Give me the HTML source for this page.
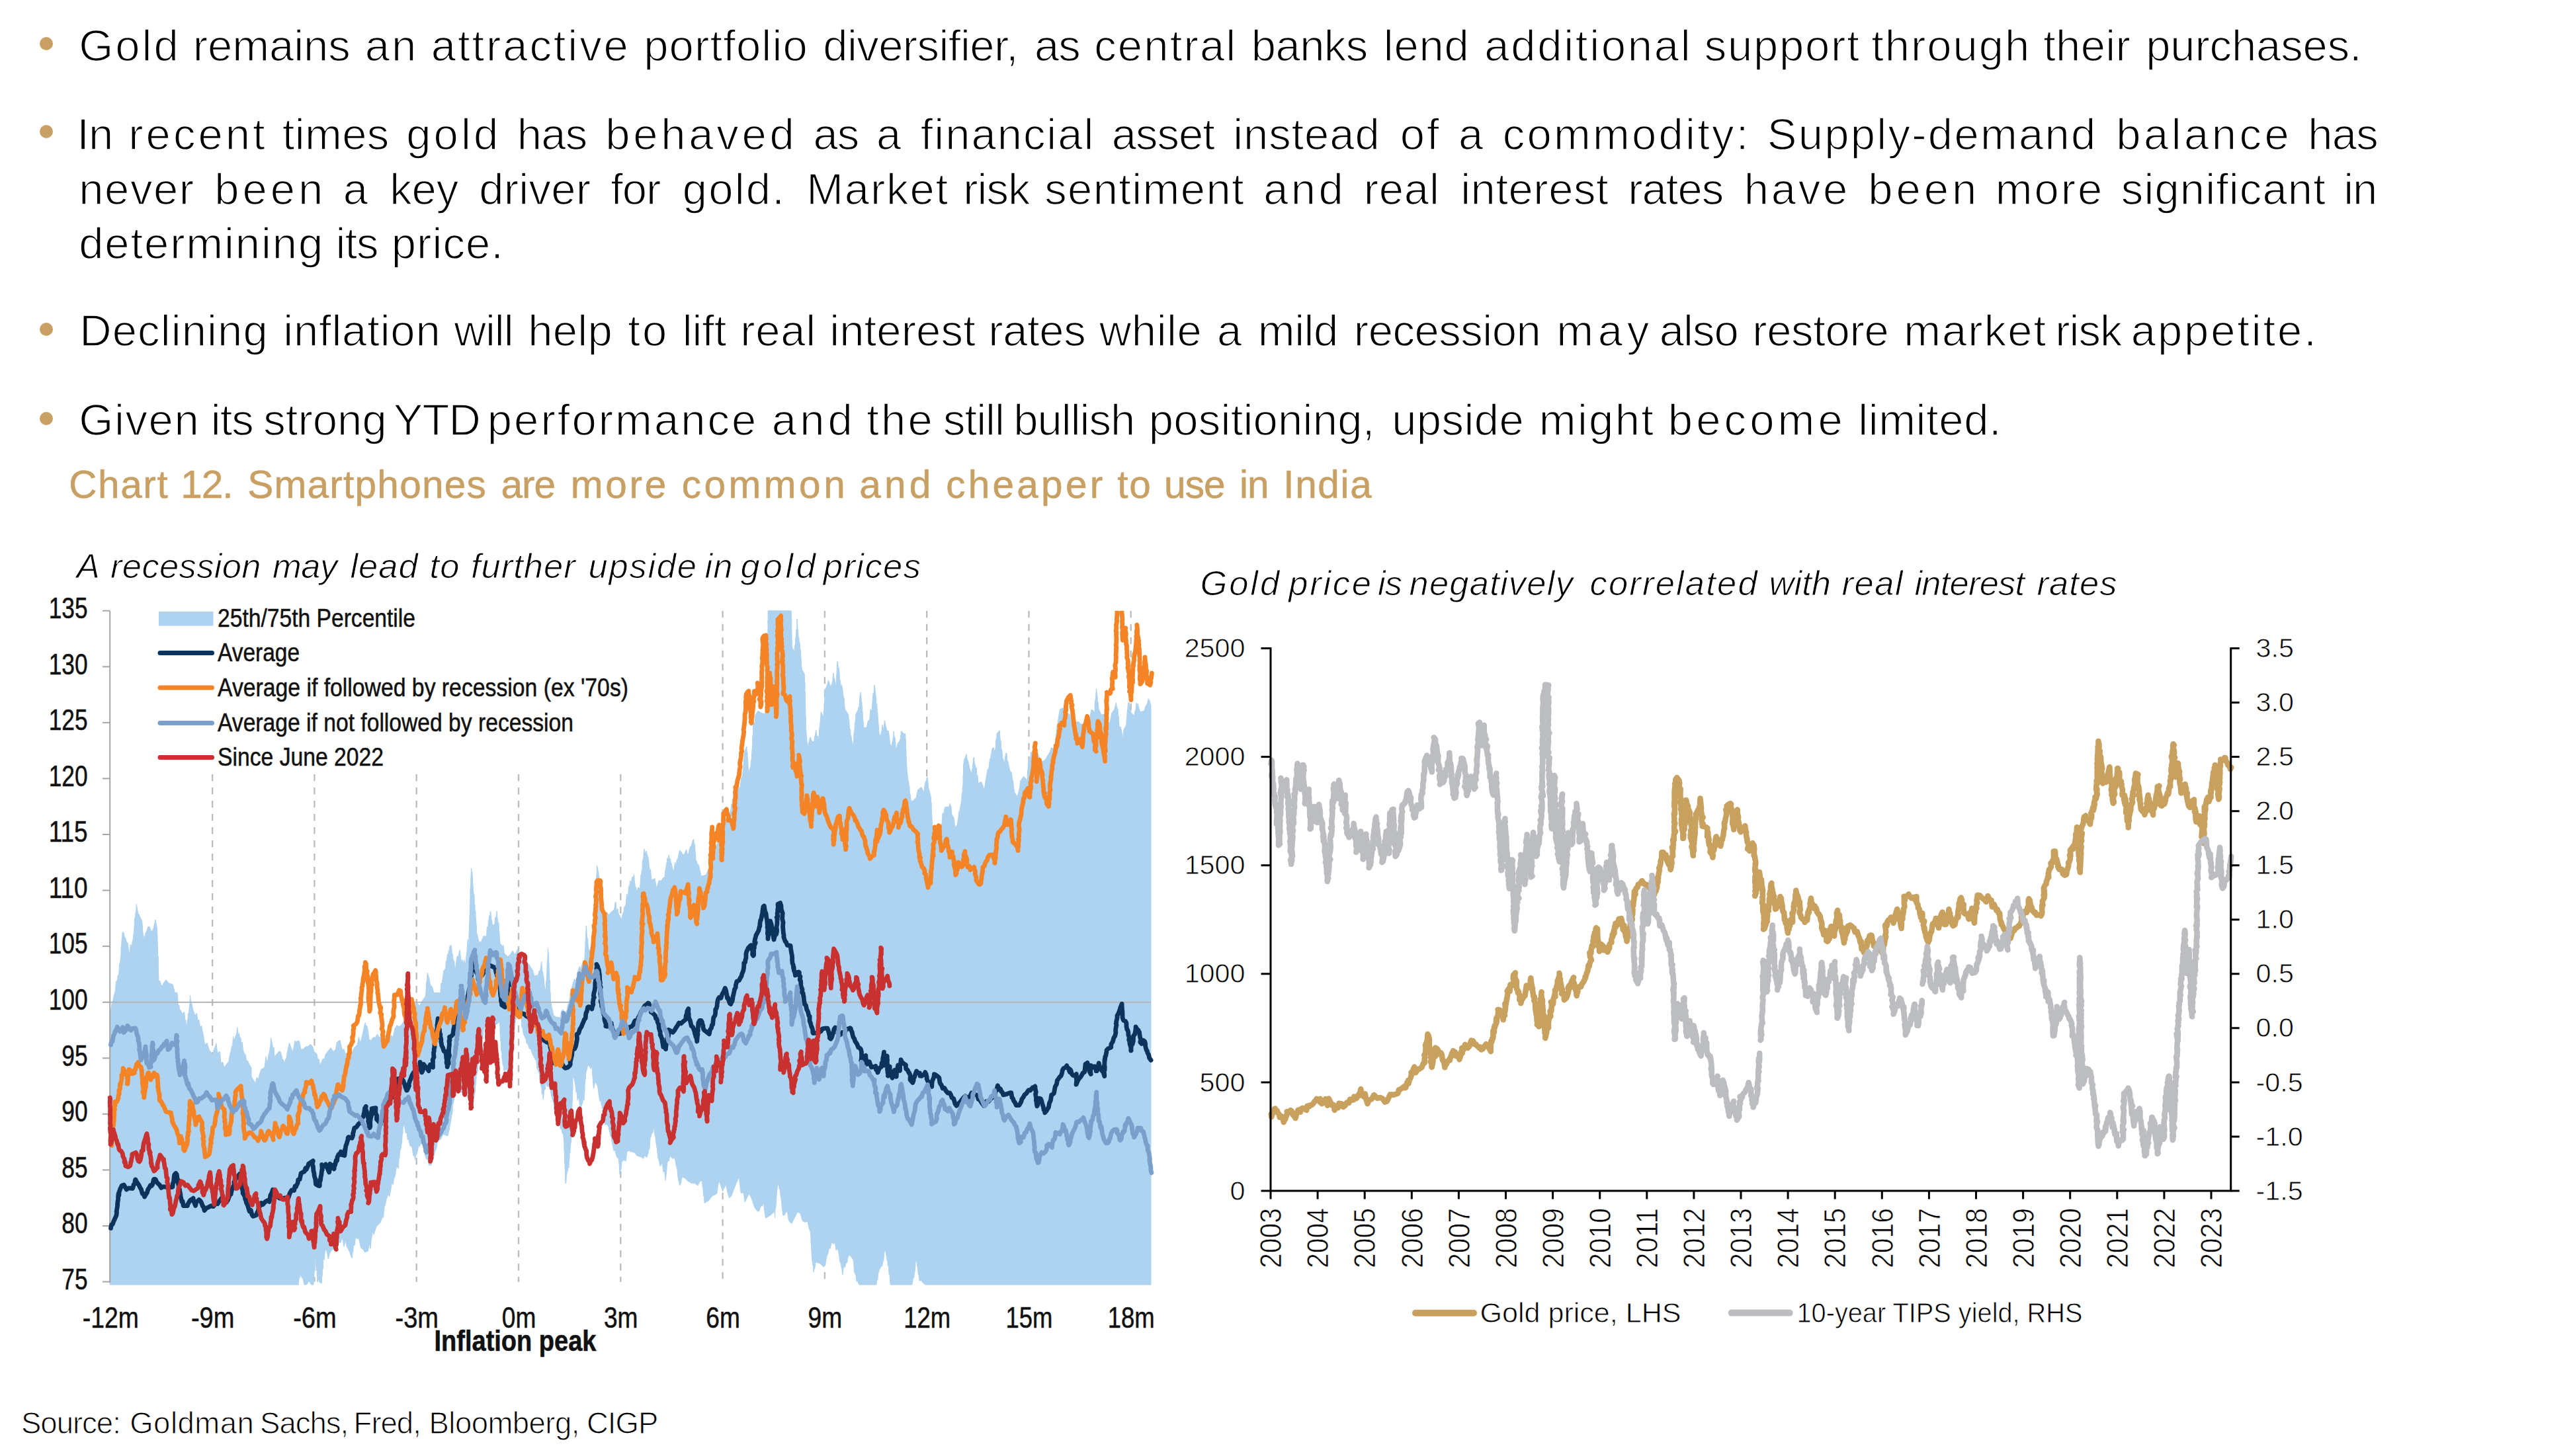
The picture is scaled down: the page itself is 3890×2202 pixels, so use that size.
<!DOCTYPE html>
<html><head><meta charset="utf-8"><title>Gold</title>
<style>
html,body{margin:0;padding:0;background:#fff;}
body{width:3890px;height:2202px;position:relative;overflow:hidden;font-family:"Liberation Sans",sans-serif;color:#000;}
.ln{position:absolute;white-space:nowrap;line-height:1;margin:0;padding:0;}
.L{position:absolute;left:0;width:3890px;height:1em;margin:0;padding:0;line-height:1;white-space:nowrap;}
.w{position:absolute;top:0;white-space:nowrap;line-height:1;}
.bul{position:absolute;width:20px;height:20px;border-radius:50%;background:#C9A063;}
svg{position:absolute;left:0;top:0;}
svg text{font-family:"Liberation Sans",sans-serif;}
</style></head><body>

<p class="L" style="top:34.5px;font-size:67px;color:#000;-webkit-text-stroke:1.5px #fff;"><span class="w" style="left:119.2px;letter-spacing:3.00px">Gold</span> <span class="w" style="left:291.8px;letter-spacing:-0.05px">remains</span> <span class="w" style="left:551.8px;letter-spacing:3.00px">an</span> <span class="w" style="left:651.8px;letter-spacing:2.91px">attractive</span> <span class="w" style="left:973.2px;letter-spacing:1.14px">portfolio</span> <span class="w" style="left:1244.2px;letter-spacing:-0.56px">diversifier,</span> <span class="w" style="left:1563.9px;letter-spacing:-1.00px">as</span> <span class="w" style="left:1654.2px;letter-spacing:2.15px">central</span> <span class="w" style="left:1891.8px;letter-spacing:-0.58px">banks</span> <span class="w" style="left:2091.8px;letter-spacing:0.77px">lend</span> <span class="w" style="left:2244.2px;letter-spacing:2.74px">additional</span> <span class="w" style="left:2576.8px;letter-spacing:1.75px">support</span> <span class="w" style="left:2829.2px;letter-spacing:1.96px">through</span> <span class="w" style="left:3089.2px;letter-spacing:0.30px">their</span> <span class="w" style="left:3244.2px;letter-spacing:-0.14px">purchases.</span></p>
<p class="L" style="top:169.3px;font-size:67px;color:#000;-webkit-text-stroke:1.5px #fff;"><span class="w" style="left:116.3px;letter-spacing:-1.00px">In</span> <span class="w" style="left:194.2px;letter-spacing:4.06px">recent</span> <span class="w" style="left:426.8px;letter-spacing:0.36px">times</span> <span class="w" style="left:614.2px;letter-spacing:4.10px">gold</span> <span class="w" style="left:781.8px;letter-spacing:-0.75px">has</span> <span class="w" style="left:915.2px;letter-spacing:4.74px">behaved</span> <span class="w" style="left:1229.4px;letter-spacing:-1.00px">as</span> <span class="w" style="left:1325.1px;letter-spacing:0.00px">a</span> <span class="w" style="left:1391.8px;letter-spacing:1.96px">financial</span> <span class="w" style="left:1680.7px;letter-spacing:-1.00px">asset</span> <span class="w" style="left:1864.2px;letter-spacing:0.91px">instead</span> <span class="w" style="left:2116.8px;letter-spacing:3.00px">of</span> <span class="w" style="left:2205.1px;letter-spacing:0.00px">a</span> <span class="w" style="left:2271.8px;letter-spacing:3.22px">commodity:</span> <span class="w" style="left:2671.8px;letter-spacing:2.27px">Supply-demand</span> <span class="w" style="left:3199.2px;letter-spacing:4.47px">balance</span> <span class="w" style="left:3489.2px;letter-spacing:-0.75px">has</span></p>
<p class="L" style="top:252.3px;font-size:67px;color:#000;-webkit-text-stroke:1.5px #fff;"><span class="w" style="left:119.2px;letter-spacing:1.59px">never</span> <span class="w" style="left:324.2px;letter-spacing:4.98px">been</span> <span class="w" style="left:518.8px;letter-spacing:0.00px">a</span> <span class="w" style="left:589.2px;letter-spacing:-0.12px">key</span> <span class="w" style="left:724.2px;letter-spacing:0.29px">driver</span> <span class="w" style="left:923.2px;letter-spacing:-1.00px">for</span> <span class="w" style="left:1031.8px;letter-spacing:2.17px">gold.</span> <span class="w" style="left:1219.2px;letter-spacing:1.85px">Market</span> <span class="w" style="left:1456.3px;letter-spacing:-1.00px">risk</span> <span class="w" style="left:1579.2px;letter-spacing:1.38px">sentiment</span> <span class="w" style="left:1910.2px;letter-spacing:4.34px">and</span> <span class="w" style="left:2061.8px;letter-spacing:0.75px">real</span> <span class="w" style="left:2208.2px;letter-spacing:0.54px">interest</span> <span class="w" style="left:2461.3px;letter-spacing:-1.00px">rates</span> <span class="w" style="left:2636.8px;letter-spacing:3.73px">have</span> <span class="w" style="left:2824.2px;letter-spacing:4.98px">been</span> <span class="w" style="left:3016.8px;letter-spacing:2.96px">more</span> <span class="w" style="left:3206.8px;letter-spacing:1.11px">significant</span> <span class="w" style="left:3543.2px;letter-spacing:-1.00px">in</span></p>
<p class="L" style="top:334.3px;font-size:67px;color:#000;-webkit-text-stroke:1.5px #fff;"><span class="w" style="left:119.2px;letter-spacing:1.89px">determining</span> <span class="w" style="left:507.5px;letter-spacing:-1.00px">its</span> <span class="w" style="left:591.8px;letter-spacing:1.04px">price.</span></p>
<p class="L" style="top:466.3px;font-size:67px;color:#000;-webkit-text-stroke:1.5px #fff;"><span class="w" style="left:120.2px;letter-spacing:1.11px">Declining</span> <span class="w" style="left:428.2px;letter-spacing:0.82px">inflation</span> <span class="w" style="left:686.5px;letter-spacing:-1.00px">will</span> <span class="w" style="left:798.2px;letter-spacing:0.27px">help</span> <span class="w" style="left:949.2px;letter-spacing:3.12px">to</span> <span class="w" style="left:1031.8px;letter-spacing:-0.17px">lift</span> <span class="w" style="left:1119.2px;letter-spacing:0.75px">real</span> <span class="w" style="left:1254.2px;letter-spacing:0.12px">interest</span> <span class="w" style="left:1494.2px;letter-spacing:-0.36px">rates</span> <span class="w" style="left:1661.9px;letter-spacing:0.55px">while</span> <span class="w" style="left:1840.1px;letter-spacing:0.00px">a</span> <span class="w" style="left:1901.8px;letter-spacing:-0.46px">mild</span> <span class="w" style="left:2046.8px;letter-spacing:-0.47px">recession</span> <span class="w" style="left:2353.2px;letter-spacing:6.72px">may</span> <span class="w" style="left:2508.8px;letter-spacing:-1.00px">also</span> <span class="w" style="left:2649.2px;letter-spacing:-0.33px">restore</span> <span class="w" style="left:2878.2px;letter-spacing:2.05px">market</span> <span class="w" style="left:3107.3px;letter-spacing:-1.00px">risk</span> <span class="w" style="left:3221.8px;letter-spacing:2.87px">appetite.</span></p>
<p class="L" style="top:600.9px;font-size:67px;color:#000;-webkit-text-stroke:1.5px #fff;"><span class="w" style="left:119.2px;letter-spacing:1.62px">Given</span> <span class="w" style="left:318.8px;letter-spacing:-1.00px">its</span> <span class="w" style="left:398.2px;letter-spacing:0.06px">strong</span> <span class="w" style="left:594.8px;letter-spacing:-1.00px">YTD</span> <span class="w" style="left:736.8px;letter-spacing:3.04px">performance</span> <span class="w" style="left:1166.8px;letter-spacing:5.09px">and</span> <span class="w" style="left:1310.2px;letter-spacing:3.19px">the</span> <span class="w" style="left:1426.1px;letter-spacing:-1.00px">still</span> <span class="w" style="left:1532.3px;letter-spacing:-1.00px">bullish</span> <span class="w" style="left:1736.8px;letter-spacing:0.23px">positioning,</span> <span class="w" style="left:2104.2px;letter-spacing:0.41px">upside</span> <span class="w" style="left:2326.8px;letter-spacing:2.30px">might</span> <span class="w" style="left:2521.8px;letter-spacing:5.12px">become</span> <span class="w" style="left:2809.2px;letter-spacing:0.61px">limited.</span></p>
<div class="bul" style="left:59.8px;top:55.5px"></div>
<div class="bul" style="left:59.8px;top:189.2px"></div>
<div class="bul" style="left:59.8px;top:488.4px"></div>
<div class="bul" style="left:59.8px;top:623.1px"></div>
<p class="L" style="top:703.8px;font-size:58.5px;color:#C9A063;-webkit-text-stroke:0.6px #C9A063;"><span class="w" style="left:104.3px;letter-spacing:1.58px">Chart</span> <span class="w" style="left:273.3px;letter-spacing:-1.00px">12.</span> <span class="w" style="left:374.3px;letter-spacing:1.25px">Smartphones</span> <span class="w" style="left:757.5px;letter-spacing:-1.00px">are</span> <span class="w" style="left:862.8px;letter-spacing:3.70px">more</span> <span class="w" style="left:1030.8px;letter-spacing:4.52px">common</span> <span class="w" style="left:1299.3px;letter-spacing:5.14px">and</span> <span class="w" style="left:1430.3px;letter-spacing:4.24px">cheaper</span> <span class="w" style="left:1689.3px;letter-spacing:1.59px">to</span> <span class="w" style="left:1760.1px;letter-spacing:-1.00px">use</span> <span class="w" style="left:1874.0px;letter-spacing:-1.00px">in</span> <span class="w" style="left:1940.3px;letter-spacing:1.63px">India</span></p>
<p class="L" style="top:830.1px;font-size:52.5px;color:#000;-webkit-text-stroke:1.0px #fff;font-style:italic;"><span class="w" style="left:115.8px;letter-spacing:0.00px">A</span> <span class="w" style="left:167.0px;letter-spacing:0.35px">recession</span> <span class="w" style="left:412.0px;letter-spacing:-0.44px">may</span> <span class="w" style="left:529.5px;letter-spacing:0.94px">lead</span> <span class="w" style="left:649.5px;letter-spacing:1.19px">to</span> <span class="w" style="left:712.0px;letter-spacing:0.99px">further</span> <span class="w" style="left:889.5px;letter-spacing:1.76px">upside</span> <span class="w" style="left:1065.5px;letter-spacing:1.12px">in</span> <span class="w" style="left:1119.5px;letter-spacing:4.77px">gold</span> <span class="w" style="left:1244.8px;letter-spacing:1.43px">prices</span></p>
<p class="L" style="top:855.9px;font-size:52.5px;color:#000;-webkit-text-stroke:1.0px #fff;font-style:italic;"><span class="w" style="left:1814.5px;letter-spacing:2.90px">Gold</span> <span class="w" style="left:1948.3px;letter-spacing:2.72px">price</span> <span class="w" style="left:2083.0px;letter-spacing:-1.00px">is</span> <span class="w" style="left:2130.5px;letter-spacing:1.22px">negatively</span> <span class="w" style="left:2403.5px;letter-spacing:2.18px">correlated</span> <span class="w" style="left:2674.5px;letter-spacing:0.04px">with</span> <span class="w" style="left:2784.5px;letter-spacing:1.58px">real</span> <span class="w" style="left:2894.5px;letter-spacing:-0.79px">interest</span> <span class="w" style="left:3079.5px;letter-spacing:1.08px">rates</span></p>
<p class="L" style="top:2130.3px;font-size:45.5px;color:#000;-webkit-text-stroke:1.0px #fff;"><span class="w" style="left:32.0px;letter-spacing:-1.00px">Source:</span> <span class="w" style="left:196.2px;letter-spacing:0.50px">Goldman</span> <span class="w" style="left:393.1px;letter-spacing:-1.00px">Sachs,</span> <span class="w" style="left:534.6px;letter-spacing:-1.00px">Fred,</span> <span class="w" style="left:648.5px;letter-spacing:-0.54px">Bloomberg,</span> <span class="w" style="left:887.0px;letter-spacing:-1.00px">CIGP</span></p>
<svg width="3890" height="2202" viewBox="0 0 3890 2202">
<line x1="321.1" y1="1171.0" x2="321.1" y2="1938.7" stroke="#bcbcbc" stroke-width="2.3" stroke-dasharray="10.5 9.5"/>
<line x1="475.4" y1="1171.0" x2="475.4" y2="1938.7" stroke="#bcbcbc" stroke-width="2.3" stroke-dasharray="10.5 9.5"/>
<line x1="629.7" y1="1171.0" x2="629.7" y2="1938.7" stroke="#bcbcbc" stroke-width="2.3" stroke-dasharray="10.5 9.5"/>
<line x1="784.0" y1="1171.0" x2="784.0" y2="1938.7" stroke="#bcbcbc" stroke-width="2.3" stroke-dasharray="10.5 9.5"/>
<line x1="938.3" y1="1171.0" x2="938.3" y2="1938.7" stroke="#bcbcbc" stroke-width="2.3" stroke-dasharray="10.5 9.5"/>
<line x1="1092.6" y1="923.7" x2="1092.6" y2="1938.7" stroke="#bcbcbc" stroke-width="2.3" stroke-dasharray="10.5 9.5"/>
<line x1="1246.9" y1="923.7" x2="1246.9" y2="1938.7" stroke="#bcbcbc" stroke-width="2.3" stroke-dasharray="10.5 9.5"/>
<line x1="1401.2" y1="923.7" x2="1401.2" y2="1938.7" stroke="#bcbcbc" stroke-width="2.3" stroke-dasharray="10.5 9.5"/>
<line x1="1555.5" y1="923.7" x2="1555.5" y2="1938.7" stroke="#bcbcbc" stroke-width="2.3" stroke-dasharray="10.5 9.5"/>
<line x1="1709.7" y1="923.7" x2="1709.7" y2="1938.7" stroke="#bcbcbc" stroke-width="2.3" stroke-dasharray="10.5 9.5"/>
<path d="M166.2,1529.0 L166.2,1529.0 L167.5,1528.3 L168.5,1520.9 L169.5,1516.8 L170.5,1514.5 L171.5,1509.4 L172.5,1504.6 L173.5,1502.5 L174.5,1496.7 L175.5,1484.4 L176.5,1484.4 L177.5,1481.3 L178.1,1475.2 L178.8,1474.8 L179.4,1475.3 L180.0,1469.4 L180.6,1458.6 L181.2,1456.8 L181.9,1453.9 L182.5,1445.7 L182.8,1449.3 L183.0,1441.9 L183.2,1431.8 L183.5,1437.6 L183.8,1427.9 L184.0,1422.1 L184.2,1420.8 L184.5,1419.9 L184.8,1416.3 L185.0,1410.3 L186.7,1409.5 L188.3,1416.9 L190.0,1419.6 L191.6,1426.5 L193.1,1425.6 L194.6,1438.0 L196.2,1443.5 L197.2,1428.2 L198.2,1429.9 L199.2,1431.4 L200.2,1424.1 L201.2,1420.5 L201.6,1417.0 L202.0,1412.6 L202.4,1411.0 L202.9,1404.2 L203.3,1395.9 L203.7,1387.7 L204.1,1393.4 L204.5,1391.3 L204.9,1381.0 L205.4,1379.6 L205.8,1377.2 L206.2,1367.5 L207.5,1374.1 L208.7,1382.3 L210.0,1382.4 L211.9,1387.3 L213.8,1390.5 L214.4,1392.5 L215.0,1396.2 L215.7,1407.5 L216.3,1412.8 L216.9,1414.9 L217.5,1421.0 L219.1,1415.3 L220.7,1409.6 L222.2,1406.9 L223.8,1401.3 L226.3,1402.0 L228.8,1409.7 L231.9,1404.7 L235.0,1391.2 L237.5,1404.9 L237.6,1408.8 L237.8,1414.3 L237.9,1414.2 L238.0,1421.2 L238.1,1423.7 L238.2,1427.8 L238.4,1430.3 L238.5,1431.9 L238.6,1443.3 L238.8,1449.2 L238.9,1446.8 L239.0,1454.2 L239.1,1446.6 L239.2,1454.9 L239.4,1458.8 L239.5,1472.2 L239.6,1472.7 L239.8,1476.5 L239.9,1485.4 L240.0,1483.0 L241.9,1483.7 L243.8,1490.6 L245.7,1490.2 L247.5,1486.2 L251.2,1481.8 L255.0,1486.8 L261.2,1488.9 L264.4,1501.6 L267.5,1500.7 L268.3,1504.2 L269.2,1517.9 L270.0,1522.0 L270.8,1520.0 L271.7,1529.8 L272.5,1526.9 L275.6,1532.9 L278.8,1530.4 L279.7,1543.6 L280.6,1542.1 L281.6,1550.7 L282.5,1551.9 L283.0,1546.3 L283.5,1541.6 L284.0,1541.6 L284.5,1532.4 L285.0,1533.2 L285.5,1530.6 L286.0,1525.4 L286.5,1523.1 L287.0,1516.3 L287.5,1505.2 L288.5,1516.7 L289.5,1517.0 L290.5,1520.9 L291.5,1525.8 L292.5,1529.2 L295.0,1536.3 L297.5,1532.1 L299.1,1544.0 L300.6,1541.9 L302.2,1550.5 L303.8,1554.3 L304.7,1551.3 L305.6,1557.1 L306.5,1561.3 L307.3,1564.5 L308.2,1570.7 L309.1,1576.3 L310.0,1580.1 L313.1,1577.2 L316.2,1588.0 L318.1,1589.7 L320.0,1594.9 L321.7,1594.1 L323.3,1587.6 L325.0,1583.8 L326.9,1578.0 L328.8,1593.6 L330.6,1591.1 L332.5,1590.3 L334.1,1608.7 L335.6,1606.4 L337.2,1607.3 L338.8,1614.7 L345.0,1606.2 L346.1,1605.1 L347.1,1597.2 L348.2,1592.4 L349.3,1589.7 L350.4,1582.1 L351.4,1584.8 L352.5,1567.4 L353.8,1574.2 L355.0,1570.0 L356.3,1566.3 L357.5,1564.1 L358.8,1554.0 L360.0,1566.8 L361.3,1562.2 L362.5,1569.1 L363.8,1569.1 L365.0,1580.1 L366.2,1576.0 L367.5,1588.3 L368.8,1591.8 L370.0,1594.1 L371.2,1594.7 L372.5,1603.3 L375.0,1605.2 L377.5,1611.2 L380.0,1614.7 L380.0,1621.4 L380.0,1620.4 L380.0,1628.0 L383.1,1633.3 L386.2,1638.1 L388.3,1628.9 L390.4,1632.9 L392.5,1624.3 L395.0,1617.1 L397.5,1616.2 L400.0,1614.1 L402.1,1598.1 L404.1,1608.7 L406.2,1594.2 L406.7,1596.5 L407.3,1591.0 L407.8,1588.6 L408.4,1583.9 L408.9,1581.0 L409.5,1569.5 L410.0,1571.6 L411.0,1576.7 L412.0,1580.2 L413.0,1589.9 L414.0,1584.2 L415.0,1598.1 L422.5,1589.6 L424.0,1590.5 L425.5,1595.2 L427.0,1602.5 L428.5,1602.6 L430.0,1608.4 L431.5,1602.2 L433.0,1599.9 L434.5,1590.8 L436.0,1583.4 L437.5,1577.0 L442.5,1591.0 L444.2,1583.8 L445.8,1574.0 L447.5,1575.8 L450.0,1574.2 L452.5,1574.3 L455.0,1587.3 L458.8,1586.3 L462.5,1582.8 L465.8,1582.8 L469.2,1579.1 L472.5,1582.4 L474.2,1588.1 L475.8,1593.9 L477.5,1592.2 L479.1,1594.6 L480.6,1602.8 L482.2,1601.6 L483.8,1611.4 L486.0,1606.7 L488.1,1601.3 L490.3,1601.5 L492.5,1594.1 L500.0,1584.5 L503.8,1590.4 L507.5,1587.2 L509.2,1576.7 L510.8,1575.4 L512.5,1573.6 L514.2,1573.5 L515.8,1581.3 L517.5,1587.5 L520.0,1586.8 L522.5,1593.9 L530.0,1593.6 L532.5,1590.9 L535.0,1585.6 L537.5,1582.4 L540.0,1580.4 L542.5,1568.2 L543.9,1573.6 L545.3,1577.2 L546.7,1569.7 L548.1,1564.8 L549.6,1557.2 L551.0,1550.2 L552.4,1546.7 L553.8,1553.9 L554.7,1550.9 L555.6,1555.2 L556.5,1560.3 L557.3,1566.1 L558.2,1574.1 L559.1,1572.3 L560.0,1575.0 L562.5,1570.9 L565.0,1568.6 L567.5,1569.6 L570.0,1564.0 L573.8,1568.7 L577.5,1568.8 L581.2,1573.6 L585.0,1579.5 L588.0,1571.3 L591.0,1565.3 L594.0,1568.8 L597.0,1555.2 L600.0,1550.8 L603.3,1552.4 L606.7,1550.4 L610.0,1545.2 L613.1,1540.8 L616.2,1543.8 L619.4,1538.8 L622.5,1537.1 L624.0,1537.5 L625.5,1527.1 L627.0,1520.5 L628.5,1517.3 L630.0,1515.8 L634.2,1521.3 L638.3,1514.0 L642.5,1507.5 L642.9,1510.3 L643.2,1506.9 L643.6,1502.5 L644.0,1499.7 L644.4,1489.7 L644.7,1484.9 L645.1,1486.4 L645.5,1482.2 L645.8,1476.8 L646.2,1471.1 L647.5,1475.8 L648.7,1478.4 L650.0,1487.2 L651.2,1491.2 L652.8,1490.8 L654.4,1496.0 L655.9,1501.4 L657.5,1501.6 L665.0,1501.5 L665.8,1502.4 L666.7,1487.0 L667.5,1488.5 L668.3,1486.1 L669.2,1479.9 L670.0,1474.5 L670.8,1467.6 L671.7,1469.3 L672.5,1465.5 L673.5,1467.7 L674.4,1453.3 L675.4,1453.4 L676.4,1443.2 L677.3,1444.0 L678.3,1438.3 L679.3,1436.4 L680.2,1430.4 L681.2,1430.2 L681.9,1429.4 L682.6,1432.2 L683.3,1441.6 L684.0,1441.8 L684.7,1448.0 L685.4,1451.6 L686.1,1457.0 L686.8,1452.9 L687.5,1464.9 L688.8,1462.9 L690.0,1453.5 L691.2,1446.0 L692.5,1447.3 L693.8,1442.6 L695.0,1436.7 L696.5,1448.8 L698.0,1455.3 L699.5,1451.1 L701.0,1458.6 L702.5,1451.6 L703.3,1457.4 L704.1,1459.5 L704.9,1446.8 L705.6,1442.8 L706.4,1432.8 L707.2,1420.7 L708.0,1427.1 L708.8,1431.5 L708.9,1419.1 L709.1,1413.0 L709.2,1414.2 L709.3,1408.2 L709.5,1407.1 L709.6,1399.4 L709.7,1395.3 L709.9,1397.0 L710.0,1384.5 L710.1,1385.0 L710.3,1385.4 L710.4,1378.9 L710.5,1371.2 L710.6,1371.2 L710.8,1362.7 L710.9,1360.0 L711.0,1354.4 L711.2,1344.2 L711.3,1350.0 L711.4,1342.4 L711.6,1345.2 L711.7,1338.2 L711.8,1331.7 L712.0,1325.1 L712.1,1323.3 L712.2,1323.5 L712.4,1313.2 L712.5,1313.2 L712.9,1317.2 L713.2,1318.5 L713.6,1318.1 L714.0,1322.1 L714.4,1329.6 L714.7,1338.5 L715.1,1338.1 L715.5,1349.0 L715.8,1348.8 L716.2,1352.4 L716.5,1364.4 L716.9,1352.9 L717.2,1365.5 L717.5,1370.5 L717.9,1368.6 L718.2,1380.1 L718.5,1377.1 L718.9,1378.1 L719.2,1387.5 L719.5,1390.7 L719.9,1396.0 L720.2,1399.2 L720.5,1408.3 L720.9,1415.8 L721.2,1412.5 L724.4,1425.6 L727.5,1423.9 L731.2,1415.5 L735.0,1416.4 L735.7,1413.4 L736.4,1401.6 L737.1,1404.7 L737.8,1401.4 L738.4,1394.9 L739.1,1390.1 L739.8,1384.5 L740.5,1389.2 L741.2,1378.4 L742.0,1380.4 L742.9,1390.6 L743.7,1393.3 L744.5,1400.4 L745.4,1397.9 L746.2,1404.2 L747.0,1397.8 L747.9,1397.8 L748.7,1387.3 L749.5,1388.0 L750.4,1385.9 L751.2,1377.8 L751.7,1387.7 L752.1,1388.7 L752.6,1399.4 L753.0,1399.5 L753.5,1402.3 L753.9,1394.7 L754.4,1409.4 L754.8,1409.4 L755.3,1416.1 L755.7,1422.9 L756.2,1428.0 L757.8,1428.3 L759.4,1431.9 L760.9,1429.3 L762.5,1441.6 L767.5,1447.0 L771.2,1443.8 L775.0,1437.9 L778.8,1444.1 L782.5,1435.4 L787.5,1448.2 L792.5,1445.7 L795.0,1453.3 L797.5,1455.8 L800.0,1458.7 L802.5,1463.4 L805.0,1466.6 L808.1,1476.6 L811.2,1474.5 L813.1,1476.2 L815.0,1468.6 L816.9,1467.1 L818.8,1454.1 L819.5,1466.8 L820.2,1468.9 L820.9,1472.5 L821.6,1475.6 L822.2,1480.2 L822.9,1488.7 L823.6,1493.0 L824.3,1496.1 L825.0,1499.7 L825.3,1495.0 L825.5,1484.6 L825.8,1487.1 L826.0,1482.6 L826.3,1480.8 L826.5,1476.1 L826.8,1469.8 L827.0,1464.6 L827.3,1455.5 L827.5,1457.2 L827.8,1453.1 L828.0,1448.4 L828.3,1435.7 L828.5,1434.3 L828.8,1445.8 L829.0,1441.0 L829.2,1443.6 L829.4,1440.9 L829.6,1454.1 L829.8,1454.8 L830.0,1459.3 L830.2,1463.3 L830.4,1469.0 L830.6,1475.9 L830.7,1477.2 L830.9,1481.9 L831.1,1492.4 L831.3,1482.8 L831.5,1499.0 L831.7,1500.5 L831.9,1499.3 L832.1,1502.7 L832.3,1506.4 L832.5,1520.7 L833.1,1516.4 L833.8,1521.4 L835.3,1527.5 L836.9,1536.1 L838.5,1536.0 L840.0,1537.9 L847.5,1539.1 L848.7,1528.8 L850.0,1528.8 L851.2,1526.7 L853.1,1530.7 L855.0,1531.5 L856.0,1529.4 L857.0,1527.9 L858.0,1521.4 L859.0,1518.1 L860.0,1516.0 L860.8,1514.4 L861.7,1504.4 L862.5,1498.7 L863.3,1503.5 L864.2,1495.2 L865.0,1491.8 L868.1,1480.8 L871.2,1483.1 L872.5,1477.4 L873.7,1471.3 L875.0,1465.0 L876.2,1461.3 L877.5,1466.6 L880.6,1456.4 L883.8,1452.9 L884.0,1449.4 L884.2,1443.2 L884.5,1437.8 L884.7,1438.8 L884.9,1429.7 L885.1,1423.6 L885.3,1424.0 L885.5,1419.2 L885.8,1407.2 L886.0,1408.6 L886.2,1400.1 L886.7,1404.5 L887.2,1414.4 L887.6,1418.1 L888.1,1426.5 L888.6,1419.5 L889.0,1427.6 L889.5,1433.4 L890.0,1434.9 L891.7,1439.8 L893.3,1430.1 L895.0,1426.1 L895.4,1424.9 L895.8,1409.8 L896.3,1410.9 L896.7,1407.7 L897.1,1413.3 L897.5,1397.6 L898.0,1389.0 L898.4,1394.4 L898.8,1382.5 L899.0,1387.0 L899.2,1379.4 L899.4,1381.2 L899.6,1375.9 L899.8,1368.8 L900.0,1369.0 L900.2,1361.4 L900.4,1355.8 L900.6,1346.9 L900.9,1341.9 L901.1,1345.0 L901.3,1343.9 L901.5,1328.2 L901.7,1333.5 L901.9,1322.2 L902.1,1323.8 L902.3,1318.8 L902.5,1308.8 L903.7,1314.1 L905.0,1321.9 L906.2,1329.9 L906.6,1330.6 L907.0,1340.3 L907.3,1341.4 L907.7,1350.4 L908.1,1351.3 L908.5,1352.1 L908.9,1353.1 L909.2,1361.7 L909.6,1367.3 L910.0,1373.5 L911.5,1372.4 L913.0,1375.8 L914.5,1379.1 L916.0,1385.0 L917.5,1379.4 L920.6,1384.1 L923.8,1379.3 L925.3,1379.0 L926.9,1376.9 L928.5,1376.1 L930.0,1366.4 L931.0,1364.1 L932.0,1375.2 L933.0,1379.0 L934.0,1374.2 L935.0,1381.6 L940.0,1391.0 L941.0,1384.1 L942.0,1380.5 L943.0,1379.6 L944.0,1370.6 L945.0,1374.0 L945.9,1368.8 L946.9,1359.7 L947.8,1351.8 L948.8,1355.3 L949.7,1354.3 L950.6,1339.7 L951.6,1343.9 L952.5,1331.9 L954.2,1335.1 L955.8,1326.5 L957.5,1326.8 L958.5,1322.0 L959.5,1334.7 L960.5,1340.6 L961.5,1341.7 L962.5,1348.5 L965.0,1341.9 L967.5,1344.4 L968.0,1337.0 L968.5,1330.3 L969.0,1323.2 L969.4,1327.6 L969.9,1320.3 L970.4,1315.4 L970.9,1314.4 L971.4,1302.8 L971.9,1299.8 L972.3,1302.3 L972.8,1297.8 L973.3,1288.5 L973.8,1283.9 L975.3,1291.4 L976.9,1286.9 L978.5,1292.4 L980.0,1297.3 L980.8,1303.1 L981.7,1315.2 L982.5,1317.4 L983.3,1314.4 L984.2,1322.5 L985.0,1330.8 L987.5,1329.8 L990.0,1328.5 L992.5,1343.7 L996.2,1331.8 L1000.0,1332.1 L1002.5,1327.5 L1005.0,1326.7 L1005.8,1315.9 L1006.5,1316.1 L1007.3,1307.9 L1008.1,1304.9 L1008.9,1297.4 L1009.7,1301.7 L1010.4,1298.2 L1011.2,1292.7 L1012.2,1300.2 L1013.3,1298.3 L1014.4,1305.0 L1015.4,1306.0 L1016.5,1312.4 L1017.5,1316.2 L1019.0,1315.7 L1020.5,1304.4 L1022.0,1308.2 L1023.5,1299.5 L1025.0,1298.4 L1027.5,1286.0 L1030.0,1288.2 L1032.5,1292.9 L1035.0,1291.3 L1037.5,1284.8 L1040.0,1294.6 L1041.3,1289.5 L1042.5,1283.3 L1043.8,1280.0 L1045.0,1280.2 L1046.3,1275.4 L1047.5,1270.5 L1048.8,1269.1 L1049.3,1274.7 L1049.7,1277.4 L1050.2,1276.8 L1050.7,1281.0 L1051.1,1290.7 L1051.6,1289.3 L1052.0,1302.2 L1052.5,1301.0 L1054.4,1306.5 L1056.2,1308.0 L1058.1,1315.8 L1060.0,1325.0 L1067.5,1323.2 L1071.2,1314.2 L1075.0,1320.4 L1075.6,1306.0 L1076.3,1299.2 L1076.9,1295.0 L1077.5,1302.4 L1078.2,1292.1 L1078.8,1291.7 L1080.3,1284.3 L1081.9,1283.4 L1083.4,1277.8 L1085.0,1274.3 L1086.5,1270.4 L1088.0,1264.7 L1089.6,1262.9 L1091.1,1259.8 L1092.7,1249.3 L1094.2,1253.9 L1095.8,1247.2 L1097.3,1240.0 L1098.8,1240.9 L1100.4,1228.9 L1101.9,1241.2 L1103.5,1228.5 L1105.0,1224.4 L1105.6,1216.2 L1106.2,1222.9 L1106.9,1216.0 L1107.5,1208.0 L1108.1,1208.6 L1108.7,1203.1 L1109.3,1194.4 L1110.0,1189.9 L1110.6,1188.9 L1111.2,1184.6 L1114.3,1182.4 L1117.5,1192.7 L1119.2,1189.4 L1120.8,1175.4 L1122.5,1176.4 L1122.9,1167.9 L1123.3,1167.6 L1123.7,1162.6 L1124.1,1156.1 L1124.6,1149.0 L1125.0,1147.4 L1125.4,1142.5 L1125.8,1137.2 L1126.2,1135.3 L1128.8,1129.1 L1129.2,1135.1 L1129.5,1141.9 L1129.9,1137.6 L1130.3,1146.7 L1130.7,1148.2 L1131.0,1157.0 L1131.4,1165.7 L1131.8,1169.9 L1132.1,1164.4 L1132.5,1176.5 L1133.1,1171.3 L1133.7,1162.4 L1134.3,1160.6 L1135.0,1158.6 L1135.6,1149.7 L1136.2,1149.5 L1136.4,1146.7 L1136.6,1139.8 L1136.8,1138.0 L1137.1,1133.5 L1137.3,1135.5 L1137.5,1128.7 L1137.7,1121.3 L1137.9,1114.1 L1138.2,1110.3 L1138.4,1110.2 L1138.6,1097.5 L1138.8,1098.5 L1139.5,1092.0 L1140.3,1094.0 L1141.0,1097.0 L1141.8,1083.5 L1142.5,1080.5 L1146.2,1074.9 L1150.0,1077.7 L1155.0,1079.8 L1160.0,1075.1 L1160.0,1074.4 L1160.1,1069.0 L1160.1,1067.9 L1160.1,1062.8 L1160.2,1052.4 L1160.2,1055.0 L1160.2,1044.9 L1160.3,1041.8 L1160.3,1042.5 L1160.3,1028.7 L1160.3,1035.2 L1160.4,1026.1 L1160.4,1021.2 L1160.4,1022.2 L1160.5,1018.7 L1160.5,1006.6 L1160.5,1004.3 L1160.6,1003.0 L1160.6,1001.2 L1160.6,988.3 L1160.7,992.7 L1160.7,980.5 L1160.7,981.8 L1160.8,973.9 L1160.8,967.9 L1160.8,972.2 L1160.9,964.9 L1160.9,968.5 L1160.9,957.9 L1160.9,951.7 L1161.0,951.5 L1161.0,952.8 L1161.0,939.2 L1161.1,942.3 L1161.1,932.5 L1161.1,927.4 L1161.2,924.2 L1161.2,923.7 L1165.6,923.7 L1170.0,923.7 L1174.3,923.7 L1178.7,923.7 L1183.1,923.7 L1187.5,923.7 L1191.8,923.7 L1196.2,923.7 L1196.3,929.4 L1196.4,936.4 L1196.5,939.2 L1196.6,942.4 L1196.7,945.1 L1196.8,948.4 L1196.8,955.8 L1196.9,955.0 L1197.0,959.4 L1197.1,965.4 L1197.2,972.0 L1197.3,971.0 L1197.4,977.1 L1197.5,978.9 L1201.2,985.5 L1201.5,975.2 L1201.9,980.3 L1202.2,977.3 L1202.6,971.7 L1202.9,964.5 L1203.3,965.2 L1203.6,958.2 L1204.0,952.7 L1204.3,956.7 L1204.7,951.1 L1205.0,935.7 L1205.5,943.8 L1206.0,951.9 L1206.4,953.3 L1206.9,961.0 L1207.4,967.6 L1207.8,964.4 L1208.3,972.2 L1208.8,972.1 L1209.3,973.8 L1209.7,986.9 L1210.2,982.3 L1210.7,992.4 L1211.1,996.2 L1211.6,1005.7 L1212.0,1009.9 L1212.5,1012.7 L1216.2,1019.4 L1216.3,1021.1 L1216.4,1023.4 L1216.6,1031.6 L1216.7,1041.9 L1216.8,1032.5 L1216.9,1045.0 L1217.0,1050.7 L1217.1,1046.1 L1217.3,1055.3 L1217.4,1054.8 L1217.5,1061.1 L1217.6,1067.8 L1217.7,1066.4 L1217.9,1080.4 L1218.0,1082.5 L1218.1,1085.3 L1218.2,1084.4 L1218.3,1094.7 L1218.4,1102.1 L1218.6,1105.7 L1218.7,1106.0 L1218.8,1105.4 L1219.3,1111.9 L1219.8,1117.8 L1220.2,1127.6 L1220.7,1123.4 L1221.2,1129.2 L1223.1,1121.8 L1225.0,1114.6 L1227.5,1121.2 L1230.0,1122.0 L1230.8,1121.2 L1231.5,1113.3 L1232.3,1116.4 L1233.0,1107.7 L1233.8,1104.2 L1235.0,1115.4 L1236.3,1112.8 L1237.5,1120.7 L1237.9,1113.3 L1238.3,1114.0 L1238.7,1103.9 L1239.1,1099.0 L1239.6,1100.4 L1240.0,1091.4 L1240.4,1089.7 L1240.8,1083.7 L1241.2,1076.6 L1245.0,1085.0 L1245.2,1078.8 L1245.5,1074.8 L1245.7,1078.8 L1245.9,1070.2 L1246.1,1068.0 L1246.4,1060.6 L1246.6,1057.8 L1246.8,1056.1 L1247.0,1041.8 L1247.3,1049.1 L1247.5,1044.0 L1250.0,1037.7 L1252.5,1028.8 L1254.3,1034.6 L1256.2,1039.8 L1257.0,1035.5 L1257.7,1033.5 L1258.5,1034.5 L1259.2,1024.3 L1260.0,1017.8 L1260.8,1024.5 L1261.5,1026.0 L1262.3,1030.4 L1263.0,1031.9 L1263.8,1040.5 L1264.0,1036.2 L1264.3,1033.8 L1264.5,1029.1 L1264.8,1020.2 L1265.0,1023.6 L1265.2,1013.9 L1265.5,1004.7 L1265.7,1010.4 L1266.0,1000.4 L1266.2,1005.1 L1266.7,1001.1 L1267.3,1011.7 L1267.8,1016.7 L1268.4,1009.9 L1268.9,1015.2 L1269.5,1027.1 L1270.0,1027.9 L1271.3,1037.8 L1272.5,1035.9 L1273.8,1042.2 L1274.3,1048.3 L1274.7,1050.9 L1275.2,1053.5 L1275.7,1056.8 L1276.1,1056.0 L1276.6,1066.3 L1277.0,1068.8 L1277.5,1072.5 L1280.0,1076.7 L1282.5,1080.7 L1283.1,1086.4 L1283.8,1090.4 L1284.4,1100.4 L1285.0,1103.2 L1285.6,1103.2 L1286.2,1112.6 L1286.9,1112.7 L1287.5,1118.8 L1290.0,1128.4 L1290.3,1123.4 L1290.7,1119.1 L1291.0,1108.7 L1291.4,1106.5 L1291.7,1109.8 L1292.1,1101.5 L1292.4,1093.8 L1292.8,1094.7 L1293.1,1092.3 L1293.5,1087.2 L1293.8,1080.2 L1297.5,1073.0 L1298.0,1069.3 L1298.6,1076.5 L1299.1,1067.9 L1299.6,1058.9 L1300.1,1050.8 L1300.7,1050.6 L1301.2,1047.1 L1301.5,1050.8 L1301.8,1051.9 L1302.2,1060.1 L1302.5,1065.9 L1302.8,1061.3 L1303.1,1066.2 L1303.4,1068.4 L1303.7,1074.4 L1304.0,1077.1 L1304.4,1085.7 L1304.7,1090.6 L1305.0,1090.4 L1305.8,1099.3 L1306.7,1101.7 L1307.5,1100.6 L1309.2,1100.4 L1310.8,1098.6 L1312.5,1089.6 L1313.8,1091.0 L1315.0,1085.8 L1316.2,1072.7 L1317.5,1075.0 L1318.0,1073.6 L1318.5,1070.3 L1319.0,1061.8 L1319.5,1056.8 L1320.0,1048.6 L1320.5,1049.4 L1321.0,1049.3 L1321.5,1041.7 L1322.0,1035.9 L1322.5,1039.0 L1323.0,1043.3 L1323.6,1050.2 L1324.1,1051.8 L1324.6,1063.0 L1325.2,1070.6 L1325.7,1064.3 L1326.2,1074.5 L1326.5,1079.4 L1326.9,1077.9 L1327.2,1084.6 L1327.6,1091.6 L1327.9,1094.0 L1328.3,1097.2 L1328.6,1105.4 L1329.0,1106.2 L1329.3,1111.2 L1329.7,1112.4 L1330.0,1110.4 L1330.8,1113.6 L1331.5,1114.4 L1332.3,1107.7 L1333.0,1106.1 L1333.8,1096.5 L1335.7,1103.9 L1337.5,1089.2 L1339.2,1098.3 L1340.8,1105.0 L1342.5,1105.1 L1343.3,1105.7 L1344.2,1112.2 L1345.0,1118.8 L1345.8,1128.4 L1346.7,1125.6 L1347.5,1130.9 L1348.2,1129.4 L1349.0,1121.8 L1349.7,1120.3 L1350.5,1113.6 L1351.2,1105.9 L1352.0,1114.2 L1352.7,1114.9 L1353.5,1118.8 L1354.2,1128.4 L1355.0,1134.4 L1357.5,1123.4 L1360.0,1121.1 L1361.3,1117.5 L1362.5,1105.6 L1363.8,1106.8 L1366.3,1109.8 L1368.8,1109.6 L1369.0,1123.4 L1369.2,1117.9 L1369.4,1119.3 L1369.5,1128.9 L1369.7,1136.2 L1369.9,1134.3 L1370.1,1147.4 L1370.3,1145.4 L1370.5,1151.0 L1370.6,1154.6 L1370.8,1156.4 L1371.0,1160.3 L1371.2,1164.3 L1371.8,1170.1 L1372.5,1178.3 L1373.2,1180.2 L1373.8,1185.2 L1374.3,1187.7 L1374.9,1188.3 L1375.4,1199.9 L1375.9,1201.2 L1376.4,1202.4 L1377.0,1210.5 L1377.5,1210.6 L1380.0,1212.0 L1382.5,1208.7 L1385.0,1207.0 L1387.5,1194.9 L1392.5,1190.5 L1394.3,1192.4 L1396.2,1197.3 L1397.0,1197.4 L1397.9,1189.3 L1398.7,1185.0 L1399.5,1181.3 L1400.4,1183.1 L1401.2,1175.9 L1402.0,1175.3 L1402.8,1181.6 L1403.6,1190.8 L1404.3,1193.4 L1405.1,1195.7 L1405.9,1200.0 L1406.7,1202.2 L1407.5,1207.3 L1407.7,1213.0 L1407.9,1216.6 L1408.0,1213.9 L1408.2,1216.6 L1408.4,1227.4 L1408.6,1230.4 L1408.8,1230.7 L1408.9,1240.3 L1409.1,1239.1 L1409.3,1243.0 L1409.5,1248.2 L1409.6,1259.0 L1409.8,1252.4 L1410.0,1262.3 L1414.0,1264.0 L1418.0,1265.2 L1422.0,1262.7 L1422.5,1255.8 L1423.0,1249.2 L1423.5,1245.9 L1424.0,1246.1 L1424.5,1239.6 L1425.0,1229.8 L1426.7,1231.0 L1428.3,1221.2 L1430.0,1220.8 L1432.5,1220.2 L1435.0,1220.0 L1436.0,1215.4 L1436.9,1218.0 L1437.8,1219.1 L1438.8,1231.5 L1439.8,1232.8 L1440.8,1235.7 L1441.8,1235.4 L1442.8,1243.2 L1443.8,1251.8 L1447.5,1246.8 L1448.2,1240.2 L1449.0,1236.0 L1449.7,1226.9 L1450.5,1233.4 L1451.2,1224.0 L1451.8,1220.1 L1452.5,1217.9 L1453.1,1213.7 L1453.7,1210.1 L1454.4,1199.1 L1455.0,1202.6 L1455.2,1195.4 L1455.4,1190.3 L1455.6,1194.2 L1455.8,1186.6 L1456.0,1184.4 L1456.2,1172.8 L1456.3,1174.9 L1456.5,1163.9 L1456.7,1155.4 L1456.9,1159.6 L1457.1,1155.3 L1457.3,1150.3 L1457.5,1150.1 L1461.2,1140.5 L1462.2,1147.9 L1463.1,1150.4 L1464.0,1153.4 L1465.0,1157.2 L1466.3,1164.5 L1467.5,1165.3 L1468.8,1172.6 L1469.5,1166.4 L1470.3,1160.9 L1471.0,1154.1 L1471.8,1146.1 L1472.5,1145.3 L1473.2,1153.4 L1474.0,1156.5 L1474.7,1157.0 L1475.5,1168.1 L1476.2,1160.9 L1477.1,1177.8 L1477.9,1172.5 L1478.8,1184.5 L1483.8,1182.3 L1487.5,1193.3 L1488.8,1190.5 L1490.0,1182.3 L1491.2,1174.9 L1492.5,1167.5 L1493.3,1163.2 L1494.2,1163.5 L1495.0,1161.2 L1495.8,1153.5 L1496.7,1147.6 L1497.5,1148.2 L1498.3,1141.4 L1499.2,1137.5 L1500.0,1132.2 L1501.9,1130.5 L1503.8,1136.4 L1504.3,1141.0 L1504.7,1131.5 L1505.2,1131.0 L1505.7,1118.1 L1506.1,1118.5 L1506.6,1119.3 L1507.0,1110.3 L1507.5,1108.9 L1510.0,1106.0 L1510.6,1105.7 L1511.3,1104.6 L1511.9,1115.1 L1512.5,1119.7 L1513.2,1121.1 L1513.8,1134.4 L1514.4,1133.0 L1515.0,1136.0 L1515.7,1148.6 L1516.3,1147.1 L1516.9,1147.4 L1517.5,1157.6 L1518.4,1153.9 L1519.3,1148.4 L1520.3,1140.5 L1521.2,1139.0 L1522.0,1138.7 L1522.7,1150.0 L1523.5,1151.1 L1524.2,1153.0 L1525.0,1157.8 L1526.9,1165.8 L1528.8,1167.7 L1529.4,1168.4 L1530.0,1174.1 L1530.7,1180.1 L1531.3,1179.9 L1531.9,1184.1 L1532.5,1189.7 L1533.8,1198.3 L1535.0,1200.1 L1536.2,1202.0 L1537.5,1205.6 L1538.5,1201.8 L1539.5,1201.9 L1540.5,1194.4 L1541.5,1192.4 L1542.5,1181.4 L1545.0,1178.1 L1547.5,1174.3 L1552.5,1179.0 L1552.9,1183.5 L1553.2,1179.4 L1553.6,1164.4 L1554.0,1168.6 L1554.4,1153.7 L1554.8,1157.1 L1555.1,1153.1 L1555.5,1148.1 L1557.2,1150.2 L1558.8,1137.6 L1565.0,1138.6 L1567.5,1134.2 L1570.0,1141.7 L1572.5,1148.4 L1575.0,1151.6 L1579.2,1150.2 L1583.3,1143.8 L1587.5,1136.9 L1589.4,1130.3 L1591.2,1132.3 L1593.1,1130.4 L1595.0,1124.9 L1595.5,1120.1 L1596.0,1122.9 L1596.5,1109.8 L1597.0,1109.3 L1597.5,1102.1 L1598.0,1097.6 L1598.5,1098.4 L1599.0,1100.2 L1599.5,1088.4 L1600.0,1087.9 L1600.8,1081.8 L1601.7,1078.8 L1602.5,1072.7 L1607.5,1070.6 L1612.5,1077.6 L1615.0,1079.3 L1617.5,1080.0 L1620.0,1090.3 L1622.5,1094.5 L1630.0,1091.0 L1633.8,1095.0 L1637.5,1095.3 L1641.2,1089.4 L1645.0,1086.3 L1647.5,1087.2 L1650.0,1073.2 L1652.5,1074.3 L1655.0,1078.1 L1655.3,1064.3 L1655.6,1061.9 L1655.9,1059.2 L1656.2,1057.4 L1656.6,1061.6 L1656.9,1048.5 L1657.2,1046.6 L1657.5,1041.5 L1658.0,1044.7 L1658.4,1049.9 L1658.9,1051.9 L1659.3,1058.6 L1659.8,1064.7 L1660.3,1061.9 L1660.7,1069.4 L1661.2,1072.8 L1665.0,1081.1 L1670.0,1080.0 L1673.8,1092.2 L1677.5,1093.1 L1679.2,1086.7 L1680.8,1078.3 L1682.5,1075.8 L1685.0,1072.4 L1687.5,1062.6 L1688.1,1070.4 L1688.8,1068.9 L1689.4,1075.3 L1690.0,1072.3 L1690.6,1084.5 L1691.2,1082.7 L1691.9,1095.0 L1692.5,1101.5 L1694.2,1099.0 L1695.8,1106.4 L1697.5,1117.7 L1698.8,1105.3 L1700.0,1100.9 L1701.2,1100.7 L1702.5,1096.4 L1703.0,1094.1 L1703.4,1084.7 L1703.9,1082.0 L1704.3,1075.5 L1704.8,1073.0 L1705.3,1065.1 L1705.7,1065.7 L1706.2,1061.6 L1707.0,1062.5 L1707.7,1064.6 L1708.5,1070.9 L1709.2,1074.3 L1710.0,1078.1 L1715.0,1082.3 L1716.0,1075.2 L1717.0,1074.0 L1718.0,1063.5 L1719.0,1069.8 L1720.0,1063.8 L1721.7,1070.3 L1723.3,1075.8 L1725.0,1076.7 L1730.0,1074.8 L1731.5,1069.1 L1733.1,1066.6 L1734.7,1063.4 L1736.2,1056.7 L1738.1,1060.0 L1740.0,1066.8 L1740.0,1066.8 L1740.0,1943.0 L1740.0,1943.0 L1736.0,1943.0 L1732.0,1943.0 L1728.0,1943.0 L1723.9,1943.0 L1719.9,1943.0 L1715.9,1943.0 L1711.9,1943.0 L1707.9,1943.0 L1703.9,1943.0 L1699.9,1943.0 L1695.9,1943.0 L1691.8,1943.0 L1687.8,1943.0 L1683.8,1943.0 L1679.8,1943.0 L1675.8,1943.0 L1671.8,1943.0 L1667.8,1943.0 L1663.8,1943.0 L1659.7,1943.0 L1655.7,1943.0 L1651.7,1943.0 L1647.7,1943.0 L1643.7,1943.0 L1639.7,1943.0 L1635.7,1943.0 L1631.7,1943.0 L1627.6,1943.0 L1623.6,1943.0 L1619.6,1943.0 L1615.6,1943.0 L1611.6,1943.0 L1607.6,1943.0 L1603.6,1943.0 L1599.6,1943.0 L1595.5,1943.0 L1591.5,1943.0 L1587.5,1943.0 L1583.5,1943.0 L1579.5,1943.0 L1575.5,1943.0 L1571.5,1943.0 L1567.5,1943.0 L1563.4,1943.0 L1559.4,1943.0 L1555.4,1943.0 L1551.4,1943.0 L1547.4,1943.0 L1543.4,1943.0 L1539.4,1943.0 L1535.4,1943.0 L1531.3,1943.0 L1527.3,1943.0 L1523.3,1943.0 L1519.3,1943.0 L1515.3,1943.0 L1511.3,1943.0 L1507.3,1943.0 L1503.3,1943.0 L1499.2,1943.0 L1495.2,1943.0 L1491.2,1943.0 L1487.2,1943.0 L1483.2,1943.0 L1479.2,1943.0 L1475.2,1943.0 L1471.2,1943.0 L1467.1,1943.0 L1463.1,1943.0 L1459.1,1943.0 L1455.1,1943.0 L1451.1,1943.0 L1447.1,1943.0 L1443.1,1943.0 L1439.1,1943.0 L1435.0,1943.0 L1431.0,1943.0 L1427.0,1943.0 L1423.0,1943.0 L1419.0,1943.0 L1415.0,1943.0 L1411.0,1943.0 L1407.0,1943.0 L1403.0,1943.0 L1399.0,1943.0 L1395.0,1939.7 L1392.5,1936.3 L1390.0,1937.3 L1389.2,1927.7 L1388.3,1927.9 L1387.5,1918.4 L1386.7,1914.1 L1385.8,1906.7 L1385.0,1907.7 L1384.4,1906.3 L1383.8,1913.5 L1383.1,1923.2 L1382.5,1924.2 L1381.6,1932.8 L1380.7,1931.5 L1379.7,1937.6 L1378.8,1943.0 L1374.7,1943.0 L1370.7,1943.0 L1366.6,1943.0 L1362.5,1943.0 L1358.4,1943.0 L1354.3,1943.0 L1350.3,1943.0 L1346.2,1943.0 L1345.7,1938.1 L1345.1,1927.2 L1344.6,1926.0 L1344.1,1927.3 L1343.6,1917.8 L1343.0,1911.7 L1342.5,1914.6 L1341.8,1906.5 L1341.0,1906.3 L1340.3,1899.4 L1339.5,1897.0 L1338.8,1888.7 L1337.8,1893.8 L1336.8,1893.1 L1335.8,1907.5 L1334.8,1906.0 L1333.8,1914.6 L1331.7,1915.9 L1329.6,1920.2 L1327.5,1926.5 L1326.9,1935.6 L1326.2,1936.0 L1325.6,1936.4 L1325.0,1943.0 L1320.6,1943.0 L1316.3,1943.0 L1311.9,1943.0 L1307.5,1943.0 L1303.2,1943.0 L1298.8,1943.0 L1296.9,1937.8 L1295.0,1938.1 L1294.2,1928.8 L1293.3,1928.5 L1292.5,1923.2 L1291.7,1924.7 L1290.8,1911.7 L1290.0,1905.5 L1286.9,1900.8 L1283.8,1898.0 L1282.1,1901.0 L1280.5,1909.8 L1278.8,1910.7 L1277.1,1917.2 L1275.5,1914.2 L1273.8,1927.9 L1272.8,1918.8 L1271.9,1914.7 L1271.0,1908.5 L1270.0,1909.7 L1268.7,1898.7 L1267.5,1892.4 L1266.2,1888.1 L1264.1,1890.8 L1262.1,1878.6 L1260.0,1881.6 L1257.5,1878.2 L1255.0,1888.1 L1253.3,1888.2 L1251.7,1896.3 L1250.0,1899.6 L1248.8,1905.7 L1247.5,1913.7 L1246.2,1914.0 L1245.0,1916.1 L1240.0,1910.7 L1233.8,1908.9 L1232.8,1910.1 L1231.9,1918.4 L1231.0,1919.1 L1230.0,1923.7 L1229.6,1914.3 L1229.2,1912.2 L1228.8,1913.6 L1228.3,1906.6 L1227.9,1907.2 L1227.5,1900.9 L1227.2,1899.7 L1227.0,1892.3 L1226.8,1889.0 L1226.5,1885.4 L1226.2,1880.7 L1226.0,1876.9 L1225.8,1866.3 L1225.5,1867.2 L1225.2,1860.9 L1225.0,1862.2 L1223.1,1857.3 L1221.2,1847.5 L1216.2,1848.3 L1213.1,1846.2 L1210.0,1834.8 L1205.0,1833.3 L1202.5,1839.7 L1200.0,1844.2 L1196.9,1850.3 L1193.8,1848.1 L1192.1,1843.8 L1190.5,1833.8 L1188.8,1832.1 L1186.3,1837.5 L1183.8,1838.1 L1183.3,1832.0 L1182.8,1830.7 L1182.4,1828.0 L1181.9,1821.3 L1181.4,1814.7 L1181.0,1813.4 L1180.5,1810.8 L1180.0,1806.2 L1179.4,1801.8 L1178.7,1795.6 L1178.1,1798.4 L1177.5,1792.3 L1176.8,1792.6 L1176.2,1781.5 L1175.9,1789.4 L1175.5,1792.6 L1175.2,1795.6 L1174.8,1800.8 L1174.5,1800.8 L1174.1,1805.4 L1173.8,1811.4 L1173.4,1819.4 L1173.1,1822.0 L1172.7,1828.1 L1172.3,1823.8 L1171.9,1829.0 L1171.6,1841.6 L1171.2,1832.2 L1165.0,1837.7 L1157.5,1842.4 L1155.8,1831.3 L1154.2,1816.5 L1152.5,1824.3 L1150.8,1822.2 L1149.2,1827.4 L1147.5,1832.1 L1145.0,1831.6 L1142.5,1828.7 L1140.0,1824.0 L1136.2,1812.1 L1132.5,1805.2 L1126.2,1817.8 L1124.1,1803.2 L1122.1,1804.5 L1120.0,1803.6 L1118.7,1792.2 L1117.5,1780.4 L1116.2,1782.5 L1113.1,1789.4 L1110.0,1797.1 L1108.3,1801.7 L1106.7,1806.3 L1105.0,1809.5 L1102.5,1811.7 L1100.0,1803.9 L1097.5,1791.3 L1092.5,1801.6 L1090.0,1794.0 L1087.5,1786.3 L1085.7,1791.2 L1083.8,1805.1 L1080.7,1807.0 L1077.5,1808.1 L1071.2,1815.8 L1065.0,1819.6 L1064.5,1809.6 L1064.0,1809.3 L1063.6,1809.1 L1063.1,1801.2 L1062.6,1791.4 L1062.2,1795.0 L1061.7,1788.7 L1061.2,1785.7 L1058.1,1786.8 L1055.0,1793.0 L1050.0,1789.4 L1045.0,1789.2 L1038.8,1785.3 L1035.7,1781.7 L1032.5,1780.5 L1030.8,1781.5 L1029.2,1789.9 L1027.5,1792.8 L1027.0,1791.1 L1026.5,1782.0 L1026.0,1786.8 L1025.5,1782.6 L1025.0,1780.9 L1024.0,1769.6 L1023.0,1764.4 L1022.0,1762.1 L1021.0,1755.7 L1020.0,1750.4 L1017.5,1752.6 L1015.0,1750.6 L1013.8,1747.1 L1012.5,1750.3 L1011.2,1756.0 L1010.0,1755.7 L1008.7,1758.7 L1007.5,1773.5 L1006.2,1785.3 L1004.5,1770.1 L1002.9,1772.6 L1001.2,1758.8 L998.1,1763.8 L995.0,1750.1 L994.6,1751.5 L994.2,1745.5 L993.8,1743.0 L993.3,1734.2 L992.9,1735.4 L992.5,1731.7 L991.8,1728.3 L991.0,1719.1 L990.3,1719.0 L989.5,1712.5 L988.8,1702.4 L987.1,1713.0 L985.5,1713.1 L983.8,1720.2 L983.2,1719.2 L982.5,1729.5 L981.9,1738.3 L981.3,1738.8 L980.6,1736.7 L980.0,1744.1 L977.5,1750.8 L975.0,1746.8 L972.5,1752.3 L970.0,1750.1 L965.0,1748.4 L962.5,1747.5 L960.0,1743.5 L955.0,1741.7 L953.1,1741.9 L951.2,1740.0 L949.5,1741.0 L947.9,1741.4 L946.2,1755.9 L943.1,1754.3 L940.0,1757.3 L939.2,1766.1 L938.5,1769.5 L937.8,1765.8 L937.0,1775.6 L936.7,1771.7 L936.3,1761.2 L936.0,1760.0 L935.7,1757.4 L935.3,1752.2 L935.0,1752.6 L932.5,1750.2 L930.0,1739.6 L928.1,1740.4 L926.2,1731.6 L925.2,1727.7 L924.1,1717.9 L923.1,1719.0 L922.1,1713.6 L921.0,1709.1 L920.0,1704.2 L917.5,1699.8 L915.0,1702.0 L914.0,1690.1 L913.0,1684.2 L912.0,1677.4 L911.0,1677.6 L910.0,1673.2 L909.0,1669.2 L908.0,1659.4 L907.0,1665.5 L906.0,1660.6 L905.0,1654.0 L903.7,1642.7 L902.5,1641.6 L901.2,1636.6 L899.4,1637.9 L897.5,1646.4 L897.1,1643.0 L896.7,1636.8 L896.2,1629.9 L895.8,1627.0 L895.4,1621.0 L895.0,1611.5 L893.1,1616.5 L891.2,1612.4 L888.7,1611.1 L886.2,1621.3 L885.9,1619.5 L885.5,1632.2 L885.2,1626.5 L884.9,1629.9 L884.5,1636.0 L884.2,1640.4 L883.8,1652.9 L883.5,1646.2 L883.2,1663.5 L882.8,1663.5 L882.5,1661.0 L880.0,1669.9 L877.5,1676.5 L876.4,1673.1 L875.4,1659.8 L874.3,1661.3 L873.2,1664.4 L872.1,1650.5 L871.1,1652.2 L870.0,1642.9 L869.2,1637.5 L868.5,1633.0 L867.7,1625.8 L867.0,1630.9 L866.2,1628.3 L866.1,1623.9 L866.0,1635.1 L865.9,1640.0 L865.8,1648.1 L865.7,1641.6 L865.6,1648.8 L865.5,1651.9 L865.4,1657.5 L865.3,1668.1 L865.2,1663.5 L865.1,1668.6 L864.9,1670.6 L864.8,1680.5 L864.7,1678.2 L864.6,1689.0 L864.5,1698.4 L864.4,1694.6 L864.3,1701.5 L864.2,1705.2 L864.1,1711.0 L864.0,1710.9 L863.9,1718.6 L863.8,1718.2 L863.4,1727.3 L863.0,1729.1 L862.7,1729.9 L862.3,1734.6 L861.9,1743.2 L861.5,1740.9 L861.1,1745.0 L860.8,1754.0 L860.4,1750.8 L860.0,1766.1 L859.3,1759.3 L858.6,1767.9 L857.9,1771.9 L857.1,1774.2 L856.4,1779.2 L855.7,1789.4 L855.0,1789.5 L854.9,1789.6 L854.7,1779.6 L854.6,1779.3 L854.4,1772.6 L854.3,1765.8 L854.1,1767.2 L854.0,1757.1 L853.8,1759.4 L853.7,1760.2 L853.5,1746.6 L853.4,1744.0 L853.2,1738.1 L853.1,1740.4 L852.9,1735.4 L852.8,1730.5 L852.6,1720.9 L852.5,1725.6 L851.5,1712.8 L850.5,1714.6 L849.5,1711.3 L848.5,1705.8 L847.5,1707.5 L846.0,1696.0 L844.5,1690.2 L843.0,1687.8 L841.5,1682.9 L840.0,1682.5 L839.0,1671.1 L837.9,1678.9 L836.9,1666.6 L835.9,1665.9 L834.8,1660.8 L833.8,1658.6 L831.6,1645.2 L829.4,1642.6 L827.2,1643.3 L825.0,1635.5 L824.4,1647.0 L823.7,1647.9 L823.1,1647.6 L822.5,1650.8 L821.8,1658.5 L821.2,1662.6 L820.0,1649.7 L819.3,1654.8 L818.7,1641.2 L818.0,1643.3 L817.3,1636.0 L816.7,1629.1 L816.0,1633.8 L815.2,1620.9 L814.3,1622.4 L813.5,1618.7 L812.7,1616.3 L811.8,1616.7 L811.0,1604.8 L808.9,1601.8 L806.7,1597.8 L804.6,1593.1 L802.4,1586.3 L800.3,1586.1 L798.1,1579.1 L796.0,1577.7 L795.0,1569.4 L794.0,1570.4 L793.0,1566.9 L792.0,1565.4 L791.0,1562.4 L790.0,1549.9 L789.1,1555.2 L788.3,1541.2 L787.4,1534.2 L786.6,1537.8 L785.7,1532.8 L784.9,1536.8 L784.0,1526.3 L781.0,1529.6 L780.6,1530.2 L780.2,1541.7 L779.9,1540.8 L779.5,1542.7 L779.1,1547.8 L778.8,1548.4 L778.4,1553.1 L778.0,1556.4 L777.7,1563.9 L777.4,1572.7 L777.1,1570.8 L776.9,1572.5 L776.6,1578.8 L776.3,1583.1 L776.0,1587.7 L775.7,1592.7 L775.4,1598.3 L775.1,1605.8 L774.9,1601.7 L774.6,1608.5 L774.3,1612.8 L774.0,1615.9 L770.0,1623.1 L766.0,1617.7 L762.0,1619.4 L761.2,1611.9 L760.5,1611.7 L759.8,1606.6 L759.0,1600.1 L758.7,1594.8 L758.4,1593.3 L758.1,1585.1 L757.9,1589.9 L757.6,1587.3 L757.3,1574.2 L757.0,1574.7 L756.7,1571.4 L756.4,1566.9 L756.1,1560.9 L755.9,1553.8 L755.6,1550.0 L755.3,1547.4 L755.0,1545.3 L750.2,1549.6 L745.5,1549.8 L740.8,1547.3 L736.0,1543.1 L734.8,1555.0 L733.5,1546.7 L732.2,1555.6 L731.0,1557.9 L730.4,1571.3 L729.7,1569.0 L729.1,1569.5 L728.4,1576.7 L727.8,1579.3 L727.1,1579.9 L726.5,1591.1 L725.9,1590.4 L725.2,1590.6 L724.6,1598.4 L723.9,1602.4 L723.3,1604.3 L722.6,1614.2 L722.0,1620.3 L721.5,1623.7 L721.0,1625.1 L720.5,1619.4 L720.0,1631.3 L719.5,1635.6 L719.0,1640.7 L718.5,1644.2 L718.0,1652.5 L717.3,1656.3 L716.6,1661.0 L715.9,1661.9 L715.2,1675.9 L714.5,1675.5 L713.8,1669.1 L711.9,1673.4 L710.0,1666.3 L708.8,1661.5 L707.5,1661.1 L706.2,1649.7 L705.0,1646.1 L700.0,1652.9 L696.2,1651.2 L692.5,1649.0 L687.5,1654.1 L686.7,1660.5 L685.8,1665.8 L685.0,1669.8 L684.5,1667.1 L684.0,1680.9 L683.6,1685.9 L683.1,1682.5 L682.6,1687.1 L682.2,1692.8 L681.7,1693.8 L681.2,1697.8 L680.2,1702.3 L679.2,1708.9 L678.2,1711.2 L677.2,1717.1 L676.2,1717.9 L670.0,1715.3 L666.2,1723.4 L662.5,1724.7 L661.2,1725.5 L660.0,1735.5 L658.7,1739.7 L657.5,1741.4 L656.2,1748.6 L655.0,1747.6 L653.7,1752.9 L652.5,1759.3 L651.2,1762.8 L650.0,1761.1 L648.5,1762.8 L647.0,1752.5 L645.5,1753.9 L644.0,1752.0 L642.5,1746.7 L641.5,1735.0 L640.5,1733.0 L639.5,1733.6 L638.5,1724.0 L637.5,1724.5 L635.9,1730.3 L634.4,1733.7 L632.8,1733.2 L631.2,1740.9 L630.0,1745.8 L628.7,1746.6 L627.5,1754.3 L626.5,1747.6 L625.5,1748.2 L624.5,1746.7 L623.5,1738.0 L622.5,1734.0 L620.0,1733.0 L617.5,1722.0 L616.3,1723.6 L615.0,1713.8 L613.8,1713.7 L612.5,1709.1 L611.3,1699.5 L610.0,1703.5 L609.6,1698.9 L609.2,1707.0 L608.8,1714.8 L608.3,1713.9 L607.9,1721.6 L607.5,1729.3 L606.9,1729.8 L606.2,1736.1 L605.6,1737.8 L605.0,1739.5 L604.4,1744.9 L603.8,1752.1 L603.1,1752.0 L602.5,1767.3 L600.8,1765.4 L599.2,1766.0 L597.5,1777.0 L596.5,1781.2 L595.5,1781.4 L594.5,1791.5 L593.5,1790.2 L592.5,1788.4 L590.6,1800.6 L588.8,1809.5 L586.9,1805.7 L585.0,1811.9 L583.7,1814.8 L582.5,1822.7 L581.2,1824.5 L580.5,1829.9 L579.7,1840.6 L579.0,1841.8 L578.2,1837.8 L577.5,1842.2 L575.0,1849.2 L572.5,1851.6 L568.8,1855.3 L565.0,1867.4 L563.8,1860.7 L562.5,1867.9 L561.2,1875.7 L560.0,1888.6 L558.8,1880.9 L557.5,1885.8 L556.2,1892.5 L555.0,1892.4 L551.9,1894.1 L548.8,1889.3 L545.6,1887.3 L542.5,1872.5 L540.0,1873.7 L537.5,1871.0 L536.9,1876.3 L536.2,1882.7 L535.6,1884.0 L535.0,1882.3 L534.4,1881.1 L533.8,1893.2 L533.1,1893.7 L532.5,1902.9 L530.6,1899.9 L528.8,1893.6 L526.7,1889.7 L524.6,1886.3 L522.5,1876.2 L520.0,1885.2 L517.5,1870.9 L515.0,1879.1 L512.5,1879.2 L510.0,1887.1 L502.5,1889.8 L500.4,1892.0 L498.3,1896.1 L496.2,1904.1 L494.4,1893.8 L492.5,1888.2 L491.8,1891.4 L491.0,1894.6 L490.3,1905.7 L489.5,1903.4 L488.8,1900.4 L488.4,1918.7 L487.9,1915.3 L487.5,1922.5 L487.1,1930.5 L486.6,1930.9 L486.2,1941.1 L483.7,1939.7 L481.2,1934.4 L480.7,1937.0 L480.2,1939.1 L479.7,1937.1 L479.2,1922.3 L478.7,1919.3 L478.2,1921.7 L477.7,1913.6 L477.2,1911.7 L476.7,1897.8 L476.2,1898.0 L476.0,1910.1 L475.7,1913.0 L475.5,1923.6 L475.2,1912.2 L475.0,1923.8 L474.8,1929.5 L474.5,1932.7 L474.3,1932.7 L474.0,1942.9 L473.8,1943.0 L470.6,1943.0 L467.5,1937.0 L463.8,1942.6 L460.0,1943.0 L458.4,1935.4 L456.9,1932.8 L455.4,1930.9 L453.8,1924.9 L452.9,1933.4 L452.1,1930.0 L451.2,1943.0 L447.2,1943.0 L443.2,1943.0 L439.2,1943.0 L435.1,1943.0 L431.1,1943.0 L427.1,1943.0 L423.1,1943.0 L419.1,1943.0 L415.1,1943.0 L411.1,1943.0 L407.0,1943.0 L403.0,1943.0 L399.0,1943.0 L395.0,1943.0 L391.0,1943.0 L387.0,1943.0 L383.0,1943.0 L378.9,1943.0 L374.9,1943.0 L370.9,1943.0 L366.9,1943.0 L362.9,1943.0 L358.9,1943.0 L354.9,1943.0 L350.8,1943.0 L346.8,1943.0 L342.8,1943.0 L338.8,1943.0 L334.8,1943.0 L330.8,1943.0 L326.8,1943.0 L322.7,1943.0 L318.7,1943.0 L314.7,1943.0 L310.7,1943.0 L306.7,1943.0 L302.7,1943.0 L298.7,1943.0 L294.7,1943.0 L290.6,1943.0 L286.6,1943.0 L282.6,1943.0 L278.6,1943.0 L274.6,1943.0 L270.6,1943.0 L266.6,1943.0 L262.5,1943.0 L258.5,1943.0 L254.5,1943.0 L250.5,1943.0 L246.5,1943.0 L242.5,1943.0 L238.5,1943.0 L234.4,1943.0 L230.4,1943.0 L226.4,1943.0 L222.4,1943.0 L218.4,1943.0 L214.4,1943.0 L210.4,1943.0 L206.3,1943.0 L202.3,1943.0 L198.3,1943.0 L194.3,1943.0 L190.3,1943.0 L186.3,1943.0 L182.3,1943.0 L178.2,1943.0 L174.2,1943.0 L170.2,1943.0 L166.2,1943.0 L166.2,1943.0Z" fill="#ADD3F0" stroke="#ADD3F0" stroke-width="1" stroke-linejoin="round"/>
<line x1="166" y1="1515.7" x2="1740" y2="1515.7" stroke="#b3b3b3" stroke-width="2"/>
<line x1="166.2" y1="923.7" x2="166.2" y2="1939.7" stroke="#a6a6a6" stroke-width="2"/>
<line x1="155" y1="1938.5" x2="166.2" y2="1938.5" stroke="#a6a6a6" stroke-width="2"/>
<text x="93.3" y="1949.8" font-size="43.5" textLength="39.2" lengthAdjust="spacingAndGlyphs" fill="#111" stroke="#111" stroke-width="0.55">75</text>
<line x1="155" y1="1854.0" x2="166.2" y2="1854.0" stroke="#a6a6a6" stroke-width="2"/>
<text x="93.3" y="1865.3" font-size="43.5" textLength="39.2" lengthAdjust="spacingAndGlyphs" fill="#111" stroke="#111" stroke-width="0.55">80</text>
<line x1="155" y1="1769.4" x2="166.2" y2="1769.4" stroke="#a6a6a6" stroke-width="2"/>
<text x="93.3" y="1780.7" font-size="43.5" textLength="39.2" lengthAdjust="spacingAndGlyphs" fill="#111" stroke="#111" stroke-width="0.55">85</text>
<line x1="155" y1="1684.8" x2="166.2" y2="1684.8" stroke="#a6a6a6" stroke-width="2"/>
<text x="93.3" y="1696.1" font-size="43.5" textLength="39.2" lengthAdjust="spacingAndGlyphs" fill="#111" stroke="#111" stroke-width="0.55">90</text>
<line x1="155" y1="1600.3" x2="166.2" y2="1600.3" stroke="#a6a6a6" stroke-width="2"/>
<text x="93.3" y="1611.6" font-size="43.5" textLength="39.2" lengthAdjust="spacingAndGlyphs" fill="#111" stroke="#111" stroke-width="0.55">95</text>
<line x1="155" y1="1515.7" x2="166.2" y2="1515.7" stroke="#a6a6a6" stroke-width="2"/>
<text x="73.7" y="1527.0" font-size="43.5" textLength="58.8" lengthAdjust="spacingAndGlyphs" fill="#111" stroke="#111" stroke-width="0.55">100</text>
<line x1="155" y1="1431.1" x2="166.2" y2="1431.1" stroke="#a6a6a6" stroke-width="2"/>
<text x="73.7" y="1442.4" font-size="43.5" textLength="58.8" lengthAdjust="spacingAndGlyphs" fill="#111" stroke="#111" stroke-width="0.55">105</text>
<line x1="155" y1="1346.6" x2="166.2" y2="1346.6" stroke="#a6a6a6" stroke-width="2"/>
<text x="73.7" y="1357.9" font-size="43.5" textLength="58.8" lengthAdjust="spacingAndGlyphs" fill="#111" stroke="#111" stroke-width="0.55">110</text>
<line x1="155" y1="1262.0" x2="166.2" y2="1262.0" stroke="#a6a6a6" stroke-width="2"/>
<text x="73.7" y="1273.3" font-size="43.5" textLength="58.8" lengthAdjust="spacingAndGlyphs" fill="#111" stroke="#111" stroke-width="0.55">115</text>
<line x1="155" y1="1177.4" x2="166.2" y2="1177.4" stroke="#a6a6a6" stroke-width="2"/>
<text x="73.7" y="1188.7" font-size="43.5" textLength="58.8" lengthAdjust="spacingAndGlyphs" fill="#111" stroke="#111" stroke-width="0.55">120</text>
<line x1="155" y1="1092.9" x2="166.2" y2="1092.9" stroke="#a6a6a6" stroke-width="2"/>
<text x="73.7" y="1104.2" font-size="43.5" textLength="58.8" lengthAdjust="spacingAndGlyphs" fill="#111" stroke="#111" stroke-width="0.55">125</text>
<line x1="155" y1="1008.3" x2="166.2" y2="1008.3" stroke="#a6a6a6" stroke-width="2"/>
<text x="73.7" y="1019.6" font-size="43.5" textLength="58.8" lengthAdjust="spacingAndGlyphs" fill="#111" stroke="#111" stroke-width="0.55">130</text>
<line x1="155" y1="923.7" x2="166.2" y2="923.7" stroke="#a6a6a6" stroke-width="2"/>
<text x="73.7" y="935.0" font-size="43.5" textLength="58.8" lengthAdjust="spacingAndGlyphs" fill="#111" stroke="#111" stroke-width="0.55">135</text>
<defs><clipPath id="lc"><rect x="160" y="923.7" width="1590" height="1021.3"/></clipPath></defs>
<path d="M167.5,1857.5 L168.4,1852.3 L170.2,1851.5 L171.3,1848.5 L173.3,1843.9 L174.7,1840.8 L176.0,1837.8 L176.5,1833.4 L176.1,1832.6 L176.8,1828.3 L177.4,1825.0 L177.8,1821.1 L177.5,1821.0 L178.7,1812.9 L178.6,1810.7 L179.0,1805.7 L179.9,1807.8 L179.9,1803.4 L182.1,1797.2 L184.3,1792.9 L187.3,1792.0 L189.8,1796.4 L191.2,1799.0 L193.1,1797.6 L195.3,1796.8 L200.3,1797.5 L200.9,1796.5 L202.1,1791.5 L203.7,1790.5 L204.2,1785.4 L204.8,1783.9 L206.5,1787.1 L208.0,1789.3 L210.2,1792.7 L212.0,1796.7 L213.4,1798.6 L215.4,1805.6 L217.1,1805.5 L218.5,1810.0 L220.9,1805.9 L222.4,1803.6 L223.7,1798.8 L225.4,1796.6 L227.3,1792.8 L229.2,1793.5 L230.7,1791.1 L232.4,1783.7 L233.8,1783.1 L235.2,1783.6 L237.3,1788.1 L238.6,1789.7 L241.1,1791.8 L243.8,1796.4 L246.9,1794.6 L251.8,1795.4 L254.2,1796.9 L256.7,1795.1 L259.4,1795.7 L260.9,1795.1 L261.4,1789.6 L262.4,1787.8 L263.1,1781.1 L263.6,1776.8 L265.1,1775.2 L265.9,1774.4 L267.3,1776.4 L267.6,1779.4 L267.9,1782.4 L269.5,1784.7 L269.1,1789.4 L270.3,1793.6 L270.3,1795.7 L271.2,1797.6 L271.9,1801.9 L272.9,1806.4 L272.9,1809.3 L273.7,1811.7 L274.8,1817.2 L276.1,1817.0 L277.2,1823.5 L283.3,1823.7 L284.0,1821.3 L285.3,1818.8 L287.5,1815.4 L292.1,1812.2 L292.8,1816.9 L293.5,1818.4 L295.6,1823.4 L296.7,1817.8 L298.7,1816.5 L300.9,1814.4 L302.0,1815.3 L303.4,1816.8 L305.1,1820.3 L306.5,1824.3 L307.7,1825.2 L309.1,1830.8 L311.6,1827.4 L315.2,1825.7 L318.9,1823.6 L322.5,1824.6 L326.9,1819.5 L329.0,1820.6 L331.4,1816.8 L332.7,1815.4 L335.0,1811.8 L337.8,1817.2 L340.6,1817.3 L342.3,1818.3 L344.2,1815.6 L346.1,1810.8 L347.7,1806.6 L349.1,1806.3 L349.9,1802.0 L350.6,1799.3 L352.8,1793.7 L354.2,1792.1 L353.8,1787.3 L355.8,1785.7 L356.9,1781.0 L357.5,1781.2 L359.7,1778.4 L362.4,1775.4 L363.1,1780.8 L363.0,1782.0 L364.5,1782.6 L364.5,1789.9 L365.4,1786.3 L365.4,1790.8 L366.1,1795.1 L366.3,1797.9 L367.1,1801.4 L367.1,1804.7 L368.7,1806.9 L369.9,1808.9 L370.7,1813.5 L372.1,1816.2 L372.2,1818.3 L374.9,1824.1 L375.4,1826.2 L377.1,1831.9 L379.3,1830.4 L380.9,1837.0 L382.5,1839.4 L387.5,1837.8 L388.8,1833.5 L390.1,1831.5 L391.2,1827.3 L392.1,1825.3 L395.3,1819.4 L397.3,1821.7 L401.2,1817.4 L404.7,1815.4 L407.2,1817.5 L408.3,1811.7 L408.9,1807.7 L410.0,1805.8 L410.8,1804.3 L412.4,1799.2 L413.9,1803.4 L416.4,1804.5 L418.1,1809.5 L420.5,1809.5 L421.9,1811.7 L424.8,1812.7 L428.7,1812.1 L433.9,1811.3 L436.0,1811.3 L438.0,1805.0 L440.9,1799.8 L444.6,1800.5 L446.0,1794.0 L447.6,1794.8 L448.4,1792.5 L450.2,1789.0 L450.7,1784.4 L453.1,1783.8 L454.3,1778.1 L455.1,1774.2 L460.4,1771.6 L461.9,1766.8 L463.2,1768.5 L465.6,1763.4 L466.6,1760.0 L473.3,1755.6 L472.1,1760.5 L473.3,1763.7 L473.5,1765.5 L474.0,1771.3 L475.0,1774.8 L475.1,1777.7 L475.8,1780.4 L476.9,1783.5 L476.9,1784.6 L477.5,1791.0 L479.8,1792.4 L481.8,1793.3 L483.2,1793.6 L483.4,1786.9 L483.9,1784.0 L484.4,1785.5 L485.1,1779.8 L485.9,1776.5 L486.1,1774.3 L486.7,1769.1 L487.3,1769.1 L486.6,1761.5 L489.6,1764.4 L492.5,1760.9 L494.0,1764.3 L494.7,1765.5 L496.4,1770.2 L497.7,1772.9 L497.9,1770.8 L498.9,1767.6 L498.4,1764.4 L499.0,1760.3 L501.4,1762.7 L503.1,1764.6 L505.1,1767.9 L505.5,1761.3 L506.4,1762.4 L507.2,1759.3 L508.2,1754.6 L509.6,1755.0 L510.0,1749.9 L512.0,1745.8 L513.0,1746.5 L515.4,1741.9 L516.4,1745.4 L517.8,1746.9 L519.9,1746.8 L520.9,1747.6 L521.7,1741.5 L521.4,1739.0 L522.0,1739.3 L522.8,1732.9 L523.9,1730.6 L525.3,1725.5 L526.0,1723.9 L526.1,1720.8 L526.9,1719.6 L532.2,1721.3 L533.8,1716.2 L533.6,1714.2 L534.3,1712.2 L535.5,1707.0 L535.9,1705.9 L538.8,1704.7 L542.2,1699.7 L543.7,1699.0 L546.0,1695.4 L547.5,1690.7 L549.5,1688.4 L549.9,1685.1 L550.9,1681.6 L551.5,1676.1 L553.3,1673.3 L552.6,1677.2 L555.1,1682.8 L555.0,1684.7 L556.2,1684.9 L556.5,1691.2 L557.5,1692.6 L556.6,1695.5 L558.1,1700.9 L558.4,1704.4 L558.7,1705.7 L559.4,1704.8 L559.8,1702.6 L559.4,1694.7 L559.6,1697.3 L560.3,1691.8 L561.0,1688.9 L562.7,1684.1 L561.7,1680.7 L562.2,1678.9 L562.1,1676.7 L568.0,1675.6 L567.9,1678.0 L567.7,1682.5 L568.4,1684.3 L569.6,1687.1 L569.4,1692.8 L570.7,1694.1 L572.9,1696.6 L575.2,1700.6 L575.5,1698.2 L577.6,1693.8 L577.9,1689.1 L579.5,1687.6 L579.2,1685.4 L580.0,1680.4 L580.7,1679.9 L583.4,1674.2 L584.1,1671.1 L586.0,1669.5 L588.7,1664.3 L590.2,1660.2 L592.6,1659.9 L593.7,1659.5 L596.0,1656.8 L598.4,1654.7 L599.7,1650.1 L600.4,1646.2 L601.1,1642.1 L601.1,1641.3 L600.2,1634.7 L600.8,1631.8 L604.5,1631.0 L607.5,1629.4 L608.5,1633.5 L609.9,1634.7 L610.7,1637.6 L611.7,1639.6 L613.2,1645.2 L613.9,1646.3 L614.8,1649.1 L615.5,1648.9 L618.5,1642.0 L617.7,1641.1 L619.5,1635.1 L619.6,1634.6 L620.6,1632.6 L622.3,1627.6 L624.2,1623.9 L625.8,1621.4 L628.0,1618.9 L627.5,1615.1 L627.2,1611.5 L630.7,1616.1 L634.2,1615.3 L635.1,1612.1 L635.1,1606.3 L635.1,1610.0 L635.9,1610.8 L636.0,1618.6 L637.1,1619.9 L637.6,1621.9 L638.9,1619.7 L639.9,1614.7 L640.4,1609.4 L641.9,1611.5 L644.0,1614.5 L646.1,1616.5 L648.2,1619.6 L648.4,1614.6 L650.3,1610.4 L654.5,1614.2 L654.4,1607.3 L654.5,1604.8 L654.1,1603.0 L656.1,1598.4 L655.8,1597.4 L655.5,1591.9 L656.3,1589.6 L656.2,1586.1 L657.0,1583.9 L656.8,1578.8 L657.7,1575.9 L658.6,1572.3 L659.8,1569.1 L659.5,1568.2 L659.9,1563.4 L659.6,1560.2 L660.7,1557.5 L661.1,1554.9 L660.9,1549.8 L662.2,1547.2 L661.4,1547.1 L662.2,1540.3 L663.3,1543.1 L662.9,1549.0 L663.3,1554.0 L664.1,1557.3 L664.5,1557.0 L664.6,1559.7 L665.0,1563.0 L665.9,1564.5 L665.6,1566.5 L666.9,1572.2 L666.7,1575.3 L667.5,1578.8 L667.8,1581.3 L669.6,1584.8 L671.0,1589.6 L673.2,1590.2 L674.4,1594.8 L674.8,1600.1 L675.6,1602.9 L675.1,1607.0 L675.2,1607.5 L676.3,1610.5 L676.2,1613.5 L678.0,1606.8 L678.2,1608.2 L677.9,1604.4 L677.7,1602.0 L679.5,1596.2 L679.0,1594.2 L678.5,1590.4 L678.8,1586.3 L678.5,1586.9 L679.2,1582.3 L679.5,1579.1 L679.0,1574.1 L680.1,1573.5 L679.5,1568.2 L682.1,1567.3 L685.1,1564.0 L685.2,1561.3 L685.8,1556.8 L686.4,1553.8 L687.0,1552.3 L686.8,1549.1 L687.5,1544.3 L687.6,1540.0 L687.9,1539.5 L689.2,1535.1 L689.2,1533.2 L689.9,1530.2 L690.5,1527.5 L694.7,1527.0 L695.6,1523.1 L698.1,1521.0 L699.5,1518.2 L701.7,1512.9 L701.6,1517.7 L702.7,1520.9 L703.4,1522.5 L704.0,1528.8 L704.8,1531.2 L704.9,1534.5 L705.3,1528.9 L705.4,1527.9 L705.8,1523.8 L706.2,1521.5 L706.7,1518.9 L707.1,1517.3 L707.4,1513.5 L707.2,1506.2 L707.8,1507.9 L708.2,1503.2 L708.2,1502.2 L708.8,1498.3 L709.8,1495.7 L710.6,1491.8 L710.4,1489.9 L710.2,1485.9 L710.7,1481.4 L711.5,1478.6 L712.6,1475.5 L712.2,1473.5 L712.6,1470.3 L713.1,1465.3 L712.8,1462.3 L715.6,1461.2 L716.3,1456.7 L717.4,1454.4 L717.6,1456.1 L718.4,1461.9 L719.0,1464.9 L719.8,1470.0 L720.6,1469.7 L721.8,1473.9 L722.3,1474.5 L723.0,1481.2 L727.5,1475.9 L728.9,1474.7 L731.4,1470.3 L732.6,1469.2 L735.4,1464.0 L740.6,1460.3 L744.1,1461.5 L748.1,1463.6 L749.2,1466.5 L750.2,1471.5 L750.9,1473.1 L752.2,1477.1 L753.6,1478.5 L754.1,1483.6 L754.2,1485.1 L754.8,1487.5 L755.0,1491.1 L755.8,1492.4 L756.2,1495.9 L756.5,1503.5 L756.5,1503.5 L757.2,1508.0 L757.5,1507.4 L757.4,1513.1 L758.5,1517.3 L758.6,1519.9 L763.4,1523.2 L764.3,1517.4 L764.9,1517.3 L765.0,1510.1 L765.4,1507.0 L766.3,1505.7 L766.7,1502.3 L767.8,1498.4 L767.3,1492.5 L768.4,1491.4 L768.7,1489.5 L770.7,1483.6 L771.8,1482.4 L773.7,1480.5 L774.2,1479.5 L775.4,1483.2 L775.1,1489.1 L775.6,1495.0 L776.7,1495.6 L777.0,1501.0 L778.0,1500.3 L778.8,1502.3 L778.6,1508.0 L779.5,1509.6 L780.6,1515.9 L781.1,1517.5 L782.7,1519.4 L784.9,1523.2 L786.0,1526.1 L787.0,1530.6 L789.7,1533.2 L792.3,1533.4 L795.6,1536.7 L798.1,1537.5 L801.9,1542.3 L805.2,1541.0 L806.4,1543.1 L808.7,1546.8 L810.4,1550.7 L812.1,1550.6 L814.6,1555.3 L816.1,1559.0 L817.6,1563.0 L820.9,1566.5 L821.0,1569.7 L821.9,1572.0 L822.8,1573.6 L824.0,1574.2 L826.8,1576.2 L828.8,1572.0 L830.9,1575.1 L831.2,1579.7 L831.8,1578.6 L831.9,1583.8 L832.9,1586.8 L833.3,1592.8 L832.8,1595.3 L834.9,1597.7 L835.1,1600.2 L835.8,1603.6 L835.9,1607.5 L839.0,1607.7 L842.4,1607.5 L845.9,1606.4 L848.3,1603.9 L849.8,1609.0 L852.1,1612.8 L853.2,1614.3 L854.6,1615.4 L858.1,1614.5 L861.6,1611.2 L862.3,1609.6 L862.1,1605.0 L862.7,1604.3 L863.5,1600.1 L864.7,1595.5 L864.8,1593.2 L865.3,1588.0 L865.8,1586.9 L868.8,1586.3 L870.5,1582.2 L871.0,1579.5 L872.0,1574.7 L872.6,1570.5 L872.0,1566.1 L872.2,1564.1 L874.9,1562.3 L876.6,1556.4 L878.7,1553.4 L879.9,1550.5 L880.9,1547.9 L882.3,1544.8 L883.2,1542.2 L885.2,1539.8 L885.6,1534.6 L886.1,1531.7 L887.2,1529.8 L887.6,1528.2 L888.6,1523.5 L889.7,1522.6 L893.2,1523.5 L894.9,1526.0 L895.3,1523.2 L896.8,1519.0 L896.2,1516.3 L896.8,1513.6 L897.3,1509.8 L898.4,1508.4 L897.3,1506.0 L898.2,1500.6 L899.0,1498.3 L899.4,1495.2 L899.7,1493.0 L899.8,1490.0 L899.8,1486.2 L900.4,1484.5 L900.3,1483.4 L901.5,1476.0 L901.5,1474.3 L901.5,1470.3 L902.3,1467.2 L901.9,1464.2 L903.0,1463.7 L902.0,1458.4 L903.6,1461.6 L904.2,1463.9 L905.4,1467.0 L906.5,1474.6 L906.3,1476.6 L906.7,1476.7 L906.6,1479.4 L907.0,1484.5 L907.5,1486.3 L906.8,1489.6 L908.2,1493.1 L907.7,1493.1 L907.7,1499.5 L907.7,1503.6 L908.0,1503.8 L908.2,1507.8 L909.0,1510.2 L908.1,1513.9 L909.6,1519.1 L909.6,1522.1 L910.9,1524.0 L911.0,1525.4 L911.5,1530.8 L912.6,1534.1 L913.9,1535.9 L913.8,1541.4 L913.8,1541.4 L914.6,1544.5 L915.3,1546.9 L916.2,1549.3 L915.9,1551.9 L918.2,1552.3 L921.5,1548.8 L924.1,1547.3 L924.4,1549.4 L925.6,1554.9 L926.1,1555.7 L927.3,1559.7 L928.1,1562.5 L928.4,1563.7 L931.3,1563.4 L936.2,1563.3 L938.6,1562.8 L941.8,1560.3 L944.7,1561.3 L947.6,1557.9 L950.0,1555.6 L952.0,1553.2 L954.7,1552.6 L957.5,1549.7 L958.9,1545.8 L960.4,1543.3 L963.6,1543.0 L965.1,1538.7 L966.5,1536.5 L968.0,1533.6 L969.2,1530.1 L970.9,1528.4 L972.0,1525.7 L975.0,1520.9 L977.5,1519.2 L979.9,1517.0 L981.0,1517.5 L982.8,1522.7 L984.4,1526.4 L984.2,1530.6 L986.8,1532.2 L990.0,1535.4 L990.8,1536.4 L991.6,1540.4 L993.4,1541.2 L994.4,1546.7 L995.5,1547.7 L995.9,1550.1 L996.3,1554.9 L997.5,1559.2 L998.2,1560.1 L998.2,1565.5 L999.4,1566.5 L999.6,1568.2 L1000.9,1571.3 L1001.5,1576.3 L1001.7,1576.5 L1002.7,1583.3 L1004.0,1582.4 L1006.6,1586.7 L1006.5,1585.1 L1007.1,1581.1 L1007.5,1576.6 L1008.3,1573.4 L1008.0,1570.8 L1009.7,1569.9 L1010.6,1566.8 L1010.8,1562.8 L1010.5,1560.1 L1010.8,1557.4 L1014.2,1559.3 L1017.2,1561.3 L1020.0,1557.9 L1021.4,1555.2 L1024.1,1551.3 L1026.4,1547.0 L1029.5,1547.9 L1033.1,1544.6 L1036.6,1541.9 L1037.1,1537.9 L1037.1,1536.3 L1038.4,1533.2 L1038.8,1529.3 L1040.8,1525.5 L1040.7,1531.5 L1041.2,1533.3 L1041.1,1537.5 L1042.4,1541.5 L1043.1,1542.7 L1044.0,1546.2 L1045.3,1551.8 L1047.5,1553.3 L1049.1,1557.6 L1049.9,1559.5 L1050.5,1562.9 L1051.5,1565.7 L1051.9,1568.1 L1053.1,1569.9 L1053.8,1575.0 L1054.1,1570.6 L1054.3,1567.3 L1055.0,1564.4 L1054.2,1560.3 L1055.3,1559.0 L1055.2,1554.0 L1055.6,1551.6 L1055.7,1549.6 L1055.9,1546.9 L1057.8,1543.4 L1059.9,1543.3 L1061.5,1545.6 L1061.4,1547.4 L1062.9,1551.3 L1062.7,1553.1 L1063.9,1557.0 L1065.2,1558.4 L1068.9,1561.2 L1072.2,1563.8 L1072.4,1563.3 L1073.5,1557.2 L1075.5,1554.6 L1076.4,1550.0 L1077.7,1549.4 L1078.0,1545.7 L1078.5,1540.9 L1078.9,1538.6 L1080.9,1535.9 L1081.6,1532.4 L1081.7,1526.6 L1083.1,1525.1 L1084.1,1521.2 L1084.2,1518.7 L1085.1,1512.8 L1086.0,1510.4 L1087.4,1508.3 L1089.9,1509.4 L1091.9,1503.5 L1093.3,1501.4 L1094.7,1498.2 L1096.2,1494.4 L1097.7,1498.5 L1098.1,1501.6 L1098.8,1503.8 L1099.4,1509.3 L1100.6,1508.7 L1101.5,1512.4 L1103.2,1517.2 L1104.7,1518.6 L1105.7,1516.2 L1107.0,1514.0 L1107.6,1511.5 L1108.0,1507.9 L1109.1,1503.3 L1110.0,1499.1 L1110.4,1496.5 L1112.3,1493.2 L1112.3,1490.0 L1113.3,1486.8 L1113.8,1484.3 L1117.4,1482.7 L1119.6,1478.2 L1120.8,1476.9 L1121.9,1472.5 L1123.2,1469.4 L1123.7,1468.3 L1124.5,1463.6 L1124.9,1458.4 L1124.7,1456.4 L1126.5,1455.3 L1126.9,1451.8 L1127.9,1448.9 L1127.9,1442.5 L1128.9,1438.7 L1130.6,1435.4 L1131.3,1433.5 L1133.7,1431.0 L1135.3,1429.7 L1135.5,1429.6 L1136.2,1434.5 L1137.9,1438.6 L1137.6,1443.5 L1138.8,1445.4 L1139.6,1444.4 L1139.6,1439.1 L1139.6,1434.2 L1140.4,1434.0 L1140.3,1430.3 L1142.3,1425.6 L1140.7,1424.5 L1141.6,1419.9 L1142.4,1417.1 L1142.9,1414.7 L1144.6,1411.7 L1145.0,1410.7 L1146.8,1407.8 L1148.2,1401.5 L1148.8,1400.9 L1148.9,1396.6 L1149.7,1391.9 L1150.3,1391.4 L1151.5,1386.5 L1151.9,1383.7 L1152.8,1380.7 L1152.8,1378.7 L1153.9,1371.3 L1155.3,1370.0 L1155.9,1374.5 L1156.7,1378.4 L1157.7,1380.5 L1158.4,1383.7 L1158.6,1387.2 L1159.8,1391.6 L1159.6,1391.9 L1160.1,1397.9 L1160.7,1397.1 L1160.1,1402.7 L1160.8,1404.9 L1160.4,1412.3 L1161.2,1410.2 L1161.0,1417.5 L1161.0,1419.8 L1161.7,1414.1 L1161.9,1414.2 L1163.1,1408.9 L1163.5,1405.6 L1163.7,1403.4 L1163.6,1400.7 L1164.4,1393.7 L1164.7,1393.0 L1165.3,1395.9 L1166.0,1397.2 L1167.2,1403.5 L1167.6,1406.2 L1168.2,1409.3 L1168.3,1410.9 L1169.4,1417.1 L1170.1,1421.0 L1171.4,1414.9 L1173.6,1413.0 L1174.6,1407.8 L1174.4,1405.1 L1173.9,1402.3 L1174.1,1401.3 L1174.9,1397.8 L1175.0,1390.3 L1175.3,1390.4 L1174.2,1387.3 L1175.7,1386.3 L1175.1,1382.1 L1175.8,1377.9 L1175.7,1375.7 L1176.3,1372.9 L1176.0,1367.4 L1179.7,1365.6 L1179.6,1367.5 L1180.8,1368.8 L1181.4,1377.5 L1181.9,1377.1 L1183.3,1381.5 L1182.8,1384.1 L1183.0,1385.5 L1182.6,1389.0 L1183.7,1393.9 L1184.0,1394.6 L1183.5,1402.1 L1183.6,1401.1 L1183.9,1406.1 L1184.4,1411.3 L1185.1,1414.7 L1185.0,1415.3 L1184.8,1417.2 L1187.2,1423.9 L1188.4,1424.6 L1190.3,1429.6 L1195.1,1430.1 L1195.5,1433.9 L1196.1,1438.4 L1196.4,1440.1 L1197.3,1444.7 L1197.6,1447.8 L1197.8,1450.3 L1197.5,1450.6 L1198.0,1456.7 L1199.2,1459.2 L1199.6,1464.3 L1200.1,1462.8 L1200.4,1467.6 L1202.0,1471.9 L1202.4,1475.0 L1205.0,1470.6 L1207.4,1469.9 L1208.4,1470.7 L1208.2,1475.3 L1210.0,1476.7 L1209.2,1481.7 L1210.5,1483.5 L1210.8,1487.9 L1210.7,1490.4 L1212.2,1494.6 L1213.0,1496.4 L1212.6,1501.3 L1214.1,1502.0 L1214.8,1507.2 L1214.9,1506.1 L1215.4,1511.2 L1215.9,1515.1 L1216.5,1518.9 L1218.2,1520.0 L1219.0,1523.8 L1219.8,1527.2 L1221.2,1529.4 L1222.0,1532.2 L1222.8,1536.1 L1224.2,1537.0 L1224.0,1543.9 L1225.5,1547.4 L1225.7,1548.6 L1227.1,1553.7 L1227.7,1554.1 L1228.7,1557.6 L1228.9,1561.8 L1229.3,1562.7 L1234.3,1562.1 L1237.4,1562.0 L1241.1,1559.7 L1243.4,1555.8 L1247.9,1555.1 L1251.0,1555.1 L1252.5,1559.6 L1252.4,1559.0 L1253.4,1563.2 L1254.3,1567.1 L1254.3,1569.8 L1255.9,1571.2 L1257.5,1568.8 L1257.9,1567.5 L1259.6,1562.1 L1260.5,1558.5 L1261.0,1556.5 L1262.6,1554.1 L1264.1,1554.8 L1265.6,1561.0 L1268.3,1560.5 L1270.5,1564.7 L1272.3,1561.6 L1275.4,1561.1 L1278.1,1559.5 L1279.8,1556.6 L1282.2,1556.0 L1285.1,1554.8 L1286.2,1555.6 L1287.0,1558.7 L1288.3,1561.1 L1288.9,1564.6 L1289.9,1568.3 L1291.8,1571.2 L1292.7,1574.5 L1295.7,1578.9 L1297.6,1584.0 L1299.6,1584.9 L1301.3,1586.5 L1302.4,1590.4 L1302.6,1596.9 L1302.3,1600.2 L1302.1,1603.4 L1301.8,1603.9 L1305.0,1602.1 L1306.8,1599.3 L1308.9,1596.3 L1308.8,1599.8 L1309.6,1602.7 L1310.2,1609.7 L1314.4,1605.8 L1316.1,1610.8 L1317.5,1614.1 L1320.0,1613.3 L1322.5,1613.4 L1323.8,1612.4 L1324.4,1617.7 L1326.1,1619.0 L1327.0,1622.1 L1328.7,1617.4 L1329.9,1615.1 L1332.8,1613.2 L1333.0,1607.8 L1333.9,1608.4 L1334.6,1605.0 L1334.7,1601.0 L1335.1,1599.1 L1335.6,1597.2 L1336.5,1591.1 L1336.4,1592.6 L1336.3,1597.3 L1337.8,1599.7 L1337.4,1603.9 L1337.2,1607.7 L1336.7,1611.2 L1339.2,1607.0 L1339.3,1603.5 L1340.5,1599.3 L1341.2,1597.1 L1341.2,1600.1 L1341.6,1603.6 L1341.2,1605.1 L1341.6,1610.4 L1341.9,1609.9 L1341.5,1617.5 L1342.2,1616.6 L1341.9,1621.5 L1342.9,1626.4 L1342.4,1627.1 L1343.9,1622.9 L1344.4,1621.2 L1344.4,1619.0 L1345.2,1613.0 L1345.2,1617.2 L1346.7,1622.1 L1346.3,1625.3 L1348.3,1628.7 L1349.1,1630.3 L1350.2,1626.8 L1351.0,1622.5 L1352.5,1618.4 L1353.2,1621.4 L1355.2,1628.2 L1355.5,1622.8 L1356.3,1620.6 L1355.7,1619.9 L1356.4,1617.5 L1357.7,1611.0 L1357.8,1613.6 L1360.6,1619.2 L1360.6,1612.2 L1360.9,1610.7 L1361.7,1607.7 L1362.1,1602.7 L1362.3,1603.3 L1363.2,1605.7 L1365.9,1608.3 L1369.5,1610.6 L1369.3,1612.4 L1369.8,1616.5 L1372.1,1618.2 L1374.0,1622.2 L1374.8,1622.8 L1376.4,1627.2 L1376.0,1631.2 L1376.0,1633.0 L1379.9,1637.4 L1381.2,1633.9 L1381.1,1630.3 L1382.5,1629.1 L1383.6,1625.4 L1384.4,1623.1 L1385.7,1619.9 L1387.6,1622.7 L1390.5,1622.8 L1391.0,1627.2 L1393.5,1627.4 L1397.9,1624.0 L1398.8,1621.6 L1399.3,1624.9 L1400.0,1624.1 L1401.2,1629.3 L1401.2,1631.7 L1403.0,1635.8 L1403.9,1636.8 L1406.6,1639.0 L1408.8,1643.5 L1408.9,1639.9 L1409.3,1635.2 L1410.2,1633.1 L1411.5,1630.1 L1412.2,1627.2 L1412.4,1624.6 L1413.7,1625.2 L1416.3,1626.8 L1418.4,1628.6 L1419.9,1630.3 L1421.0,1637.6 L1422.6,1640.3 L1423.2,1640.6 L1425.2,1646.0 L1427.8,1645.4 L1430.2,1649.9 L1433.1,1653.1 L1436.1,1652.9 L1437.5,1655.7 L1439.0,1659.8 L1441.7,1661.6 L1442.6,1664.4 L1443.9,1669.3 L1446.0,1672.2 L1447.9,1670.6 L1449.9,1668.2 L1452.2,1666.0 L1454.3,1663.1 L1456.9,1659.9 L1459.4,1657.7 L1461.6,1659.6 L1464.7,1659.3 L1466.7,1657.7 L1469.0,1652.8 L1469.9,1653.9 L1474.9,1655.4 L1477.7,1656.8 L1479.2,1662.7 L1481.0,1662.8 L1484.0,1667.7 L1487.6,1672.3 L1491.2,1665.6 L1494.2,1666.1 L1497.5,1662.3 L1499.8,1660.2 L1502.3,1658.3 L1504.0,1656.0 L1504.8,1651.2 L1507.0,1647.3 L1507.4,1645.4 L1508.4,1641.8 L1510.7,1648.0 L1512.5,1646.8 L1514.2,1651.2 L1515.5,1652.0 L1516.8,1655.9 L1522.8,1654.4 L1527.0,1652.7 L1528.8,1652.7 L1529.3,1655.6 L1530.0,1660.0 L1531.3,1661.1 L1532.7,1665.1 L1534.4,1667.2 L1536.5,1671.7 L1539.2,1671.6 L1540.5,1671.7 L1542.0,1669.7 L1544.0,1665.8 L1544.7,1662.7 L1547.3,1659.1 L1549.0,1655.7 L1551.7,1653.6 L1555.0,1648.7 L1557.7,1649.0 L1561.3,1644.7 L1562.3,1645.1 L1565.0,1643.6 L1564.7,1642.9 L1565.3,1647.2 L1566.3,1651.8 L1565.6,1654.6 L1565.8,1656.6 L1566.6,1660.3 L1566.4,1664.4 L1567.0,1666.0 L1567.1,1667.9 L1567.8,1672.9 L1568.6,1671.7 L1569.0,1665.9 L1570.3,1664.2 L1571.1,1661.2 L1573.3,1661.5 L1574.7,1664.9 L1575.9,1670.0 L1577.2,1673.7 L1578.0,1678.1 L1579.2,1677.9 L1579.7,1682.9 L1582.3,1679.8 L1583.3,1677.8 L1585.3,1674.9 L1585.9,1671.6 L1586.5,1668.2 L1587.8,1665.5 L1588.5,1663.8 L1589.5,1657.0 L1589.6,1656.0 L1591.2,1655.4 L1593.5,1653.2 L1594.3,1648.6 L1594.8,1645.7 L1595.4,1643.1 L1597.5,1639.5 L1598.3,1634.2 L1599.7,1632.4 L1602.2,1628.7 L1604.3,1626.7 L1605.7,1622.4 L1606.2,1618.8 L1607.9,1615.6 L1610.7,1614.6 L1612.8,1611.6 L1612.8,1613.9 L1615.0,1615.1 L1617.3,1621.4 L1617.4,1616.9 L1618.9,1618.7 L1620.6,1624.6 L1622.3,1626.5 L1625.2,1626.3 L1627.3,1624.4 L1627.1,1628.5 L1627.1,1630.3 L1627.6,1633.6 L1627.1,1640.2 L1630.2,1632.8 L1631.7,1630.9 L1633.9,1628.4 L1635.2,1626.4 L1636.9,1623.0 L1639.8,1621.2 L1640.4,1615.6 L1641.0,1609.3 L1644.0,1607.4 L1644.9,1613.9 L1646.2,1614.5 L1647.2,1620.4 L1649.2,1624.5 L1648.5,1619.4 L1649.4,1616.1 L1649.3,1611.3 L1652.8,1614.2 L1654.9,1612.8 L1656.7,1615.3 L1657.1,1619.6 L1658.3,1619.6 L1659.5,1612.8 L1660.5,1611.3 L1661.3,1607.7 L1661.4,1608.5 L1662.4,1612.5 L1664.1,1616.9 L1667.0,1620.6 L1666.4,1615.4 L1666.8,1616.5 L1668.1,1619.4 L1668.8,1624.2 L1669.8,1627.6 L1669.6,1623.4 L1669.0,1620.4 L1670.0,1618.8 L1670.3,1612.8 L1669.5,1611.6 L1669.8,1610.6 L1670.1,1602.1 L1670.5,1603.0 L1670.8,1598.2 L1671.7,1597.0 L1672.9,1590.7 L1673.1,1588.1 L1675.3,1585.9 L1679.7,1584.1 L1679.9,1579.2 L1681.4,1576.7 L1682.2,1575.8 L1683.9,1569.5 L1685.5,1567.3 L1686.4,1564.2 L1686.9,1561.7 L1686.6,1558.8 L1686.9,1555.0 L1688.0,1550.4 L1687.2,1548.2 L1687.7,1547.3 L1687.6,1545.5 L1689.1,1539.0 L1688.9,1536.0 L1690.3,1534.0 L1691.6,1530.8 L1693.3,1526.3 L1694.0,1523.4 L1695.0,1521.0 L1696.2,1518.2 L1696.1,1521.0 L1696.3,1523.1 L1696.5,1527.3 L1696.9,1529.4 L1697.0,1533.3 L1697.0,1538.4 L1697.9,1541.9 L1699.0,1543.4 L1701.4,1544.4 L1702.9,1547.1 L1703.0,1552.1 L1703.9,1557.1 L1704.9,1557.9 L1705.8,1561.0 L1705.9,1565.4 L1707.3,1568.7 L1706.7,1572.7 L1707.5,1574.3 L1708.6,1579.5 L1707.9,1578.3 L1709.5,1583.4 L1709.4,1582.2 L1710.2,1588.8 L1709.7,1588.9 L1710.5,1581.3 L1712.3,1578.8 L1713.3,1574.7 L1713.4,1571.0 L1713.6,1566.7 L1715.8,1564.0 L1715.6,1563.9 L1716.7,1558.3 L1717.2,1554.5 L1717.1,1552.8 L1719.2,1556.9 L1720.7,1557.7 L1722.6,1561.3 L1722.9,1563.9 L1723.6,1568.9 L1724.7,1572.0 L1723.8,1576.1 L1725.9,1578.4 L1727.2,1576.3 L1728.9,1573.6 L1730.7,1575.1 L1731.7,1578.9 L1731.6,1582.1 L1733.3,1588.4 L1734.3,1589.2 L1734.8,1592.0 L1736.6,1595.0 L1737.7,1600.2 L1740.1,1603.3" fill="none" stroke="#0B335B" stroke-width="6.8" stroke-linejoin="round" stroke-linecap="round" clip-path="url(#lc)"/>
<path d="M168.8,1732.5 L169.2,1729.5 L169.3,1725.7 L169.6,1725.7 L170.4,1718.2 L170.2,1717.3 L170.4,1712.4 L170.6,1711.3 L170.7,1708.5 L170.2,1703.1 L171.5,1702.4 L171.6,1698.2 L171.9,1697.0 L172.4,1692.4 L172.1,1690.7 L172.7,1687.4 L172.6,1682.0 L173.0,1679.2 L173.6,1678.0 L172.5,1674.6 L174.1,1671.9 L173.6,1666.4 L176.7,1666.3 L178.8,1661.0 L178.7,1659.7 L179.4,1655.4 L180.4,1654.5 L179.8,1649.1 L181.6,1646.8 L181.4,1644.6 L181.6,1639.1 L182.5,1639.5 L183.5,1634.4 L184.1,1630.8 L183.9,1626.1 L185.1,1626.3 L185.7,1622.0 L186.0,1620.4 L186.2,1615.7 L188.6,1620.4 L190.2,1625.0 L192.9,1624.3 L193.0,1627.5 L192.3,1629.8 L192.8,1632.5 L192.9,1636.5 L192.1,1638.9 L192.8,1639.2 L193.5,1634.0 L193.2,1633.3 L193.8,1627.9 L194.1,1626.6 L194.7,1621.2 L195.1,1617.5 L197.1,1618.8 L200.1,1624.0 L203.3,1622.6 L203.4,1618.7 L204.6,1617.7 L205.8,1612.4 L206.3,1610.0 L207.4,1610.4 L208.7,1606.4 L209.8,1610.3 L212.3,1613.6 L213.1,1613.6 L214.2,1619.0 L214.6,1623.5 L214.6,1623.2 L214.7,1627.8 L215.1,1631.7 L215.6,1632.7 L215.2,1637.8 L215.9,1640.6 L216.1,1644.3 L216.8,1647.2 L216.7,1648.2 L215.9,1651.8 L217.4,1653.9 L217.7,1659.9 L218.0,1655.8 L218.3,1654.6 L219.1,1650.2 L219.3,1647.3 L220.5,1643.7 L220.4,1639.0 L221.0,1636.1 L220.9,1635.1 L221.8,1628.2 L222.2,1629.9 L223.7,1622.8 L224.6,1622.4 L226.0,1625.4 L226.6,1629.5 L228.1,1633.1 L229.1,1627.9 L231.0,1628.8 L232.8,1622.4 L232.6,1624.2 L237.3,1625.6 L238.3,1630.2 L237.5,1629.0 L238.6,1635.3 L238.6,1637.5 L238.9,1642.2 L238.5,1644.1 L239.2,1646.0 L239.4,1648.8 L240.3,1653.2 L241.3,1656.0 L241.0,1659.8 L241.3,1664.4 L242.9,1665.2 L244.5,1667.5 L246.2,1671.3 L247.9,1673.4 L249.5,1677.6 L251.0,1681.2 L254.1,1682.1 L258.3,1682.8 L258.2,1684.0 L259.3,1688.5 L260.1,1690.7 L260.7,1696.8 L261.4,1697.1 L262.3,1700.6 L264.6,1704.5 L265.5,1705.6 L267.1,1708.7 L268.1,1713.8 L269.7,1717.3 L270.3,1718.4 L271.1,1725.0 L271.4,1728.6 L272.3,1726.6 L273.3,1718.6 L273.1,1719.6 L274.4,1722.2 L274.9,1722.6 L275.5,1726.8 L276.4,1728.6 L277.1,1733.1 L277.2,1733.8 L277.4,1737.8 L278.8,1740.3 L279.8,1737.3 L281.3,1734.5 L282.8,1730.6 L283.4,1725.4 L283.6,1723.8 L283.3,1719.1 L284.3,1716.8 L284.1,1712.6 L285.6,1711.1 L285.2,1708.7 L285.0,1703.7 L285.9,1700.5 L285.3,1698.6 L286.5,1691.6 L286.1,1690.2 L286.1,1686.9 L287.5,1684.8 L286.6,1681.8 L286.4,1679.1 L287.0,1678.9 L287.3,1675.6 L286.9,1670.6 L287.3,1665.5 L290.8,1670.9 L291.3,1674.0 L291.6,1676.8 L292.9,1680.7 L293.0,1684.6 L293.2,1687.8 L294.3,1691.2 L294.8,1693.8 L295.8,1698.1 L295.9,1701.2 L297.1,1696.6 L298.8,1693.9 L299.0,1689.4 L301.1,1688.7 L302.8,1693.2 L304.3,1695.1 L305.5,1698.0 L305.6,1702.2 L305.4,1704.8 L306.4,1706.7 L305.3,1708.5 L306.2,1711.6 L306.9,1715.0 L308.0,1719.7 L306.7,1721.6 L308.1,1725.9 L307.5,1729.5 L308.0,1734.3 L308.4,1735.4 L309.2,1737.3 L309.2,1742.6 L309.8,1744.2 L310.2,1749.7 L313.5,1748.1 L316.3,1745.5 L316.6,1743.9 L317.2,1740.7 L317.5,1737.1 L318.1,1734.6 L318.1,1733.2 L318.4,1729.5 L319.3,1728.8 L318.5,1722.3 L319.9,1721.7 L319.8,1717.6 L320.7,1716.9 L321.4,1709.0 L321.7,1705.4 L323.6,1703.0 L324.6,1700.8 L324.7,1697.8 L325.6,1695.2 L325.6,1690.3 L326.5,1688.1 L327.4,1683.4 L327.6,1684.3 L329.1,1677.9 L328.8,1676.0 L328.6,1673.9 L329.3,1672.1 L329.9,1666.6 L329.0,1663.9 L330.8,1660.1 L331.2,1658.9 L330.5,1654.7 L332.0,1659.3 L332.5,1661.6 L333.0,1664.6 L333.7,1667.0 L334.6,1671.2 L335.2,1674.3 L339.0,1677.7 L339.3,1681.2 L339.5,1683.4 L339.3,1686.4 L339.0,1689.6 L340.2,1693.9 L339.6,1696.3 L340.4,1697.3 L340.4,1702.5 L340.8,1705.5 L340.0,1705.7 L341.6,1710.8 L341.5,1716.0 L341.2,1716.0 L346.7,1715.0 L346.8,1712.6 L347.4,1710.2 L346.9,1704.0 L347.9,1702.8 L348.6,1699.5 L348.7,1699.3 L349.7,1695.1 L350.0,1689.5 L350.0,1687.4 L350.5,1683.3 L352.0,1679.7 L353.1,1678.7 L353.7,1674.6 L354.5,1672.5 L354.9,1667.2 L354.5,1668.2 L355.4,1662.0 L355.4,1658.4 L356.3,1657.3 L356.0,1651.3 L357.3,1649.4 L359.3,1646.9 L361.1,1645.3 L364.3,1642.7 L364.0,1647.5 L364.8,1647.8 L364.8,1651.7 L365.4,1657.4 L365.5,1659.0 L366.2,1661.0 L366.2,1666.3 L367.0,1666.2 L367.1,1671.2 L367.5,1675.4 L368.0,1678.0 L367.2,1679.6 L367.0,1684.4 L368.0,1687.8 L368.1,1687.8 L368.0,1692.5 L368.5,1696.8 L369.2,1699.2 L368.0,1700.5 L368.2,1703.9 L368.7,1708.2 L369.3,1712.3 L370.0,1713.4 L370.2,1717.0 L370.2,1721.7 L372.0,1717.4 L375.6,1714.0 L377.6,1712.7 L379.8,1713.3 L382.2,1716.2 L385.4,1720.3 L387.8,1721.0 L390.2,1725.2 L391.7,1721.0 L392.8,1720.5 L394.5,1714.4 L394.6,1710.6 L396.6,1716.4 L397.6,1717.6 L399.2,1723.9 L400.0,1724.8 L401.7,1722.6 L403.0,1718.5 L403.9,1715.6 L404.7,1712.6 L406.1,1710.6 L407.7,1713.2 L409.0,1714.7 L411.5,1718.1 L413.2,1723.7 L412.1,1718.5 L413.4,1716.1 L414.0,1712.1 L415.1,1709.5 L415.5,1705.6 L415.4,1704.9 L416.1,1698.6 L417.2,1704.3 L418.2,1704.9 L419.6,1710.0 L420.3,1711.3 L421.3,1718.0 L422.4,1719.7 L423.7,1715.0 L424.2,1711.7 L426.3,1708.1 L427.4,1703.8 L428.2,1702.7 L430.1,1705.5 L431.8,1708.1 L433.2,1714.2 L434.6,1714.4 L435.2,1710.4 L435.2,1709.8 L436.3,1705.8 L437.5,1703.6 L437.1,1698.3 L437.3,1698.4 L437.0,1695.4 L437.2,1688.6 L438.3,1692.1 L439.3,1694.8 L439.9,1696.9 L440.6,1703.8 L441.3,1706.0 L442.7,1707.4 L442.5,1712.0 L443.9,1714.7 L444.7,1713.5 L445.8,1708.7 L447.5,1706.9 L448.6,1702.0 L450.8,1698.9 L450.6,1696.7 L450.4,1693.7 L450.8,1691.0 L450.2,1687.5 L451.6,1683.1 L451.7,1684.2 L452.9,1678.9 L452.6,1674.6 L454.0,1671.4 L454.2,1669.9 L455.1,1665.0 L457.1,1661.0 L457.5,1660.2 L458.5,1654.9 L459.2,1653.1 L461.0,1651.6 L460.8,1648.3 L462.3,1643.8 L462.8,1640.4 L463.2,1636.7 L467.3,1638.1 L470.7,1634.5 L471.2,1634.9 L471.9,1639.4 L473.3,1641.9 L473.6,1645.6 L475.2,1651.1 L475.3,1655.4 L476.3,1655.2 L477.0,1659.4 L477.8,1662.9 L479.0,1667.1 L478.5,1669.7 L479.7,1670.6 L479.7,1674.0 L480.3,1672.7 L482.4,1670.3 L483.5,1665.7 L485.3,1663.7 L486.4,1657.8 L488.4,1656.9 L489.3,1654.6 L490.9,1656.2 L492.1,1659.6 L492.9,1662.9 L494.6,1665.5 L496.7,1669.2 L498.9,1674.8 L501.3,1675.6 L502.5,1671.3 L504.5,1668.0 L506.0,1663.9 L507.1,1661.4 L507.1,1659.2 L507.8,1655.4 L508.5,1651.3 L509.2,1648.3 L509.5,1646.7 L510.5,1641.3 L511.0,1640.2 L513.5,1643.8 L515.5,1647.4 L517.3,1649.0 L518.2,1646.4 L518.4,1644.6 L519.3,1642.2 L519.1,1637.0 L520.0,1632.6 L519.8,1632.0 L520.5,1627.0 L521.5,1625.7 L522.3,1621.4 L522.6,1618.2 L523.6,1612.8 L524.0,1613.1 L524.7,1608.9 L525.1,1608.2 L525.4,1602.7 L527.1,1599.9 L527.3,1595.2 L527.2,1593.8 L528.5,1593.3 L528.6,1586.1 L528.5,1583.0 L530.5,1580.6 L532.2,1576.2 L533.4,1575.2 L532.4,1569.0 L533.3,1568.8 L533.6,1566.4 L534.2,1562.7 L534.0,1557.4 L535.1,1555.3 L534.3,1551.2 L536.7,1549.8 L538.1,1548.7 L540.1,1545.8 L540.9,1541.1 L541.4,1536.5 L542.6,1536.0 L543.4,1531.5 L543.4,1528.5 L544.0,1525.9 L544.8,1521.6 L544.5,1520.5 L545.4,1519.3 L545.6,1512.3 L545.2,1509.3 L546.0,1507.4 L546.2,1503.2 L546.5,1500.8 L547.1,1497.9 L546.9,1493.2 L548.1,1491.4 L547.9,1488.3 L548.9,1484.7 L548.9,1481.7 L549.5,1477.5 L549.9,1476.9 L550.7,1473.2 L550.8,1471.2 L551.4,1467.8 L551.1,1461.5 L552.4,1459.3 L552.3,1455.3 L553.5,1458.1 L553.5,1461.0 L553.8,1468.7 L555.3,1468.4 L554.4,1474.2 L554.9,1473.0 L555.9,1477.0 L555.6,1482.9 L556.1,1483.3 L556.6,1487.6 L557.2,1491.1 L557.5,1495.6 L557.8,1498.7 L557.3,1501.2 L557.4,1501.7 L557.1,1507.8 L556.8,1509.0 L557.4,1513.1 L557.7,1516.6 L558.2,1518.9 L558.1,1519.9 L558.7,1524.2 L558.7,1529.5 L559.4,1526.8 L559.8,1521.0 L559.7,1521.7 L559.8,1515.3 L560.1,1512.9 L559.9,1511.8 L560.3,1506.0 L560.3,1506.8 L560.4,1502.1 L561.1,1499.6 L561.1,1493.8 L561.2,1490.7 L562.7,1489.1 L561.7,1487.4 L562.3,1482.5 L562.5,1479.9 L562.9,1478.6 L564.1,1473.1 L565.8,1471.4 L567.7,1467.5 L568.2,1468.8 L568.2,1474.5 L568.8,1476.9 L568.6,1478.6 L568.7,1481.8 L569.3,1483.5 L570.1,1487.4 L570.1,1492.3 L570.1,1492.4 L571.0,1498.3 L570.8,1502.3 L571.6,1502.8 L571.7,1505.0 L572.2,1512.2 L572.5,1514.7 L572.8,1516.5 L574.3,1522.2 L574.6,1524.2 L575.7,1523.4 L574.8,1532.2 L576.8,1533.9 L576.3,1536.8 L576.7,1539.1 L577.1,1543.0 L577.8,1547.4 L578.1,1550.4 L577.5,1554.5 L577.1,1556.0 L578.5,1558.3 L579.3,1560.8 L578.3,1564.6 L579.1,1569.4 L579.2,1572.3 L579.1,1573.9 L579.6,1576.1 L579.9,1580.4 L580.3,1582.7 L581.5,1580.8 L583.2,1577.7 L584.9,1574.8 L585.8,1574.2 L586.3,1570.0 L586.5,1565.9 L587.4,1562.9 L587.7,1561.1 L588.7,1557.2 L589.1,1554.6 L589.7,1551.0 L590.9,1549.5 L592.0,1544.9 L593.0,1541.3 L593.3,1541.5 L595.1,1537.1 L594.9,1533.5 L594.7,1530.8 L595.1,1526.9 L595.9,1523.9 L596.2,1522.8 L595.9,1518.0 L595.6,1513.2 L596.0,1512.3 L596.2,1508.7 L596.4,1504.6 L600.4,1504.6 L603.5,1497.6 L605.5,1498.6 L605.7,1500.1 L606.1,1505.9 L607.0,1508.0 L608.0,1513.5 L609.2,1512.3 L609.1,1515.7 L609.2,1519.4 L610.6,1523.4 L610.9,1526.3 L611.0,1529.7 L611.6,1535.2 L612.7,1536.4 L612.7,1536.5 L614.1,1545.3 L615.5,1546.7 L618.0,1548.5 L617.8,1545.3 L618.6,1542.8 L619.3,1541.1 L619.2,1539.8 L619.5,1532.6 L619.9,1529.1 L620.3,1527.0 L621.2,1522.0 L620.7,1519.9 L621.6,1518.3 L621.8,1516.5 L622.3,1511.2 L623.2,1516.1 L623.9,1517.8 L624.2,1521.1 L625.2,1523.6 L625.6,1524.8 L626.1,1531.7 L627.4,1533.3 L626.7,1538.8 L627.6,1542.7 L627.7,1543.8 L627.8,1547.2 L628.7,1547.2 L628.9,1555.1 L628.5,1553.0 L628.9,1557.0 L628.4,1559.2 L629.3,1561.6 L629.8,1567.1 L629.5,1571.3 L629.4,1573.4 L629.4,1575.1 L630.3,1577.8 L630.2,1582.3 L631.1,1586.1 L630.8,1587.2 L630.3,1592.7 L631.7,1590.8 L631.5,1596.4 L632.4,1593.8 L633.0,1590.2 L634.0,1588.6 L634.9,1583.3 L636.1,1581.5 L636.8,1577.7 L638.1,1575.4 L638.4,1570.4 L639.4,1565.0 L639.8,1563.1 L640.6,1560.4 L642.0,1558.7 L641.7,1557.5 L642.1,1551.1 L643.1,1549.4 L643.5,1546.8 L643.5,1541.3 L643.9,1539.1 L645.0,1534.5 L645.0,1531.1 L646.5,1530.6 L646.3,1525.0 L646.4,1528.8 L647.5,1531.1 L648.0,1537.4 L648.7,1539.1 L648.5,1541.8 L649.9,1544.4 L650.0,1548.3 L650.8,1550.8 L651.3,1554.4 L653.0,1556.5 L653.4,1558.7 L654.2,1564.4 L654.6,1567.9 L655.1,1569.9 L656.8,1572.9 L656.4,1577.4 L657.7,1578.7 L657.5,1573.4 L658.3,1574.5 L659.8,1568.3 L660.8,1568.0 L660.8,1563.5 L661.2,1560.2 L663.2,1554.7 L663.4,1552.5 L664.3,1550.2 L665.3,1548.0 L666.3,1545.0 L667.4,1541.8 L667.6,1537.7 L668.7,1532.9 L671.4,1530.6 L672.5,1523.8 L673.0,1530.8 L673.7,1532.5 L674.9,1536.1 L674.8,1539.7 L675.5,1544.5 L676.4,1546.4 L676.8,1543.0 L678.3,1539.7 L678.6,1534.9 L679.2,1534.5 L680.3,1530.8 L680.7,1527.6 L681.6,1526.6 L681.8,1526.2 L682.5,1530.3 L683.1,1534.6 L683.4,1536.3 L684.0,1538.5 L684.6,1542.2 L685.2,1546.7 L685.5,1542.0 L686.2,1539.7 L686.6,1538.5 L687.6,1533.0 L688.2,1533.5 L688.8,1529.1 L688.9,1528.0 L689.4,1520.9 L690.1,1520.3 L690.2,1515.4 L692.0,1514.1 L692.3,1516.3 L692.1,1519.8 L694.0,1522.2 L693.6,1525.8 L694.9,1529.0 L695.1,1531.6 L695.8,1536.1 L696.6,1539.1 L697.0,1538.3 L696.8,1544.7 L698.3,1548.1 L698.5,1547.7 L698.8,1553.5 L700.0,1555.6 L699.8,1558.0 L700.8,1556.9 L700.1,1554.0 L700.8,1547.4 L700.9,1545.1 L702.8,1546.0 L701.8,1538.6 L702.7,1536.8 L702.9,1531.0 L703.3,1528.9 L703.1,1526.7 L704.2,1521.3 L706.4,1521.7 L707.4,1517.7 L707.6,1514.4 L708.3,1512.4 L709.4,1508.1 L709.1,1505.4 L710.9,1504.3 L711.1,1499.1 L711.4,1497.2 L711.9,1494.8 L712.0,1487.6 L711.9,1486.3 L712.8,1485.3 L714.2,1481.5 L715.1,1484.8 L716.0,1487.3 L716.8,1492.7 L717.9,1494.3 L719.5,1498.8 L720.0,1501.1 L720.8,1504.2 L722.0,1500.9 L722.5,1498.2 L722.1,1493.6 L723.7,1490.9 L724.0,1488.1 L725.6,1485.0 L725.3,1481.5 L725.7,1479.6 L726.7,1477.2 L728.2,1473.9 L729.1,1470.1 L728.9,1467.3 L730.6,1462.5 L730.7,1462.9 L732.3,1460.1 L733.4,1455.3 L734.2,1453.2 L735.0,1448.7 L735.6,1451.8 L736.8,1454.4 L735.8,1456.9 L737.2,1461.2 L737.3,1464.6 L737.8,1466.2 L738.2,1470.5 L739.1,1475.2 L738.6,1476.4 L739.8,1482.3 L740.3,1483.8 L741.1,1484.2 L741.2,1489.2 L741.8,1494.4 L743.0,1497.2 L743.5,1500.9 L744.6,1502.6 L745.4,1505.3 L746.6,1501.6 L746.7,1498.7 L747.7,1498.5 L748.3,1495.9 L750.0,1490.9 L750.1,1488.4 L750.1,1483.0 L752.1,1480.7 L753.2,1476.6 L752.2,1474.0 L753.4,1473.2 L753.0,1468.0 L754.7,1463.6 L754.5,1459.7 L755.5,1459.1 L755.9,1455.1 L756.6,1451.3 L756.9,1455.5 L757.5,1458.2 L757.4,1461.4 L757.1,1461.3 L758.7,1466.7 L758.1,1468.8 L758.8,1472.6 L758.9,1476.8 L759.0,1482.1 L759.6,1483.6 L761.0,1482.6 L761.0,1488.0 L762.3,1490.6 L762.9,1494.6 L763.1,1497.6 L765.2,1500.0 L764.6,1504.8 L766.4,1508.7 L766.4,1510.6 L767.6,1513.7 L768.5,1518.7 L769.4,1520.7 L769.9,1526.3 L770.0,1523.6 L771.3,1518.1 L771.2,1517.3 L772.5,1513.2 L773.3,1506.7 L773.0,1505.6 L773.2,1503.1 L774.2,1500.7 L774.5,1495.3 L775.2,1494.8 L776.2,1498.3 L775.8,1498.7 L777.2,1502.4 L776.6,1507.3 L777.1,1511.1 L776.9,1511.6 L777.8,1514.0 L777.8,1520.4 L778.6,1521.6 L778.6,1524.8 L779.2,1526.5 L779.9,1529.3 L780.5,1533.6 L781.6,1534.5 L785.1,1537.9 L786.1,1537.8 L786.5,1534.1 L786.5,1529.2 L786.9,1526.4 L786.7,1522.3 L787.0,1521.5 L787.3,1516.6 L788.0,1516.2 L788.0,1513.0 L788.7,1507.7 L788.7,1503.6 L788.6,1503.6 L789.0,1500.5 L789.8,1494.3 L789.8,1496.0 L791.0,1497.5 L791.8,1498.6 L792.5,1507.7 L794.1,1506.2 L795.2,1508.2 L796.8,1516.2 L796.4,1517.5 L796.8,1521.4 L797.3,1523.2 L798.6,1527.2 L798.5,1527.7 L798.4,1534.3 L799.7,1535.9 L800.5,1539.2 L801.0,1542.0 L802.5,1545.2 L804.7,1549.1 L805.1,1551.2 L807.2,1547.7 L809.3,1545.9 L810.2,1547.0 L811.3,1549.7 L813.1,1556.9 L813.0,1560.8 L814.4,1557.8 L815.0,1562.7 L816.8,1561.2 L820.5,1559.6 L820.7,1561.3 L822.2,1566.7 L823.7,1567.1 L824.6,1568.9 L826.3,1570.2 L827.6,1566.8 L830.0,1565.1 L830.2,1568.3 L831.9,1573.2 L831.2,1573.3 L832.4,1576.7 L832.7,1580.7 L834.7,1584.7 L834.0,1585.1 L835.3,1589.2 L835.5,1593.9 L836.9,1597.0 L837.4,1600.7 L838.2,1600.9 L839.2,1603.9 L840.5,1610.0 L839.9,1606.0 L841.4,1602.1 L841.8,1598.6 L842.1,1596.0 L842.9,1591.7 L842.8,1590.1 L843.6,1587.2 L844.0,1587.8 L844.9,1593.0 L845.3,1595.2 L845.3,1600.4 L845.2,1604.0 L846.5,1604.8 L846.7,1608.7 L846.8,1611.3 L847.1,1611.6 L848.2,1611.0 L849.0,1608.5 L849.7,1605.7 L849.6,1603.1 L851.7,1597.6 L850.7,1596.1 L852.2,1593.4 L853.1,1587.2 L852.9,1586.5 L853.6,1581.7 L853.3,1579.3 L853.5,1576.6 L853.8,1571.4 L854.2,1570.8 L854.3,1563.0 L854.4,1563.7 L854.7,1563.6 L855.8,1564.3 L856.0,1571.9 L855.8,1571.3 L856.3,1575.7 L857.4,1576.7 L857.6,1578.9 L857.1,1584.1 L858.7,1585.7 L858.3,1586.9 L859.7,1590.7 L858.8,1595.1 L860.1,1598.5 L860.0,1601.5 L861.0,1598.1 L861.3,1594.7 L861.5,1593.3 L862.3,1586.4 L863.0,1584.9 L864.1,1579.6 L863.5,1578.7 L864.4,1574.1 L864.1,1572.7 L864.7,1567.4 L864.6,1568.4 L864.8,1564.9 L864.9,1562.4 L866.4,1556.7 L865.7,1555.3 L865.7,1552.2 L866.7,1548.8 L866.3,1545.1 L866.6,1541.2 L866.8,1539.1 L866.1,1533.9 L866.0,1533.3 L866.7,1527.8 L866.1,1525.9 L865.7,1523.7 L865.9,1521.8 L865.1,1518.5 L865.4,1511.9 L866.4,1510.9 L866.3,1507.0 L865.8,1504.2 L866.2,1501.0 L866.0,1497.9 L866.8,1500.5 L866.4,1501.6 L867.8,1508.1 L868.7,1510.0 L868.3,1512.1 L870.3,1509.9 L871.7,1507.2 L872.4,1501.6 L873.1,1507.9 L873.9,1510.7 L874.3,1514.1 L877.0,1517.1 L876.8,1517.0 L877.3,1520.6 L877.8,1515.7 L877.6,1516.3 L878.2,1513.1 L878.7,1507.5 L878.0,1506.5 L878.8,1502.9 L878.6,1501.0 L879.4,1498.0 L879.2,1494.3 L879.6,1489.0 L879.8,1485.0 L879.9,1484.2 L880.8,1479.6 L880.6,1476.9 L880.8,1474.0 L883.3,1472.0 L882.5,1467.8 L884.0,1464.1 L883.8,1462.5 L884.2,1458.6 L884.3,1455.4 L886.1,1461.4 L886.0,1463.5 L886.9,1465.8 L887.2,1470.3 L888.0,1471.5 L888.2,1476.1 L888.7,1477.0 L889.3,1480.3 L890.5,1484.5 L890.5,1479.8 L891.6,1477.6 L892.3,1474.7 L891.9,1469.3 L892.4,1466.7 L893.2,1464.1 L893.9,1458.5 L893.6,1455.6 L893.6,1453.7 L894.1,1450.2 L894.1,1450.0 L895.0,1446.8 L895.0,1439.5 L895.6,1440.6 L896.0,1437.0 L896.0,1435.2 L896.8,1431.7 L896.8,1428.9 L897.1,1423.5 L897.1,1421.1 L897.2,1416.4 L897.8,1415.8 L897.9,1412.9 L898.8,1407.1 L898.5,1404.4 L898.4,1402.8 L897.9,1400.2 L899.4,1397.1 L899.6,1395.6 L899.4,1391.6 L900.4,1387.7 L899.3,1383.8 L900.0,1378.8 L900.3,1378.8 L900.3,1374.5 L901.2,1370.8 L900.4,1368.6 L901.3,1366.2 L901.1,1361.7 L901.7,1360.4 L900.6,1356.6 L900.5,1355.1 L901.9,1349.2 L901.2,1346.5 L901.2,1344.6 L901.9,1338.5 L902.2,1339.2 L901.8,1334.1 L903.2,1331.7 L907.3,1331.7 L908.0,1333.2 L907.8,1335.4 L907.4,1338.5 L908.5,1343.9 L908.6,1348.1 L908.5,1349.8 L908.8,1353.1 L908.4,1355.1 L908.9,1358.5 L908.9,1361.3 L909.4,1364.7 L909.7,1368.6 L909.9,1371.8 L910.2,1375.3 L910.3,1375.7 L912.8,1380.5 L914.3,1382.4 L913.9,1383.1 L914.2,1387.3 L914.0,1388.1 L914.9,1392.5 L914.0,1397.7 L914.7,1399.2 L914.6,1403.7 L914.8,1407.2 L915.2,1409.1 L914.3,1415.6 L915.0,1414.6 L915.5,1419.8 L915.1,1425.2 L914.5,1426.9 L915.6,1428.8 L915.8,1431.2 L916.0,1432.9 L915.8,1440.2 L915.0,1442.5 L915.3,1442.9 L917.0,1446.6 L916.9,1448.3 L917.6,1453.1 L917.8,1454.5 L918.6,1460.2 L919.5,1463.4 L920.1,1467.4 L918.9,1471.2 L920.9,1464.5 L922.1,1464.0 L922.2,1458.0 L924.1,1455.8 L924.9,1460.0 L924.6,1461.2 L925.6,1463.9 L925.4,1467.6 L927.1,1474.8 L926.9,1475.3 L927.8,1480.6 L928.8,1479.4 L930.7,1475.5 L931.6,1471.4 L932.5,1477.1 L932.9,1475.8 L934.0,1479.6 L933.5,1481.9 L934.0,1486.7 L933.9,1489.0 L934.0,1491.6 L933.9,1497.1 L935.1,1496.7 L934.5,1502.0 L936.1,1504.2 L935.3,1507.2 L935.8,1510.3 L936.4,1514.8 L936.4,1518.6 L936.7,1519.1 L938.7,1520.6 L937.5,1523.4 L938.9,1528.4 L939.8,1530.4 L939.9,1536.0 L939.9,1541.1 L940.5,1543.3 L940.7,1546.1 L941.1,1549.1 L941.5,1551.2 L942.1,1555.0 L941.8,1557.0 L942.7,1563.2 L942.4,1557.9 L943.5,1556.7 L944.0,1550.8 L944.2,1550.4 L944.7,1545.9 L944.5,1543.4 L945.4,1540.2 L946.4,1538.6 L945.9,1534.3 L946.3,1531.1 L947.3,1529.0 L946.8,1523.9 L946.9,1522.2 L947.0,1520.1 L947.4,1514.0 L948.4,1508.7 L947.7,1509.2 L948.4,1507.8 L948.8,1505.3 L948.5,1500.3 L949.0,1497.0 L948.3,1493.4 L952.2,1497.3 L954.6,1500.6 L956.0,1493.7 L956.9,1493.6 L957.7,1488.6 L958.0,1487.1 L959.3,1482.3 L959.8,1477.7 L964.2,1481.0 L966.1,1479.2 L966.0,1476.8 L966.8,1470.2 L967.9,1470.0 L968.0,1463.2 L968.8,1458.3 L968.9,1460.4 L969.1,1454.5 L969.4,1451.7 L969.7,1448.9 L970.1,1445.8 L969.5,1442.0 L969.0,1440.7 L969.7,1435.9 L969.9,1433.6 L969.6,1431.0 L970.1,1429.0 L970.5,1425.5 L969.8,1421.1 L970.3,1417.4 L970.2,1415.4 L970.4,1413.1 L970.9,1411.9 L971.0,1408.1 L970.3,1405.1 L971.3,1398.9 L971.9,1396.9 L970.0,1396.9 L971.1,1390.5 L971.0,1389.9 L971.4,1385.0 L971.9,1381.2 L971.2,1378.7 L971.3,1377.3 L971.6,1372.0 L971.6,1367.7 L972.0,1367.4 L972.2,1363.9 L972.3,1359.9 L972.2,1358.3 L971.8,1355.8 L972.5,1352.1 L972.3,1351.6 L973.3,1351.3 L973.8,1356.4 L974.9,1358.0 L975.5,1363.5 L976.7,1367.0 L977.5,1367.5 L979.1,1373.2 L979.7,1376.1 L980.0,1380.6 L980.7,1383.2 L981.4,1385.3 L981.8,1388.4 L981.6,1391.2 L982.1,1395.8 L983.2,1397.1 L983.6,1401.3 L984.2,1402.8 L984.6,1406.0 L985.2,1412.4 L985.5,1412.8 L987.3,1418.3 L987.7,1418.0 L988.1,1424.5 L990.5,1422.1 L991.0,1419.5 L992.5,1415.4 L993.7,1413.6 L993.9,1411.8 L994.2,1417.9 L994.7,1419.7 L994.8,1422.2 L995.0,1426.9 L995.5,1432.0 L994.9,1433.6 L996.1,1434.4 L996.2,1439.0 L996.1,1442.9 L997.5,1445.9 L997.3,1449.4 L997.2,1452.3 L997.1,1454.2 L998.0,1458.7 L997.9,1459.6 L998.4,1462.9 L998.5,1467.0 L998.4,1470.1 L999.1,1471.7 L998.7,1474.2 L999.5,1479.2 L999.0,1481.9 L1000.1,1482.5 L1002.0,1482.0 L1003.5,1477.7 L1004.6,1477.7 L1005.7,1473.9 L1005.2,1469.7 L1004.8,1468.5 L1005.6,1465.7 L1005.4,1462.4 L1005.6,1458.7 L1006.6,1454.0 L1006.5,1451.8 L1006.0,1449.0 L1006.7,1444.7 L1006.5,1441.8 L1006.5,1439.2 L1007.2,1435.7 L1007.6,1432.8 L1006.9,1431.6 L1007.9,1426.2 L1007.7,1422.5 L1007.6,1420.3 L1008.2,1416.0 L1008.0,1413.6 L1008.4,1409.7 L1008.1,1411.7 L1008.9,1403.0 L1009.4,1400.0 L1008.6,1400.7 L1010.0,1394.3 L1009.3,1392.8 L1010.8,1389.8 L1010.6,1384.5 L1010.1,1383.5 L1011.5,1380.2 L1011.5,1378.8 L1011.6,1375.4 L1012.6,1370.2 L1012.7,1368.1 L1013.3,1363.7 L1013.3,1362.1 L1013.8,1359.0 L1014.9,1355.8 L1015.7,1354.5 L1016.6,1349.8 L1017.6,1345.9 L1019.1,1344.4 L1019.9,1342.1 L1020.2,1345.4 L1021.3,1348.1 L1020.8,1352.9 L1021.4,1351.7 L1022.0,1357.2 L1022.1,1358.5 L1021.7,1362.2 L1022.6,1364.7 L1022.4,1370.4 L1022.7,1372.4 L1022.9,1373.2 L1023.5,1378.3 L1023.2,1382.7 L1024.7,1379.4 L1024.7,1373.7 L1025.5,1372.2 L1026.0,1368.0 L1026.2,1364.6 L1027.1,1361.8 L1028.4,1358.9 L1028.5,1355.4 L1028.8,1351.6 L1029.2,1347.8 L1029.2,1348.2 L1032.7,1349.6 L1036.2,1350.8 L1037.2,1347.8 L1037.9,1345.0 L1038.9,1343.7 L1039.3,1340.9 L1040.2,1338.5 L1040.2,1337.6 L1040.5,1343.0 L1040.5,1345.5 L1040.8,1347.3 L1041.8,1351.0 L1040.9,1353.0 L1041.2,1358.1 L1042.4,1362.0 L1041.7,1362.7 L1041.8,1367.3 L1042.8,1369.9 L1043.3,1376.0 L1043.0,1373.9 L1043.6,1379.6 L1043.6,1384.1 L1043.2,1386.0 L1043.9,1388.0 L1044.9,1385.9 L1045.3,1385.6 L1046.4,1382.3 L1047.1,1378.7 L1047.7,1374.6 L1049.2,1368.7 L1049.6,1374.3 L1050.5,1378.0 L1050.6,1379.2 L1052.4,1383.1 L1051.8,1386.2 L1052.4,1390.5 L1052.7,1394.7 L1053.7,1397.3 L1053.2,1392.7 L1054.1,1389.8 L1054.2,1387.6 L1054.8,1382.9 L1054.1,1382.0 L1055.0,1379.3 L1055.7,1374.7 L1055.0,1371.3 L1055.5,1370.3 L1055.3,1366.8 L1055.6,1361.8 L1055.9,1358.5 L1056.5,1356.8 L1056.6,1354.1 L1057.7,1350.4 L1056.8,1346.9 L1057.5,1343.5 L1058.6,1348.5 L1059.5,1350.7 L1058.3,1352.8 L1060.3,1355.0 L1060.4,1360.2 L1061.3,1360.6 L1061.7,1361.1 L1062.5,1366.4 L1063.1,1369.5 L1063.4,1373.3 L1065.4,1369.3 L1064.4,1366.9 L1065.8,1365.4 L1066.2,1360.7 L1066.5,1356.9 L1066.9,1353.7 L1066.9,1350.2 L1069.2,1348.8 L1069.0,1344.9 L1070.0,1343.4 L1071.1,1337.8 L1072.3,1335.8 L1072.6,1331.2 L1073.9,1326.9 L1073.5,1327.2 L1074.3,1324.3 L1073.9,1319.1 L1074.1,1316.1 L1074.8,1313.4 L1074.9,1309.7 L1074.6,1309.6 L1074.3,1303.7 L1074.4,1299.4 L1074.6,1297.6 L1075.7,1294.7 L1074.1,1293.5 L1075.4,1289.2 L1075.3,1287.1 L1075.0,1283.1 L1075.4,1282.1 L1076.0,1277.2 L1075.0,1275.0 L1075.6,1272.3 L1075.7,1268.0 L1076.1,1263.8 L1075.7,1264.6 L1075.7,1259.8 L1076.4,1256.6 L1076.7,1250.8 L1076.7,1253.0 L1076.4,1259.2 L1076.9,1263.3 L1076.2,1264.7 L1076.6,1267.3 L1076.4,1270.5 L1077.3,1276.2 L1077.2,1279.8 L1077.1,1279.4 L1076.9,1284.2 L1077.6,1288.6 L1077.0,1291.4 L1077.2,1294.1 L1077.9,1298.4 L1077.5,1293.8 L1078.1,1289.9 L1078.2,1288.1 L1077.7,1283.5 L1079.4,1281.9 L1078.5,1275.9 L1078.6,1275.9 L1079.4,1272.7 L1079.6,1268.4 L1080.2,1264.6 L1080.0,1262.7 L1079.3,1261.1 L1080.3,1263.9 L1081.3,1266.2 L1080.9,1268.7 L1082.1,1267.8 L1083.3,1264.9 L1084.2,1258.8 L1085.2,1257.9 L1085.6,1254.2 L1086.5,1249.0 L1087.5,1248.5 L1087.4,1247.6 L1087.2,1254.9 L1087.6,1257.9 L1087.2,1259.0 L1087.1,1261.5 L1087.7,1265.7 L1087.3,1268.9 L1087.0,1271.0 L1087.4,1266.5 L1088.0,1264.0 L1089.7,1264.0 L1090.1,1258.5 L1090.4,1254.7 L1090.5,1253.4 L1090.6,1250.3 L1091.4,1250.4 L1090.2,1255.7 L1091.1,1259.3 L1090.8,1262.8 L1091.2,1264.2 L1091.8,1268.5 L1091.5,1273.6 L1091.0,1274.0 L1090.5,1277.0 L1091.4,1283.5 L1091.4,1283.6 L1090.7,1285.3 L1090.5,1287.6 L1091.2,1292.8 L1090.8,1295.2 L1090.9,1299.3 L1091.4,1300.8 L1091.1,1296.8 L1091.2,1298.1 L1091.5,1293.3 L1091.9,1291.0 L1091.6,1284.8 L1092.3,1284.0 L1091.7,1281.1 L1092.1,1276.6 L1092.9,1274.2 L1092.4,1270.0 L1092.5,1268.7 L1092.7,1263.2 L1092.8,1260.9 L1092.9,1257.7 L1092.0,1252.8 L1092.9,1248.9 L1092.5,1251.3 L1093.5,1245.0 L1093.5,1239.6 L1093.6,1240.6 L1093.6,1234.5 L1094.1,1232.4 L1093.6,1230.3 L1095.5,1228.9 L1097.4,1225.3 L1098.4,1223.9 L1099.0,1228.6 L1100.3,1233.1 L1101.5,1233.6 L1101.0,1240.5 L1104.6,1240.5 L1106.6,1241.8 L1106.8,1245.3 L1108.0,1249.9 L1108.8,1253.3 L1108.7,1249.0 L1109.3,1249.1 L1109.3,1243.6 L1110.0,1240.6 L1110.2,1237.8 L1110.4,1234.7 L1109.7,1230.4 L1110.4,1230.9 L1111.2,1225.1 L1111.6,1221.1 L1110.5,1220.7 L1110.4,1217.7 L1111.3,1214.3 L1110.9,1211.0 L1111.9,1207.4 L1112.2,1204.5 L1112.1,1201.1 L1111.6,1198.3 L1112.5,1194.5 L1111.7,1190.5 L1113.8,1188.9 L1113.9,1187.4 L1114.9,1180.6 L1115.7,1178.0 L1116.6,1174.7 L1117.5,1173.1 L1117.6,1169.1 L1118.0,1167.3 L1118.1,1164.1 L1119.2,1159.7 L1118.7,1156.5 L1118.6,1153.0 L1119.2,1150.4 L1119.8,1148.2 L1120.3,1144.9 L1120.6,1141.6 L1120.4,1139.0 L1121.7,1136.4 L1121.0,1132.4 L1121.2,1129.6 L1122.1,1124.9 L1122.3,1122.0 L1122.9,1117.8 L1123.3,1116.2 L1123.8,1112.7 L1124.0,1112.6 L1124.7,1106.8 L1124.1,1104.0 L1125.2,1096.6 L1125.2,1097.4 L1125.5,1093.9 L1125.6,1092.4 L1126.1,1087.1 L1126.1,1087.1 L1126.1,1080.6 L1126.8,1078.3 L1127.0,1076.8 L1127.6,1072.4 L1127.4,1068.7 L1127.5,1066.9 L1127.3,1061.1 L1127.9,1058.1 L1128.0,1057.8 L1127.7,1053.9 L1128.3,1049.7 L1130.4,1046.2 L1131.9,1045.1 L1131.6,1045.4 L1132.8,1052.7 L1133.9,1054.0 L1133.1,1057.1 L1133.8,1061.8 L1133.5,1064.4 L1134.1,1068.4 L1134.2,1069.7 L1134.2,1071.4 L1134.9,1077.2 L1135.5,1079.7 L1135.1,1081.3 L1135.0,1084.7 L1135.9,1088.9 L1135.1,1091.7 L1136.1,1093.6 L1136.4,1092.5 L1136.3,1086.9 L1136.8,1085.8 L1137.1,1084.3 L1137.5,1077.9 L1138.0,1075.2 L1138.2,1073.0 L1138.7,1068.4 L1138.8,1067.1 L1138.4,1064.2 L1139.9,1060.6 L1138.9,1056.8 L1140.0,1054.2 L1140.3,1049.8 L1140.5,1045.4 L1143.7,1049.6 L1144.1,1048.1 L1144.5,1043.5 L1146.0,1040.6 L1145.6,1035.0 L1145.4,1033.0 L1146.9,1037.1 L1146.9,1041.6 L1147.5,1038.9 L1147.1,1046.0 L1147.6,1049.2 L1149.1,1050.3 L1149.3,1054.3 L1148.1,1057.6 L1149.4,1059.9 L1150.0,1062.6 L1149.6,1068.1 L1149.9,1069.3 L1150.1,1067.9 L1150.9,1065.8 L1151.1,1061.0 L1149.8,1057.9 L1150.4,1053.7 L1150.4,1051.9 L1150.8,1050.2 L1150.5,1047.5 L1151.0,1044.0 L1151.6,1038.4 L1151.8,1036.1 L1151.5,1035.4 L1151.8,1029.0 L1151.6,1029.5 L1151.6,1024.9 L1151.8,1024.1 L1151.6,1017.8 L1151.5,1015.3 L1152.0,1013.5 L1152.1,1007.8 L1151.7,1007.9 L1152.7,1002.2 L1152.9,997.8 L1153.5,998.8 L1152.1,995.7 L1152.8,991.4 L1152.8,988.7 L1153.0,984.8 L1152.9,983.7 L1153.5,978.3 L1153.2,979.0 L1153.8,976.1 L1153.0,969.6 L1152.8,965.5 L1153.6,963.6 L1155.2,961.6 L1157.4,961.1 L1157.9,960.8 L1158.4,965.8 L1157.6,969.3 L1158.0,970.7 L1158.9,974.9 L1158.2,979.5 L1159.3,982.5 L1158.4,985.6 L1159.3,988.6 L1159.3,990.6 L1159.2,992.2 L1159.1,996.0 L1159.5,1002.6 L1158.8,1002.0 L1159.5,1006.8 L1160.5,1009.0 L1159.7,1014.7 L1160.1,1016.9 L1160.3,1018.3 L1160.1,1021.5 L1159.7,1025.7 L1160.2,1026.9 L1159.7,1032.5 L1160.1,1035.6 L1159.9,1036.8 L1160.3,1041.7 L1158.9,1045.2 L1159.7,1048.0 L1160.6,1049.9 L1159.6,1053.7 L1160.0,1057.2 L1159.4,1059.8 L1160.4,1063.5 L1160.3,1067.3 L1159.7,1070.4 L1160.1,1070.6 L1159.9,1075.4 L1160.3,1073.7 L1160.5,1068.3 L1161.5,1065.5 L1160.5,1064.1 L1160.8,1058.8 L1160.8,1058.4 L1161.0,1054.0 L1161.4,1050.5 L1161.5,1048.0 L1162.2,1046.1 L1162.1,1040.2 L1161.8,1038.7 L1161.6,1037.4 L1162.8,1032.8 L1162.4,1028.8 L1162.9,1027.5 L1163.2,1024.4 L1163.8,1018.0 L1163.7,1019.1 L1163.8,1020.8 L1164.1,1022.2 L1165.2,1026.8 L1164.7,1029.6 L1165.2,1034.8 L1165.2,1037.7 L1165.2,1041.5 L1165.2,1043.0 L1165.6,1044.8 L1164.4,1050.2 L1165.6,1051.4 L1165.6,1054.3 L1165.5,1058.9 L1166.1,1062.9 L1166.2,1065.8 L1166.9,1061.0 L1166.5,1057.9 L1167.5,1054.9 L1169.0,1051.6 L1168.8,1048.4 L1169.3,1044.6 L1169.9,1043.4 L1169.8,1038.5 L1170.9,1042.3 L1171.1,1043.0 L1170.3,1051.5 L1171.8,1052.2 L1171.8,1056.0 L1171.5,1058.4 L1171.4,1059.5 L1172.2,1065.2 L1172.5,1065.7 L1173.1,1070.5 L1173.3,1073.0 L1173.2,1077.8 L1174.1,1077.9 L1173.4,1083.8 L1174.0,1079.6 L1173.5,1077.8 L1174.0,1073.7 L1174.2,1069.8 L1174.2,1067.6 L1174.4,1064.9 L1173.6,1060.5 L1174.1,1059.9 L1174.0,1056.8 L1174.7,1053.4 L1175.3,1049.3 L1174.5,1047.8 L1174.6,1044.5 L1174.4,1042.1 L1174.7,1034.7 L1175.0,1033.9 L1174.3,1030.8 L1174.6,1029.6 L1174.9,1025.0 L1174.8,1020.9 L1174.6,1018.5 L1174.8,1014.5 L1174.8,1014.3 L1175.2,1010.0 L1175.2,1006.7 L1174.6,1005.1 L1176.1,1001.6 L1175.5,1001.1 L1174.8,995.6 L1175.2,991.5 L1174.7,988.8 L1175.6,983.8 L1175.4,982.2 L1175.1,980.6 L1176.2,977.3 L1176.0,974.8 L1175.6,971.5 L1176.2,967.2 L1175.7,962.9 L1175.1,960.6 L1176.2,959.1 L1176.0,957.3 L1175.2,954.4 L1176.0,950.6 L1176.6,945.5 L1175.8,944.1 L1176.1,939.8 L1176.1,936.6 L1178.2,934.5 L1180.7,931.2 L1180.4,935.7 L1180.9,937.4 L1180.2,943.9 L1180.3,944.3 L1180.5,946.5 L1181.3,952.8 L1180.9,952.9 L1180.6,957.8 L1181.0,960.7 L1180.4,962.5 L1181.8,966.7 L1180.5,969.6 L1181.9,972.2 L1181.8,974.7 L1182.1,979.0 L1181.0,981.4 L1182.7,984.2 L1183.0,986.3 L1183.4,991.8 L1182.6,997.1 L1183.5,998.6 L1182.5,999.4 L1183.3,1003.9 L1183.3,1003.8 L1183.9,1008.3 L1183.7,1011.1 L1183.6,1012.7 L1184.0,1016.7 L1183.2,1021.0 L1184.0,1024.8 L1184.5,1025.0 L1184.2,1029.5 L1184.4,1031.2 L1184.5,1036.8 L1185.1,1040.4 L1185.1,1038.3 L1184.8,1043.8 L1183.8,1049.5 L1186.6,1050.6 L1187.6,1054.4 L1188.7,1058.7 L1190.7,1061.1 L1191.7,1056.6 L1194.2,1053.4 L1193.7,1056.8 L1194.5,1059.4 L1194.2,1061.7 L1193.8,1064.8 L1194.5,1067.5 L1194.8,1070.6 L1195.1,1074.2 L1195.0,1077.0 L1195.4,1080.8 L1195.8,1082.8 L1195.5,1084.3 L1195.5,1090.0 L1195.8,1094.6 L1196.2,1095.1 L1196.4,1097.9 L1196.3,1101.7 L1196.1,1104.9 L1196.7,1106.6 L1197.3,1111.2 L1197.4,1113.0 L1196.6,1115.3 L1196.6,1117.5 L1198.0,1122.3 L1197.5,1125.3 L1197.5,1131.1 L1197.0,1130.8 L1197.8,1134.0 L1198.2,1139.8 L1198.4,1142.2 L1198.1,1145.5 L1197.9,1145.8 L1198.2,1150.0 L1199.0,1152.1 L1199.0,1155.4 L1198.2,1157.3 L1198.8,1160.7 L1200.7,1160.1 L1202.3,1155.0 L1202.8,1161.6 L1202.8,1165.4 L1204.0,1167.3 L1204.6,1172.3 L1205.0,1174.0 L1205.6,1170.9 L1205.7,1169.8 L1206.4,1167.3 L1206.6,1162.2 L1206.4,1159.0 L1207.0,1159.3 L1207.4,1151.2 L1208.0,1147.0 L1208.1,1144.1 L1207.6,1141.9 L1208.2,1144.0 L1208.9,1148.9 L1209.5,1151.0 L1208.6,1156.4 L1209.5,1160.0 L1209.0,1160.4 L1210.3,1167.8 L1210.1,1166.1 L1210.7,1173.6 L1211.8,1173.3 L1211.0,1175.7 L1211.0,1179.9 L1211.6,1185.7 L1212.5,1186.9 L1211.9,1190.7 L1211.7,1196.0 L1212.0,1198.6 L1211.9,1200.8 L1212.1,1202.7 L1211.7,1205.4 L1212.0,1208.5 L1212.0,1211.2 L1212.5,1214.8 L1212.2,1218.0 L1212.9,1220.6 L1213.0,1223.3 L1213.1,1228.3 L1216.0,1230.6 L1217.1,1225.7 L1217.1,1224.2 L1217.5,1220.3 L1218.1,1217.9 L1218.9,1216.3 L1218.9,1215.0 L1219.4,1210.4 L1219.9,1203.1 L1220.2,1207.6 L1221.3,1208.5 L1221.0,1214.0 L1222.0,1217.7 L1222.5,1220.1 L1222.4,1224.9 L1223.6,1226.9 L1223.4,1228.3 L1224.6,1233.0 L1224.5,1233.4 L1225.0,1241.6 L1225.2,1241.2 L1226.3,1244.3 L1226.5,1250.0 L1226.0,1243.3 L1226.9,1241.4 L1226.9,1237.9 L1227.2,1235.5 L1227.2,1231.5 L1227.7,1227.4 L1228.0,1222.8 L1228.4,1222.4 L1227.9,1221.1 L1228.1,1218.9 L1228.5,1214.7 L1229.0,1212.1 L1229.2,1208.2 L1229.4,1201.3 L1229.9,1201.2 L1230.2,1199.7 L1230.3,1198.9 L1231.2,1203.0 L1231.6,1207.1 L1231.8,1211.8 L1232.7,1215.9 L1233.4,1218.2 L1233.7,1219.2 L1234.2,1215.7 L1235.2,1213.9 L1235.2,1208.6 L1235.9,1205.2 L1236.3,1208.9 L1237.3,1212.7 L1237.3,1217.3 L1237.9,1221.4 L1238.7,1225.0 L1238.7,1229.1 L1239.8,1223.3 L1241.1,1219.3 L1241.5,1219.1 L1242.2,1214.6 L1243.0,1211.7 L1243.9,1207.5 L1244.6,1208.3 L1245.0,1213.5 L1246.2,1217.5 L1245.7,1221.2 L1246.3,1222.0 L1246.9,1227.4 L1248.0,1231.4 L1249.4,1233.5 L1251.3,1239.1 L1252.1,1242.1 L1252.8,1243.7 L1254.4,1247.8 L1255.1,1249.3 L1256.8,1251.9 L1259.7,1254.5 L1260.6,1257.1 L1260.3,1261.1 L1259.6,1264.4 L1260.3,1265.8 L1259.5,1269.9 L1260.3,1272.7 L1260.2,1277.1 L1260.4,1273.9 L1261.3,1270.0 L1261.3,1265.7 L1261.2,1263.8 L1262.2,1259.9 L1261.7,1258.8 L1263.6,1251.1 L1262.6,1251.5 L1263.6,1246.9 L1263.9,1246.4 L1264.9,1242.8 L1266.4,1237.6 L1267.3,1234.8 L1269.3,1234.0 L1269.4,1234.0 L1269.6,1239.0 L1269.5,1243.0 L1270.8,1244.8 L1271.0,1249.4 L1272.4,1254.0 L1272.4,1256.4 L1272.0,1260.7 L1272.7,1260.2 L1273.7,1265.4 L1273.8,1269.7 L1274.3,1266.0 L1275.5,1261.6 L1275.5,1258.5 L1276.5,1254.5 L1276.5,1257.3 L1276.7,1262.0 L1276.7,1264.2 L1276.7,1266.7 L1277.5,1271.4 L1277.4,1273.8 L1277.7,1277.5 L1278.4,1280.8 L1278.5,1281.5 L1278.6,1284.8 L1278.6,1283.4 L1279.4,1279.7 L1278.8,1277.8 L1278.4,1277.1 L1278.7,1272.8 L1279.7,1269.7 L1279.4,1266.4 L1279.4,1263.7 L1279.4,1258.5 L1279.9,1255.9 L1280.1,1252.4 L1280.0,1249.2 L1280.0,1250.3 L1280.1,1242.8 L1280.3,1241.0 L1282.1,1237.5 L1282.3,1234.8 L1282.1,1234.4 L1283.3,1226.4 L1282.9,1226.2 L1284.1,1222.2 L1285.6,1225.7 L1287.0,1228.8 L1288.5,1231.0 L1291.0,1234.0 L1292.4,1237.5 L1292.9,1241.0 L1294.4,1241.2 L1296.5,1245.7 L1297.6,1250.1 L1298.7,1251.3 L1301.1,1255.6 L1302.5,1256.7 L1303.5,1261.7 L1304.5,1264.3 L1306.0,1265.5 L1308.2,1272.6 L1308.1,1275.7 L1308.6,1279.5 L1309.6,1280.7 L1310.2,1283.6 L1311.3,1286.5 L1311.8,1290.6 L1313.3,1292.8 L1314.5,1294.9 L1315.5,1298.8 L1317.7,1295.9 L1319.0,1294.3 L1321.6,1293.3 L1321.4,1287.5 L1322.3,1287.0 L1322.7,1282.0 L1323.4,1279.3 L1323.3,1277.1 L1323.5,1270.4 L1324.2,1271.1 L1324.7,1267.9 L1325.0,1265.5 L1325.4,1263.0 L1325.8,1259.1 L1326.0,1255.4 L1326.4,1258.5 L1326.8,1261.7 L1326.6,1265.4 L1326.6,1267.0 L1326.1,1272.7 L1327.1,1268.5 L1328.9,1264.8 L1330.1,1261.7 L1331.1,1258.0 L1331.5,1253.7 L1331.5,1251.0 L1331.9,1248.0 L1333.1,1243.4 L1333.5,1242.0 L1333.8,1237.2 L1334.3,1235.8 L1335.2,1234.5 L1334.5,1229.3 L1335.9,1224.9 L1336.3,1225.2 L1337.0,1227.2 L1338.1,1227.9 L1337.6,1233.0 L1339.8,1232.2 L1339.9,1236.6 L1340.9,1240.5 L1342.1,1242.6 L1343.2,1244.1 L1343.4,1252.6 L1344.1,1252.9 L1344.8,1259.2 L1347.8,1252.1 L1349.3,1250.3 L1351.1,1244.1 L1351.5,1244.1 L1351.6,1239.8 L1352.7,1234.9 L1354.3,1234.8 L1355.5,1229.2 L1355.8,1231.1 L1355.7,1237.4 L1356.7,1238.7 L1356.8,1243.0 L1359.0,1244.1 L1358.4,1251.4 L1359.1,1246.2 L1360.8,1245.5 L1361.8,1243.3 L1362.8,1237.9 L1364.0,1235.5 L1363.8,1230.7 L1365.0,1229.2 L1365.2,1224.7 L1366.0,1222.9 L1366.8,1220.2 L1367.7,1215.1 L1368.1,1211.5 L1368.8,1211.0 L1368.9,1210.8 L1369.9,1215.9 L1370.2,1220.0 L1370.8,1223.7 L1370.9,1222.8 L1371.4,1228.4 L1371.9,1232.4 L1372.4,1236.7 L1373.0,1238.0 L1373.8,1243.7 L1374.3,1242.7 L1375.3,1248.0 L1376.2,1249.8 L1378.1,1249.8 L1381.1,1254.7 L1385.0,1258.0 L1387.7,1261.2 L1387.2,1261.6 L1387.4,1268.2 L1387.9,1268.7 L1387.0,1273.9 L1387.9,1274.4 L1388.1,1278.0 L1388.3,1281.8 L1388.5,1284.3 L1389.4,1289.0 L1390.0,1290.9 L1389.9,1297.0 L1391.5,1297.1 L1390.9,1302.3 L1392.0,1303.5 L1392.8,1307.0 L1394.2,1311.6 L1395.1,1312.3 L1397.1,1314.1 L1398.0,1317.4 L1397.7,1321.0 L1400.1,1322.6 L1400.1,1327.0 L1400.4,1328.6 L1401.1,1332.7 L1402.0,1336.5 L1401.7,1334.7 L1403.1,1342.1 L1404.4,1337.0 L1407.2,1335.7 L1406.6,1330.3 L1407.1,1329.4 L1407.4,1325.7 L1407.7,1321.7 L1407.4,1318.3 L1408.3,1314.8 L1408.5,1312.1 L1408.7,1308.3 L1408.8,1308.4 L1409.3,1300.6 L1409.8,1298.5 L1409.8,1292.7 L1411.2,1294.1 L1410.6,1290.4 L1410.6,1284.5 L1411.4,1284.2 L1411.2,1280.4 L1410.6,1277.1 L1412.4,1274.4 L1412.4,1271.8 L1411.7,1266.3 L1412.3,1265.2 L1412.8,1259.4 L1413.6,1258.5 L1413.9,1258.2 L1413.1,1250.8 L1414.2,1257.6 L1414.0,1259.6 L1414.1,1263.2 L1413.3,1266.7 L1414.2,1268.5 L1414.7,1265.4 L1416.0,1263.7 L1417.8,1260.0 L1417.4,1261.0 L1417.3,1265.2 L1417.7,1263.8 L1418.4,1264.7 L1418.4,1256.3 L1418.7,1253.5 L1419.5,1252.0 L1419.2,1248.7 L1420.4,1249.8 L1420.0,1253.8 L1420.7,1256.3 L1420.5,1259.5 L1420.3,1262.9 L1421.1,1265.6 L1420.6,1268.5 L1421.2,1271.9 L1421.6,1275.6 L1422.7,1278.6 L1422.9,1282.1 L1423.3,1283.3 L1423.2,1286.5 L1426.1,1281.5 L1427.8,1277.4 L1428.9,1278.0 L1430.0,1270.8 L1431.3,1268.8 L1432.1,1271.4 L1431.6,1274.5 L1433.1,1279.5 L1433.5,1281.3 L1434.2,1284.0 L1434.4,1287.6 L1435.5,1289.7 L1435.8,1292.6 L1435.9,1296.7 L1437.6,1291.7 L1439.5,1288.2 L1440.1,1295.2 L1441.1,1295.5 L1440.8,1295.5 L1442.0,1300.9 L1442.7,1304.4 L1442.2,1307.3 L1442.6,1309.5 L1443.9,1313.8 L1444.4,1316.9 L1444.5,1320.1 L1444.8,1323.2 L1446.2,1320.6 L1445.5,1319.5 L1447.4,1315.4 L1447.5,1310.5 L1448.0,1307.5 L1449.0,1304.0 L1450.5,1305.3 L1453.6,1311.1 L1454.5,1310.7 L1455.5,1309.1 L1455.9,1305.6 L1456.6,1303.6 L1456.4,1300.4 L1457.5,1296.6 L1457.2,1292.5 L1458.2,1290.4 L1459.1,1287.4 L1458.8,1291.3 L1459.9,1294.1 L1460.4,1295.3 L1462.0,1300.2 L1461.7,1302.0 L1461.9,1307.2 L1462.7,1311.2 L1465.5,1310.1 L1466.9,1315.5 L1472.7,1311.2 L1473.1,1314.0 L1474.6,1317.7 L1474.1,1322.3 L1475.3,1324.8 L1475.9,1327.5 L1476.0,1331.5 L1477.2,1333.5 L1480.1,1337.5 L1481.6,1337.6 L1483.2,1335.8 L1483.1,1331.6 L1484.0,1329.1 L1484.1,1324.4 L1484.6,1322.8 L1485.7,1317.5 L1485.7,1315.1 L1485.8,1311.4 L1488.2,1310.0 L1489.3,1305.7 L1491.1,1302.2 L1492.6,1301.0 L1493.2,1297.5 L1494.7,1294.3 L1495.8,1293.2 L1500.8,1292.5 L1501.8,1296.3 L1502.2,1297.5 L1502.8,1298.2 L1504.2,1303.2 L1503.7,1305.1 L1504.1,1305.3 L1504.2,1300.7 L1505.2,1298.1 L1505.0,1291.6 L1505.6,1291.3 L1505.7,1286.9 L1506.8,1282.3 L1506.3,1280.3 L1506.2,1277.0 L1506.8,1276.2 L1506.8,1269.8 L1508.4,1265.8 L1508.4,1263.1 L1509.5,1258.8 L1511.8,1258.1 L1513.5,1254.7 L1515.9,1252.3 L1517.8,1249.3 L1518.4,1248.6 L1518.4,1247.7 L1519.6,1240.6 L1520.4,1238.6 L1520.7,1235.1 L1521.6,1239.9 L1521.8,1242.1 L1523.0,1243.5 L1523.8,1247.2 L1525.7,1244.1 L1528.0,1239.5 L1528.5,1239.8 L1528.9,1247.7 L1529.1,1249.5 L1529.0,1251.1 L1529.7,1254.0 L1529.2,1258.6 L1529.9,1262.1 L1529.7,1264.3 L1530.7,1269.3 L1531.2,1271.4 L1531.1,1273.3 L1534.8,1276.4 L1536.5,1279.2 L1538.3,1282.0 L1539.1,1286.3 L1538.9,1282.9 L1539.8,1279.8 L1539.6,1277.1 L1539.8,1274.5 L1540.4,1269.7 L1539.6,1269.4 L1540.6,1264.3 L1540.2,1261.3 L1541.0,1256.8 L1541.2,1254.5 L1540.7,1250.9 L1540.2,1248.6 L1540.7,1244.3 L1541.3,1242.2 L1542.4,1238.8 L1542.7,1236.1 L1543.7,1233.2 L1544.2,1229.3 L1544.2,1225.5 L1544.8,1222.1 L1545.2,1219.2 L1545.7,1218.2 L1546.7,1214.3 L1547.4,1207.7 L1548.9,1206.5 L1548.9,1204.5 L1549.5,1199.1 L1552.3,1195.4 L1554.2,1192.1 L1554.2,1195.6 L1554.6,1199.8 L1555.7,1201.6 L1556.0,1205.2 L1556.9,1205.6 L1557.0,1205.4 L1556.8,1201.0 L1557.2,1199.3 L1557.3,1195.3 L1558.6,1192.0 L1558.3,1187.5 L1558.0,1183.5 L1559.7,1180.4 L1559.0,1178.0 L1559.4,1175.6 L1560.3,1173.1 L1561.2,1167.0 L1561.6,1164.9 L1562.2,1164.0 L1562.3,1159.8 L1562.7,1157.0 L1562.5,1151.2 L1563.5,1151.8 L1563.0,1146.5 L1563.5,1142.6 L1564.3,1140.7 L1563.6,1137.3 L1564.9,1133.5 L1564.4,1130.3 L1564.8,1127.5 L1565.3,1124.0 L1564.6,1128.6 L1564.0,1130.0 L1565.5,1134.5 L1565.3,1136.7 L1565.9,1144.9 L1565.5,1143.1 L1565.8,1147.1 L1566.1,1150.1 L1566.9,1152.2 L1566.3,1156.0 L1567.4,1158.2 L1567.3,1163.1 L1565.7,1163.5 L1566.5,1168.3 L1567.6,1170.9 L1567.3,1176.6 L1567.5,1179.6 L1567.1,1182.0 L1567.7,1174.1 L1567.9,1173.4 L1568.6,1171.9 L1569.2,1168.7 L1569.0,1167.2 L1570.2,1162.1 L1569.9,1159.0 L1570.4,1155.2 L1570.8,1152.2 L1571.5,1149.2 L1572.1,1153.9 L1572.8,1157.7 L1573.1,1163.7 L1574.0,1164.9 L1575.0,1167.0 L1576.0,1172.1 L1575.6,1174.6 L1576.3,1179.0 L1576.8,1180.0 L1576.6,1182.0 L1577.2,1187.7 L1577.3,1190.6 L1577.8,1192.4 L1577.6,1197.5 L1579.5,1200.0 L1578.4,1201.3 L1579.8,1206.4 L1581.3,1205.8 L1582.3,1212.1 L1582.5,1215.5 L1585.4,1219.7 L1586.1,1214.9 L1585.9,1214.7 L1585.5,1210.8 L1587.0,1208.5 L1586.9,1205.9 L1586.9,1202.5 L1586.7,1198.8 L1588.0,1194.5 L1587.4,1191.5 L1587.5,1189.1 L1587.4,1187.3 L1587.8,1184.7 L1589.1,1177.9 L1588.5,1175.4 L1588.7,1175.5 L1589.4,1173.0 L1589.8,1165.9 L1590.8,1163.4 L1590.7,1161.4 L1590.8,1157.6 L1592.4,1152.3 L1591.8,1150.7 L1593.0,1146.6 L1592.8,1146.1 L1594.5,1140.3 L1595.2,1138.7 L1595.6,1134.0 L1596.1,1133.1 L1596.3,1127.7 L1598.1,1128.0 L1598.7,1121.9 L1598.8,1118.0 L1599.9,1115.6 L1600.4,1114.9 L1601.6,1105.9 L1601.2,1105.4 L1602.6,1102.7 L1601.6,1096.9 L1603.8,1096.5 L1604.8,1093.5 L1609.0,1096.9 L1609.0,1091.2 L1609.1,1089.0 L1610.0,1086.6 L1610.7,1083.1 L1611.0,1078.8 L1610.4,1076.8 L1611.6,1074.4 L1611.4,1069.0 L1611.7,1066.8 L1612.1,1063.0 L1612.6,1059.7 L1614.3,1056.8 L1615.2,1054.6 L1618.3,1051.5 L1619.1,1057.9 L1619.8,1060.3 L1619.4,1063.8 L1621.2,1066.4 L1620.0,1068.5 L1620.8,1072.4 L1621.5,1074.8 L1621.5,1077.3 L1622.2,1081.7 L1622.4,1083.8 L1622.7,1087.1 L1623.2,1090.6 L1623.5,1092.8 L1623.6,1095.8 L1625.2,1104.9 L1624.9,1103.2 L1626.2,1112.0 L1626.6,1109.6 L1627.4,1117.1 L1626.6,1116.6 L1628.8,1120.1 L1628.8,1124.2 L1631.0,1119.4 L1632.6,1117.8 L1633.7,1121.2 L1634.4,1121.5 L1635.1,1125.7 L1636.4,1129.7 L1636.5,1128.4 L1636.7,1126.1 L1637.3,1119.2 L1637.0,1119.5 L1637.3,1116.5 L1637.5,1111.9 L1638.4,1107.0 L1638.3,1105.4 L1638.6,1105.2 L1639.0,1098.3 L1640.2,1096.4 L1640.9,1095.5 L1641.7,1092.2 L1642.9,1086.9 L1643.7,1083.3 L1644.8,1088.4 L1645.2,1090.0 L1645.7,1093.1 L1646.0,1097.8 L1646.2,1101.5 L1647.0,1103.2 L1647.2,1105.9 L1653.0,1110.2 L1652.8,1113.9 L1653.0,1114.7 L1653.9,1121.2 L1654.3,1122.4 L1655.3,1123.3 L1656.2,1127.0 L1655.3,1129.7 L1655.3,1134.1 L1657.2,1136.3 L1656.2,1134.8 L1656.3,1131.2 L1657.3,1125.8 L1657.1,1125.1 L1657.3,1122.4 L1657.0,1118.9 L1657.8,1115.2 L1658.7,1116.0 L1658.8,1109.4 L1659.3,1108.1 L1658.7,1105.3 L1659.0,1102.2 L1659.9,1100.0 L1659.3,1095.3 L1660.0,1091.0 L1662.7,1095.9 L1662.3,1097.3 L1662.8,1099.4 L1663.2,1105.7 L1663.7,1106.5 L1664.7,1111.3 L1665.3,1110.4 L1665.4,1113.8 L1665.2,1118.5 L1665.6,1124.5 L1666.1,1126.5 L1666.6,1128.1 L1667.4,1131.8 L1667.8,1132.2 L1668.3,1137.9 L1668.8,1140.6 L1669.2,1142.1 L1670.0,1145.3 L1670.6,1151.3 L1670.1,1146.6 L1670.6,1143.5 L1669.9,1141.2 L1670.1,1137.2 L1671.4,1135.7 L1670.7,1131.6 L1670.7,1128.6 L1670.5,1126.4 L1671.3,1121.7 L1671.1,1122.8 L1671.4,1115.8 L1671.4,1112.7 L1672.3,1111.1 L1672.1,1107.7 L1671.6,1101.1 L1672.8,1102.0 L1672.4,1098.4 L1672.6,1095.0 L1672.5,1089.0 L1672.9,1088.7 L1673.2,1085.9 L1672.7,1083.1 L1673.0,1078.6 L1672.9,1075.5 L1673.0,1072.3 L1673.6,1073.4 L1673.2,1067.9 L1672.6,1059.2 L1673.3,1060.0 L1673.2,1055.3 L1673.3,1053.2 L1673.8,1050.2 L1673.3,1047.0 L1678.1,1048.9 L1678.8,1047.9 L1679.6,1042.6 L1682.4,1041.6 L1681.2,1037.1 L1681.6,1033.9 L1681.9,1030.2 L1681.0,1026.3 L1682.1,1022.6 L1682.0,1023.2 L1682.4,1017.3 L1682.6,1016.3 L1683.0,1016.8 L1684.7,1021.1 L1686.2,1024.3 L1686.3,1022.1 L1685.9,1018.2 L1685.9,1016.4 L1686.6,1013.8 L1686.2,1009.3 L1685.8,1007.0 L1686.1,1004.4 L1687.2,1001.6 L1687.1,998.3 L1687.1,996.2 L1687.5,994.6 L1687.0,990.1 L1687.5,986.5 L1687.4,981.4 L1687.8,978.9 L1687.2,975.9 L1687.7,972.8 L1687.8,971.7 L1687.7,967.6 L1688.0,966.7 L1687.6,960.7 L1687.6,957.9 L1687.9,955.8 L1687.1,954.8 L1687.8,949.5 L1687.4,944.5 L1687.9,944.3 L1688.7,938.7 L1688.5,939.9 L1688.4,936.2 L1688.7,930.8 L1689.0,928.2 L1688.9,925.5 L1688.7,923.2 L1689.6,917.6 L1689.0,916.6 L1690.1,913.0 L1689.9,910.7 L1695.6,908.9 L1694.7,912.9 L1695.9,914.8 L1696.3,920.9 L1696.5,921.9 L1695.8,927.0 L1696.5,930.1 L1695.9,928.7 L1697.0,936.8 L1696.5,938.7 L1696.9,942.7 L1696.7,944.3 L1696.5,949.4 L1697.0,946.9 L1697.2,953.6 L1696.6,956.8 L1696.7,960.0 L1697.1,964.4 L1697.0,964.6 L1697.3,968.3 L1698.4,966.4 L1698.1,962.2 L1699.3,959.9 L1699.2,956.5 L1700.7,954.6 L1701.6,949.8 L1700.9,952.7 L1701.9,955.2 L1702.4,958.3 L1701.7,963.8 L1702.3,966.3 L1702.5,969.1 L1702.6,974.7 L1703.4,975.3 L1703.5,979.7 L1703.4,982.0 L1703.9,984.3 L1703.7,987.9 L1704.1,990.7 L1703.7,994.5 L1705.0,997.6 L1705.6,1001.7 L1705.0,1002.9 L1705.6,1006.4 L1705.0,1010.2 L1705.8,1012.8 L1706.4,1016.5 L1707.2,1018.4 L1706.5,1022.9 L1706.6,1025.0 L1707.7,1026.9 L1707.4,1029.7 L1707.6,1032.6 L1707.4,1039.6 L1708.8,1041.6 L1707.5,1045.9 L1709.0,1046.5 L1709.1,1049.4 L1709.6,1054.2 L1710.0,1058.5 L1709.9,1051.7 L1709.9,1049.9 L1710.5,1047.9 L1710.8,1047.1 L1711.0,1041.0 L1711.1,1038.2 L1711.3,1037.0 L1711.1,1034.2 L1712.5,1032.2 L1712.6,1027.3 L1711.7,1026.7 L1712.4,1021.5 L1712.5,1017.0 L1713.0,1013.4 L1712.5,1012.8 L1713.1,1008.0 L1713.6,1007.8 L1713.5,1002.9 L1714.0,1001.2 L1714.7,997.7 L1714.5,994.4 L1715.2,988.5 L1716.1,988.2 L1716.7,984.3 L1716.9,981.2 L1717.1,979.3 L1717.5,975.8 L1717.6,973.5 L1718.0,966.9 L1718.6,966.5 L1717.8,962.2 L1718.9,960.1 L1718.5,957.7 L1718.2,956.2 L1719.4,950.0 L1719.1,946.0 L1718.7,945.1 L1719.1,948.7 L1719.5,951.5 L1719.5,954.5 L1719.6,959.6 L1720.1,961.7 L1720.4,963.0 L1720.6,964.6 L1721.7,969.8 L1721.2,971.7 L1722.0,974.9 L1721.5,977.7 L1722.6,981.8 L1722.2,983.7 L1723.0,987.9 L1722.5,991.8 L1723.0,992.6 L1723.2,998.4 L1722.8,998.5 L1723.4,1002.9 L1722.9,1006.1 L1723.0,1010.7 L1722.8,1013.5 L1723.7,1017.3 L1723.7,1019.5 L1723.4,1022.2 L1723.2,1027.6 L1723.6,1027.4 L1724.0,1033.7 L1723.9,1034.6 L1725.2,1033.3 L1727.4,1029.2 L1728.1,1025.2 L1728.5,1020.6 L1728.3,1018.7 L1728.8,1018.3 L1728.7,1015.8 L1729.3,1010.3 L1730.2,1006.8 L1730.8,1004.3 L1730.5,1000.2 L1731.3,998.1 L1731.0,993.8 L1731.2,998.0 L1731.5,1002.1 L1732.1,1003.5 L1732.6,1009.1 L1731.8,1010.8 L1733.4,1013.6 L1733.6,1014.6 L1733.2,1020.9 L1733.8,1022.8 L1734.4,1026.2 L1734.6,1028.2 L1734.6,1033.5 L1734.8,1033.2 L1738.7,1036.1 L1740.0,1031.7 L1739.5,1028.8 L1740.4,1026.0 L1740.9,1021.9 L1741.4,1018.0" fill="none" stroke="#F58426" stroke-width="6.8" stroke-linejoin="round" stroke-linecap="round" clip-path="url(#lc)"/>
<path d="M167.5,1580.2 L168.1,1576.6 L170.0,1575.0 L170.7,1570.4 L171.2,1566.9 L172.7,1564.7 L174.2,1559.3 L175.3,1559.0 L177.2,1552.9 L181.4,1560.0 L185.3,1553.6 L186.5,1556.7 L187.4,1561.5 L189.2,1559.1 L191.1,1557.2 L192.8,1551.2 L194.3,1553.0 L195.6,1556.1 L197.9,1558.2 L200.6,1555.3 L204.5,1555.0 L205.7,1557.0 L206.2,1561.2 L207.4,1565.7 L208.6,1567.9 L209.1,1571.6 L208.8,1573.7 L210.4,1577.3 L210.6,1581.5 L210.9,1583.3 L211.0,1586.1 L210.6,1588.1 L211.6,1590.5 L211.9,1594.4 L212.3,1596.8 L212.8,1601.2 L213.2,1603.2 L215.0,1598.7 L216.3,1597.1 L216.9,1594.8 L218.7,1590.0 L219.2,1586.8 L219.9,1584.4 L220.0,1583.0 L220.4,1589.9 L220.9,1591.3 L221.4,1594.9 L221.3,1600.1 L221.3,1603.9 L221.9,1608.0 L223.1,1608.0 L224.8,1611.5 L225.6,1614.2 L228.1,1613.3 L227.4,1612.3 L228.2,1606.6 L228.3,1604.7 L229.1,1603.4 L228.8,1600.3 L228.8,1596.1 L229.6,1592.7 L229.8,1588.1 L230.4,1587.3 L229.7,1582.8 L230.8,1578.3 L230.7,1577.1 L231.4,1580.5 L230.4,1581.0 L231.0,1585.5 L231.9,1588.7 L231.3,1593.6 L231.9,1596.0 L231.3,1601.1 L231.1,1599.6 L230.9,1604.6 L233.0,1602.6 L234.2,1599.5 L235.0,1595.8 L236.2,1594.6 L238.5,1592.2 L239.8,1588.5 L242.2,1587.3 L244.9,1582.9 L246.6,1582.6 L247.8,1579.2 L249.5,1578.4 L252.2,1574.4 L251.9,1578.2 L252.9,1579.8 L253.8,1584.1 L254.1,1587.1 L254.1,1587.4 L256.1,1586.1 L257.0,1584.6 L258.6,1579.8 L260.0,1577.4 L262.3,1579.9 L264.7,1579.7 L265.6,1578.7 L266.2,1573.1 L266.3,1571.7 L266.5,1569.0 L266.9,1565.7 L267.5,1567.4 L266.6,1573.0 L268.2,1574.7 L267.2,1577.2 L267.3,1583.2 L268.1,1585.8 L268.1,1588.0 L267.8,1589.6 L268.4,1596.9 L268.2,1598.4 L268.2,1599.9 L269.2,1602.8 L268.9,1605.3 L269.5,1607.5 L269.6,1612.1 L270.1,1616.2 L271.1,1620.2 L271.6,1623.0 L272.1,1625.7 L274.1,1621.3 L274.8,1617.1 L275.0,1615.3 L276.2,1613.2 L277.8,1607.5 L278.6,1604.1 L278.6,1606.9 L279.8,1610.4 L280.0,1614.0 L279.7,1616.3 L279.6,1620.2 L279.3,1626.5 L280.2,1627.4 L280.6,1630.5 L281.6,1632.3 L282.9,1639.2 L283.3,1640.2 L284.8,1638.9 L286.1,1645.7 L288.4,1648.2 L290.7,1653.2 L291.0,1653.5 L292.6,1657.7 L294.1,1660.2 L295.4,1663.9 L296.3,1667.2 L299.0,1666.4 L301.1,1661.4 L304.5,1661.2 L307.5,1658.7 L309.7,1657.0 L312.3,1652.0 L314.2,1655.9 L315.9,1657.3 L317.8,1659.7 L320.4,1663.9 L324.9,1663.2 L326.0,1663.7 L327.3,1663.5 L328.3,1670.9 L329.4,1676.1 L331.6,1670.3 L333.8,1667.5 L334.8,1664.2 L337.1,1663.2 L339.8,1660.6 L341.9,1657.0 L344.6,1661.1 L345.0,1665.2 L346.4,1668.8 L347.1,1671.0 L348.4,1674.0 L351.0,1678.2 L350.9,1679.9 L352.7,1681.6 L354.5,1678.7 L356.6,1678.6 L358.1,1675.9 L360.9,1672.3 L361.2,1670.4 L363.6,1666.5 L366.0,1666.2 L367.7,1664.5 L368.1,1665.3 L369.3,1665.8 L368.9,1672.9 L370.8,1675.9 L371.3,1679.5 L372.9,1681.7 L373.6,1685.2 L374.1,1688.5 L375.6,1691.9 L376.1,1694.4 L375.8,1698.3 L377.5,1700.1 L379.8,1700.6 L383.1,1707.3 L385.6,1705.2 L387.1,1703.5 L388.7,1701.9 L390.4,1699.0 L392.3,1698.5 L395.0,1695.5 L396.3,1691.1 L398.0,1688.1 L399.8,1684.8 L402.2,1682.2 L403.4,1679.9 L405.7,1677.4 L407.4,1675.9 L407.7,1670.7 L408.2,1668.1 L408.6,1667.0 L408.7,1663.4 L408.2,1659.8 L409.1,1657.8 L408.8,1653.8 L408.9,1651.2 L409.8,1648.2 L410.7,1645.9 L411.2,1640.5 L412.3,1638.5 L413.6,1640.4 L413.9,1644.0 L415.0,1648.2 L415.2,1650.4 L416.7,1653.3 L417.6,1654.5 L421.2,1661.0 L422.8,1665.7 L425.3,1668.9 L427.3,1670.0 L430.4,1673.2 L432.2,1674.1 L434.4,1677.8 L435.8,1672.6 L436.8,1671.9 L438.1,1668.2 L439.1,1666.3 L439.5,1661.5 L441.9,1660.4 L442.5,1655.6 L445.1,1654.4 L446.0,1651.8 L448.0,1649.3 L448.2,1649.0 L449.8,1653.7 L451.1,1657.2 L453.1,1661.4 L455.4,1662.5 L458.2,1665.6 L459.7,1668.3 L461.0,1674.3 L463.8,1676.1 L467.8,1676.0 L469.5,1678.8 L471.4,1679.5 L472.9,1683.8 L473.4,1683.7 L474.6,1690.5 L475.7,1694.1 L478.0,1696.1 L478.3,1698.5 L479.6,1701.5 L480.8,1706.1 L481.8,1706.0 L482.8,1709.7 L484.5,1708.7 L486.0,1705.3 L488.7,1701.5 L489.9,1700.9 L492.4,1698.8 L494.6,1693.1 L496.0,1691.9 L496.8,1690.4 L497.9,1685.8 L498.2,1680.9 L498.8,1680.7 L500.1,1675.7 L501.4,1674.1 L502.5,1670.4 L503.5,1666.1 L503.4,1663.2 L505.5,1661.3 L505.5,1657.7 L509.6,1658.3 L512.8,1655.6 L515.0,1658.0 L518.0,1659.6 L521.8,1661.3 L524.6,1664.8 L526.1,1667.1 L526.8,1671.7 L527.5,1676.1 L528.2,1675.8 L528.4,1680.9 L530.3,1682.3 L532.6,1684.0 L535.4,1685.8 L537.6,1687.4 L539.7,1686.4 L542.7,1689.3 L545.2,1693.3 L547.6,1694.7 L548.8,1699.9 L550.4,1701.2 L552.7,1707.6 L553.9,1709.2 L554.1,1711.8 L556.0,1712.4 L556.5,1716.8 L557.8,1717.9 L561.5,1718.8 L564.9,1714.9 L567.3,1718.1 L571.5,1720.5 L572.1,1714.6 L572.6,1715.0 L572.5,1710.8 L573.5,1707.3 L574.4,1701.3 L574.6,1701.6 L575.5,1698.5 L576.1,1695.1 L576.4,1691.3 L576.9,1689.1 L577.3,1686.4 L578.6,1680.5 L578.4,1679.7 L579.7,1677.4 L579.5,1670.9 L580.3,1669.3 L581.3,1667.4 L581.9,1665.1 L584.1,1661.3 L585.2,1657.9 L586.1,1654.4 L588.7,1652.1 L590.0,1650.5 L593.1,1649.1 L596.4,1647.5 L596.8,1650.1 L598.7,1652.5 L599.5,1656.6 L600.1,1655.7 L601.4,1661.1 L602.3,1666.2 L606.0,1666.7 L610.1,1667.7 L613.3,1662.6 L615.4,1662.3 L617.4,1659.2 L618.8,1663.2 L619.6,1668.3 L621.0,1669.2 L622.0,1672.7 L623.5,1676.8 L624.6,1677.7 L625.6,1681.1 L626.5,1686.3 L626.5,1685.8 L627.7,1691.8 L628.7,1694.3 L629.8,1696.9 L631.2,1698.4 L631.1,1701.5 L632.4,1703.1 L633.7,1708.4 L634.1,1708.6 L636.2,1712.2 L636.8,1717.9 L638.4,1719.6 L639.2,1718.8 L640.2,1725.5 L640.3,1728.1 L641.9,1730.7 L642.8,1734.8 L643.4,1736.4 L643.7,1741.0 L644.8,1742.9 L647.5,1739.7 L648.3,1734.9 L649.4,1730.1 L650.2,1729.9 L651.4,1726.0 L652.2,1721.9 L652.7,1720.2 L654.1,1717.1 L656.8,1719.2 L660.6,1718.5 L662.7,1717.7 L665.0,1715.3 L666.7,1712.5 L668.7,1708.0 L670.4,1706.4 L671.1,1704.4 L672.2,1699.6 L674.1,1698.6 L675.2,1693.9 L674.3,1689.6 L675.0,1688.5 L675.9,1684.5 L676.2,1681.4 L677.0,1680.6 L677.9,1677.8 L678.6,1674.0 L679.3,1670.6 L679.8,1668.1 L680.3,1663.8 L679.6,1663.3 L680.2,1657.6 L680.5,1652.9 L681.2,1649.1 L681.3,1649.0 L681.8,1645.0 L682.4,1641.2 L682.5,1638.3 L682.5,1635.1 L682.9,1630.4 L683.5,1626.6 L683.4,1625.6 L684.8,1622.9 L685.9,1619.2 L685.3,1614.8 L685.3,1611.1 L686.3,1608.1 L685.8,1606.9 L685.6,1604.4 L686.5,1599.7 L687.8,1596.4 L688.2,1592.4 L688.6,1587.1 L689.4,1585.7 L688.8,1583.4 L690.2,1579.5 L689.9,1576.8 L689.9,1572.5 L690.9,1571.9 L690.7,1568.3 L691.5,1565.3 L691.7,1561.9 L692.2,1557.4 L692.4,1556.6 L692.6,1554.1 L693.1,1548.1 L693.4,1544.7 L694.1,1541.3 L694.3,1539.9 L694.5,1537.6 L695.1,1533.3 L695.5,1530.5 L695.7,1529.6 L695.7,1526.1 L695.1,1522.7 L695.2,1518.8 L696.3,1512.7 L695.9,1512.1 L696.0,1510.0 L696.8,1505.6 L696.4,1501.7 L696.6,1498.4 L696.4,1498.6 L697.5,1494.0 L697.5,1491.1 L697.9,1491.1 L696.9,1491.1 L698.0,1494.7 L699.3,1500.3 L699.1,1502.3 L698.8,1504.3 L699.8,1507.6 L700.4,1509.0 L700.2,1516.6 L700.4,1517.2 L701.7,1520.9 L701.9,1521.4 L702.0,1524.6 L703.4,1530.1 L703.3,1533.0 L703.3,1537.3 L704.1,1539.8 L704.7,1536.7 L705.1,1533.1 L706.0,1529.1 L706.9,1528.8 L706.6,1524.7 L707.9,1521.2 L708.4,1516.3 L709.4,1513.3 L709.3,1508.8 L708.9,1509.2 L709.6,1503.9 L709.2,1499.6 L709.5,1497.7 L710.1,1493.9 L710.0,1491.6 L710.9,1486.7 L710.1,1486.6 L710.3,1481.6 L711.1,1481.2 L710.4,1472.3 L711.4,1474.1 L711.6,1468.6 L711.8,1464.0 L712.3,1465.2 L712.0,1461.3 L711.9,1458.9 L712.2,1453.0 L713.0,1448.9 L714.4,1450.6 L714.4,1445.0 L716.0,1441.6 L716.1,1439.8 L717.9,1436.6 L717.4,1439.2 L717.5,1442.5 L719.1,1447.0 L718.9,1449.2 L719.1,1451.8 L719.4,1454.9 L719.8,1458.0 L720.6,1460.8 L720.2,1464.4 L721.0,1466.2 L721.7,1468.9 L722.2,1473.6 L721.9,1475.1 L722.5,1477.9 L723.5,1479.4 L723.8,1484.8 L723.9,1489.1 L724.8,1492.1 L725.5,1494.3 L726.5,1498.9 L727.3,1500.8 L728.1,1503.6 L728.5,1504.8 L730.1,1509.2 L731.5,1513.8 L733.8,1516.5 L734.1,1513.3 L734.1,1509.9 L734.5,1505.9 L735.2,1506.0 L734.9,1503.9 L734.7,1499.1 L734.7,1495.6 L735.2,1493.0 L735.8,1489.9 L736.2,1486.3 L736.1,1484.5 L736.6,1480.0 L737.2,1476.0 L737.5,1474.6 L737.1,1468.4 L737.8,1466.7 L737.5,1464.2 L738.3,1461.7 L737.6,1457.1 L738.9,1455.0 L739.5,1452.5 L740.2,1447.8 L740.5,1446.1 L740.5,1443.5 L740.7,1440.4 L741.1,1437.4 L742.6,1440.4 L743.9,1440.7 L746.2,1444.3 L747.8,1441.0 L750.1,1440.3 L751.0,1441.5 L750.9,1444.9 L750.8,1447.8 L752.3,1449.8 L753.5,1455.8 L753.5,1458.0 L752.4,1461.4 L754.4,1463.3 L754.7,1468.0 L754.9,1471.1 L755.2,1474.0 L755.8,1476.8 L756.0,1479.9 L756.2,1481.4 L755.8,1484.3 L756.4,1486.8 L757.5,1491.3 L758.1,1498.6 L758.3,1497.3 L758.6,1500.7 L758.9,1506.6 L761.1,1508.1 L762.2,1511.2 L764.1,1512.6 L763.6,1507.7 L764.4,1505.1 L764.4,1499.9 L764.6,1499.1 L765.3,1494.9 L765.4,1495.4 L765.8,1487.7 L766.0,1487.1 L766.8,1484.2 L767.1,1481.4 L767.3,1479.6 L767.7,1475.1 L767.7,1476.6 L767.2,1469.0 L768.2,1464.8 L768.6,1462.4 L768.8,1459.8 L768.4,1457.8 L770.3,1460.6 L770.4,1460.4 L771.2,1465.5 L771.5,1466.1 L772.7,1472.7 L773.4,1477.4 L773.0,1478.2 L774.4,1482.6 L775.0,1482.8 L775.6,1487.7 L776.0,1489.3 L777.0,1494.5 L777.4,1497.1 L778.1,1499.4 L779.2,1504.4 L780.6,1506.4 L781.0,1512.3 L782.0,1512.7 L782.7,1514.7 L783.3,1518.9 L785.6,1521.5 L787.9,1525.9 L788.4,1523.4 L789.2,1518.6 L791.0,1514.4 L791.1,1514.5 L791.9,1510.3 L793.0,1507.5 L793.7,1505.3 L797.7,1505.9 L801.2,1501.5 L801.3,1506.9 L802.9,1509.0 L803.3,1516.1 L804.4,1517.1 L805.0,1521.6 L807.9,1518.6 L811.0,1516.8 L812.9,1521.6 L812.8,1526.0 L814.3,1524.8 L814.8,1530.0 L816.5,1532.4 L817.2,1536.2 L819.5,1539.8 L821.4,1538.6 L822.2,1538.7 L823.9,1536.2 L824.4,1534.1 L825.7,1528.8 L827.3,1531.5 L828.4,1536.3 L830.3,1538.8 L830.7,1540.7 L832.9,1544.5 L834.3,1546.2 L837.2,1549.1 L838.2,1548.5 L840.1,1556.0 L842.8,1555.0 L846.0,1559.2 L848.5,1562.5 L849.0,1558.1 L849.6,1555.7 L849.9,1552.7 L850.5,1549.5 L851.0,1545.4 L850.7,1543.1 L852.2,1540.5 L852.2,1536.1 L852.1,1532.5 L853.1,1536.7 L853.8,1540.1 L854.7,1544.2 L856.2,1544.3 L856.8,1543.9 L858.0,1541.6 L858.6,1537.6 L859.4,1535.5 L860.1,1531.7 L861.3,1528.6 L861.6,1527.4 L863.1,1521.2 L864.5,1518.1 L864.2,1515.2 L865.6,1514.2 L866.7,1509.7 L868.7,1507.3 L870.9,1503.1 L871.9,1501.3 L872.3,1496.8 L872.8,1493.2 L873.6,1492.0 L873.5,1488.4 L875.3,1489.9 L874.4,1484.7 L874.1,1481.4 L875.7,1477.3 L875.8,1472.4 L878.2,1476.0 L880.2,1480.3 L881.0,1476.7 L882.1,1473.3 L882.8,1470.3 L884.2,1467.1 L884.8,1462.2 L886.1,1469.1 L888.5,1470.6 L889.8,1473.2 L891.5,1477.7 L894.3,1478.1 L897.9,1477.1 L898.8,1475.0 L900.4,1471.8 L902.2,1468.5 L903.2,1470.6 L903.5,1476.7 L904.1,1476.5 L904.3,1482.5 L904.9,1483.2 L905.9,1486.5 L905.8,1491.4 L906.9,1493.2 L907.7,1498.7 L908.6,1500.8 L909.0,1504.6 L908.6,1509.1 L909.3,1509.3 L909.6,1511.8 L910.7,1516.0 L910.4,1516.7 L911.1,1521.9 L911.0,1524.9 L911.1,1528.8 L911.7,1531.6 L912.5,1531.4 L914.6,1534.9 L917.8,1538.1 L920.3,1541.1 L920.7,1541.3 L921.0,1543.6 L922.7,1546.7 L923.0,1551.9 L923.2,1555.3 L925.5,1554.3 L926.4,1559.6 L927.9,1562.3 L928.7,1567.6 L929.8,1569.5 L931.8,1565.7 L933.4,1563.4 L935.0,1557.5 L935.8,1556.9 L938.3,1555.0 L939.5,1548.9 L940.8,1544.1 L943.1,1549.7 L945.4,1549.7 L947.5,1554.1 L948.0,1559.3 L949.2,1562.4 L949.8,1563.3 L950.9,1569.4 L951.0,1569.9 L952.8,1567.5 L953.3,1564.7 L955.2,1560.6 L957.5,1561.1 L960.3,1556.3 L962.8,1558.7 L963.6,1552.9 L964.1,1547.6 L964.5,1545.4 L966.3,1542.5 L965.8,1541.1 L968.3,1533.8 L969.3,1530.7 L971.3,1526.8 L973.2,1525.2 L975.3,1527.9 L979.0,1524.5 L982.2,1525.3 L985.3,1528.7 L986.4,1526.3 L988.0,1521.4 L988.2,1520.8 L990.9,1517.7 L991.1,1514.8 L992.0,1517.3 L993.1,1520.4 L995.2,1525.5 L996.0,1527.7 L997.6,1528.1 L997.8,1530.0 L998.4,1535.8 L998.8,1537.8 L1000.7,1542.9 L1000.3,1544.5 L1002.0,1544.2 L1002.8,1550.7 L1004.2,1553.9 L1005.1,1556.8 L1005.8,1557.8 L1007.1,1559.8 L1008.7,1564.7 L1008.8,1566.9 L1009.8,1571.2 L1011.1,1575.1 L1012.9,1576.4 L1014.8,1578.4 L1018.0,1581.4 L1019.5,1584.8 L1020.4,1587.1 L1022.1,1591.9 L1023.8,1592.0 L1025.6,1586.3 L1025.9,1582.3 L1027.2,1581.9 L1029.7,1578.0 L1032.0,1575.0 L1035.2,1570.9 L1038.9,1569.2 L1040.3,1572.1 L1041.6,1575.1 L1043.4,1577.2 L1045.2,1581.7 L1045.7,1586.1 L1046.8,1585.1 L1048.5,1590.0 L1049.6,1594.1 L1049.7,1597.9 L1051.1,1601.0 L1051.9,1605.2 L1053.2,1606.2 L1053.2,1610.0 L1055.0,1610.3 L1056.6,1615.9 L1058.2,1617.9 L1059.6,1617.8 L1061.6,1617.3 L1061.6,1621.9 L1062.5,1622.2 L1062.4,1627.2 L1062.6,1632.3 L1062.7,1632.4 L1063.3,1633.7 L1063.6,1638.3 L1063.9,1641.6 L1066.4,1647.2 L1066.7,1644.7 L1068.0,1638.5 L1068.0,1636.7 L1069.1,1635.2 L1070.6,1630.6 L1072.1,1626.7 L1072.8,1624.6 L1074.3,1623.3 L1076.8,1619.8 L1078.1,1613.4 L1079.9,1613.1 L1082.3,1609.8 L1084.7,1608.2 L1087.6,1604.7 L1088.6,1604.2 L1091.9,1600.3 L1094.1,1600.7 L1096.6,1598.5 L1098.6,1594.3 L1101.6,1593.6 L1102.8,1592.6 L1105.7,1583.8 L1108.5,1584.2 L1108.4,1582.2 L1110.6,1579.6 L1112.0,1572.9 L1113.4,1571.5 L1115.1,1568.8 L1118.3,1565.0 L1121.0,1563.4 L1122.9,1565.0 L1124.4,1573.2 L1125.2,1574.7 L1127.5,1577.7 L1129.2,1573.5 L1131.0,1570.4 L1132.0,1566.3 L1134.2,1565.3 L1134.2,1559.3 L1135.4,1558.8 L1136.9,1553.8 L1136.6,1551.4 L1138.5,1549.7 L1141.4,1545.7 L1142.7,1542.2 L1144.9,1540.4 L1146.4,1535.1 L1147.3,1534.0 L1147.9,1530.5 L1150.0,1527.7 L1152.2,1524.4 L1152.4,1521.4 L1153.6,1516.6 L1155.4,1515.3 L1156.4,1512.2 L1157.2,1507.0 L1157.6,1506.6 L1157.9,1503.8 L1157.8,1499.5 L1158.4,1496.7 L1158.6,1495.5 L1158.6,1490.8 L1158.7,1488.3 L1159.2,1483.6 L1159.0,1480.0 L1159.4,1478.6 L1159.6,1475.3 L1160.0,1475.3 L1160.6,1472.2 L1160.4,1466.5 L1161.3,1463.6 L1161.0,1459.5 L1160.8,1458.0 L1161.0,1453.2 L1162.3,1451.0 L1164.5,1448.0 L1165.9,1442.4 L1170.4,1442.8 L1174.1,1440.1 L1173.7,1441.3 L1174.7,1448.7 L1175.4,1452.7 L1174.6,1452.1 L1175.4,1455.5 L1175.9,1458.5 L1175.8,1462.5 L1176.8,1464.5 L1177.1,1466.9 L1177.4,1471.1 L1182.3,1468.9 L1182.3,1470.3 L1182.8,1475.9 L1183.1,1476.8 L1184.6,1480.7 L1184.0,1482.9 L1185.1,1487.7 L1184.9,1492.0 L1184.7,1490.9 L1185.9,1496.5 L1185.6,1500.0 L1186.1,1504.5 L1186.0,1505.5 L1187.2,1509.1 L1187.0,1510.5 L1187.3,1514.9 L1189.2,1511.3 L1191.6,1508.9 L1193.2,1506.3 L1195.0,1501.2 L1194.8,1507.5 L1195.1,1509.3 L1195.6,1516.0 L1195.4,1514.9 L1195.2,1519.8 L1196.1,1521.2 L1196.1,1526.5 L1196.8,1528.7 L1197.1,1532.6 L1196.6,1535.4 L1197.0,1538.4 L1197.3,1543.1 L1196.8,1543.9 L1197.1,1549.4 L1198.0,1542.8 L1198.9,1540.0 L1200.3,1536.8 L1200.5,1535.0 L1201.7,1529.2 L1201.9,1525.5 L1202.7,1525.8 L1202.5,1520.6 L1203.5,1518.6 L1203.6,1514.4 L1203.4,1511.5 L1204.4,1507.1 L1203.8,1508.0 L1204.2,1501.6 L1204.6,1499.7 L1204.7,1497.6 L1205.3,1492.1 L1205.6,1498.9 L1205.5,1499.9 L1206.1,1503.8 L1206.7,1505.6 L1207.3,1509.6 L1207.5,1510.2 L1208.6,1516.7 L1208.8,1518.5 L1209.6,1521.1 L1210.0,1523.3 L1210.6,1528.7 L1211.6,1532.1 L1211.9,1533.8 L1212.6,1535.2 L1213.9,1539.7 L1214.4,1541.5 L1214.9,1546.3 L1215.3,1550.8 L1216.2,1552.7 L1216.6,1554.9 L1216.7,1558.1 L1217.1,1561.3 L1218.0,1565.9 L1218.3,1570.6 L1218.8,1570.7 L1219.5,1572.7 L1220.0,1574.3 L1220.9,1579.0 L1221.0,1580.7 L1221.7,1584.6 L1222.5,1588.2 L1222.2,1593.6 L1223.5,1593.5 L1222.8,1601.3 L1224.2,1600.6 L1224.3,1606.6 L1224.8,1610.9 L1226.0,1612.2 L1227.9,1616.9 L1228.4,1618.7 L1229.0,1620.9 L1229.8,1624.5 L1230.6,1626.1 L1230.2,1630.8 L1231.7,1634.4 L1231.2,1637.4 L1231.1,1633.4 L1232.9,1628.4 L1233.5,1626.3 L1234.2,1628.0 L1234.5,1621.3 L1234.7,1617.5 L1234.8,1615.3 L1234.6,1619.2 L1236.4,1620.6 L1237.2,1626.3 L1237.7,1629.5 L1238.3,1632.6 L1239.0,1630.4 L1239.6,1627.1 L1239.9,1623.5 L1241.7,1619.1 L1241.9,1616.0 L1242.7,1615.0 L1243.3,1619.1 L1243.6,1619.8 L1243.5,1624.8 L1243.9,1625.8 L1245.3,1627.3 L1245.3,1617.2 L1246.7,1616.8 L1247.6,1612.2 L1247.7,1611.0 L1247.8,1605.9 L1249.4,1603.5 L1250.1,1595.6 L1250.7,1597.0 L1253.9,1592.0 L1255.1,1592.7 L1256.7,1587.0 L1259.2,1585.9 L1261.2,1583.7 L1262.8,1581.1 L1264.3,1577.3 L1266.0,1572.9 L1266.6,1569.8 L1267.0,1567.7 L1267.6,1565.4 L1266.7,1561.5 L1268.0,1558.5 L1268.1,1556.6 L1268.7,1550.4 L1268.8,1550.3 L1269.1,1544.2 L1269.7,1543.5 L1270.1,1539.8 L1270.0,1537.6 L1273.4,1536.2 L1274.3,1537.3 L1274.8,1541.0 L1274.1,1544.2 L1275.2,1545.0 L1276.0,1550.2 L1276.2,1551.2 L1276.4,1553.8 L1277.7,1557.1 L1277.5,1563.1 L1277.2,1563.3 L1277.4,1566.9 L1278.4,1570.6 L1279.6,1573.7 L1280.4,1576.2 L1281.1,1580.0 L1281.5,1582.9 L1282.3,1584.8 L1283.2,1587.3 L1284.1,1592.9 L1284.7,1597.6 L1285.7,1598.8 L1286.2,1604.1 L1286.7,1606.3 L1287.7,1607.7 L1287.7,1611.5 L1287.6,1615.6 L1288.1,1617.0 L1287.9,1620.9 L1287.7,1624.7 L1288.1,1626.4 L1288.7,1630.2 L1288.0,1633.2 L1288.5,1636.8 L1289.5,1640.2 L1289.3,1642.3 L1289.5,1639.8 L1289.8,1636.1 L1290.2,1633.3 L1290.6,1631.3 L1290.0,1623.9 L1291.9,1622.8 L1292.6,1616.9 L1292.7,1614.6 L1292.6,1612.0 L1293.6,1613.7 L1294.5,1618.0 L1295.8,1622.2 L1297.0,1625.3 L1300.2,1623.0 L1300.1,1620.2 L1301.3,1619.2 L1302.3,1614.2 L1302.2,1611.0 L1302.5,1606.1 L1304.9,1612.9 L1306.8,1613.7 L1306.9,1619.9 L1312.5,1619.6 L1313.7,1620.9 L1315.1,1626.2 L1318.0,1629.2 L1321.1,1635.6 L1322.2,1633.1 L1321.6,1638.1 L1322.4,1642.9 L1323.7,1644.1 L1323.8,1647.8 L1323.3,1652.8 L1325.2,1653.3 L1325.2,1656.8 L1325.7,1660.1 L1326.4,1664.0 L1326.9,1667.5 L1327.4,1671.4 L1328.2,1671.2 L1329.6,1676.3 L1329.8,1681.2 L1330.8,1679.6 L1331.8,1672.3 L1332.3,1670.4 L1333.2,1670.5 L1335.2,1667.6 L1335.2,1663.2 L1336.1,1656.7 L1337.6,1659.2 L1337.9,1653.7 L1338.9,1650.6 L1339.8,1646.5 L1341.7,1642.5 L1342.6,1646.5 L1343.1,1648.4 L1344.4,1652.7 L1346.2,1655.8 L1346.3,1660.8 L1346.7,1662.3 L1347.5,1667.4 L1348.8,1671.3 L1349.0,1672.1 L1350.3,1676.1 L1351.3,1681.4 L1352.5,1676.0 L1353.7,1673.1 L1354.7,1673.4 L1356.5,1670.4 L1357.4,1664.9 L1357.6,1662.2 L1359.0,1659.6 L1358.9,1655.8 L1360.3,1651.9 L1360.9,1648.7 L1361.2,1645.5 L1361.3,1642.0 L1362.6,1639.6 L1363.0,1642.5 L1363.9,1646.2 L1364.2,1649.0 L1365.1,1652.7 L1365.3,1658.9 L1365.8,1657.3 L1365.9,1662.9 L1366.3,1663.7 L1367.4,1666.7 L1368.5,1672.4 L1368.6,1676.6 L1369.1,1676.6 L1370.3,1681.3 L1370.5,1685.7 L1371.1,1688.3 L1372.5,1692.0 L1373.9,1692.9 L1375.6,1696.0 L1376.9,1697.9 L1377.5,1699.6 L1378.4,1701.0 L1378.8,1696.7 L1379.6,1694.7 L1380.5,1690.1 L1381.5,1684.5 L1382.0,1683.4 L1383.0,1680.0 L1383.5,1676.9 L1383.6,1673.3 L1384.6,1669.3 L1385.4,1667.4 L1386.9,1664.7 L1389.4,1662.6 L1392.8,1657.9 L1393.4,1658.9 L1395.3,1652.6 L1397.7,1651.0 L1398.5,1648.5 L1400.2,1645.8 L1402.4,1640.4 L1402.8,1645.5 L1402.8,1645.9 L1404.3,1646.4 L1403.6,1652.4 L1404.0,1655.6 L1404.8,1656.5 L1404.5,1662.7 L1405.8,1660.6 L1405.5,1668.3 L1405.4,1668.9 L1405.5,1672.7 L1405.8,1676.9 L1406.3,1679.7 L1406.3,1683.1 L1407.5,1686.2 L1407.6,1691.0 L1408.2,1691.1 L1408.8,1693.5 L1408.5,1699.1 L1408.6,1700.0 L1412.0,1697.7 L1414.9,1696.3 L1416.5,1691.3 L1415.9,1688.0 L1416.6,1683.7 L1417.5,1683.5 L1418.6,1679.8 L1419.2,1677.0 L1419.8,1674.2 L1422.0,1670.3 L1422.8,1666.1 L1425.1,1663.7 L1425.9,1667.8 L1427.5,1670.1 L1428.1,1673.4 L1428.7,1677.6 L1430.4,1678.2 L1433.1,1680.4 L1435.1,1675.7 L1436.3,1677.8 L1438.5,1681.6 L1440.5,1683.9 L1440.7,1688.7 L1441.5,1690.7 L1442.2,1694.5 L1442.3,1700.3 L1444.1,1698.6 L1444.5,1695.5 L1446.0,1691.6 L1447.7,1690.3 L1447.3,1690.7 L1448.8,1685.6 L1450.0,1681.5 L1452.1,1676.2 L1452.6,1674.7 L1453.7,1672.4 L1454.1,1670.3 L1455.9,1667.2 L1456.6,1664.5 L1457.6,1661.5 L1459.3,1658.3 L1460.1,1661.3 L1462.1,1667.5 L1464.2,1665.9 L1465.3,1671.7 L1467.1,1673.0 L1468.1,1669.1 L1468.8,1666.1 L1470.3,1661.7 L1470.6,1660.3 L1470.8,1655.0 L1471.4,1654.0 L1472.6,1651.3 L1473.9,1647.0 L1475.0,1644.1 L1476.3,1641.5 L1477.2,1638.9 L1479.0,1640.7 L1479.4,1642.7 L1480.0,1645.7 L1481.2,1650.9 L1482.1,1655.6 L1482.2,1658.5 L1484.4,1663.3 L1485.0,1664.2 L1486.0,1667.3 L1487.8,1671.4 L1488.7,1672.6 L1491.1,1669.8 L1493.7,1664.7 L1494.3,1664.4 L1496.9,1662.5 L1498.5,1658.1 L1500.2,1658.2 L1502.5,1654.8 L1503.6,1649.1 L1503.9,1652.6 L1504.8,1658.0 L1506.0,1659.7 L1506.1,1662.7 L1505.9,1666.8 L1506.7,1667.2 L1507.2,1674.4 L1508.3,1670.9 L1509.4,1665.8 L1511.4,1662.0 L1511.5,1665.8 L1513.1,1670.0 L1513.2,1673.2 L1514.2,1677.5 L1514.3,1678.1 L1514.6,1682.6 L1516.2,1685.8 L1517.3,1692.4 L1518.5,1694.3 L1521.6,1689.0 L1524.6,1686.1 L1526.4,1689.0 L1529.0,1693.4 L1530.5,1695.6 L1532.8,1697.5 L1533.7,1700.6 L1536.5,1704.0 L1536.6,1707.1 L1537.3,1707.5 L1538.1,1712.9 L1538.5,1714.7 L1538.9,1718.6 L1538.8,1721.2 L1539.6,1723.2 L1540.7,1728.5 L1541.2,1728.8 L1543.5,1727.1 L1542.7,1723.2 L1544.7,1719.2 L1547.5,1720.2 L1549.2,1713.3 L1551.5,1712.6 L1552.3,1709.6 L1553.3,1706.5 L1555.1,1704.6 L1557.0,1699.2 L1557.6,1702.1 L1558.7,1707.7 L1560.2,1709.0 L1561.9,1713.6 L1562.1,1715.7 L1562.6,1718.4 L1562.8,1721.7 L1562.9,1722.8 L1563.7,1728.5 L1563.5,1730.9 L1564.4,1734.7 L1563.8,1738.8 L1564.6,1742.4 L1566.1,1743.5 L1566.3,1747.0 L1566.7,1751.9 L1567.3,1752.7 L1568.1,1754.7 L1569.2,1758.5 L1570.3,1758.1 L1571.4,1753.0 L1571.5,1750.1 L1572.8,1746.4 L1574.9,1742.9 L1577.5,1744.4 L1580.8,1741.4 L1581.6,1740.1 L1582.8,1734.9 L1582.4,1732.5 L1585.4,1730.2 L1590.6,1735.3 L1590.8,1729.1 L1592.7,1724.5 L1592.1,1724.1 L1594.3,1722.8 L1595.5,1717.9 L1596.0,1712.7 L1599.6,1714.2 L1602.4,1715.4 L1603.0,1711.8 L1604.8,1711.3 L1606.2,1707.1 L1607.1,1700.5 L1609.1,1705.2 L1609.5,1710.1 L1611.5,1709.7 L1612.4,1717.6 L1613.3,1716.8 L1613.7,1723.8 L1615.3,1726.4 L1614.9,1730.1 L1615.9,1731.9 L1616.8,1730.6 L1618.1,1726.6 L1618.5,1721.8 L1620.0,1718.4 L1620.3,1716.6 L1621.1,1713.8 L1623.1,1710.0 L1625.4,1705.1 L1627.0,1700.8 L1627.6,1696.8 L1629.3,1696.5 L1631.5,1696.6 L1635.3,1693.1 L1637.9,1692.3 L1638.0,1690.2 L1639.9,1696.2 L1641.6,1700.7 L1642.8,1704.1 L1643.4,1707.3 L1644.1,1714.4 L1644.9,1713.7 L1645.2,1719.2 L1646.5,1720.9 L1646.3,1717.3 L1647.7,1716.8 L1647.6,1712.8 L1648.7,1711.0 L1648.3,1708.8 L1649.0,1703.8 L1649.0,1701.1 L1650.1,1696.2 L1649.3,1695.9 L1651.7,1693.8 L1652.7,1686.8 L1654.1,1685.9 L1654.6,1680.4 L1654.6,1679.6 L1655.0,1677.0 L1655.7,1674.4 L1656.3,1669.3 L1656.1,1668.5 L1656.2,1665.8 L1657.0,1662.7 L1656.8,1659.5 L1657.2,1655.8 L1657.8,1651.8 L1657.8,1652.4 L1657.8,1659.4 L1657.9,1658.8 L1658.0,1664.3 L1659.1,1668.4 L1658.5,1671.3 L1658.9,1675.2 L1659.8,1676.0 L1659.7,1679.7 L1659.9,1684.4 L1660.5,1685.1 L1660.9,1687.1 L1661.0,1691.5 L1661.0,1694.9 L1662.6,1696.4 L1663.9,1705.6 L1665.3,1704.2 L1666.0,1710.5 L1666.2,1713.9 L1667.4,1717.5 L1668.0,1719.7 L1668.9,1723.3 L1670.4,1725.4 L1672.2,1728.9 L1675.1,1728.6 L1676.3,1726.9 L1677.0,1722.9 L1678.2,1722.4 L1678.8,1719.4 L1679.5,1715.6 L1681.3,1711.2 L1684.4,1708.3 L1688.2,1708.0 L1689.0,1709.2 L1688.7,1713.2 L1691.2,1716.0 L1692.2,1719.7 L1692.9,1723.5 L1693.6,1724.5 L1695.3,1722.7 L1695.7,1717.7 L1697.5,1712.0 L1698.3,1713.1 L1698.5,1711.0 L1700.2,1710.5 L1701.1,1701.2 L1701.7,1702.7 L1702.9,1698.7 L1704.1,1697.7 L1705.3,1692.7 L1706.0,1691.3 L1707.2,1693.9 L1708.9,1697.7 L1710.3,1700.4 L1711.6,1704.4 L1711.4,1705.5 L1712.2,1711.8 L1712.9,1715.4 L1714.3,1715.9 L1714.6,1719.9 L1716.5,1716.8 L1717.8,1714.0 L1719.3,1710.0 L1720.0,1706.0 L1724.9,1706.2 L1726.1,1710.5 L1728.6,1711.2 L1729.5,1715.6 L1730.9,1721.2 L1731.6,1723.3 L1732.0,1726.7 L1732.7,1729.2 L1734.0,1732.2 L1735.2,1732.7 L1735.1,1740.1 L1736.4,1741.3 L1737.3,1744.9 L1737.8,1748.5 L1738.5,1753.6 L1737.7,1754.0 L1738.5,1757.5 L1738.8,1760.4 L1739.6,1763.3 L1739.9,1767.3 L1739.8,1769.4 L1740.9,1773.7" fill="none" stroke="#7A9FCB" stroke-width="6.8" stroke-linejoin="round" stroke-linecap="round" clip-path="url(#lc)"/>
<path d="M166.2,1660.0 L166.6,1661.9 L166.1,1667.4 L166.4,1669.5 L166.3,1673.4 L166.5,1673.9 L166.7,1677.8 L166.5,1682.1 L166.7,1683.6 L166.3,1686.8 L166.7,1688.9 L166.6,1696.6 L166.6,1696.6 L166.5,1699.1 L167.1,1702.8 L166.4,1705.7 L166.7,1710.1 L167.1,1713.8 L167.4,1713.2 L167.6,1717.2 L167.3,1721.0 L166.9,1725.5 L167.5,1725.6 L167.0,1730.6 L168.5,1727.3 L168.7,1723.0 L169.5,1721.1 L169.3,1716.3 L169.3,1715.5 L171.8,1710.6 L171.4,1708.5 L171.9,1713.3 L172.3,1712.4 L174.1,1717.7 L174.5,1719.4 L175.0,1722.7 L176.4,1724.8 L177.9,1731.1 L178.6,1730.6 L180.0,1738.2 L181.3,1740.1 L183.1,1740.7 L185.4,1744.8 L185.8,1748.8 L187.1,1751.1 L188.1,1752.9 L188.1,1757.6 L189.4,1757.3 L189.9,1763.4 L193.7,1764.9 L196.9,1762.8 L197.7,1757.4 L198.4,1756.4 L198.8,1752.7 L199.8,1749.1 L199.8,1745.7 L205.4,1743.1 L207.2,1746.9 L208.1,1753.4 L209.3,1756.1 L210.7,1756.9 L212.1,1754.7 L212.8,1751.5 L213.9,1745.8 L213.8,1745.8 L214.2,1740.5 L216.4,1740.0 L216.4,1735.1 L217.1,1730.5 L217.8,1727.1 L218.6,1725.2 L220.2,1720.4 L221.1,1716.6 L222.1,1714.6 L222.5,1718.6 L223.5,1722.0 L223.3,1725.2 L224.1,1729.1 L224.9,1730.6 L224.6,1735.8 L225.1,1738.8 L227.1,1743.1 L226.1,1743.6 L227.3,1747.5 L228.0,1751.4 L228.4,1755.0 L228.2,1759.0 L229.0,1759.4 L229.4,1763.5 L231.2,1766.0 L231.3,1766.7 L232.7,1771.0 L234.0,1770.3 L235.8,1768.1 L238.1,1766.0 L237.9,1761.5 L238.9,1756.9 L240.0,1754.0 L240.6,1751.9 L242.0,1746.7 L246.5,1752.9 L247.6,1753.4 L247.4,1756.2 L248.2,1758.5 L248.6,1761.6 L249.2,1766.3 L250.6,1767.5 L250.9,1771.3 L251.2,1774.6 L251.6,1777.8 L251.8,1780.4 L253.2,1782.3 L252.7,1787.7 L253.5,1789.7 L253.9,1792.0 L254.0,1796.5 L254.6,1799.9 L255.1,1805.2 L255.3,1807.4 L255.7,1811.7 L256.4,1811.0 L257.0,1814.5 L257.1,1817.5 L257.3,1822.0 L258.0,1822.2 L257.4,1829.5 L259.0,1830.6 L259.4,1832.1 L259.9,1836.7 L261.2,1835.0 L261.6,1833.2 L262.3,1829.8 L263.2,1826.5 L264.1,1824.8 L264.8,1822.7 L266.0,1815.7 L266.3,1815.4 L267.7,1808.8 L267.9,1808.0 L269.5,1804.9 L269.2,1802.0 L270.0,1796.4 L271.3,1793.9 L272.5,1791.0 L273.9,1786.5 L277.2,1788.0 L280.3,1793.2 L283.3,1791.9 L286.0,1795.3 L288.5,1798.5 L289.8,1800.1 L292.9,1801.0 L295.2,1799.5 L298.7,1797.2 L300.2,1794.8 L299.9,1792.4 L301.6,1789.3 L302.5,1786.9 L303.4,1787.8 L303.7,1793.0 L305.0,1792.8 L306.2,1800.1 L305.9,1802.5 L307.8,1807.3 L309.6,1800.8 L311.0,1799.4 L311.9,1797.0 L313.5,1792.9 L313.8,1789.5 L315.0,1784.7 L315.9,1782.2 L316.1,1778.4 L317.6,1773.0 L318.6,1781.8 L318.6,1781.8 L318.4,1783.6 L318.7,1789.6 L319.3,1792.0 L319.8,1796.3 L321.0,1799.4 L321.2,1802.7 L322.1,1803.3 L322.0,1806.7 L322.4,1810.4 L322.9,1814.8 L322.8,1813.6 L323.9,1821.5 L324.0,1819.0 L325.4,1814.2 L324.8,1811.8 L325.6,1806.1 L325.8,1802.4 L325.6,1802.4 L326.5,1797.5 L326.8,1797.8 L326.5,1793.8 L328.0,1788.3 L328.6,1787.4 L328.6,1783.5 L329.3,1780.1 L329.9,1775.8 L330.9,1775.7 L331.1,1772.0 L331.3,1771.5 L332.3,1776.5 L332.6,1778.0 L332.7,1783.7 L333.9,1785.7 L333.9,1785.0 L333.9,1793.2 L335.3,1793.5 L334.0,1798.3 L335.0,1800.2 L335.7,1803.4 L336.1,1807.8 L337.0,1808.4 L336.8,1816.0 L338.1,1816.6 L337.7,1822.3 L338.4,1822.8 L340.6,1819.2 L342.2,1817.0 L343.0,1813.3 L343.8,1811.2 L344.5,1811.0 L344.4,1808.5 L344.6,1802.6 L344.9,1797.1 L345.3,1795.8 L345.2,1793.9 L345.9,1789.4 L345.7,1787.0 L346.0,1782.3 L346.3,1781.5 L346.6,1776.9 L346.9,1774.7 L347.2,1771.9 L347.4,1768.7 L349.9,1764.1 L352.7,1762.3 L352.8,1767.7 L353.2,1767.9 L353.7,1774.1 L353.8,1776.9 L355.0,1778.0 L355.1,1780.8 L354.9,1783.7 L355.6,1786.0 L356.4,1792.0 L356.7,1794.0 L357.2,1797.4 L359.3,1796.7 L361.1,1793.1 L363.0,1791.1 L363.2,1787.8 L363.9,1782.7 L363.8,1781.1 L364.0,1777.5 L365.1,1775.3 L366.1,1773.5 L365.5,1769.0 L367.1,1767.6 L367.2,1763.2 L367.8,1764.4 L368.3,1769.9 L368.5,1771.7 L369.4,1774.4 L369.2,1778.0 L369.9,1781.2 L370.5,1784.2 L370.0,1784.5 L370.8,1791.8 L371.2,1792.1 L372.0,1796.3 L373.2,1796.9 L373.8,1801.9 L374.5,1806.1 L374.1,1808.8 L376.7,1809.7 L378.0,1815.3 L379.1,1818.2 L381.5,1822.4 L382.1,1816.2 L384.1,1813.5 L385.1,1807.3 L387.1,1805.2 L386.4,1811.2 L388.0,1812.4 L387.8,1817.1 L389.6,1818.1 L390.4,1821.4 L390.8,1826.1 L391.9,1828.7 L392.2,1831.2 L393.4,1834.8 L394.3,1839.2 L394.9,1842.4 L397.6,1846.5 L399.6,1848.9 L400.7,1851.7 L400.6,1854.0 L402.0,1855.0 L402.0,1859.5 L402.7,1863.1 L402.8,1865.1 L402.7,1871.1 L402.9,1871.4 L403.7,1873.5 L404.6,1870.2 L405.0,1868.1 L404.8,1865.3 L405.7,1861.8 L406.0,1857.7 L407.8,1855.5 L408.6,1854.1 L409.2,1848.4 L409.6,1846.3 L409.9,1840.9 L411.0,1841.4 L411.3,1836.2 L412.2,1833.6 L413.0,1829.3 L413.6,1825.8 L413.0,1825.7 L413.9,1820.0 L414.6,1815.3 L414.5,1812.1 L415.3,1810.4 L415.5,1804.9 L415.5,1801.5 L415.7,1799.1 L418.0,1803.3 L418.8,1806.0 L421.3,1809.7 L423.6,1808.1 L425.6,1812.9 L427.6,1814.1 L431.8,1814.0 L434.8,1810.2 L435.0,1813.8 L434.7,1820.8 L435.3,1823.0 L435.9,1825.7 L435.5,1826.2 L435.7,1830.9 L435.8,1833.4 L436.1,1834.9 L436.6,1838.3 L436.3,1841.7 L436.9,1845.2 L436.2,1848.4 L437.0,1850.3 L436.3,1854.3 L437.2,1854.1 L437.4,1864.1 L437.1,1865.3 L437.3,1864.6 L437.3,1870.9 L437.8,1866.5 L438.7,1864.2 L440.6,1860.6 L439.8,1859.5 L440.9,1853.5 L442.0,1851.8 L442.6,1848.1 L443.2,1849.1 L444.0,1855.0 L444.1,1854.6 L444.7,1860.4 L445.9,1857.2 L444.6,1852.9 L446.2,1850.9 L446.0,1847.0 L447.1,1845.2 L447.8,1843.3 L447.6,1837.4 L448.1,1835.4 L449.5,1831.9 L449.2,1827.2 L449.0,1827.7 L449.9,1824.0 L450.7,1818.3 L450.9,1814.6 L451.4,1812.4 L451.9,1817.5 L451.9,1820.1 L452.7,1821.4 L453.1,1827.0 L453.5,1829.8 L454.0,1833.4 L454.3,1834.4 L455.1,1835.0 L455.1,1843.3 L455.4,1846.9 L456.8,1846.9 L456.9,1851.1 L458.5,1856.0 L459.8,1855.7 L460.5,1858.9 L461.6,1863.2 L463.8,1865.8 L465.7,1867.6 L467.1,1873.3 L468.8,1870.7 L470.9,1865.5 L470.8,1861.8 L472.2,1861.7 L472.9,1862.8 L473.3,1866.0 L473.4,1869.2 L473.1,1873.4 L473.9,1878.4 L474.2,1877.6 L474.5,1880.5 L474.7,1884.0 L475.1,1886.4 L475.2,1883.9 L475.1,1881.3 L476.0,1879.2 L476.1,1874.9 L476.5,1871.6 L476.7,1866.5 L476.2,1864.7 L477.3,1862.2 L477.3,1858.0 L476.8,1860.1 L478.2,1855.6 L477.8,1849.2 L478.2,1846.6 L478.1,1840.5 L478.6,1837.7 L478.6,1835.5 L480.8,1832.7 L481.1,1831.8 L482.4,1828.5 L484.1,1824.2 L484.3,1828.0 L483.8,1831.6 L484.2,1835.7 L484.9,1837.5 L485.5,1839.2 L485.1,1845.4 L485.9,1847.1 L485.1,1849.6 L485.8,1851.8 L487.6,1853.7 L490.2,1859.8 L492.3,1862.3 L494.2,1866.9 L495.6,1867.8 L498.6,1870.0 L498.4,1871.6 L498.3,1875.7 L500.6,1878.6 L500.5,1881.9 L500.3,1877.1 L501.7,1878.2 L502.2,1873.3 L502.9,1869.9 L504.6,1867.2 L504.6,1865.9 L505.5,1868.2 L506.5,1871.9 L506.5,1873.0 L506.4,1879.6 L507.1,1882.4 L506.5,1884.0 L508.2,1889.6 L506.5,1882.0 L508.5,1882.6 L508.8,1874.8 L508.5,1876.7 L509.2,1871.2 L509.4,1870.6 L509.0,1868.7 L510.0,1864.8 L509.5,1860.9 L510.0,1859.8 L511.2,1853.4 L511.3,1852.2 L510.4,1847.6 L511.6,1846.0 L510.9,1842.3 L511.7,1845.7 L513.2,1848.3 L513.0,1848.4 L513.9,1857.2 L515.2,1858.4 L514.9,1862.0 L516.6,1859.2 L518.8,1855.6 L521.3,1853.6 L522.1,1852.9 L523.0,1847.4 L523.9,1843.7 L524.9,1841.1 L524.8,1837.3 L526.8,1832.9 L530.7,1832.7 L530.6,1831.0 L531.1,1825.4 L530.6,1822.0 L531.5,1820.5 L532.5,1815.0 L533.5,1814.3 L534.4,1810.2 L533.5,1806.7 L534.8,1804.5 L534.5,1800.7 L535.4,1797.5 L534.6,1793.2 L535.4,1790.5 L536.0,1787.2 L535.0,1781.7 L536.1,1780.4 L536.0,1779.9 L536.0,1775.3 L535.7,1770.6 L536.7,1770.7 L536.3,1765.8 L536.9,1762.4 L536.9,1759.4 L537.3,1756.1 L537.0,1751.9 L537.0,1748.6 L537.4,1748.9 L538.6,1743.9 L540.5,1743.2 L542.4,1739.6 L542.6,1736.5 L543.4,1732.5 L544.7,1731.1 L544.5,1727.6 L546.1,1724.8 L545.5,1720.7 L546.7,1718.1 L546.3,1720.7 L546.3,1723.1 L546.8,1726.2 L547.8,1729.6 L548.0,1732.5 L547.1,1737.2 L547.8,1738.4 L548.7,1743.4 L548.6,1746.2 L548.6,1748.4 L548.7,1751.9 L549.1,1754.6 L549.2,1758.7 L550.6,1759.5 L550.3,1761.6 L550.4,1764.0 L551.1,1769.0 L551.6,1772.1 L551.3,1774.1 L551.9,1778.1 L551.4,1779.4 L552.6,1784.3 L552.5,1786.8 L552.8,1790.7 L553.6,1792.4 L555.0,1798.5 L553.7,1800.6 L555.5,1802.9 L554.9,1807.7 L555.7,1810.3 L557.2,1813.5 L557.5,1815.7 L556.8,1819.5 L557.7,1817.9 L558.4,1811.4 L558.2,1810.4 L558.7,1807.1 L559.2,1805.2 L559.1,1800.8 L559.7,1800.6 L560.4,1794.0 L561.0,1794.3 L560.5,1788.4 L566.4,1787.6 L567.2,1792.7 L568.0,1794.8 L568.3,1798.4 L569.0,1800.0 L569.2,1802.0 L570.7,1798.2 L570.7,1793.5 L571.1,1791.6 L571.7,1789.6 L571.8,1786.8 L572.4,1784.2 L572.8,1782.6 L573.8,1774.7 L574.4,1774.7 L574.3,1770.8 L574.8,1769.8 L574.7,1764.5 L575.5,1763.6 L575.3,1757.2 L575.6,1757.5 L576.9,1752.7 L576.5,1749.6 L577.3,1746.9 L578.2,1745.8 L582.4,1747.0 L583.0,1743.9 L582.5,1741.6 L583.1,1740.3 L582.6,1733.8 L582.4,1732.2 L583.1,1725.9 L583.1,1726.9 L583.0,1721.4 L583.0,1719.6 L582.7,1718.1 L583.6,1714.5 L583.4,1712.6 L583.2,1707.7 L583.9,1704.4 L583.2,1702.6 L583.2,1697.9 L583.9,1696.1 L583.2,1692.4 L583.8,1691.2 L583.7,1688.6 L583.6,1686.2 L584.1,1679.5 L583.7,1678.4 L583.8,1673.7 L586.1,1672.4 L587.3,1668.3 L589.9,1668.7 L590.2,1664.6 L590.9,1660.9 L590.7,1658.0 L591.3,1654.1 L591.4,1650.9 L591.5,1650.2 L591.4,1646.2 L591.9,1642.8 L592.4,1639.5 L592.6,1638.6 L592.4,1631.7 L593.2,1630.5 L593.9,1626.0 L593.6,1623.0 L593.4,1619.8 L593.5,1616.2 L596.1,1618.8 L596.4,1623.2 L596.1,1625.1 L596.3,1629.4 L596.4,1630.9 L596.6,1635.9 L596.5,1636.1 L597.0,1640.2 L596.9,1645.3 L597.2,1644.1 L597.4,1648.3 L597.4,1652.4 L597.5,1655.5 L597.9,1659.9 L599.2,1661.2 L598.2,1666.6 L599.3,1669.2 L598.7,1673.8 L599.0,1675.8 L598.9,1675.7 L599.8,1679.2 L599.1,1683.6 L599.3,1687.3 L599.9,1689.2 L599.8,1694.4 L600.8,1690.9 L600.0,1688.6 L600.8,1685.6 L601.3,1679.5 L600.7,1676.5 L602.1,1673.7 L602.5,1669.6 L602.4,1668.1 L601.8,1665.7 L602.5,1661.8 L602.1,1657.9 L602.9,1656.0 L603.1,1655.8 L603.5,1650.4 L603.8,1648.8 L604.4,1645.4 L603.9,1641.3 L604.7,1638.9 L604.8,1635.2 L605.5,1630.9 L606.8,1627.0 L607.2,1623.8 L608.9,1620.8 L609.5,1615.9 L609.6,1619.4 L610.9,1626.6 L610.6,1621.6 L611.0,1621.0 L611.4,1616.9 L610.9,1616.1 L611.9,1611.1 L612.0,1607.5 L612.1,1601.8 L613.2,1604.4 L613.0,1598.9 L613.2,1596.0 L613.4,1591.9 L614.1,1586.8 L614.4,1591.5 L614.0,1595.8 L614.4,1600.2 L613.3,1599.7 L613.9,1601.8 L614.0,1606.8 L613.5,1611.1 L613.5,1606.0 L613.9,1605.1 L613.9,1600.5 L614.1,1597.5 L613.3,1596.1 L614.3,1593.4 L614.2,1589.5 L613.6,1584.1 L613.5,1584.4 L614.0,1581.6 L614.5,1576.3 L614.4,1572.8 L614.3,1571.3 L614.8,1567.2 L614.0,1566.3 L614.2,1562.8 L614.1,1557.6 L614.0,1556.7 L615.0,1556.9 L615.6,1550.0 L614.1,1546.5 L615.0,1544.2 L615.1,1539.4 L614.9,1540.2 L614.9,1534.2 L614.7,1530.9 L615.7,1529.2 L615.1,1525.2 L615.6,1521.9 L615.0,1519.3 L614.4,1518.2 L615.1,1514.6 L615.5,1512.0 L615.4,1510.9 L615.8,1504.3 L615.8,1498.9 L615.3,1495.9 L615.7,1498.4 L616.0,1490.7 L615.3,1490.1 L616.2,1486.3 L616.6,1483.9 L616.8,1481.6 L616.9,1474.0 L616.4,1475.5 L616.8,1472.3 L616.5,1474.9 L616.5,1478.3 L617.1,1478.4 L616.4,1481.7 L616.5,1487.0 L616.9,1490.1 L617.2,1493.2 L616.9,1495.5 L616.7,1498.1 L617.2,1502.2 L616.8,1506.2 L617.5,1505.7 L617.5,1511.5 L617.7,1513.2 L617.5,1517.1 L618.0,1520.2 L617.9,1524.5 L617.4,1525.9 L617.6,1526.3 L618.4,1533.0 L618.3,1535.5 L618.5,1539.5 L618.4,1541.7 L618.9,1541.9 L620.5,1546.6 L620.8,1549.8 L622.8,1553.5 L623.5,1555.8 L624.1,1557.7 L624.6,1564.7 L625.2,1566.2 L625.5,1571.2 L626.2,1572.6 L626.2,1573.6 L626.3,1577.6 L626.2,1580.8 L626.3,1583.4 L625.6,1585.7 L627.0,1590.3 L626.9,1593.5 L627.7,1596.5 L627.2,1598.9 L627.4,1602.8 L626.5,1607.7 L627.8,1608.6 L627.3,1610.8 L627.3,1615.7 L627.4,1614.9 L627.7,1618.9 L628.0,1623.2 L627.7,1624.0 L628.0,1627.3 L628.1,1632.2 L628.1,1635.2 L628.2,1640.1 L627.8,1639.6 L629.0,1642.4 L628.9,1646.7 L628.8,1648.2 L628.7,1646.8 L628.1,1644.0 L628.9,1638.1 L629.2,1637.5 L628.7,1636.5 L629.3,1630.5 L629.1,1629.4 L629.3,1626.9 L629.2,1623.3 L629.9,1620.7 L629.5,1615.8 L629.5,1614.1 L629.3,1620.7 L630.1,1621.8 L630.3,1625.0 L630.4,1627.7 L631.0,1629.9 L630.3,1633.2 L631.0,1635.4 L631.0,1639.8 L630.4,1642.7 L632.0,1644.2 L632.0,1647.6 L631.5,1650.9 L631.8,1653.4 L631.7,1657.2 L631.7,1660.6 L632.6,1662.7 L632.4,1665.9 L632.0,1670.0 L633.3,1674.4 L634.6,1676.3 L635.0,1681.1 L635.6,1681.5 L639.6,1681.7 L642.7,1679.7 L643.1,1684.7 L642.5,1687.1 L643.9,1688.4 L643.6,1693.4 L644.5,1696.2 L644.0,1699.7 L645.0,1702.2 L645.8,1703.2 L645.8,1708.5 L646.4,1712.1 L647.2,1709.5 L646.7,1704.0 L647.2,1702.8 L648.2,1700.1 L648.1,1695.2 L648.5,1692.0 L648.2,1690.5 L648.7,1691.4 L649.4,1697.7 L649.3,1697.2 L648.9,1701.1 L649.4,1709.8 L649.8,1708.4 L649.2,1709.9 L649.4,1714.9 L649.7,1718.5 L650.1,1719.5 L650.3,1724.0 L650.7,1726.9 L650.1,1730.0 L650.8,1734.0 L650.9,1737.7 L650.7,1742.4 L650.7,1742.3 L651.2,1744.2 L651.1,1750.0 L650.7,1749.5 L650.6,1756.4 L652.3,1750.8 L651.1,1747.2 L652.4,1746.8 L652.3,1741.8 L652.5,1738.7 L652.6,1735.7 L652.2,1733.0 L653.0,1730.9 L652.9,1728.6 L652.7,1721.9 L653.7,1721.1 L653.7,1717.7 L654.1,1715.5 L654.7,1711.0 L653.8,1709.0 L654.4,1705.7 L653.9,1703.5 L655.6,1700.4 L656.2,1703.9 L656.5,1706.9 L657.5,1710.2 L658.1,1712.7 L658.3,1716.5 L659.1,1720.0 L659.1,1724.7 L661.0,1720.9 L661.1,1714.1 L661.3,1710.5 L662.1,1708.5 L662.5,1702.6 L663.0,1698.9 L665.2,1699.2 L665.7,1694.9 L666.1,1691.6 L667.7,1687.8 L669.3,1683.1 L670.0,1683.5 L670.7,1677.4 L669.7,1678.0 L671.8,1672.9 L671.5,1670.4 L672.5,1667.0 L672.3,1664.0 L673.0,1663.2 L673.3,1656.3 L674.5,1656.2 L674.7,1650.0 L674.3,1646.3 L674.9,1646.6 L675.9,1641.5 L676.1,1638.6 L676.4,1633.1 L676.7,1633.1 L677.1,1626.0 L682.7,1624.5 L683.7,1624.2 L683.8,1624.9 L684.4,1630.3 L684.8,1634.2 L684.0,1635.6 L684.1,1636.4 L684.7,1641.4 L684.9,1645.5 L684.6,1650.4 L684.4,1653.6 L684.7,1657.2 L685.5,1656.8 L686.0,1654.9 L685.8,1650.7 L685.9,1647.6 L686.1,1646.0 L686.9,1643.4 L687.4,1638.6 L687.5,1635.3 L687.8,1633.3 L688.0,1628.3 L687.7,1628.4 L688.2,1622.3 L689.0,1619.5 L689.3,1625.0 L688.9,1626.6 L690.1,1627.9 L690.6,1634.9 L690.7,1636.8 L690.9,1640.7 L691.2,1642.7 L691.5,1645.1 L692.6,1649.2 L692.9,1650.4 L692.3,1648.2 L693.8,1647.6 L694.2,1642.4 L693.9,1640.3 L693.8,1637.4 L694.2,1634.1 L693.7,1629.0 L694.3,1629.3 L695.4,1622.7 L696.0,1620.2 L696.2,1616.8 L698.7,1615.1 L697.9,1613.5 L698.4,1607.4 L699.6,1608.5 L699.5,1601.6 L699.6,1599.7 L699.6,1599.8 L700.1,1598.8 L700.1,1602.2 L699.4,1605.8 L701.0,1609.0 L700.8,1611.6 L700.1,1615.5 L701.1,1616.5 L700.6,1620.1 L700.6,1620.8 L701.1,1626.2 L701.4,1631.6 L701.1,1631.1 L701.6,1637.0 L702.3,1640.4 L701.9,1642.3 L701.3,1646.2 L702.4,1648.2 L702.1,1651.9 L702.6,1655.1 L702.7,1655.5 L702.4,1652.3 L703.0,1654.6 L702.5,1648.0 L703.0,1644.2 L703.7,1642.3 L704.0,1641.9 L703.5,1634.9 L703.9,1632.4 L703.2,1629.4 L704.0,1625.6 L703.6,1624.6 L703.7,1621.6 L704.4,1616.7 L703.6,1612.7 L704.6,1611.9 L704.3,1607.6 L704.8,1604.4 L705.5,1602.3 L703.9,1600.2 L704.8,1595.7 L704.7,1594.2 L704.7,1591.5 L704.7,1587.6 L704.6,1590.7 L705.0,1592.2 L705.8,1594.5 L705.9,1598.5 L706.4,1602.6 L706.1,1604.2 L705.8,1609.3 L707.4,1609.1 L708.5,1611.6 L708.6,1616.6 L709.2,1621.6 L709.6,1621.4 L709.2,1627.7 L709.7,1630.2 L709.4,1634.4 L709.8,1636.4 L710.0,1639.7 L710.3,1644.5 L710.4,1645.4 L710.6,1649.1 L711.0,1653.4 L711.7,1656.7 L710.6,1657.6 L711.0,1662.2 L712.6,1665.5 L711.6,1669.8 L712.3,1670.2 L711.9,1676.2 L712.8,1674.8 L712.3,1675.1 L712.1,1671.4 L712.3,1666.2 L712.5,1664.6 L712.9,1660.1 L712.9,1658.8 L712.2,1657.7 L712.7,1653.7 L713.6,1650.6 L713.4,1647.3 L712.8,1644.3 L712.5,1641.6 L713.5,1638.5 L713.0,1633.4 L713.0,1631.5 L712.8,1631.2 L713.1,1625.9 L713.2,1622.9 L712.6,1618.4 L713.5,1616.6 L713.7,1612.9 L714.0,1610.9 L713.7,1607.6 L714.2,1604.5 L714.4,1601.6 L714.2,1604.8 L714.6,1608.8 L714.6,1612.5 L716.2,1615.6 L715.5,1617.2 L715.5,1620.6 L716.3,1624.1 L717.1,1621.3 L716.4,1617.5 L717.0,1615.3 L717.7,1611.4 L717.8,1610.3 L717.8,1603.8 L718.3,1604.1 L718.7,1599.6 L718.0,1598.5 L719.1,1598.6 L719.5,1604.0 L720.0,1606.3 L721.2,1606.0 L720.8,1602.3 L720.5,1597.0 L720.4,1596.8 L721.1,1594.5 L720.4,1591.1 L721.7,1585.8 L722.1,1582.6 L721.9,1581.1 L722.3,1577.8 L722.5,1575.8 L722.3,1568.9 L722.5,1565.4 L723.9,1564.6 L723.3,1562.9 L723.3,1558.8 L723.9,1556.5 L724.4,1559.2 L724.1,1560.8 L724.0,1566.1 L725.1,1568.3 L725.7,1568.5 L725.8,1573.5 L725.7,1577.8 L725.8,1580.8 L726.5,1587.3 L726.7,1588.2 L727.3,1589.2 L727.5,1593.0 L728.0,1595.9 L728.3,1598.6 L728.0,1603.9 L728.9,1607.0 L729.6,1610.3 L728.8,1613.1 L728.5,1616.0 L729.7,1611.4 L730.1,1609.6 L730.4,1604.7 L730.9,1607.8 L731.5,1610.5 L731.7,1615.2 L733.0,1620.4 L732.4,1620.9 L732.9,1617.4 L732.2,1616.7 L732.8,1614.4 L733.3,1607.6 L733.4,1607.1 L733.5,1601.7 L733.1,1602.8 L732.7,1596.2 L734.3,1596.7 L734.4,1591.4 L734.5,1589.9 L734.3,1587.1 L734.8,1582.7 L735.0,1579.9 L734.6,1578.4 L734.8,1579.2 L734.1,1580.5 L735.2,1585.5 L734.9,1588.2 L735.2,1590.9 L734.4,1592.7 L734.7,1598.2 L735.6,1601.6 L734.7,1602.2 L735.3,1607.6 L735.0,1610.8 L735.2,1613.7 L735.5,1614.1 L734.7,1618.5 L734.6,1624.7 L735.1,1625.8 L735.3,1628.0 L735.3,1631.1 L735.3,1635.1 L735.5,1635.5 L734.7,1633.5 L734.8,1631.9 L735.6,1628.0 L735.7,1626.6 L735.1,1623.3 L736.0,1618.8 L734.7,1617.2 L735.7,1614.2 L735.9,1610.4 L735.8,1606.4 L736.6,1606.4 L735.9,1600.4 L736.2,1600.5 L736.1,1594.4 L736.5,1592.8 L735.9,1589.2 L736.4,1585.0 L736.5,1585.1 L736.9,1582.1 L736.8,1577.4 L736.9,1576.0 L736.7,1572.1 L736.5,1568.5 L736.7,1564.1 L737.1,1565.3 L736.4,1558.9 L737.2,1555.5 L737.2,1554.6 L736.6,1550.3 L737.6,1548.2 L738.1,1544.7 L738.0,1540.8 L737.2,1543.8 L737.5,1548.6 L738.1,1550.5 L737.6,1553.7 L737.9,1556.0 L737.5,1561.5 L738.5,1566.3 L739.5,1565.5 L739.4,1568.0 L739.7,1571.4 L738.0,1574.5 L739.2,1579.7 L739.4,1582.8 L739.2,1581.5 L739.3,1585.4 L739.6,1586.8 L739.0,1591.0 L739.6,1596.8 L739.5,1596.8 L739.6,1601.3 L740.3,1604.6 L740.5,1603.8 L740.9,1607.2 L740.2,1604.7 L740.1,1599.4 L740.4,1594.2 L741.3,1592.2 L741.5,1588.6 L740.9,1583.6 L741.5,1581.3 L741.9,1577.3 L742.2,1577.0 L742.3,1575.0 L742.8,1571.3 L742.6,1567.3 L742.6,1561.5 L742.7,1560.3 L743.7,1560.4 L744.0,1554.1 L744.5,1551.6 L744.3,1548.5 L744.9,1547.3 L744.2,1542.2 L744.8,1539.0 L745.9,1541.7 L744.0,1546.1 L744.8,1546.8 L745.9,1553.6 L745.4,1554.3 L744.7,1558.9 L744.9,1560.3 L744.9,1563.2 L744.2,1564.4 L744.5,1566.2 L744.5,1571.3 L744.9,1574.9 L744.8,1579.3 L744.2,1580.3 L744.9,1582.9 L745.5,1586.8 L745.4,1590.7 L744.9,1594.3 L744.4,1594.4 L744.8,1595.9 L744.8,1601.7 L744.3,1603.6 L744.9,1604.9 L746.3,1599.4 L746.3,1597.2 L746.7,1593.9 L747.5,1591.9 L748.0,1585.3 L748.2,1584.3 L748.6,1582.5 L748.9,1575.9 L749.4,1581.2 L749.3,1583.7 L749.6,1586.6 L749.9,1589.0 L750.3,1593.2 L750.9,1596.4 L750.5,1597.7 L751.6,1602.2 L750.8,1605.4 L751.2,1608.9 L751.9,1606.9 L751.4,1610.2 L752.0,1611.9 L752.4,1616.8 L751.7,1622.4 L752.0,1624.6 L752.8,1626.1 L752.4,1629.3 L753.6,1633.4 L753.3,1638.0 L753.8,1640.1 L756.6,1635.7 L759.8,1635.4 L761.1,1632.6 L762.4,1629.2 L763.7,1627.2 L764.1,1624.0 L764.9,1627.6 L765.4,1634.0 L767.0,1630.0 L768.3,1625.9 L769.9,1621.5 L771.1,1619.4 L771.1,1620.7 L771.2,1625.1 L770.9,1629.8 L771.6,1632.5 L770.7,1635.5 L771.1,1637.7 L771.0,1642.6 L771.1,1640.0 L770.9,1637.3 L771.2,1633.6 L771.6,1629.7 L772.1,1625.1 L771.9,1625.2 L771.8,1621.2 L771.5,1618.2 L772.2,1614.5 L772.2,1611.8 L771.9,1609.1 L772.1,1607.3 L772.2,1605.0 L772.6,1600.1 L772.4,1597.7 L772.4,1592.2 L773.1,1588.4 L773.4,1587.4 L773.7,1585.4 L773.9,1580.2 L773.1,1579.4 L773.2,1576.1 L773.4,1573.8 L774.2,1567.2 L773.9,1565.5 L774.4,1562.0 L773.6,1561.6 L774.0,1558.8 L774.4,1554.0 L773.7,1553.4 L774.4,1548.8 L774.6,1545.6 L774.5,1543.0 L775.1,1538.3 L774.5,1537.6 L775.6,1533.2 L775.4,1530.3 L775.7,1527.8 L775.5,1524.0 L776.0,1522.4 L775.8,1519.4 L774.9,1515.4 L776.4,1510.3 L776.2,1510.2 L777.1,1507.4 L776.3,1505.1 L776.8,1502.0 L776.5,1495.8 L776.6,1495.7 L777.8,1492.2 L777.6,1488.8 L778.8,1484.3 L780.5,1483.3 L781.6,1478.8 L781.9,1477.0 L782.9,1473.9 L781.9,1468.4 L782.9,1466.8 L783.1,1463.1 L782.9,1460.0 L783.0,1457.0 L784.9,1454.4 L784.0,1449.2 L785.6,1447.9 L784.8,1444.7 L788.6,1442.6 L792.6,1444.6 L793.4,1445.6 L793.8,1450.1 L792.8,1454.9 L794.4,1457.6 L794.7,1459.0 L794.9,1461.3 L794.8,1469.9 L796.1,1470.4 L796.0,1473.3 L796.5,1476.7 L796.0,1479.0 L795.9,1481.4 L796.8,1486.1 L798.0,1486.6 L798.2,1491.2 L797.4,1494.7 L798.7,1496.4 L797.9,1501.6 L798.7,1504.4 L798.6,1508.2 L798.4,1512.0 L798.8,1513.6 L798.9,1515.4 L799.9,1519.9 L799.6,1523.3 L801.2,1522.2 L799.3,1528.6 L799.7,1532.7 L800.3,1534.5 L800.5,1540.2 L801.7,1538.4 L801.6,1543.3 L802.2,1547.1 L801.5,1549.2 L802.1,1555.0 L802.3,1555.2 L802.3,1560.0 L802.9,1558.2 L803.9,1553.1 L804.0,1549.5 L803.5,1548.4 L805.6,1543.7 L805.6,1539.2 L805.9,1538.2 L806.5,1535.0 L807.4,1532.8 L807.8,1528.2 L808.0,1532.4 L808.3,1534.1 L809.9,1539.5 L810.5,1544.5 L810.3,1547.0 L813.0,1548.5 L815.3,1555.7 L814.5,1557.1 L815.7,1560.2 L815.2,1564.4 L814.8,1566.2 L815.4,1569.2 L815.3,1572.6 L816.4,1576.1 L815.5,1577.9 L815.9,1579.8 L816.6,1585.4 L816.4,1589.7 L816.9,1590.2 L816.7,1593.8 L816.8,1598.7 L817.5,1598.9 L817.9,1601.2 L817.1,1609.4 L817.6,1610.9 L817.6,1613.1 L818.5,1610.8 L818.8,1611.5 L818.5,1618.1 L818.6,1617.2 L819.5,1621.7 L820.2,1625.6 L819.7,1627.0 L820.0,1629.3 L819.6,1636.0 L820.1,1636.0 L821.8,1634.8 L824.3,1632.7 L826.5,1626.2 L827.0,1624.5 L827.0,1623.9 L828.1,1619.8 L827.6,1616.4 L828.7,1617.4 L828.5,1610.6 L829.2,1609.5 L830.2,1604.8 L830.4,1603.6 L830.5,1596.8 L830.9,1593.3 L831.3,1592.6 L831.2,1595.8 L832.0,1600.1 L831.5,1601.7 L832.1,1605.1 L832.4,1607.8 L832.4,1611.5 L832.5,1614.2 L832.5,1616.6 L831.8,1619.7 L832.7,1622.3 L832.7,1627.7 L832.9,1626.4 L833.0,1632.2 L833.8,1635.9 L833.7,1638.0 L833.4,1639.8 L834.1,1645.0 L835.2,1642.6 L837.6,1641.2 L839.1,1638.9 L839.1,1640.7 L839.2,1644.5 L838.8,1647.4 L839.7,1649.1 L839.7,1654.9 L840.0,1656.5 L840.9,1658.5 L840.5,1662.4 L840.6,1665.9 L841.2,1669.0 L841.6,1673.4 L841.1,1675.6 L841.7,1677.0 L841.3,1682.9 L842.5,1686.3 L843.3,1688.7 L843.1,1692.4 L843.2,1693.4 L843.9,1697.8 L843.6,1699.5 L843.7,1699.6 L844.4,1693.4 L844.7,1690.3 L845.3,1688.0 L846.0,1681.8 L846.1,1684.1 L846.4,1678.2 L847.6,1675.3 L847.4,1673.3 L847.4,1668.7 L850.1,1667.7 L853.2,1663.1 L852.1,1668.8 L852.3,1667.6 L852.9,1675.7 L852.5,1675.4 L854.1,1679.3 L853.3,1683.2 L854.5,1686.3 L854.4,1689.4 L853.8,1693.0 L853.7,1697.0 L854.0,1699.0 L853.9,1701.8 L855.2,1704.0 L858.3,1702.5 L860.2,1698.1 L860.4,1696.9 L861.6,1694.1 L861.3,1688.1 L862.1,1688.1 L862.5,1681.7 L863.8,1679.9 L864.0,1682.1 L864.3,1686.1 L864.3,1689.6 L864.5,1692.2 L865.3,1696.5 L865.0,1698.9 L865.8,1700.2 L864.6,1705.0 L864.9,1706.7 L865.9,1711.5 L865.9,1713.4 L865.6,1716.6 L866.5,1714.1 L867.8,1710.4 L867.6,1708.0 L869.2,1704.5 L869.2,1700.3 L869.9,1696.1 L871.4,1693.7 L872.8,1692.3 L872.9,1690.7 L873.9,1683.1 L874.4,1680.8 L876.4,1677.0 L876.5,1681.3 L876.6,1683.9 L877.2,1689.1 L878.0,1690.3 L877.7,1693.5 L878.2,1696.5 L879.0,1701.2 L879.6,1702.7 L879.7,1706.7 L880.3,1712.7 L880.9,1714.3 L881.2,1717.1 L880.8,1720.0 L882.1,1722.8 L883.0,1730.0 L883.4,1727.7 L883.6,1733.5 L884.8,1736.2 L885.5,1738.5 L886.6,1740.4 L886.6,1745.5 L887.3,1750.3 L889.0,1754.5 L891.3,1757.3 L891.6,1760.0 L893.1,1755.7 L894.6,1754.5 L895.9,1750.4 L896.3,1748.1 L897.4,1742.2 L897.6,1739.9 L897.9,1737.9 L898.4,1733.4 L899.2,1732.4 L898.6,1730.6 L899.8,1726.6 L899.4,1722.0 L899.6,1722.0 L900.8,1723.0 L901.4,1727.5 L902.1,1730.1 L902.3,1731.0 L903.9,1733.8 L904.8,1729.2 L904.4,1729.2 L904.7,1725.2 L904.7,1726.4 L905.1,1718.0 L904.2,1717.8 L905.5,1714.5 L905.7,1710.4 L906.5,1705.0 L905.3,1704.0 L908.6,1698.1 L909.3,1697.4 L911.1,1695.7 L911.9,1692.5 L912.3,1686.6 L914.1,1685.7 L914.2,1680.7 L915.0,1678.9 L915.7,1675.9 L916.6,1674.2 L918.6,1669.5 L921.5,1665.7 L921.7,1670.0 L921.9,1675.9 L923.4,1676.2 L923.8,1680.2 L924.8,1681.0 L925.5,1687.5 L925.0,1688.7 L926.8,1691.6 L926.0,1697.0 L926.7,1699.3 L927.6,1702.1 L927.3,1706.8 L926.9,1706.1 L927.8,1709.9 L928.1,1711.4 L927.8,1717.8 L928.7,1720.5 L930.3,1722.5 L931.5,1727.2 L934.2,1725.8 L933.9,1724.9 L934.1,1721.4 L934.6,1716.2 L935.1,1716.1 L934.6,1712.3 L935.2,1709.2 L935.5,1704.6 L935.8,1704.0 L936.2,1701.1 L936.0,1697.7 L936.9,1694.6 L936.8,1691.6 L937.2,1686.9 L937.2,1686.6 L937.1,1683.2 L938.2,1684.9 L938.7,1687.2 L940.5,1689.4 L940.9,1692.5 L942.5,1698.0 L942.2,1698.6 L943.2,1697.1 L944.8,1695.2 L944.6,1690.3 L946.2,1685.8 L946.5,1684.5 L946.9,1680.0 L947.8,1676.5 L948.2,1671.6 L948.8,1669.9 L949.6,1669.8 L949.0,1666.5 L950.1,1659.9 L949.8,1659.2 L949.9,1654.1 L949.5,1649.6 L950.4,1647.3 L950.9,1645.3 L953.8,1642.0 L955.7,1640.3 L957.2,1636.9 L958.3,1633.4 L958.8,1631.3 L959.8,1630.0 L959.5,1622.7 L960.8,1622.4 L960.9,1618.4 L960.8,1617.5 L961.6,1612.3 L961.8,1610.4 L961.6,1606.2 L962.7,1604.2 L962.2,1601.3 L963.9,1598.6 L962.8,1594.2 L963.4,1590.7 L963.6,1587.9 L964.2,1584.0 L964.9,1582.9 L965.6,1580.4 L965.4,1577.0 L965.3,1571.9 L965.9,1570.3 L965.7,1567.6 L966.3,1563.2 L967.1,1566.5 L966.9,1571.6 L966.9,1573.0 L967.6,1576.1 L967.6,1578.2 L968.2,1582.3 L968.7,1587.2 L968.7,1590.0 L968.8,1594.1 L969.1,1595.1 L969.5,1597.8 L970.3,1601.5 L970.2,1605.7 L971.1,1608.7 L971.7,1610.6 L971.5,1614.0 L972.4,1619.1 L973.2,1622.6 L974.7,1625.5 L974.9,1619.7 L974.0,1616.5 L973.8,1613.0 L974.9,1610.5 L974.6,1609.1 L974.7,1607.2 L975.6,1603.0 L975.9,1599.7 L975.5,1597.3 L976.1,1591.1 L976.3,1590.9 L975.1,1589.1 L976.3,1585.2 L975.9,1580.5 L976.3,1576.1 L976.9,1572.2 L976.9,1571.8 L976.8,1566.4 L977.5,1565.8 L977.9,1560.9 L980.5,1564.5 L984.2,1564.4 L984.4,1567.0 L985.0,1571.2 L985.2,1573.7 L985.1,1576.4 L986.7,1579.9 L986.0,1582.2 L987.1,1587.7 L988.4,1589.0 L987.6,1592.3 L987.3,1596.9 L987.4,1599.2 L987.8,1600.1 L988.3,1606.6 L987.8,1607.9 L988.1,1612.1 L988.0,1612.2 L988.5,1615.3 L989.2,1618.2 L989.2,1616.3 L990.0,1613.0 L990.0,1612.6 L990.7,1608.9 L991.4,1604.8 L991.4,1598.9 L991.0,1597.4 L992.2,1596.1 L992.2,1591.1 L993.3,1593.2 L992.4,1597.6 L992.2,1602.7 L991.9,1603.5 L991.8,1606.1 L993.1,1607.5 L992.2,1613.1 L993.4,1615.3 L993.8,1619.0 L993.9,1622.5 L994.9,1624.0 L995.1,1628.8 L995.1,1630.7 L995.7,1635.7 L995.6,1638.6 L996.4,1641.8 L996.8,1643.6 L997.2,1647.8 L996.9,1650.1 L997.5,1653.3 L999.3,1656.1 L1000.9,1660.2 L1002.1,1663.2 L1002.4,1664.0 L1005.4,1667.9 L1006.1,1673.1 L1006.3,1676.0 L1007.0,1678.4 L1006.9,1682.3 L1007.9,1684.3 L1008.2,1688.9 L1008.1,1692.6 L1008.3,1696.4 L1009.0,1699.8 L1009.7,1701.9 L1009.5,1706.0 L1010.1,1711.0 L1011.3,1711.7 L1011.6,1715.5 L1012.4,1718.4 L1013.1,1720.9 L1013.9,1722.4 L1013.1,1728.3 L1015.6,1723.2 L1017.0,1721.6 L1018.4,1720.3 L1017.7,1714.7 L1018.8,1711.8 L1018.9,1709.6 L1019.6,1708.0 L1019.7,1703.6 L1020.5,1703.2 L1021.0,1697.6 L1021.6,1694.9 L1020.9,1692.9 L1022.4,1687.6 L1022.3,1684.5 L1022.2,1682.9 L1022.3,1679.9 L1023.0,1676.4 L1022.9,1673.7 L1023.3,1670.2 L1023.8,1668.4 L1023.5,1663.4 L1023.9,1663.3 L1024.5,1659.0 L1025.3,1658.0 L1025.0,1654.8 L1024.9,1649.6 L1027.6,1645.2 L1030.0,1644.4 L1033.5,1650.7 L1033.7,1646.3 L1033.7,1643.9 L1033.4,1641.1 L1032.7,1638.6 L1033.1,1635.1 L1033.3,1629.9 L1033.2,1628.4 L1033.3,1627.0 L1033.9,1621.8 L1033.3,1620.4 L1033.5,1616.9 L1033.0,1609.8 L1033.9,1610.3 L1033.6,1605.8 L1033.9,1603.5 L1033.7,1599.7 L1033.9,1597.9 L1034.2,1597.5 L1034.1,1604.6 L1035.9,1605.9 L1035.4,1608.2 L1034.9,1611.4 L1035.5,1614.9 L1035.8,1619.6 L1036.8,1620.8 L1036.1,1626.1 L1036.0,1627.3 L1036.6,1631.3 L1036.9,1633.1 L1037.4,1638.0 L1038.6,1635.8 L1040.7,1630.3 L1043.6,1627.2 L1044.5,1629.2 L1045.0,1632.9 L1046.2,1637.5 L1045.8,1637.5 L1047.3,1641.2 L1049.3,1644.1 L1051.1,1650.3 L1051.9,1652.7 L1052.5,1657.4 L1052.7,1658.4 L1053.2,1663.2 L1054.0,1664.0 L1053.9,1667.3 L1055.7,1673.1 L1055.6,1674.0 L1055.2,1681.1 L1056.7,1678.4 L1057.6,1685.0 L1057.5,1687.8 L1059.1,1681.9 L1060.1,1679.7 L1061.1,1677.9 L1062.3,1674.1 L1062.9,1671.4 L1063.2,1669.7 L1063.1,1665.4 L1063.4,1663.5 L1064.4,1660.7 L1064.8,1656.4 L1064.3,1652.2 L1065.5,1650.2 L1065.6,1652.4 L1065.4,1658.6 L1066.2,1657.3 L1065.7,1662.5 L1066.7,1666.6 L1066.9,1670.0 L1067.1,1672.6 L1066.7,1673.1 L1067.1,1679.3 L1068.1,1679.5 L1067.7,1684.0 L1068.3,1687.4 L1068.9,1690.4 L1068.5,1692.8 L1069.2,1695.9 L1069.2,1692.5 L1068.7,1687.1 L1069.3,1685.5 L1069.9,1682.8 L1069.4,1681.0 L1069.8,1679.5 L1070.0,1673.7 L1070.1,1672.3 L1070.7,1666.9 L1070.8,1661.4 L1071.5,1660.7 L1071.7,1656.5 L1074.3,1659.2 L1076.2,1665.0 L1076.3,1659.3 L1076.7,1656.2 L1077.0,1652.6 L1077.4,1649.0 L1078.0,1647.1 L1077.3,1642.4 L1077.9,1641.0 L1077.5,1637.9 L1077.8,1632.5 L1078.5,1629.6 L1079.4,1628.0 L1079.2,1623.4 L1079.1,1621.9 L1079.6,1620.6 L1079.4,1613.2 L1082.8,1619.8 L1082.6,1615.0 L1082.7,1611.6 L1082.3,1609.1 L1083.2,1605.7 L1083.5,1600.9 L1083.2,1597.8 L1084.6,1603.6 L1085.8,1607.6 L1087.0,1611.3 L1090.7,1607.5 L1090.1,1607.5 L1090.4,1612.7 L1089.8,1614.4 L1090.5,1619.2 L1089.8,1621.4 L1090.0,1626.1 L1090.2,1628.8 L1090.1,1631.9 L1089.8,1636.5 L1090.2,1631.2 L1091.2,1627.7 L1090.7,1626.0 L1091.0,1622.7 L1091.8,1621.0 L1091.1,1619.0 L1091.5,1612.3 L1092.5,1609.3 L1092.0,1608.6 L1092.9,1605.0 L1093.5,1602.7 L1093.0,1597.8 L1093.6,1594.8 L1093.7,1593.4 L1094.0,1587.5 L1094.7,1586.1 L1094.5,1581.1 L1094.5,1578.5 L1095.4,1576.5 L1094.5,1573.9 L1096.3,1577.4 L1098.0,1578.5 L1099.9,1583.6 L1099.8,1581.7 L1100.6,1577.6 L1100.4,1575.1 L1101.0,1571.7 L1100.3,1569.2 L1101.9,1566.1 L1101.2,1561.4 L1100.6,1559.7 L1101.6,1556.5 L1101.6,1554.4 L1101.7,1547.3 L1101.8,1546.7 L1102.3,1544.1 L1102.5,1540.8 L1102.5,1535.7 L1102.4,1535.3 L1103.5,1533.7 L1103.2,1539.5 L1104.0,1540.6 L1103.8,1546.2 L1104.0,1546.9 L1105.5,1551.7 L1105.1,1555.8 L1106.2,1557.1 L1105.8,1560.6 L1106.6,1565.2 L1107.7,1560.1 L1107.4,1556.6 L1107.9,1554.4 L1108.7,1551.2 L1109.9,1547.9 L1111.8,1543.9 L1112.1,1540.9 L1112.8,1538.2 L1113.9,1534.8 L1114.7,1532.2 L1115.6,1533.9 L1116.0,1536.8 L1115.9,1540.6 L1117.2,1545.0 L1117.5,1549.4 L1118.6,1545.5 L1119.7,1545.0 L1120.9,1539.8 L1121.8,1538.1 L1122.2,1532.5 L1123.5,1528.8 L1124.9,1526.5 L1124.9,1520.9 L1125.6,1518.2 L1126.4,1517.0 L1127.0,1512.5 L1127.6,1509.0 L1129.4,1505.5 L1129.6,1510.1 L1130.1,1512.2 L1132.0,1516.2 L1132.7,1519.9 L1134.3,1512.3 L1136.5,1512.2 L1135.6,1514.4 L1137.4,1516.3 L1137.5,1522.7 L1137.4,1523.7 L1137.4,1527.9 L1138.2,1531.0 L1138.4,1533.4 L1138.5,1537.8 L1139.0,1541.2 L1139.7,1541.8 L1139.2,1547.2 L1140.2,1548.6 L1141.1,1543.3 L1141.7,1542.1 L1142.4,1538.6 L1142.7,1537.0 L1143.7,1531.1 L1144.5,1530.6 L1144.3,1525.3 L1145.8,1522.0 L1147.3,1522.2 L1148.4,1515.3 L1149.2,1514.9 L1149.7,1511.3 L1150.8,1506.4 L1151.1,1504.9 L1151.5,1502.5 L1152.1,1499.2 L1152.1,1494.3 L1151.8,1488.9 L1152.8,1486.8 L1153.3,1484.7 L1153.0,1478.5 L1154.2,1477.7 L1154.6,1475.0 L1154.6,1476.4 L1155.1,1478.8 L1154.7,1482.6 L1156.4,1484.8 L1156.4,1488.8 L1156.9,1491.4 L1156.0,1494.2 L1156.8,1498.7 L1156.9,1501.3 L1158.4,1504.0 L1159.0,1503.5 L1159.7,1496.5 L1160.2,1500.1 L1160.4,1502.6 L1161.4,1506.3 L1160.7,1510.9 L1162.0,1515.1 L1161.9,1516.4 L1162.3,1520.2 L1162.8,1524.1 L1163.5,1523.0 L1163.3,1529.8 L1165.3,1533.6 L1166.5,1535.1 L1167.5,1539.1 L1168.1,1536.9 L1168.4,1532.0 L1169.9,1528.8 L1170.2,1525.0 L1170.6,1524.0 L1171.8,1519.1 L1171.5,1524.1 L1171.5,1525.2 L1173.1,1531.6 L1173.8,1531.7 L1173.9,1535.0 L1174.1,1537.8 L1175.1,1539.4 L1174.9,1540.8 L1175.9,1547.6 L1175.1,1548.6 L1175.7,1555.5 L1176.4,1555.1 L1176.3,1557.5 L1176.4,1560.3 L1177.7,1566.4 L1177.8,1569.1 L1177.2,1572.7 L1178.0,1573.7 L1177.4,1577.6 L1177.8,1580.3 L1177.8,1581.4 L1179.3,1587.5 L1179.2,1589.5 L1179.5,1591.7 L1180.0,1597.9 L1179.7,1597.1 L1180.0,1600.0 L1180.8,1605.3 L1180.2,1608.8 L1179.8,1610.9 L1179.6,1617.5 L1182.5,1615.3 L1184.3,1617.9 L1184.8,1622.0 L1185.5,1618.1 L1186.1,1616.0 L1185.8,1614.1 L1187.1,1609.0 L1186.8,1606.8 L1187.5,1604.9 L1187.6,1599.6 L1187.8,1598.8 L1189.1,1594.8 L1188.5,1594.7 L1189.5,1593.8 L1188.8,1596.7 L1190.7,1602.7 L1189.3,1603.3 L1189.8,1605.9 L1192.7,1610.1 L1192.9,1615.4 L1193.4,1619.1 L1193.8,1622.6 L1194.2,1623.5 L1194.4,1627.9 L1195.7,1630.6 L1196.5,1634.5 L1196.6,1634.8 L1196.8,1640.4 L1196.9,1645.0 L1198.0,1648.1 L1197.8,1651.6 L1199.3,1652.7 L1199.1,1651.4 L1199.3,1646.0 L1200.6,1643.0 L1200.3,1638.5 L1200.9,1638.5 L1202.7,1632.5 L1201.5,1631.4 L1202.4,1626.9 L1203.7,1626.2 L1205.3,1620.5 L1207.7,1615.9 L1208.4,1611.6 L1208.2,1612.1 L1209.6,1608.4 L1208.5,1604.2 L1210.2,1602.0 L1210.4,1597.3 L1209.9,1594.1 L1211.3,1590.6 L1211.1,1595.1 L1211.5,1597.9 L1212.3,1599.8 L1212.5,1602.4 L1212.6,1607.4 L1212.7,1610.9 L1215.1,1609.3 L1218.2,1608.5 L1220.1,1605.1 L1220.4,1601.6 L1219.9,1597.4 L1221.4,1596.6 L1220.5,1594.9 L1221.2,1588.3 L1221.0,1585.9 L1222.0,1584.6 L1221.7,1580.3 L1221.7,1577.7 L1221.8,1575.7 L1222.4,1572.7 L1223.4,1574.9 L1223.3,1573.6 L1222.9,1580.8 L1223.1,1584.9 L1223.6,1586.2 L1223.1,1590.4 L1224.0,1594.1 L1224.7,1595.4 L1225.1,1598.1 L1224.7,1601.4 L1225.5,1599.8 L1225.8,1594.0 L1227.2,1593.5 L1227.1,1589.4 L1227.1,1588.3 L1228.1,1580.4 L1228.8,1580.7 L1229.7,1577.3 L1230.1,1573.8 L1230.0,1576.8 L1231.0,1580.4 L1230.0,1580.8 L1230.0,1587.4 L1230.3,1587.8 L1230.0,1595.0 L1229.9,1595.9 L1230.2,1599.2 L1229.8,1601.7 L1233.1,1606.7 L1234.2,1604.2 L1233.8,1600.9 L1233.9,1595.2 L1234.7,1592.6 L1234.1,1590.7 L1234.7,1590.1 L1235.4,1587.7 L1235.2,1579.8 L1234.8,1579.2 L1234.9,1576.4 L1236.1,1573.5 L1235.1,1571.1 L1236.7,1567.9 L1237.1,1562.5 L1236.3,1561.6 L1236.9,1559.3 L1236.6,1553.4 L1236.7,1550.3 L1237.0,1547.8 L1237.5,1544.2 L1237.7,1541.1 L1238.0,1540.6 L1237.7,1535.7 L1238.1,1533.6 L1237.8,1530.9 L1237.7,1525.5 L1238.3,1524.2 L1238.7,1517.9 L1239.7,1517.2 L1239.4,1515.4 L1239.9,1512.7 L1239.5,1509.4 L1240.6,1506.8 L1241.0,1500.9 L1241.1,1497.7 L1240.4,1496.7 L1242.0,1494.9 L1241.2,1490.4 L1241.9,1485.5 L1241.5,1483.2 L1242.4,1481.6 L1242.2,1479.3 L1242.2,1473.4 L1242.9,1469.1 L1243.0,1474.5 L1242.7,1477.8 L1243.4,1482.4 L1244.5,1484.9 L1245.0,1486.8 L1245.4,1490.6 L1245.6,1494.3 L1246.6,1493.8 L1246.0,1497.1 L1245.9,1496.8 L1246.3,1492.5 L1246.7,1490.9 L1247.8,1486.6 L1247.1,1482.6 L1247.5,1478.1 L1247.4,1477.4 L1248.2,1474.2 L1248.5,1469.9 L1248.5,1466.4 L1248.9,1462.0 L1249.3,1461.8 L1249.1,1458.6 L1249.9,1455.3 L1250.5,1453.7 L1250.0,1448.7 L1251.4,1450.1 L1253.9,1454.2 L1254.1,1459.2 L1254.3,1460.7 L1254.3,1461.8 L1254.4,1466.2 L1255.0,1470.3 L1254.5,1472.3 L1255.4,1473.7 L1255.2,1476.7 L1255.2,1483.2 L1255.8,1487.6 L1255.4,1489.0 L1256.0,1488.9 L1256.3,1494.3 L1256.3,1492.5 L1256.5,1488.9 L1256.8,1484.2 L1257.2,1483.3 L1257.8,1480.4 L1256.7,1474.1 L1257.5,1474.3 L1257.0,1470.0 L1257.5,1467.8 L1258.6,1463.4 L1258.9,1461.7 L1258.5,1459.6 L1259.7,1454.6 L1259.1,1452.1 L1259.5,1448.1 L1259.3,1447.1 L1259.6,1444.3 L1259.9,1441.7 L1260.6,1435.0 L1262.8,1438.7 L1264.8,1442.6 L1265.9,1445.3 L1266.4,1449.9 L1266.6,1451.7 L1267.1,1456.0 L1267.0,1457.0 L1267.4,1459.5 L1268.5,1462.9 L1268.5,1466.2 L1269.8,1472.4 L1269.9,1472.0 L1270.5,1475.4 L1271.1,1480.3 L1272.2,1481.6 L1271.9,1484.7 L1272.9,1487.8 L1273.5,1494.5 L1272.8,1496.7 L1274.8,1498.5 L1274.3,1504.1 L1274.7,1504.5 L1274.9,1508.6 L1276.3,1509.9 L1276.5,1514.7 L1277.2,1510.9 L1276.6,1508.3 L1277.5,1504.6 L1277.3,1502.7 L1277.4,1497.4 L1278.3,1494.1 L1278.9,1490.7 L1279.0,1490.3 L1280.0,1485.6 L1279.9,1485.2 L1279.8,1481.1 L1281.0,1479.0 L1280.8,1475.0 L1280.9,1472.2 L1282.1,1474.4 L1283.7,1479.4 L1283.2,1482.1 L1284.5,1484.2 L1284.7,1490.0 L1286.7,1492.3 L1288.8,1495.4 L1289.4,1497.6 L1290.8,1495.5 L1291.5,1491.2 L1291.8,1488.7 L1293.5,1486.1 L1294.4,1486.2 L1294.5,1478.2 L1295.6,1479.1 L1296.4,1485.3 L1297.9,1488.6 L1297.1,1491.9 L1297.6,1494.2 L1298.7,1498.8 L1298.9,1501.2 L1299.9,1504.7 L1301.6,1508.2 L1303.9,1512.0 L1305.0,1517.8 L1306.4,1520.3 L1307.1,1515.6 L1307.6,1514.9 L1309.7,1509.9 L1310.4,1507.4 L1311.8,1504.7 L1311.8,1506.0 L1311.5,1507.7 L1313.0,1515.6 L1313.5,1517.0 L1314.6,1522.8 L1314.1,1523.8 L1315.1,1521.9 L1315.4,1515.4 L1314.8,1512.4 L1315.9,1510.0 L1315.7,1510.8 L1315.9,1504.6 L1317.3,1501.9 L1316.2,1498.7 L1317.3,1497.3 L1317.2,1490.4 L1317.6,1487.7 L1318.1,1486.9 L1318.3,1482.8 L1318.1,1477.9 L1318.9,1478.3 L1319.4,1482.8 L1318.9,1480.1 L1319.5,1486.4 L1319.4,1486.7 L1320.6,1489.9 L1320.5,1496.6 L1321.1,1498.6 L1321.2,1501.5 L1321.3,1506.7 L1321.3,1505.9 L1321.7,1507.4 L1322.3,1513.7 L1321.8,1519.0 L1322.6,1521.5 L1322.3,1524.9 L1324.4,1527.3 L1325.9,1532.1 L1326.1,1530.1 L1325.9,1523.9 L1326.8,1519.9 L1327.7,1517.2 L1326.9,1515.3 L1327.4,1514.6 L1327.4,1509.0 L1328.2,1506.5 L1328.2,1503.4 L1327.9,1499.4 L1327.9,1496.1 L1328.6,1493.9 L1329.0,1491.0 L1329.0,1486.6 L1328.4,1485.9 L1330.0,1481.1 L1329.8,1477.2 L1329.3,1475.8 L1330.2,1472.9 L1330.5,1469.1 L1330.1,1465.9 L1330.0,1462.2 L1329.9,1457.9 L1331.0,1455.6 L1330.0,1451.6 L1331.4,1449.8 L1331.2,1447.5 L1331.9,1443.1 L1331.7,1443.0 L1332.1,1436.5 L1331.7,1433.4 L1332.6,1434.3 L1332.4,1439.4 L1332.5,1443.2 L1331.7,1445.4 L1331.6,1448.8 L1332.2,1453.2 L1331.9,1455.4 L1332.3,1457.3 L1332.1,1463.4 L1332.8,1464.1 L1333.9,1464.7 L1333.0,1468.8 L1333.1,1472.5 L1333.5,1477.0 L1333.4,1480.5 L1333.3,1480.3 L1332.8,1486.1 L1333.5,1488.6 L1334.0,1489.8 L1334.3,1495.0 L1335.4,1491.8 L1335.2,1488.5 L1336.6,1482.8 L1337.9,1481.2 L1339.5,1481.1 L1341.7,1476.0 L1342.3,1480.8 L1342.8,1483.9 L1343.7,1484.9 L1344.8,1488.2 L1344.8,1491.0" fill="none" stroke="#C8312F" stroke-width="6.8" stroke-linejoin="round" stroke-linecap="round" clip-path="url(#lc)"/>
<text x="124.8" y="2007.8" font-size="45" textLength="85.0" lengthAdjust="spacingAndGlyphs" fill="#111" stroke="#111" stroke-width="0.55">-12m</text>
<text x="288.9" y="2007.8" font-size="45" textLength="65.5" lengthAdjust="spacingAndGlyphs" fill="#111" stroke="#111" stroke-width="0.55">-9m</text>
<text x="443.2" y="2007.8" font-size="45" textLength="65.5" lengthAdjust="spacingAndGlyphs" fill="#111" stroke="#111" stroke-width="0.55">-6m</text>
<text x="597.5" y="2007.8" font-size="45" textLength="65.5" lengthAdjust="spacingAndGlyphs" fill="#111" stroke="#111" stroke-width="0.55">-3m</text>
<text x="758.8" y="2007.8" font-size="45" textLength="51.5" lengthAdjust="spacingAndGlyphs" fill="#111" stroke="#111" stroke-width="0.55">0m</text>
<text x="913.0" y="2007.8" font-size="45" textLength="51.5" lengthAdjust="spacingAndGlyphs" fill="#111" stroke="#111" stroke-width="0.55">3m</text>
<text x="1067.3" y="2007.8" font-size="45" textLength="51.5" lengthAdjust="spacingAndGlyphs" fill="#111" stroke="#111" stroke-width="0.55">6m</text>
<text x="1221.6" y="2007.8" font-size="45" textLength="51.5" lengthAdjust="spacingAndGlyphs" fill="#111" stroke="#111" stroke-width="0.55">9m</text>
<text x="1366.2" y="2007.8" font-size="45" textLength="71.0" lengthAdjust="spacingAndGlyphs" fill="#111" stroke="#111" stroke-width="0.55">12m</text>
<text x="1520.5" y="2007.8" font-size="45" textLength="71.0" lengthAdjust="spacingAndGlyphs" fill="#111" stroke="#111" stroke-width="0.55">15m</text>
<text x="1674.7" y="2007.8" font-size="45" textLength="71.0" lengthAdjust="spacingAndGlyphs" fill="#111" stroke="#111" stroke-width="0.55">18m</text>
<text x="656.5" y="2042.5" font-size="43.5" font-weight="bold" textLength="245" lengthAdjust="spacingAndGlyphs" fill="#111" stroke="#111" stroke-width="0.55">Inflation peak</text>
<rect x="240" y="925" width="82.5" height="21.5" fill="#ADD3F0"/>
<text x="329" y="947.5" font-size="39.4" textLength="299" lengthAdjust="spacingAndGlyphs" fill="#111" stroke="#111" stroke-width="0.55">25th/75th Percentile</text>
<line x1="242" y1="987.5" x2="320.5" y2="987.5" stroke="#0B335B" stroke-width="7" stroke-linecap="round"/>
<text x="329" y="1000" font-size="39.4" textLength="124" lengthAdjust="spacingAndGlyphs" fill="#111" stroke="#111" stroke-width="0.55">Average</text>
<line x1="242" y1="1040.0" x2="320.5" y2="1040.0" stroke="#F58426" stroke-width="7" stroke-linecap="round"/>
<text x="329" y="1052.5" font-size="39.4" textLength="621" lengthAdjust="spacingAndGlyphs" fill="#111" stroke="#111" stroke-width="0.55">Average if followed by recession (ex '70s)</text>
<line x1="242" y1="1093.5" x2="320.5" y2="1093.5" stroke="#7A9FCB" stroke-width="7" stroke-linecap="round"/>
<text x="329" y="1106" font-size="39.4" textLength="538" lengthAdjust="spacingAndGlyphs" fill="#111" stroke="#111" stroke-width="0.55">Average if not followed by recession</text>
<line x1="242" y1="1145.5" x2="320.5" y2="1145.5" stroke="#C8312F" stroke-width="7" stroke-linecap="round"/>
<text x="329" y="1158" font-size="39.4" textLength="251" lengthAdjust="spacingAndGlyphs" fill="#111" stroke="#111" stroke-width="0.55">Since June 2022</text>
<path d="M1921.7,1684.7 L1922.3,1689.1 L1925.1,1680.5 L1926.7,1677.2 L1927.9,1676.7 L1928.9,1678.7 L1931.0,1680.1 L1931.8,1683.2 L1933.8,1685.1 L1934.6,1689.8 L1937.4,1688.2 L1939.1,1690.0 L1940.8,1697.2 L1941.6,1694.4 L1943.1,1692.7 L1944.3,1689.0 L1946.2,1684.1 L1945.6,1681.2 L1947.8,1681.8 L1951.2,1679.2 L1952.7,1680.5 L1954.7,1686.2 L1956.1,1686.8 L1958.6,1691.1 L1960.3,1683.9 L1960.8,1682.6 L1962.6,1678.7 L1966.0,1681.8 L1965.9,1677.9 L1969.6,1675.7 L1971.4,1676.6 L1975.2,1679.0 L1976.3,1672.7 L1979.3,1673.4 L1980.1,1671.4 L1982.7,1671.4 L1985.5,1668.9 L1987.0,1666.3 L1989.2,1664.4 L1990.6,1661.9 L1993.4,1662.9 L1995.3,1666.7 L1996.0,1661.8 L1998.1,1669.1 L1998.5,1669.2 L2003.1,1663.8 L2004.1,1661.9 L2006.9,1671.7 L2008.8,1661.5 L2011.1,1666.0 L2013.3,1671.3 L2013.4,1671.4 L2015.2,1670.7 L2017.1,1671.9 L2017.6,1678.9 L2020.0,1675.5 L2023.0,1675.2 L2024.5,1668.8 L2028.6,1669.4 L2030.8,1674.1 L2033.9,1671.9 L2036.2,1667.4 L2039.4,1667.8 L2040.9,1662.6 L2043.5,1663.8 L2046.2,1663.4 L2047.2,1658.4 L2050.5,1661.2 L2052.0,1659.4 L2053.9,1655.6 L2055.1,1656.8 L2057.4,1647.1 L2058.3,1655.1 L2059.1,1656.2 L2062.1,1658.9 L2063.9,1654.2 L2065.0,1661.3 L2067.5,1669.3 L2069.6,1663.9 L2072.5,1662.7 L2073.7,1662.1 L2075.4,1659.5 L2077.3,1656.0 L2077.8,1656.4 L2082.0,1660.9 L2083.5,1660.6 L2087.1,1660.0 L2090.4,1661.7 L2093.8,1666.6 L2096.9,1665.5 L2099.3,1660.5 L2101.7,1655.3 L2106.1,1655.4 L2106.6,1655.9 L2109.3,1655.1 L2111.9,1654.2 L2113.6,1653.1 L2114.9,1648.1 L2117.0,1647.5 L2120.0,1645.5 L2123.7,1642.7 L2123.6,1645.2 L2125.3,1645.0 L2127.4,1636.8 L2127.8,1638.0 L2129.6,1638.6 L2130.7,1632.8 L2129.3,1633.6 L2131.9,1631.9 L2133.9,1626.3 L2133.5,1622.0 L2136.5,1622.5 L2136.6,1617.1 L2138.4,1613.6 L2140.3,1622.2 L2143.3,1617.2 L2146.2,1616.5 L2147.7,1615.5 L2149.6,1614.1 L2150.7,1611.1 L2152.2,1607.6 L2153.8,1607.3 L2153.8,1602.5 L2153.5,1602.1 L2154.5,1599.4 L2153.3,1595.6 L2155.4,1592.3 L2155.2,1591.3 L2155.7,1582.3 L2155.8,1585.6 L2154.9,1580.5 L2157.0,1576.0 L2156.3,1578.4 L2157.7,1572.5 L2158.4,1564.1 L2160.3,1573.1 L2159.6,1566.1 L2160.3,1570.4 L2160.3,1569.1 L2160.9,1571.4 L2161.0,1575.9 L2160.9,1581.7 L2161.2,1583.7 L2162.3,1586.8 L2161.2,1587.4 L2162.5,1589.9 L2162.9,1592.6 L2163.1,1599.5 L2163.3,1595.3 L2164.3,1603.3 L2162.5,1605.6 L2163.5,1605.2 L2164.1,1608.2 L2164.8,1613.9 L2164.4,1613.5 L2165.7,1610.0 L2165.0,1610.4 L2166.1,1607.8 L2166.2,1607.1 L2167.0,1599.0 L2168.5,1597.8 L2168.5,1598.3 L2170.2,1597.5 L2170.0,1589.6 L2170.5,1587.5 L2170.6,1589.0 L2170.1,1584.5 L2173.2,1586.5 L2175.4,1591.2 L2176.5,1594.2 L2178.6,1592.3 L2179.3,1596.6 L2179.9,1595.2 L2180.1,1596.6 L2180.8,1602.9 L2182.4,1605.7 L2183.0,1604.7 L2184.3,1614.3 L2184.3,1613.0 L2186.6,1609.4 L2188.6,1605.5 L2190.4,1602.7 L2191.9,1603.6 L2192.2,1601.6 L2194.3,1595.4 L2195.8,1591.6 L2196.7,1591.5 L2196.9,1589.2 L2199.9,1591.3 L2201.1,1597.0 L2203.3,1596.1 L2204.3,1595.2 L2206.4,1602.2 L2207.9,1597.7 L2207.4,1599.3 L2208.8,1590.9 L2210.7,1593.1 L2210.2,1584.9 L2212.3,1587.9 L2214.3,1584.3 L2214.9,1579.8 L2216.0,1582.8 L2218.9,1584.9 L2220.1,1583.5 L2221.6,1581.8 L2221.5,1582.2 L2224.3,1573.5 L2224.1,1577.3 L2227.0,1574.2 L2229.2,1579.2 L2231.4,1579.2 L2232.7,1581.6 L2235.0,1582.9 L2236.7,1585.1 L2238.1,1583.6 L2239.5,1587.5 L2241.0,1585.3 L2241.6,1586.5 L2244.7,1581.7 L2244.5,1582.5 L2246.7,1579.0 L2248.6,1580.5 L2250.5,1583.5 L2251.3,1585.4 L2253.9,1590.1 L2253.7,1589.8 L2254.1,1577.7 L2254.1,1575.1 L2255.5,1575.4 L2255.8,1571.7 L2256.5,1569.5 L2256.8,1571.2 L2257.5,1568.1 L2257.3,1559.0 L2259.0,1561.2 L2258.8,1554.0 L2259.4,1556.0 L2260.6,1550.2 L2259.8,1550.8 L2261.2,1550.5 L2261.9,1546.6 L2262.1,1540.4 L2262.4,1547.1 L2263.6,1537.8 L2264.6,1536.2 L2264.6,1536.5 L2265.3,1527.3 L2264.5,1526.9 L2265.4,1527.0 L2267.7,1527.6 L2268.2,1532.4 L2270.9,1533.5 L2272.0,1536.8 L2272.6,1542.3 L2273.1,1536.1 L2275.0,1535.9 L2274.2,1533.4 L2274.9,1531.4 L2275.4,1529.2 L2276.1,1524.2 L2275.3,1518.1 L2275.7,1524.4 L2277.7,1513.0 L2277.3,1514.2 L2278.5,1509.9 L2277.4,1513.7 L2278.2,1509.7 L2279.4,1503.5 L2280.0,1499.1 L2278.6,1498.9 L2281.9,1494.3 L2282.6,1499.0 L2283.3,1489.4 L2284.2,1488.8 L2286.2,1490.6 L2288.2,1486.6 L2288.4,1481.4 L2287.6,1479.7 L2288.0,1474.8 L2291.0,1471.2 L2290.0,1475.9 L2290.8,1478.7 L2291.8,1485.6 L2291.3,1487.3 L2292.7,1482.8 L2292.9,1486.4 L2292.6,1489.3 L2293.0,1495.7 L2295.8,1499.6 L2294.4,1497.5 L2294.9,1501.8 L2295.7,1500.0 L2297.7,1506.3 L2297.2,1512.3 L2297.6,1510.2 L2298.3,1509.3 L2299.9,1514.4 L2299.4,1517.2 L2299.7,1514.0 L2300.7,1507.1 L2302.0,1510.7 L2303.6,1506.8 L2303.8,1507.3 L2305.6,1506.0 L2306.0,1502.5 L2306.1,1501.6 L2307.7,1490.5 L2309.0,1494.8 L2310.1,1493.4 L2311.1,1490.8 L2311.6,1489.7 L2313.9,1487.8 L2313.7,1483.0 L2314.3,1479.1 L2315.1,1485.6 L2315.3,1487.4 L2314.7,1493.3 L2315.4,1488.4 L2315.9,1490.8 L2317.0,1494.9 L2316.8,1496.9 L2317.7,1501.9 L2318.0,1505.4 L2318.6,1507.8 L2319.7,1507.3 L2320.1,1510.2 L2319.3,1513.5 L2321.4,1517.3 L2321.5,1518.3 L2321.1,1518.5 L2321.3,1525.5 L2321.4,1526.5 L2321.4,1526.2 L2322.5,1534.5 L2323.3,1534.8 L2323.2,1531.7 L2323.4,1540.1 L2324.9,1538.1 L2323.5,1543.6 L2325.1,1544.3 L2323.8,1549.8 L2327.3,1552.1 L2326.6,1552.6 L2326.7,1552.5 L2326.6,1546.9 L2326.8,1544.0 L2327.2,1541.6 L2327.9,1544.3 L2328.2,1538.2 L2327.1,1537.0 L2328.3,1533.8 L2327.7,1529.5 L2329.1,1527.9 L2329.0,1527.0 L2328.4,1524.4 L2328.6,1522.9 L2329.0,1517.5 L2329.0,1514.1 L2328.7,1511.4 L2329.1,1516.1 L2330.2,1509.1 L2330.0,1504.6 L2330.7,1500.4 L2330.2,1502.1 L2330.9,1511.6 L2330.2,1508.1 L2331.9,1511.9 L2332.1,1515.3 L2331.6,1517.1 L2331.9,1518.9 L2332.4,1521.8 L2332.4,1527.4 L2332.6,1525.0 L2333.0,1532.1 L2333.0,1534.7 L2334.1,1535.3 L2333.7,1538.1 L2334.0,1538.0 L2334.1,1545.2 L2335.0,1549.5 L2334.2,1542.9 L2335.0,1550.2 L2335.7,1551.0 L2335.3,1553.4 L2335.5,1562.4 L2336.5,1562.6 L2336.5,1564.7 L2336.2,1569.9 L2337.5,1564.4 L2338.1,1562.3 L2338.8,1555.1 L2338.3,1555.3 L2339.5,1552.9 L2340.2,1550.0 L2341.0,1554.4 L2340.9,1545.6 L2341.2,1545.6 L2341.5,1543.5 L2342.6,1536.7 L2344.3,1534.9 L2344.3,1537.6 L2343.5,1529.4 L2345.4,1528.9 L2345.5,1526.4 L2345.9,1517.7 L2344.7,1515.3 L2347.8,1518.9 L2348.3,1516.6 L2348.6,1510.4 L2349.5,1509.0 L2350.4,1503.7 L2351.5,1507.2 L2350.9,1497.4 L2352.3,1497.8 L2352.9,1494.7 L2352.7,1495.4 L2353.3,1492.2 L2354.9,1486.7 L2355.4,1487.1 L2356.4,1484.7 L2354.5,1484.4 L2357.9,1474.7 L2357.5,1471.8 L2357.9,1479.1 L2359.0,1480.8 L2358.2,1486.0 L2359.4,1489.4 L2358.9,1484.0 L2360.9,1493.3 L2360.7,1497.0 L2361.9,1496.5 L2360.9,1502.7 L2362.6,1500.3 L2363.9,1503.4 L2364.9,1508.0 L2364.7,1510.5 L2364.9,1512.2 L2367.0,1510.3 L2368.1,1509.1 L2369.2,1506.8 L2369.3,1506.3 L2370.9,1501.5 L2371.5,1498.3 L2370.5,1494.3 L2372.6,1490.2 L2374.3,1493.4 L2375.3,1486.3 L2376.1,1485.9 L2376.5,1483.2 L2379.1,1478.3 L2378.0,1481.6 L2377.6,1482.5 L2379.7,1486.6 L2380.5,1489.1 L2380.9,1493.4 L2380.5,1492.6 L2381.2,1495.0 L2382.9,1499.1 L2383.7,1506.0 L2384.1,1497.9 L2385.3,1500.6 L2385.7,1493.8 L2389.2,1491.2 L2390.0,1492.4 L2391.4,1488.8 L2393.2,1485.9 L2393.8,1485.2 L2397.1,1478.8 L2396.5,1477.4 L2398.0,1475.6 L2398.8,1471.7 L2399.1,1471.4 L2400.3,1468.4 L2401.5,1459.9 L2402.6,1461.9 L2403.2,1458.0 L2404.0,1455.1 L2405.5,1451.4 L2406.0,1452.0 L2404.0,1446.6 L2404.0,1447.2 L2403.3,1440.8 L2403.5,1441.6 L2405.3,1441.9 L2405.7,1436.0 L2406.8,1430.0 L2408.2,1431.6 L2408.6,1424.7 L2408.4,1422.8 L2409.1,1422.5 L2409.6,1415.1 L2410.6,1416.9 L2410.6,1415.2 L2410.8,1410.4 L2412.3,1410.7 L2412.6,1404.5 L2413.2,1403.1 L2413.1,1408.6 L2412.8,1408.1 L2415.0,1404.6 L2415.3,1415.3 L2414.9,1410.7 L2415.5,1417.6 L2415.6,1422.6 L2416.0,1421.9 L2417.8,1430.2 L2416.5,1431.1 L2417.9,1432.0 L2418.0,1436.1 L2418.0,1438.8 L2418.9,1437.0 L2419.3,1434.2 L2420.9,1428.1 L2423.5,1430.4 L2424.4,1437.0 L2426.2,1432.6 L2427.3,1435.3 L2428.1,1437.4 L2430.3,1439.8 L2431.1,1438.5 L2431.5,1435.5 L2433.3,1434.1 L2433.3,1428.4 L2434.5,1426.5 L2436.5,1425.4 L2436.1,1421.5 L2437.0,1418.6 L2438.1,1413.8 L2437.7,1413.1 L2438.3,1416.4 L2440.1,1406.6 L2440.5,1411.5 L2440.5,1407.6 L2441.0,1402.0 L2441.5,1400.3 L2442.7,1402.3 L2442.3,1396.5 L2445.5,1398.8 L2447.4,1389.8 L2449.4,1390.5 L2451.1,1388.9 L2452.1,1393.3 L2451.2,1397.1 L2452.7,1396.1 L2453.6,1406.1 L2455.4,1399.5 L2455.8,1404.7 L2455.8,1408.5 L2457.0,1406.9 L2457.3,1411.9 L2458.0,1417.3 L2458.9,1416.9 L2459.5,1423.6 L2460.6,1415.6 L2461.0,1417.2 L2461.2,1411.8 L2461.6,1409.1 L2462.9,1404.2 L2464.5,1403.3 L2464.3,1405.0 L2464.9,1394.7 L2465.9,1394.5 L2465.9,1394.2 L2467.0,1393.4 L2467.8,1389.9 L2466.7,1388.8 L2468.2,1382.7 L2468.5,1376.9 L2468.6,1375.8 L2467.4,1374.6 L2468.3,1372.1 L2469.6,1368.1 L2468.9,1364.8 L2469.5,1362.7 L2469.8,1364.1 L2469.7,1362.7 L2470.6,1357.9 L2470.3,1361.2 L2470.9,1347.9 L2472.5,1352.6 L2472.0,1348.2 L2473.6,1343.2 L2475.9,1341.7 L2476.8,1337.4 L2477.5,1337.6 L2480.2,1335.6 L2482.4,1332.1 L2485.9,1337.0 L2489.4,1338.5 L2490.1,1337.9 L2491.1,1340.3 L2494.3,1344.1 L2494.7,1344.6 L2495.9,1345.2 L2498.4,1345.6 L2498.7,1352.8 L2499.6,1355.7 L2501.1,1352.9 L2501.7,1349.8 L2503.5,1347.7 L2503.6,1346.9 L2505.3,1341.5 L2504.6,1337.0 L2505.2,1338.7 L2506.9,1332.4 L2506.1,1330.2 L2506.4,1329.6 L2507.2,1327.6 L2506.0,1327.6 L2507.4,1323.7 L2508.3,1318.7 L2509.0,1315.8 L2508.2,1312.7 L2508.7,1313.7 L2509.9,1308.0 L2510.2,1308.7 L2510.8,1304.1 L2510.4,1303.0 L2511.7,1299.2 L2512.7,1296.8 L2512.8,1292.7 L2512.2,1294.9 L2512.5,1288.9 L2515.0,1289.2 L2516.3,1294.6 L2518.5,1292.8 L2519.3,1297.6 L2520.2,1301.3 L2523.0,1307.9 L2524.3,1307.5 L2525.7,1315.2 L2527.7,1304.5 L2525.8,1303.1 L2527.1,1301.2 L2526.6,1297.7 L2526.9,1296.4 L2528.4,1295.7 L2529.1,1292.9 L2529.0,1295.2 L2528.7,1285.9 L2527.8,1281.2 L2529.5,1282.4 L2529.1,1285.4 L2529.9,1275.0 L2529.9,1278.3 L2529.1,1270.0 L2530.4,1267.4 L2530.8,1270.3 L2530.8,1265.9 L2530.8,1262.0 L2533.1,1257.3 L2531.4,1256.1 L2531.2,1256.9 L2531.4,1255.7 L2531.1,1250.1 L2532.3,1245.1 L2531.0,1243.1 L2531.6,1245.5 L2531.4,1241.8 L2531.4,1237.4 L2530.8,1230.7 L2532.1,1230.6 L2532.2,1229.0 L2531.6,1228.2 L2532.1,1222.1 L2531.1,1219.8 L2532.0,1221.3 L2532.3,1216.8 L2531.9,1206.5 L2531.2,1216.3 L2531.5,1211.2 L2532.7,1205.4 L2531.5,1207.4 L2532.6,1200.9 L2531.5,1204.0 L2531.6,1196.3 L2531.9,1194.0 L2532.2,1189.8 L2533.2,1189.4 L2532.1,1185.5 L2533.6,1184.7 L2533.1,1182.7 L2533.4,1178.6 L2535.3,1176.0 L2536.7,1178.4 L2538.3,1179.9 L2538.6,1180.4 L2538.2,1182.1 L2539.3,1184.0 L2538.1,1190.8 L2539.7,1194.3 L2539.1,1194.8 L2540.7,1192.8 L2540.4,1200.6 L2540.3,1198.6 L2540.6,1206.7 L2541.8,1209.7 L2540.6,1210.1 L2540.1,1212.5 L2541.3,1216.1 L2541.8,1221.7 L2541.7,1221.5 L2541.1,1224.5 L2541.8,1223.8 L2541.0,1223.0 L2542.1,1228.1 L2542.6,1234.2 L2542.3,1239.9 L2542.0,1238.6 L2542.0,1242.7 L2541.9,1245.1 L2542.3,1249.0 L2543.2,1252.5 L2542.8,1254.1 L2544.2,1253.6 L2543.4,1254.8 L2544.2,1259.1 L2544.1,1258.2 L2544.5,1261.8 L2544.3,1265.9 L2544.3,1267.9 L2544.3,1266.5 L2544.9,1267.9 L2545.5,1262.6 L2544.7,1259.1 L2545.1,1255.8 L2546.7,1254.1 L2546.6,1251.7 L2545.8,1243.8 L2546.0,1250.3 L2548.0,1245.2 L2546.8,1241.0 L2547.4,1236.8 L2548.6,1240.6 L2546.9,1235.7 L2547.5,1233.9 L2548.3,1229.9 L2548.5,1223.1 L2548.6,1219.0 L2548.4,1217.9 L2549.3,1219.9 L2549.9,1213.9 L2549.2,1209.9 L2549.6,1215.9 L2550.9,1216.6 L2552.1,1223.9 L2552.0,1218.9 L2552.2,1229.9 L2553.3,1224.9 L2555.1,1229.5 L2554.2,1231.3 L2554.7,1234.2 L2555.1,1237.5 L2555.4,1243.0 L2556.2,1240.4 L2556.2,1244.4 L2556.6,1247.0 L2557.7,1252.1 L2556.8,1255.7 L2556.1,1255.7 L2556.3,1258.4 L2557.8,1259.1 L2555.5,1262.7 L2556.7,1264.9 L2555.7,1266.2 L2558.2,1274.2 L2558.7,1273.8 L2558.6,1276.7 L2558.4,1278.3 L2557.4,1280.6 L2559.4,1286.1 L2558.5,1278.1 L2559.4,1291.0 L2559.6,1293.2 L2559.8,1294.1 L2559.3,1289.7 L2560.1,1289.1 L2559.9,1290.1 L2560.5,1279.6 L2561.1,1286.2 L2560.2,1278.3 L2561.1,1275.3 L2561.2,1276.3 L2561.2,1273.3 L2561.6,1269.9 L2562.3,1263.1 L2562.7,1257.1 L2562.3,1263.1 L2562.8,1257.8 L2562.7,1261.1 L2562.7,1249.4 L2563.3,1251.3 L2562.9,1250.3 L2563.3,1244.2 L2563.4,1241.2 L2563.9,1237.7 L2563.3,1236.8 L2565.4,1229.5 L2563.7,1231.7 L2564.0,1231.0 L2565.8,1228.0 L2567.3,1224.3 L2568.1,1226.5 L2569.9,1216.4 L2570.5,1207.4 L2572.1,1222.3 L2572.0,1220.2 L2571.6,1225.0 L2572.9,1232.1 L2572.3,1229.3 L2572.8,1234.3 L2572.6,1236.2 L2572.7,1239.6 L2574.7,1236.0 L2572.5,1239.4 L2573.3,1245.7 L2574.6,1245.6 L2573.8,1249.6 L2576.3,1249.9 L2579.0,1250.9 L2581.3,1252.3 L2581.3,1259.5 L2581.0,1265.1 L2582.3,1259.0 L2582.4,1263.8 L2582.9,1265.9 L2583.8,1270.2 L2582.9,1270.8 L2584.0,1278.1 L2583.8,1275.2 L2585.7,1281.1 L2585.3,1278.8 L2586.0,1284.9 L2585.4,1288.6 L2586.8,1288.1 L2586.9,1290.6 L2589.1,1293.9 L2589.3,1296.8 L2589.9,1293.7 L2588.8,1287.9 L2589.6,1285.1 L2591.1,1286.1 L2591.6,1282.1 L2593.1,1279.8 L2592.4,1277.1 L2593.1,1273.8 L2593.7,1268.7 L2594.0,1266.7 L2594.8,1265.3 L2595.8,1270.9 L2597.3,1275.7 L2598.3,1275.5 L2600.1,1275.5 L2601.3,1279.6 L2602.2,1274.8 L2601.9,1275.5 L2603.0,1268.6 L2603.9,1270.0 L2604.3,1266.4 L2604.5,1266.4 L2605.2,1264.1 L2605.7,1260.6 L2605.7,1259.3 L2606.3,1255.3 L2607.2,1252.6 L2607.1,1246.0 L2607.1,1243.8 L2606.8,1246.1 L2608.0,1243.3 L2608.7,1238.4 L2608.5,1238.4 L2609.3,1235.8 L2610.1,1231.4 L2610.0,1229.4 L2610.3,1227.6 L2609.3,1224.5 L2611.3,1225.7 L2610.6,1218.7 L2612.3,1217.5 L2613.7,1216.2 L2616.1,1215.0 L2617.2,1216.4 L2616.0,1219.7 L2616.6,1221.9 L2617.0,1220.8 L2618.2,1224.9 L2618.0,1228.7 L2618.9,1229.8 L2619.1,1233.3 L2620.1,1240.7 L2619.5,1237.3 L2619.2,1246.4 L2621.3,1246.3 L2620.3,1246.3 L2621.3,1254.6 L2620.4,1248.3 L2622.4,1247.4 L2623.2,1241.5 L2623.4,1238.4 L2623.7,1234.6 L2624.4,1236.7 L2626.0,1233.3 L2625.1,1228.8 L2626.0,1225.4 L2626.7,1224.4 L2626.8,1230.2 L2628.3,1236.2 L2627.7,1234.7 L2627.4,1238.6 L2629.0,1244.5 L2628.3,1243.7 L2629.7,1247.6 L2629.0,1250.1 L2630.2,1251.5 L2630.5,1256.3 L2631.6,1258.3 L2632.7,1255.2 L2635.3,1253.6 L2638.4,1249.0 L2637.5,1252.7 L2638.9,1252.3 L2639.2,1256.5 L2640.2,1258.4 L2639.8,1260.5 L2640.8,1267.1 L2641.2,1270.2 L2641.3,1268.1 L2641.6,1273.5 L2643.7,1277.2 L2643.2,1279.2 L2642.1,1284.0 L2644.3,1282.9 L2645.2,1286.9 L2646.7,1281.4 L2647.6,1280.4 L2649.7,1275.0 L2650.9,1278.2 L2651.9,1278.7 L2652.0,1283.4 L2652.4,1284.6 L2651.6,1288.0 L2652.0,1287.9 L2651.6,1293.9 L2652.4,1293.3 L2652.9,1295.3 L2653.4,1299.9 L2654.0,1301.2 L2654.4,1306.7 L2653.5,1306.7 L2654.0,1307.7 L2653.1,1313.6 L2653.4,1317.9 L2654.5,1316.4 L2654.1,1314.5 L2654.1,1323.2 L2654.6,1324.7 L2653.3,1325.7 L2653.7,1329.4 L2653.3,1331.0 L2653.2,1334.0 L2654.0,1337.9 L2653.6,1341.7 L2654.5,1345.7 L2653.3,1347.2 L2654.1,1349.8 L2654.9,1350.4 L2653.2,1354.8 L2653.1,1354.7 L2653.4,1355.1 L2654.2,1350.7 L2655.0,1346.0 L2656.2,1345.3 L2654.8,1342.0 L2655.9,1341.1 L2656.2,1332.9 L2655.7,1337.2 L2658.2,1337.8 L2658.0,1328.2 L2658.9,1326.2 L2660.0,1322.5 L2658.6,1323.3 L2659.2,1320.7 L2660.1,1321.6 L2660.1,1319.0 L2661.2,1328.0 L2661.1,1329.6 L2663.0,1330.2 L2662.4,1331.5 L2663.4,1334.0 L2663.5,1338.0 L2664.4,1345.0 L2664.2,1341.4 L2665.2,1347.4 L2664.5,1348.3 L2665.1,1354.8 L2664.2,1357.2 L2664.8,1358.0 L2664.0,1365.3 L2665.1,1360.8 L2664.0,1365.7 L2666.1,1368.6 L2665.2,1369.1 L2665.3,1379.2 L2665.7,1376.4 L2665.7,1380.1 L2666.4,1380.9 L2666.7,1384.2 L2666.5,1388.0 L2667.3,1387.2 L2666.7,1394.1 L2666.1,1397.1 L2667.6,1398.9 L2666.6,1400.2 L2667.5,1398.3 L2666.0,1405.4 L2668.1,1403.8 L2667.0,1405.1 L2669.8,1398.6 L2668.7,1395.3 L2669.8,1392.3 L2671.7,1394.0 L2670.9,1385.9 L2671.7,1390.1 L2672.3,1383.8 L2671.7,1379.1 L2672.7,1371.9 L2673.6,1377.6 L2673.9,1377.6 L2673.3,1374.9 L2673.9,1373.6 L2674.8,1364.1 L2674.8,1365.5 L2674.9,1358.8 L2675.8,1361.0 L2676.2,1357.1 L2675.2,1351.8 L2676.2,1352.9 L2676.0,1349.2 L2676.2,1348.2 L2677.3,1344.9 L2676.8,1342.0 L2677.6,1337.7 L2678.4,1335.6 L2678.1,1337.4 L2679.5,1346.4 L2679.4,1344.4 L2678.8,1343.1 L2679.7,1349.0 L2680.4,1349.2 L2681.1,1355.2 L2682.1,1355.4 L2681.2,1359.5 L2681.4,1358.1 L2682.9,1364.7 L2683.2,1368.7 L2684.1,1369.4 L2684.0,1375.0 L2685.6,1373.9 L2686.7,1369.4 L2687.4,1363.3 L2688.3,1364.0 L2689.6,1361.6 L2690.5,1360.0 L2691.3,1356.0 L2691.5,1360.8 L2692.9,1358.3 L2693.4,1366.7 L2693.5,1363.7 L2694.8,1371.4 L2694.4,1373.3 L2694.7,1373.9 L2695.4,1378.0 L2696.3,1379.3 L2697.2,1380.2 L2697.0,1379.8 L2697.8,1387.5 L2697.7,1390.6 L2698.8,1393.0 L2699.5,1391.3 L2699.6,1396.6 L2701.2,1397.7 L2701.9,1398.2 L2701.5,1402.8 L2702.3,1407.2 L2703.0,1411.1 L2703.6,1404.9 L2704.8,1405.2 L2703.8,1401.1 L2706.2,1400.1 L2705.8,1398.4 L2707.8,1392.3 L2707.8,1390.2 L2710.1,1394.8 L2710.1,1385.6 L2709.3,1381.4 L2710.9,1380.6 L2710.9,1380.8 L2711.8,1375.0 L2712.3,1376.0 L2711.6,1371.4 L2711.9,1371.3 L2712.3,1365.6 L2713.1,1367.2 L2713.9,1361.3 L2714.3,1360.2 L2714.2,1358.1 L2714.5,1352.4 L2715.1,1352.1 L2715.3,1346.7 L2715.3,1347.2 L2716.2,1351.7 L2716.7,1352.8 L2717.9,1355.0 L2718.0,1355.4 L2718.2,1363.7 L2718.6,1357.4 L2719.3,1360.5 L2720.5,1370.6 L2721.0,1364.1 L2720.3,1363.7 L2721.8,1376.1 L2720.4,1379.8 L2720.6,1380.4 L2722.5,1384.9 L2722.3,1384.3 L2722.9,1387.4 L2724.7,1389.8 L2727.4,1391.5 L2728.6,1394.8 L2730.6,1391.4 L2731.9,1387.3 L2732.2,1391.7 L2732.9,1382.5 L2733.4,1383.0 L2733.4,1379.5 L2734.9,1380.1 L2734.9,1376.3 L2735.4,1374.5 L2735.7,1374.3 L2737.1,1369.4 L2736.5,1367.2 L2737.9,1358.5 L2738.7,1364.9 L2739.7,1366.3 L2742.6,1373.8 L2743.7,1370.1 L2744.0,1374.0 L2746.0,1373.6 L2747.0,1379.3 L2747.7,1380.2 L2749.6,1383.1 L2750.0,1382.4 L2751.1,1384.7 L2751.9,1386.4 L2752.8,1392.3 L2753.4,1393.0 L2754.5,1396.6 L2754.1,1403.8 L2755.8,1408.1 L2755.9,1404.9 L2757.1,1413.6 L2760.5,1407.7 L2760.6,1407.7 L2760.4,1411.7 L2760.8,1413.2 L2761.3,1415.2 L2761.3,1417.5 L2761.6,1423.2 L2761.1,1422.8 L2762.9,1423.8 L2764.0,1422.7 L2765.5,1417.4 L2765.7,1419.7 L2765.7,1415.1 L2765.0,1412.2 L2766.6,1408.0 L2767.7,1405.5 L2767.1,1404.6 L2768.4,1401.0 L2769.4,1409.4 L2771.1,1408.7 L2771.4,1413.3 L2773.2,1415.7 L2773.4,1408.0 L2774.6,1405.4 L2774.3,1407.2 L2774.9,1398.8 L2775.2,1404.2 L2775.9,1395.0 L2776.7,1395.4 L2775.3,1396.1 L2776.0,1391.8 L2777.3,1388.4 L2777.2,1386.4 L2776.9,1381.7 L2776.7,1380.7 L2777.5,1380.2 L2778.0,1376.8 L2778.9,1384.6 L2780.0,1385.4 L2781.0,1383.7 L2781.2,1390.1 L2780.2,1390.2 L2782.2,1392.2 L2782.3,1396.7 L2782.1,1398.1 L2782.4,1402.0 L2785.4,1402.6 L2784.1,1407.9 L2785.2,1410.4 L2784.9,1410.6 L2785.9,1413.7 L2786.7,1418.9 L2787.6,1422.4 L2787.8,1426.0 L2788.6,1420.6 L2789.4,1420.3 L2788.9,1413.7 L2790.4,1414.6 L2791.6,1411.0 L2792.9,1409.2 L2793.3,1405.7 L2793.6,1400.6 L2797.1,1399.1 L2800.3,1401.2 L2800.9,1402.3 L2803.1,1403.8 L2804.4,1409.6 L2805.9,1409.9 L2807.8,1409.0 L2809.4,1414.8 L2810.2,1416.7 L2811.3,1418.8 L2812.3,1425.1 L2814.3,1424.6 L2813.7,1423.7 L2814.5,1435.5 L2815.4,1432.1 L2816.4,1431.4 L2817.0,1438.1 L2818.3,1441.1 L2819.2,1438.1 L2819.1,1437.2 L2820.7,1433.8 L2820.6,1434.9 L2822.5,1430.7 L2823.1,1422.4 L2823.4,1426.2 L2826.5,1415.3 L2826.9,1419.5 L2827.2,1415.8 L2828.6,1414.3 L2829.7,1414.7 L2830.2,1417.8 L2830.5,1420.3 L2831.7,1425.0 L2833.1,1430.9 L2835.5,1427.2 L2838.3,1430.9 L2839.5,1432.1 L2842.6,1433.7 L2844.1,1439.3 L2847.5,1443.9 L2846.8,1439.9 L2847.3,1432.8 L2847.3,1431.9 L2848.2,1428.6 L2848.1,1427.5 L2848.8,1429.0 L2849.5,1422.6 L2850.4,1418.2 L2850.7,1419.0 L2851.2,1416.6 L2850.3,1415.2 L2851.2,1409.9 L2851.0,1406.9 L2850.0,1399.3 L2852.5,1400.5 L2852.0,1399.8 L2853.3,1397.9 L2852.6,1395.8 L2854.9,1391.6 L2857.1,1390.8 L2858.7,1387.2 L2858.8,1388.3 L2861.1,1388.2 L2861.6,1392.2 L2862.6,1396.0 L2863.7,1391.2 L2864.5,1389.0 L2865.7,1389.7 L2865.0,1386.9 L2865.4,1384.2 L2865.9,1382.3 L2868.2,1375.1 L2867.9,1377.9 L2869.0,1377.3 L2869.9,1382.4 L2869.2,1386.9 L2869.7,1384.5 L2871.2,1384.3 L2871.7,1391.8 L2873.0,1390.1 L2873.1,1396.6 L2873.1,1394.3 L2873.8,1400.7 L2874.6,1404.1 L2874.7,1399.3 L2875.0,1396.1 L2874.5,1393.3 L2875.6,1391.2 L2875.3,1388.2 L2876.5,1390.0 L2876.3,1384.0 L2876.5,1382.5 L2876.9,1383.1 L2877.9,1379.1 L2877.8,1374.5 L2879.1,1372.5 L2879.4,1370.6 L2878.8,1365.7 L2878.8,1356.1 L2879.9,1361.6 L2879.1,1359.3 L2878.6,1355.6 L2881.6,1356.8 L2885.6,1352.3 L2887.4,1356.1 L2888.4,1356.7 L2889.8,1358.4 L2893.4,1356.8 L2896.3,1362.4 L2897.4,1356.0 L2897.6,1365.5 L2899.5,1367.7 L2900.2,1373.6 L2899.8,1373.0 L2901.9,1375.3 L2902.7,1382.2 L2903.1,1382.3 L2904.0,1387.8 L2906.3,1381.1 L2906.5,1385.1 L2905.9,1392.2 L2909.3,1393.1 L2907.7,1399.0 L2908.5,1401.2 L2909.6,1403.4 L2908.7,1404.7 L2909.7,1406.1 L2910.1,1410.0 L2911.1,1410.9 L2911.7,1415.3 L2911.8,1417.3 L2913.6,1421.0 L2913.5,1421.8 L2914.8,1424.0 L2915.1,1425.5 L2916.6,1417.6 L2916.7,1422.0 L2917.7,1414.4 L2917.9,1412.9 L2918.0,1413.8 L2919.5,1409.3 L2920.2,1408.8 L2920.8,1404.5 L2921.8,1397.2 L2922.4,1399.0 L2922.1,1398.8 L2924.6,1394.7 L2925.3,1394.3 L2926.8,1388.8 L2926.5,1394.9 L2929.2,1396.7 L2929.9,1397.3 L2930.3,1401.3 L2931.3,1397.8 L2931.0,1403.3 L2931.8,1395.0 L2933.5,1398.1 L2933.4,1392.0 L2933.5,1387.3 L2933.9,1386.1 L2935.5,1382.3 L2934.9,1382.7 L2936.6,1379.5 L2937.5,1382.2 L2938.3,1383.6 L2938.0,1385.2 L2939.0,1390.3 L2939.2,1393.3 L2940.5,1395.0 L2940.1,1398.2 L2940.7,1397.0 L2941.9,1398.1 L2942.6,1394.4 L2943.4,1394.2 L2943.3,1390.4 L2944.3,1386.7 L2945.6,1381.1 L2945.6,1384.7 L2947.1,1379.9 L2946.4,1375.1 L2946.1,1379.2 L2948.3,1381.3 L2947.9,1383.7 L2948.9,1386.5 L2950.3,1390.3 L2950.9,1390.4 L2951.1,1390.1 L2950.9,1395.9 L2951.4,1397.3 L2952.2,1399.8 L2953.5,1398.8 L2955.2,1398.3 L2952.8,1400.1 L2955.7,1398.3 L2955.8,1396.8 L2956.7,1392.3 L2958.2,1388.7 L2960.8,1381.6 L2960.4,1387.6 L2960.2,1379.3 L2961.1,1373.3 L2961.5,1374.4 L2961.7,1370.5 L2961.6,1366.2 L2961.9,1367.4 L2962.7,1370.1 L2962.8,1363.6 L2963.6,1359.1 L2964.9,1357.6 L2966.1,1362.7 L2966.1,1360.9 L2966.1,1369.1 L2967.2,1374.8 L2968.7,1367.8 L2968.4,1372.2 L2969.2,1378.8 L2969.3,1381.0 L2971.3,1382.3 L2974.4,1382.7 L2976.6,1390.0 L2977.4,1381.1 L2979.0,1379.8 L2979.9,1381.9 L2981.2,1373.8 L2982.5,1378.3 L2982.8,1379.0 L2983.2,1381.8 L2983.4,1386.2 L2983.6,1390.2 L2984.1,1392.6 L2984.9,1395.8 L2985.3,1388.2 L2985.7,1380.1 L2986.5,1378.0 L2986.8,1380.2 L2987.0,1375.4 L2988.5,1373.7 L2987.8,1373.8 L2988.0,1368.5 L2989.4,1365.3 L2988.6,1364.7 L2988.5,1361.1 L2989.2,1357.6 L2989.8,1353.7 L2993.4,1354.5 L2997.2,1358.7 L2999.0,1359.4 L3002.7,1363.9 L3005.4,1355.1 L3008.3,1361.4 L3009.4,1361.6 L3010.6,1361.6 L3011.8,1371.5 L3013.0,1367.5 L3014.6,1367.6 L3016.5,1372.3 L3018.5,1377.0 L3019.7,1375.2 L3021.7,1381.2 L3021.5,1380.4 L3023.2,1381.2 L3023.7,1389.5 L3024.6,1393.4 L3025.9,1395.3 L3025.6,1398.2 L3027.0,1399.1 L3028.5,1402.4 L3030.0,1405.9 L3031.7,1405.8 L3032.4,1411.1 L3036.2,1413.4 L3035.9,1416.5 L3039.5,1419.2 L3041.8,1411.7 L3042.8,1408.3 L3045.1,1407.4 L3046.9,1403.4 L3048.6,1403.5 L3051.3,1400.5 L3052.9,1400.6 L3053.5,1398.6 L3055.5,1395.7 L3056.5,1392.1 L3055.9,1386.6 L3057.9,1390.3 L3058.8,1382.0 L3059.3,1381.8 L3060.8,1378.7 L3064.0,1380.1 L3065.1,1376.3 L3065.0,1372.8 L3066.9,1371.6 L3066.8,1365.4 L3066.6,1362.1 L3067.4,1359.3 L3067.6,1363.1 L3068.8,1361.5 L3069.8,1368.5 L3070.2,1369.9 L3071.9,1372.6 L3072.2,1377.0 L3072.5,1375.5 L3074.5,1379.2 L3076.3,1381.2 L3076.8,1379.6 L3078.9,1384.1 L3083.3,1383.1 L3085.5,1385.2 L3086.5,1383.4 L3087.4,1380.5 L3087.1,1372.4 L3087.9,1371.0 L3087.1,1369.4 L3088.6,1368.9 L3088.1,1368.6 L3087.8,1362.7 L3089.0,1360.8 L3090.6,1357.9 L3089.6,1353.5 L3090.0,1352.1 L3090.7,1346.7 L3091.1,1354.8 L3090.1,1349.6 L3089.8,1343.1 L3090.9,1340.7 L3091.6,1339.0 L3093.8,1336.4 L3093.7,1333.6 L3095.7,1328.6 L3095.9,1326.2 L3097.3,1326.9 L3096.7,1321.2 L3097.8,1317.5 L3097.8,1315.3 L3099.9,1313.0 L3101.0,1311.0 L3100.8,1308.7 L3100.5,1305.5 L3103.6,1304.5 L3103.0,1302.1 L3104.7,1299.0 L3104.9,1298.1 L3104.8,1287.6 L3105.7,1290.9 L3107.2,1287.3 L3107.4,1296.8 L3108.7,1298.3 L3109.4,1299.6 L3109.5,1300.0 L3110.7,1305.3 L3112.0,1309.8 L3111.0,1310.3 L3113.2,1314.8 L3114.9,1314.4 L3115.9,1315.6 L3117.2,1314.7 L3118.7,1321.4 L3121.6,1323.7 L3124.2,1322.6 L3124.6,1318.7 L3125.8,1313.3 L3126.3,1313.5 L3127.3,1308.9 L3127.4,1307.9 L3127.1,1304.5 L3127.3,1306.5 L3129.7,1299.8 L3129.5,1294.9 L3128.9,1293.2 L3130.5,1294.2 L3129.8,1285.5 L3131.7,1284.0 L3132.5,1282.1 L3134.2,1284.0 L3134.3,1279.5 L3136.4,1277.5 L3137.6,1271.1 L3137.0,1274.4 L3138.5,1265.6 L3138.2,1261.4 L3139.4,1264.3 L3139.5,1262.4 L3139.9,1251.0 L3140.0,1254.4 L3141.0,1255.1 L3141.0,1251.7 L3141.2,1255.2 L3141.7,1261.6 L3143.1,1263.5 L3140.5,1270.0 L3142.1,1269.9 L3141.7,1272.2 L3142.2,1273.6 L3142.5,1270.3 L3142.1,1278.7 L3141.1,1280.7 L3143.8,1279.9 L3142.5,1286.8 L3142.6,1285.3 L3142.3,1286.7 L3142.7,1294.4 L3143.1,1293.0 L3143.7,1295.5 L3143.0,1301.3 L3144.2,1300.5 L3144.1,1309.1 L3143.5,1313.3 L3144.2,1313.5 L3143.7,1313.0 L3144.1,1312.5 L3144.8,1319.3 L3144.3,1309.7 L3144.8,1315.7 L3145.3,1310.0 L3144.6,1307.4 L3145.3,1309.0 L3145.6,1300.4 L3146.0,1296.4 L3145.7,1297.6 L3145.3,1299.1 L3146.1,1291.5 L3146.4,1292.1 L3145.8,1284.9 L3146.7,1280.8 L3145.6,1288.2 L3146.2,1284.6 L3146.7,1281.0 L3145.9,1278.2 L3145.9,1270.5 L3147.3,1271.6 L3146.5,1271.4 L3146.7,1267.5 L3147.9,1260.4 L3146.4,1260.1 L3145.9,1257.9 L3146.2,1254.4 L3147.1,1251.9 L3147.7,1249.5 L3149.0,1247.1 L3150.2,1242.3 L3150.2,1238.7 L3150.9,1235.3 L3151.6,1238.7 L3153.5,1233.4 L3153.7,1236.0 L3156.0,1240.5 L3157.7,1242.1 L3158.5,1241.3 L3159.3,1245.5 L3160.1,1246.6 L3160.4,1241.8 L3161.1,1238.0 L3162.1,1237.3 L3162.3,1232.3 L3161.3,1229.6 L3163.2,1225.8 L3163.5,1224.5 L3164.6,1219.8 L3164.8,1225.6 L3166.8,1216.1 L3166.0,1220.2 L3165.8,1214.4 L3167.7,1208.2 L3167.5,1205.3 L3168.8,1208.2 L3170.8,1200.2 L3169.9,1199.4 L3170.5,1193.2 L3169.8,1196.4 L3168.9,1194.3 L3169.4,1187.4 L3171.2,1184.3 L3170.1,1185.9 L3169.6,1181.2 L3172.4,1180.8 L3171.0,1178.5 L3170.6,1174.2 L3170.7,1170.9 L3171.6,1165.5 L3170.5,1168.3 L3170.9,1165.0 L3170.5,1160.9 L3170.6,1162.1 L3171.3,1152.5 L3171.3,1155.1 L3170.3,1155.2 L3172.6,1146.2 L3170.9,1149.2 L3171.1,1142.9 L3171.3,1139.7 L3172.0,1141.2 L3171.6,1135.5 L3171.9,1129.2 L3171.5,1129.3 L3172.6,1128.6 L3172.6,1128.4 L3172.4,1121.0 L3173.5,1125.7 L3172.6,1124.8 L3173.6,1128.3 L3172.8,1136.6 L3173.9,1136.3 L3174.7,1135.2 L3174.5,1139.3 L3175.1,1146.0 L3175.8,1148.0 L3176.1,1145.1 L3176.4,1155.0 L3176.5,1154.2 L3177.1,1155.2 L3177.3,1160.5 L3177.9,1159.5 L3178.3,1162.6 L3176.8,1166.5 L3177.6,1168.8 L3178.5,1173.7 L3178.4,1175.2 L3177.6,1182.0 L3179.2,1182.0 L3179.9,1183.2 L3178.6,1179.3 L3179.1,1184.8 L3180.7,1181.3 L3182.5,1181.2 L3183.4,1183.1 L3185.7,1174.5 L3184.8,1174.6 L3186.1,1176.5 L3186.6,1171.4 L3187.9,1166.1 L3189.3,1160.0 L3189.9,1166.0 L3189.8,1166.8 L3188.9,1173.7 L3190.2,1171.6 L3190.2,1177.9 L3190.7,1180.4 L3190.1,1182.2 L3191.2,1182.4 L3192.3,1183.2 L3192.6,1187.8 L3192.1,1191.9 L3191.8,1195.0 L3192.5,1196.2 L3192.8,1198.4 L3192.4,1202.5 L3193.5,1202.6 L3193.8,1204.1 L3193.8,1207.3 L3193.6,1209.1 L3194.8,1214.8 L3195.8,1213.6 L3194.6,1212.7 L3195.7,1211.7 L3195.0,1210.2 L3195.3,1202.5 L3196.1,1203.1 L3197.2,1201.1 L3196.4,1196.1 L3196.7,1191.2 L3198.5,1190.2 L3198.1,1190.6 L3198.3,1189.4 L3199.2,1185.7 L3199.4,1186.2 L3198.7,1177.6 L3199.4,1177.3 L3199.8,1178.6 L3199.5,1176.9 L3200.6,1173.3 L3201.3,1164.7 L3201.0,1162.1 L3202.1,1162.0 L3201.4,1168.6 L3203.5,1167.9 L3204.2,1168.1 L3204.5,1172.9 L3203.7,1171.2 L3204.4,1178.1 L3206.5,1183.7 L3206.9,1181.7 L3205.9,1186.3 L3207.7,1186.3 L3207.4,1188.7 L3208.5,1192.8 L3209.0,1194.1 L3208.4,1202.3 L3210.8,1203.8 L3210.3,1202.1 L3212.1,1202.9 L3212.8,1209.2 L3211.0,1208.4 L3211.4,1210.6 L3213.0,1217.2 L3213.3,1207.8 L3214.7,1219.1 L3214.1,1229.1 L3216.2,1227.1 L3216.4,1228.2 L3215.0,1226.5 L3216.2,1232.7 L3215.6,1235.1 L3216.0,1242.1 L3217.4,1237.6 L3217.8,1243.9 L3217.7,1251.4 L3217.7,1241.0 L3218.3,1242.1 L3218.9,1241.3 L3218.5,1239.7 L3219.0,1234.7 L3220.0,1230.6 L3221.2,1224.9 L3221.6,1224.7 L3220.9,1218.2 L3221.7,1220.1 L3222.3,1216.0 L3223.2,1216.0 L3224.2,1213.5 L3222.8,1208.0 L3224.1,1206.7 L3224.0,1203.0 L3225.6,1202.7 L3224.4,1198.0 L3225.1,1197.4 L3225.5,1195.5 L3226.7,1189.7 L3226.0,1191.5 L3227.3,1187.5 L3227.6,1185.4 L3227.2,1178.5 L3227.9,1177.8 L3228.9,1169.6 L3232.5,1171.3 L3231.6,1173.0 L3231.6,1178.1 L3231.4,1183.3 L3232.0,1184.2 L3231.7,1186.7 L3232.6,1190.2 L3233.2,1188.8 L3234.2,1196.8 L3234.3,1197.8 L3233.0,1203.0 L3234.2,1199.4 L3234.2,1202.9 L3234.4,1200.8 L3235.6,1209.6 L3234.3,1208.9 L3236.4,1215.9 L3235.8,1215.9 L3236.4,1220.8 L3236.7,1223.8 L3239.2,1227.3 L3239.4,1226.5 L3241.5,1227.4 L3242.4,1232.2 L3243.8,1228.4 L3242.9,1228.9 L3244.3,1223.7 L3244.9,1226.4 L3244.8,1221.7 L3246.5,1217.6 L3245.4,1214.4 L3247.2,1213.9 L3246.5,1208.4 L3246.6,1212.5 L3246.4,1209.2 L3247.6,1202.4 L3247.7,1204.6 L3249.2,1208.7 L3249.0,1213.1 L3248.9,1211.6 L3251.8,1215.4 L3251.5,1216.8 L3251.6,1224.5 L3253.0,1224.9 L3253.1,1227.4 L3254.5,1226.8 L3255.1,1232.4 L3255.0,1226.6 L3255.5,1224.3 L3257.0,1222.4 L3256.6,1219.6 L3256.9,1216.8 L3258.8,1217.3 L3258.5,1217.7 L3258.9,1209.9 L3259.8,1203.9 L3259.6,1203.1 L3259.8,1203.9 L3260.5,1201.4 L3261.1,1197.0 L3261.9,1198.0 L3261.7,1189.8 L3261.9,1191.2 L3264.4,1188.6 L3263.0,1191.5 L3264.0,1200.2 L3263.8,1197.6 L3265.2,1202.2 L3265.7,1204.1 L3265.6,1207.4 L3266.4,1211.5 L3266.6,1211.4 L3267.4,1216.4 L3267.1,1218.3 L3268.4,1218.7 L3268.8,1213.4 L3271.5,1214.9 L3272.3,1215.9 L3273.9,1210.8 L3274.3,1206.0 L3274.4,1206.9 L3275.9,1202.6 L3277.2,1198.5 L3278.3,1201.0 L3279.1,1195.2 L3279.0,1192.4 L3281.0,1186.7 L3281.2,1189.5 L3280.9,1180.2 L3281.9,1179.9 L3282.0,1176.3 L3283.7,1175.5 L3281.7,1174.5 L3282.7,1174.6 L3283.0,1166.7 L3282.4,1162.8 L3282.5,1167.1 L3283.0,1166.0 L3283.6,1157.2 L3283.1,1158.3 L3284.0,1153.1 L3284.8,1152.5 L3283.0,1144.4 L3283.5,1142.2 L3283.7,1146.1 L3284.3,1141.8 L3284.6,1140.6 L3284.4,1137.3 L3284.7,1134.7 L3285.3,1131.6 L3285.1,1127.4 L3286.9,1126.9 L3285.6,1125.2 L3285.9,1132.7 L3286.1,1133.0 L3286.9,1134.9 L3287.2,1139.2 L3285.6,1144.8 L3286.5,1149.2 L3288.1,1145.7 L3287.2,1148.2 L3287.4,1155.0 L3288.7,1152.7 L3288.0,1157.7 L3288.1,1156.7 L3288.2,1160.7 L3288.4,1166.9 L3288.9,1166.4 L3289.7,1175.3 L3288.2,1172.2 L3290.2,1170.5 L3290.4,1168.6 L3291.3,1168.9 L3291.0,1160.9 L3292.1,1162.6 L3292.9,1154.3 L3291.0,1155.3 L3293.3,1156.1 L3292.7,1155.2 L3292.9,1158.1 L3293.1,1157.8 L3294.0,1163.8 L3293.3,1167.3 L3295.3,1166.8 L3294.5,1170.3 L3295.1,1172.2 L3294.8,1173.4 L3296.2,1178.5 L3295.2,1179.9 L3295.6,1186.3 L3296.1,1186.2 L3296.6,1188.1 L3297.2,1195.6 L3297.0,1194.8 L3297.6,1199.5 L3297.5,1194.9 L3299.2,1197.4 L3301.3,1198.2 L3303.0,1197.2 L3303.5,1186.0 L3304.6,1192.6 L3305.1,1191.4 L3305.2,1200.3 L3306.0,1204.3 L3306.9,1199.4 L3306.3,1201.0 L3306.5,1208.1 L3307.3,1209.5 L3307.2,1211.6 L3308.6,1217.3 L3308.1,1215.6 L3309.2,1219.3 L3309.9,1219.6 L3310.9,1221.0 L3312.2,1216.6 L3313.8,1213.3 L3315.0,1210.9 L3317.1,1209.2 L3316.7,1214.4 L3316.5,1211.8 L3317.0,1214.7 L3316.8,1222.9 L3318.4,1221.9 L3317.9,1227.9 L3318.7,1223.7 L3320.1,1230.0 L3319.2,1232.4 L3319.4,1237.0 L3320.0,1241.4 L3320.9,1238.6 L3320.4,1243.1 L3322.3,1242.3 L3323.1,1238.4 L3324.6,1234.6 L3327.4,1235.2 L3326.0,1234.2 L3326.3,1240.1 L3326.3,1247.2 L3328.5,1244.7 L3328.6,1248.4 L3328.1,1247.3 L3329.0,1251.1 L3329.4,1253.9 L3329.1,1257.4 L3328.4,1265.6 L3329.1,1259.6 L3330.9,1271.7 L3330.3,1267.7 L3331.9,1275.4 L3330.8,1271.6 L3332.0,1264.6 L3331.1,1264.1 L3332.1,1260.2 L3332.1,1257.0 L3332.6,1260.7 L3331.6,1251.2 L3332.8,1250.8 L3333.1,1245.8 L3332.2,1244.1 L3332.1,1244.3 L3333.7,1237.0 L3332.4,1237.3 L3333.4,1232.5 L3332.8,1232.3 L3333.7,1228.3 L3332.8,1228.5 L3332.7,1220.1 L3334.5,1225.0 L3334.3,1218.3 L3335.1,1215.5 L3336.1,1209.7 L3338.0,1205.8 L3339.6,1212.2 L3341.3,1206.7 L3342.7,1205.7 L3342.1,1200.0 L3342.3,1195.4 L3342.8,1199.2 L3343.5,1192.2 L3343.5,1190.5 L3343.8,1193.2 L3344.0,1184.1 L3344.3,1186.1 L3345.2,1178.2 L3345.2,1178.7 L3345.4,1175.7 L3346.6,1167.9 L3346.1,1168.0 L3347.8,1168.9 L3347.7,1161.1 L3349.1,1164.2 L3348.7,1157.1 L3349.1,1161.5 L3348.9,1164.3 L3350.0,1167.6 L3349.1,1168.6 L3351.0,1171.2 L3350.6,1171.5 L3352.2,1177.8 L3351.5,1179.8 L3351.3,1186.3 L3351.9,1186.7 L3353.2,1183.8 L3352.7,1187.4 L3352.3,1193.5 L3354.1,1197.1 L3353.3,1196.4 L3355.0,1203.5 L3353.1,1200.7 L3354.3,1208.8 L3355.2,1205.9 L3354.2,1201.1 L3354.7,1200.2 L3355.7,1193.0 L3355.0,1190.4 L3355.0,1193.7 L3355.3,1183.6 L3355.7,1186.0 L3356.2,1182.9 L3354.9,1183.2 L3356.2,1176.7 L3356.0,1175.4 L3356.0,1174.6 L3356.4,1169.5 L3356.3,1165.8 L3356.4,1165.1 L3355.6,1161.0 L3356.7,1160.1 L3356.9,1158.3 L3356.9,1153.6 L3357.6,1152.5 L3357.2,1148.4 L3360.4,1149.9 L3363.3,1145.8 L3364.5,1146.1 L3364.5,1148.7 L3368.4,1155.9 L3368.1,1156.8 L3371.1,1159.8 L3371.9,1163.2 L3373.3,1160.5" fill="none" stroke="#C9A15E" stroke-width="8.5" stroke-linejoin="round" stroke-linecap="round"/>
<path d="M1922.6,1149.9 L1921.6,1155.1 L1922.1,1150.4 L1923.2,1152.1 L1923.0,1162.0 L1923.5,1163.6 L1923.3,1162.8 L1923.8,1169.7 L1923.7,1172.7 L1922.4,1170.5 L1922.4,1174.3 L1924.3,1174.7 L1924.0,1180.2 L1923.9,1182.4 L1925.2,1185.6 L1925.4,1189.2 L1924.5,1190.8 L1925.6,1191.8 L1925.0,1198.8 L1926.3,1199.9 L1925.8,1200.4 L1926.8,1204.5 L1927.5,1203.3 L1927.9,1206.1 L1927.1,1209.9 L1927.8,1216.3 L1929.2,1221.6 L1928.4,1219.2 L1930.0,1217.1 L1930.1,1228.7 L1930.6,1224.7 L1930.2,1229.4 L1930.0,1228.9 L1931.4,1231.8 L1931.5,1233.8 L1930.6,1233.2 L1929.8,1246.2 L1931.1,1243.0 L1932.2,1242.8 L1931.9,1251.8 L1932.6,1255.2 L1932.3,1250.1 L1932.6,1257.8 L1932.2,1258.1 L1933.0,1267.0 L1932.8,1261.9 L1933.3,1264.8 L1933.7,1267.6 L1933.1,1269.6 L1932.9,1278.2 L1935.1,1276.1 L1934.5,1275.6 L1934.7,1269.1 L1934.0,1270.8 L1934.5,1267.3 L1934.5,1265.9 L1934.7,1261.8 L1935.2,1253.5 L1935.5,1259.4 L1934.7,1249.4 L1935.3,1248.8 L1934.6,1252.4 L1935.2,1243.2 L1934.5,1244.3 L1935.6,1241.8 L1934.8,1236.5 L1935.6,1234.7 L1935.7,1232.3 L1935.7,1231.1 L1936.2,1231.3 L1935.9,1220.4 L1936.8,1219.2 L1936.2,1223.5 L1936.5,1221.3 L1936.2,1221.0 L1936.6,1208.7 L1936.8,1209.5 L1937.1,1206.0 L1937.0,1202.0 L1936.4,1202.4 L1937.4,1198.1 L1937.0,1200.4 L1935.7,1199.0 L1936.9,1193.1 L1938.2,1189.8 L1937.5,1190.6 L1938.0,1188.0 L1936.9,1183.3 L1936.4,1176.7 L1938.0,1181.7 L1938.7,1183.2 L1940.9,1184.5 L1941.1,1187.3 L1941.8,1191.1 L1941.4,1185.6 L1944.0,1191.3 L1944.0,1185.3 L1945.2,1179.3 L1945.6,1193.3 L1945.1,1184.1 L1945.2,1190.9 L1945.6,1197.8 L1946.4,1194.5 L1946.3,1197.3 L1945.9,1204.9 L1946.4,1202.1 L1947.6,1205.4 L1947.6,1202.0 L1947.6,1208.4 L1947.1,1216.0 L1948.6,1210.5 L1948.5,1218.1 L1947.6,1224.0 L1948.0,1222.5 L1948.2,1225.9 L1948.1,1231.7 L1949.6,1229.2 L1948.3,1233.6 L1948.4,1236.7 L1949.1,1239.0 L1948.7,1242.2 L1948.5,1243.0 L1949.3,1246.6 L1950.0,1248.5 L1949.0,1252.5 L1949.7,1255.9 L1950.9,1260.3 L1950.0,1256.4 L1950.3,1261.0 L1949.9,1260.1 L1951.1,1263.9 L1951.2,1271.6 L1950.2,1272.5 L1950.8,1270.2 L1950.6,1276.8 L1951.7,1277.1 L1951.1,1284.0 L1951.1,1282.2 L1950.6,1287.5 L1951.2,1286.4 L1951.5,1289.5 L1953.7,1292.5 L1952.5,1293.1 L1952.7,1299.8 L1952.1,1307.1 L1951.9,1301.1 L1950.9,1300.5 L1952.3,1303.7 L1953.3,1301.1 L1952.5,1296.3 L1954.0,1295.1 L1954.2,1293.5 L1953.0,1290.3 L1953.7,1290.8 L1953.2,1287.5 L1952.8,1279.5 L1952.7,1280.0 L1953.4,1280.4 L1953.7,1275.0 L1953.8,1269.9 L1953.4,1275.9 L1954.6,1264.9 L1953.6,1266.9 L1953.1,1257.6 L1954.3,1259.5 L1955.1,1255.7 L1954.0,1257.0 L1954.3,1253.8 L1953.8,1249.9 L1956.2,1244.7 L1955.1,1245.5 L1955.4,1242.9 L1955.8,1239.1 L1954.9,1238.8 L1955.8,1231.2 L1956.2,1232.3 L1956.4,1230.7 L1955.2,1227.2 L1956.5,1228.3 L1956.1,1224.8 L1957.1,1221.4 L1957.2,1219.8 L1955.9,1212.4 L1956.1,1217.4 L1957.5,1208.2 L1957.0,1213.2 L1956.8,1205.4 L1957.3,1205.0 L1956.6,1201.1 L1958.1,1200.6 L1958.4,1196.1 L1957.8,1193.2 L1958.3,1194.5 L1959.1,1187.5 L1959.2,1185.0 L1959.1,1183.9 L1959.5,1177.4 L1960.3,1179.0 L1960.7,1173.5 L1960.8,1175.8 L1960.9,1170.4 L1960.7,1162.8 L1960.3,1164.1 L1961.8,1163.0 L1961.1,1159.6 L1961.5,1154.7 L1961.9,1161.3 L1961.6,1160.7 L1962.6,1161.8 L1962.5,1168.1 L1964.7,1169.8 L1963.4,1176.3 L1964.2,1170.1 L1964.1,1172.6 L1964.6,1183.8 L1966.4,1191.1 L1966.1,1184.5 L1965.5,1187.0 L1965.6,1188.2 L1966.8,1193.6 L1967.0,1190.2 L1966.2,1189.4 L1967.3,1187.4 L1967.6,1180.2 L1968.3,1182.1 L1967.9,1179.3 L1968.5,1173.7 L1968.6,1170.4 L1969.5,1168.5 L1969.5,1171.6 L1969.2,1166.1 L1970.3,1157.0 L1971.0,1160.7 L1969.2,1157.0 L1971.4,1159.4 L1971.0,1164.4 L1970.0,1165.2 L1971.6,1164.9 L1970.7,1168.0 L1970.5,1171.5 L1969.7,1173.0 L1970.1,1174.7 L1971.0,1182.3 L1970.8,1184.5 L1971.4,1182.9 L1970.7,1187.8 L1971.9,1192.0 L1971.7,1187.3 L1972.6,1198.6 L1972.4,1198.1 L1972.8,1201.0 L1974.2,1202.6 L1973.2,1207.7 L1973.3,1203.7 L1973.4,1209.8 L1972.7,1215.5 L1973.5,1211.7 L1974.1,1209.7 L1976.0,1203.6 L1975.3,1205.6 L1975.9,1203.4 L1977.3,1196.0 L1977.3,1199.1 L1978.8,1193.7 L1978.6,1198.7 L1978.2,1199.4 L1979.0,1204.5 L1978.7,1203.3 L1979.2,1205.8 L1979.0,1210.3 L1979.0,1210.8 L1979.6,1214.4 L1979.4,1216.5 L1979.0,1217.5 L1979.5,1219.2 L1980.9,1229.9 L1980.0,1226.9 L1980.2,1228.9 L1980.1,1234.7 L1980.9,1231.7 L1980.9,1235.5 L1981.3,1238.3 L1981.2,1240.9 L1981.1,1246.3 L1981.7,1244.5 L1981.1,1248.5 L1980.6,1253.8 L1981.9,1249.9 L1981.9,1252.6 L1982.2,1238.9 L1982.9,1243.7 L1982.9,1240.0 L1982.5,1237.2 L1984.3,1232.9 L1984.0,1230.0 L1984.7,1232.8 L1985.5,1226.0 L1985.5,1227.0 L1985.8,1220.2 L1987.1,1219.9 L1987.9,1221.9 L1987.5,1226.1 L1988.4,1227.7 L1988.3,1228.6 L1988.9,1231.6 L1990.7,1233.1 L1990.8,1239.1 L1990.1,1243.1 L1991.7,1244.1 L1992.1,1243.2 L1992.7,1236.5 L1992.5,1233.5 L1992.8,1231.0 L1993.8,1233.1 L1994.0,1230.8 L1995.2,1227.4 L1993.9,1216.7 L1995.9,1227.0 L1994.8,1226.5 L1996.1,1231.0 L1995.6,1233.5 L1995.8,1235.6 L1997.4,1239.6 L1997.1,1243.1 L1998.9,1243.4 L1998.2,1243.2 L1998.9,1245.3 L1998.7,1254.3 L1999.5,1246.4 L1999.1,1251.1 L1999.7,1256.2 L2001.5,1265.4 L1999.9,1264.2 L2000.9,1270.0 L2002.0,1271.8 L2000.7,1264.7 L2000.8,1272.3 L2002.5,1274.4 L2003.1,1282.3 L2002.7,1285.0 L2002.5,1288.1 L2003.3,1286.5 L2003.1,1285.3 L2003.7,1294.5 L2003.9,1294.5 L2005.4,1305.5 L2003.8,1303.9 L2004.8,1303.3 L2004.5,1305.2 L2005.4,1309.5 L2005.1,1309.7 L2006.1,1317.4 L2005.7,1317.4 L2006.6,1319.6 L2005.8,1321.3 L2006.7,1321.0 L2006.9,1326.3 L2006.7,1333.0 L2007.5,1329.3 L2008.2,1328.2 L2007.1,1323.4 L2008.5,1320.9 L2008.3,1322.6 L2007.9,1320.8 L2009.1,1316.3 L2008.7,1315.6 L2008.9,1314.8 L2009.5,1309.2 L2009.4,1305.4 L2009.9,1302.1 L2009.6,1298.3 L2011.3,1299.7 L2010.1,1297.6 L2009.2,1297.6 L2009.4,1293.0 L2010.4,1290.8 L2011.2,1287.1 L2011.6,1283.1 L2011.4,1280.6 L2011.0,1276.2 L2011.8,1280.8 L2011.2,1272.7 L2011.5,1272.4 L2010.8,1269.4 L2011.7,1263.9 L2012.4,1264.4 L2012.6,1264.5 L2011.7,1261.8 L2013.0,1262.6 L2013.7,1255.3 L2011.8,1252.1 L2014.1,1251.1 L2013.2,1243.3 L2013.4,1240.2 L2013.1,1240.4 L2013.9,1237.4 L2013.8,1236.4 L2014.1,1235.5 L2014.4,1230.8 L2014.3,1227.4 L2013.7,1225.0 L2014.5,1218.8 L2015.1,1222.4 L2013.9,1216.4 L2014.4,1210.7 L2014.0,1215.1 L2014.0,1217.1 L2016.2,1213.0 L2015.8,1209.5 L2016.4,1201.5 L2016.7,1199.5 L2015.7,1192.3 L2015.8,1192.1 L2017.6,1195.0 L2016.9,1190.3 L2017.0,1190.4 L2016.4,1187.9 L2016.9,1185.8 L2016.5,1187.5 L2018.6,1199.3 L2018.5,1195.3 L2020.2,1199.1 L2020.1,1202.1 L2019.0,1201.1 L2021.2,1207.5 L2021.4,1206.4 L2022.0,1206.4 L2021.7,1203.9 L2022.7,1207.3 L2023.6,1196.8 L2023.7,1192.5 L2022.1,1191.8 L2025.1,1193.1 L2023.8,1189.6 L2023.3,1185.4 L2024.3,1180.0 L2025.0,1183.7 L2025.7,1185.0 L2026.0,1192.0 L2026.6,1195.1 L2026.8,1198.7 L2027.4,1201.2 L2027.7,1197.6 L2027.1,1207.4 L2027.2,1208.1 L2028.5,1212.2 L2027.8,1211.9 L2028.4,1215.5 L2027.6,1216.1 L2029.7,1218.8 L2029.9,1225.1 L2029.7,1222.9 L2029.6,1223.4 L2030.0,1223.4 L2031.2,1219.5 L2030.6,1218.6 L2031.2,1219.4 L2031.8,1217.2 L2032.2,1204.1 L2032.4,1205.4 L2032.8,1203.3 L2033.8,1202.4 L2033.1,1211.1 L2033.3,1207.1 L2033.5,1212.8 L2034.0,1213.5 L2034.7,1214.4 L2034.6,1220.7 L2034.5,1219.9 L2034.4,1226.6 L2032.9,1230.2 L2034.2,1231.3 L2035.2,1232.6 L2035.4,1232.8 L2036.2,1236.8 L2035.9,1238.7 L2035.3,1244.6 L2035.1,1244.3 L2035.3,1242.8 L2036.6,1249.6 L2035.0,1251.9 L2037.7,1257.4 L2036.3,1258.2 L2036.4,1260.4 L2038.2,1262.5 L2039.7,1266.4 L2040.9,1262.0 L2041.2,1262.2 L2042.9,1262.9 L2044.0,1254.9 L2043.1,1258.0 L2045.8,1255.5 L2045.3,1254.1 L2047.0,1251.5 L2046.7,1245.6 L2046.6,1247.8 L2046.5,1252.3 L2048.2,1253.2 L2048.3,1258.2 L2048.1,1258.8 L2049.4,1259.5 L2048.4,1262.8 L2048.6,1267.9 L2049.8,1268.2 L2050.1,1266.8 L2050.1,1280.1 L2051.0,1273.8 L2051.2,1277.2 L2051.4,1283.2 L2050.4,1288.7 L2050.8,1285.3 L2052.4,1285.5 L2052.6,1280.6 L2053.3,1279.9 L2053.0,1279.4 L2054.6,1272.4 L2053.8,1268.7 L2053.7,1269.4 L2055.5,1262.7 L2055.1,1264.8 L2055.3,1263.7 L2056.5,1258.8 L2057.2,1257.4 L2057.5,1260.5 L2057.0,1265.4 L2057.0,1264.9 L2057.6,1264.3 L2057.3,1272.0 L2059.2,1274.3 L2057.5,1275.7 L2059.1,1278.0 L2059.5,1280.5 L2059.9,1284.3 L2060.0,1282.6 L2058.9,1287.3 L2059.3,1287.4 L2060.9,1291.1 L2060.7,1298.5 L2060.6,1299.6 L2061.6,1293.5 L2062.0,1292.5 L2061.2,1289.9 L2062.4,1285.9 L2062.7,1283.1 L2063.6,1278.5 L2062.7,1279.5 L2063.3,1277.9 L2062.0,1272.3 L2064.0,1274.9 L2064.8,1265.3 L2065.1,1262.9 L2064.9,1261.5 L2064.1,1262.0 L2065.5,1261.5 L2065.0,1262.8 L2065.7,1270.2 L2065.8,1269.7 L2066.1,1269.1 L2066.4,1273.2 L2067.6,1277.8 L2067.9,1279.6 L2067.5,1285.9 L2068.0,1285.0 L2068.3,1288.2 L2069.0,1288.2 L2068.3,1290.0 L2069.6,1296.5 L2068.9,1298.7 L2070.6,1301.8 L2069.6,1299.8 L2070.3,1311.5 L2071.0,1306.5 L2069.6,1312.3 L2070.4,1306.1 L2072.7,1303.4 L2071.7,1308.6 L2073.3,1293.0 L2073.2,1295.8 L2073.3,1292.2 L2073.8,1292.8 L2073.9,1290.5 L2074.9,1282.8 L2076.0,1283.6 L2075.7,1284.3 L2075.5,1284.2 L2075.2,1272.7 L2075.8,1277.6 L2077.3,1272.3 L2076.0,1266.6 L2076.7,1265.3 L2076.4,1262.5 L2077.1,1261.0 L2077.1,1255.9 L2078.0,1256.4 L2078.3,1252.5 L2078.4,1247.9 L2078.5,1244.7 L2079.4,1245.3 L2079.3,1239.5 L2079.4,1238.7 L2080.5,1235.6 L2080.3,1237.3 L2080.9,1240.8 L2080.3,1239.1 L2081.0,1245.6 L2082.2,1245.8 L2081.4,1248.3 L2082.6,1254.7 L2082.2,1258.0 L2082.8,1257.7 L2083.0,1263.0 L2083.9,1268.4 L2083.8,1266.6 L2084.0,1266.8 L2084.2,1272.9 L2084.4,1273.2 L2084.1,1277.9 L2086.2,1278.9 L2086.3,1281.9 L2086.9,1283.4 L2088.1,1292.1 L2088.8,1289.7 L2088.6,1288.3 L2090.1,1293.4 L2090.5,1295.1 L2089.4,1304.2 L2090.8,1302.9 L2092.5,1294.6 L2092.2,1295.9 L2091.4,1298.1 L2092.3,1292.3 L2092.9,1293.2 L2092.6,1284.8 L2093.6,1285.0 L2093.7,1283.5 L2094.6,1279.1 L2093.4,1273.0 L2093.5,1271.6 L2095.3,1274.3 L2095.1,1269.8 L2095.0,1264.3 L2096.0,1258.2 L2095.7,1257.6 L2096.3,1263.8 L2096.6,1268.3 L2096.9,1270.5 L2097.3,1264.6 L2097.5,1270.0 L2097.6,1268.7 L2098.0,1276.4 L2097.8,1279.2 L2099.3,1282.4 L2099.5,1282.5 L2100.5,1284.9 L2099.1,1290.2 L2100.2,1290.4 L2100.4,1287.0 L2099.1,1282.5 L2099.8,1274.0 L2101.1,1273.9 L2100.7,1276.4 L2100.2,1269.2 L2101.2,1269.1 L2100.6,1266.9 L2100.8,1265.6 L2100.8,1263.9 L2100.7,1255.4 L2100.3,1257.7 L2100.3,1254.3 L2101.4,1249.5 L2101.0,1245.4 L2100.4,1247.2 L2101.3,1240.6 L2101.0,1239.1 L2101.1,1236.6 L2101.1,1241.4 L2101.2,1229.8 L2102.3,1233.7 L2103.5,1229.8 L2104.5,1224.6 L2106.7,1223.8 L2105.6,1227.4 L2105.3,1224.3 L2106.1,1229.5 L2106.5,1230.0 L2106.9,1235.1 L2106.7,1238.9 L2106.8,1243.2 L2106.6,1243.9 L2107.2,1239.8 L2106.9,1246.8 L2107.9,1247.3 L2107.5,1251.8 L2107.1,1254.2 L2108.7,1260.5 L2107.7,1258.6 L2108.0,1257.7 L2110.0,1263.7 L2109.0,1266.8 L2108.8,1266.7 L2108.5,1272.6 L2108.9,1277.3 L2109.2,1279.0 L2110.0,1277.5 L2110.5,1282.6 L2111.5,1284.1 L2110.8,1289.9 L2109.4,1286.6 L2109.6,1295.2 L2111.7,1292.8 L2112.2,1289.7 L2114.1,1286.6 L2115.7,1282.7 L2117.3,1276.2 L2116.4,1279.9 L2116.1,1276.6 L2116.9,1273.0 L2115.6,1267.6 L2117.6,1264.3 L2117.8,1266.6 L2115.7,1262.6 L2116.9,1257.1 L2116.8,1258.0 L2118.6,1261.1 L2118.9,1251.1 L2117.2,1252.5 L2118.7,1247.4 L2117.6,1241.7 L2118.4,1246.1 L2119.6,1237.4 L2117.8,1237.0 L2119.4,1232.8 L2119.2,1234.6 L2118.2,1234.4 L2120.2,1227.5 L2119.7,1226.2 L2119.2,1224.2 L2119.8,1217.9 L2121.0,1216.6 L2122.0,1216.6 L2124.0,1214.7 L2124.5,1211.5 L2125.6,1211.4 L2126.1,1207.1 L2127.5,1197.4 L2129.2,1195.8 L2129.3,1196.3 L2130.6,1198.8 L2131.1,1202.4 L2130.5,1207.4 L2132.9,1205.4 L2133.0,1208.7 L2132.6,1211.3 L2132.5,1213.0 L2134.6,1219.8 L2135.1,1220.4 L2135.0,1225.0 L2137.1,1226.3 L2137.5,1228.5 L2136.9,1233.2 L2137.7,1233.1 L2137.9,1236.8 L2138.8,1229.9 L2139.7,1235.8 L2140.2,1230.2 L2141.0,1228.8 L2141.7,1223.2 L2141.2,1222.7 L2142.7,1217.6 L2142.9,1217.7 L2145.7,1218.3 L2145.9,1223.1 L2146.4,1219.3 L2146.7,1221.0 L2147.9,1215.9 L2149.0,1220.9 L2148.8,1212.5 L2148.2,1209.2 L2148.8,1201.4 L2149.8,1201.2 L2150.8,1199.4 L2150.2,1195.4 L2150.6,1194.7 L2151.5,1190.5 L2151.1,1187.2 L2151.2,1186.2 L2151.7,1182.8 L2152.5,1180.0 L2152.2,1178.8 L2152.5,1176.7 L2152.2,1173.8 L2152.3,1170.8 L2153.4,1170.6 L2153.7,1163.8 L2153.7,1164.3 L2153.6,1159.9 L2154.4,1155.7 L2153.6,1151.9 L2153.5,1153.5 L2153.9,1150.6 L2156.0,1145.1 L2155.6,1148.0 L2157.2,1142.4 L2160.3,1147.5 L2159.7,1150.6 L2160.1,1152.6 L2161.2,1151.5 L2161.7,1154.2 L2163.3,1162.7 L2164.5,1163.1 L2164.7,1167.5 L2165.0,1164.3 L2164.5,1159.7 L2164.9,1154.8 L2165.6,1148.5 L2166.2,1150.7 L2165.1,1147.7 L2166.3,1141.5 L2166.2,1145.4 L2166.6,1139.9 L2167.0,1137.3 L2166.6,1134.9 L2166.4,1133.1 L2167.6,1126.9 L2167.1,1128.1 L2167.9,1123.5 L2168.1,1123.1 L2169.2,1118.9 L2167.7,1115.3 L2168.5,1116.0 L2170.1,1118.3 L2169.4,1122.3 L2170.0,1119.5 L2170.6,1130.0 L2171.1,1125.7 L2171.9,1128.0 L2172.6,1134.2 L2171.5,1133.9 L2172.5,1135.4 L2173.3,1139.3 L2174.4,1143.2 L2174.2,1147.5 L2174.2,1149.7 L2173.8,1152.8 L2175.1,1155.5 L2174.4,1154.1 L2175.7,1157.9 L2176.8,1161.9 L2174.9,1164.8 L2176.0,1161.1 L2175.8,1163.0 L2178.0,1168.1 L2176.2,1172.7 L2176.5,1179.2 L2177.1,1175.3 L2178.0,1182.2 L2177.0,1186.2 L2177.3,1184.3 L2181.5,1183.6 L2183.1,1181.2 L2183.6,1175.4 L2184.2,1175.7 L2185.6,1173.8 L2185.3,1170.9 L2185.3,1170.3 L2186.1,1163.5 L2187.7,1163.2 L2189.1,1158.1 L2188.6,1163.4 L2188.4,1153.3 L2189.8,1158.6 L2189.2,1153.6 L2190.5,1149.3 L2191.0,1145.8 L2191.3,1143.4 L2191.3,1138.8 L2191.6,1143.8 L2191.4,1144.7 L2191.9,1152.5 L2192.6,1153.2 L2193.4,1155.7 L2193.8,1160.0 L2193.5,1158.8 L2193.4,1161.3 L2193.1,1160.2 L2194.1,1163.2 L2194.5,1173.3 L2194.4,1169.2 L2194.2,1175.5 L2194.7,1175.4 L2195.3,1176.2 L2194.9,1182.6 L2195.4,1185.7 L2195.8,1186.9 L2196.4,1192.4 L2196.6,1192.1 L2196.5,1194.8 L2197.3,1197.7 L2196.6,1201.1 L2198.1,1202.9 L2198.7,1207.2 L2198.2,1206.0 L2199.2,1206.2 L2200.7,1202.4 L2200.1,1203.6 L2200.5,1206.0 L2201.6,1198.1 L2200.9,1195.4 L2200.4,1195.1 L2201.2,1189.3 L2201.8,1188.3 L2201.6,1187.8 L2203.0,1185.7 L2202.6,1180.1 L2202.0,1181.5 L2204.3,1175.2 L2203.3,1171.9 L2205.3,1171.8 L2204.5,1170.0 L2205.4,1166.4 L2205.8,1166.2 L2207.0,1159.3 L2206.9,1159.3 L2207.7,1162.7 L2208.5,1156.1 L2208.6,1153.0 L2209.9,1152.1 L2209.3,1146.9 L2211.7,1147.2 L2212.9,1152.1 L2213.9,1155.8 L2214.8,1159.5 L2213.6,1161.3 L2214.2,1161.3 L2214.6,1162.3 L2214.7,1167.0 L2214.9,1169.0 L2216.1,1171.6 L2215.8,1175.8 L2216.3,1176.5 L2215.1,1182.3 L2216.7,1184.7 L2214.1,1189.8 L2217.4,1188.2 L2216.3,1191.9 L2216.1,1192.4 L2217.7,1199.0 L2217.4,1197.6 L2217.1,1200.3 L2217.7,1203.1 L2218.2,1201.5 L2219.0,1196.1 L2219.9,1196.4 L2219.9,1192.0 L2221.1,1191.0 L2221.0,1191.9 L2221.3,1181.4 L2221.7,1182.3 L2221.6,1183.7 L2223.6,1174.2 L2224.3,1175.8 L2225.0,1180.7 L2226.8,1179.2 L2226.6,1181.5 L2227.5,1187.7 L2228.8,1193.3 L2229.2,1191.9 L2230.7,1190.7 L2229.5,1188.1 L2229.6,1183.3 L2230.1,1179.2 L2231.7,1179.3 L2231.0,1177.0 L2231.0,1173.1 L2231.5,1171.4 L2230.9,1172.1 L2232.5,1168.3 L2232.1,1163.9 L2232.0,1163.8 L2232.2,1162.7 L2233.2,1157.5 L2232.7,1152.3 L2232.5,1150.1 L2232.7,1147.0 L2233.3,1147.3 L2233.2,1147.8 L2233.5,1141.2 L2233.7,1137.4 L2234.1,1134.0 L2233.8,1138.4 L2234.2,1128.5 L2233.5,1131.2 L2233.2,1129.9 L2235.2,1122.2 L2234.7,1119.6 L2234.2,1119.2 L2234.5,1117.1 L2235.2,1111.6 L2235.2,1110.6 L2235.3,1107.4 L2236.2,1103.6 L2235.7,1105.2 L2236.0,1099.2 L2235.3,1097.0 L2235.0,1094.0 L2236.2,1095.6 L2236.8,1092.4 L2236.9,1093.1 L2235.9,1093.8 L2237.0,1097.5 L2236.6,1096.7 L2237.7,1102.3 L2237.8,1105.1 L2237.9,1105.5 L2238.8,1111.8 L2238.5,1117.5 L2238.3,1118.0 L2239.0,1118.7 L2239.7,1121.3 L2239.4,1121.0 L2239.9,1127.5 L2239.7,1121.2 L2240.8,1121.9 L2241.2,1118.9 L2242.3,1113.7 L2241.5,1114.4 L2241.5,1111.1 L2242.0,1111.1 L2242.0,1104.2 L2242.8,1106.4 L2241.9,1102.2 L2243.7,1100.6 L2242.8,1097.3 L2243.7,1096.7 L2243.7,1101.1 L2244.0,1107.6 L2243.5,1104.7 L2244.5,1112.6 L2245.2,1111.7 L2245.5,1118.6 L2247.1,1118.1 L2245.8,1119.5 L2245.7,1124.9 L2246.9,1128.0 L2247.0,1126.2 L2246.5,1131.2 L2248.7,1128.2 L2247.8,1135.6 L2249.4,1142.9 L2250.1,1141.7 L2248.7,1141.7 L2250.2,1146.3 L2249.8,1148.7 L2250.7,1156.8 L2250.8,1155.5 L2251.5,1158.5 L2251.3,1162.8 L2252.8,1163.2 L2251.8,1162.1 L2252.6,1166.9 L2252.6,1169.5 L2252.5,1171.9 L2252.9,1175.6 L2252.6,1175.7 L2254.1,1176.6 L2254.4,1182.1 L2255.7,1186.8 L2255.0,1189.6 L2255.5,1192.2 L2255.6,1193.5 L2256.0,1197.6 L2257.5,1201.8 L2257.6,1200.2 L2258.0,1202.4 L2257.4,1198.5 L2258.3,1194.2 L2258.0,1197.0 L2257.8,1194.0 L2258.1,1189.5 L2259.3,1191.0 L2260.6,1182.9 L2258.8,1180.9 L2260.2,1179.8 L2259.6,1175.4 L2260.9,1175.0 L2262.2,1169.6 L2261.1,1177.9 L2260.8,1174.9 L2261.4,1175.2 L2262.5,1176.2 L2261.8,1180.2 L2262.2,1186.7 L2263.1,1183.7 L2263.2,1184.3 L2262.2,1188.7 L2262.4,1193.4 L2263.0,1193.5 L2263.3,1196.6 L2263.5,1201.4 L2262.7,1201.2 L2264.1,1205.7 L2263.8,1207.7 L2264.7,1212.1 L2263.5,1214.1 L2263.5,1215.2 L2264.0,1216.3 L2263.9,1223.8 L2264.0,1223.4 L2264.0,1229.4 L2264.3,1230.7 L2265.3,1232.7 L2264.8,1228.8 L2264.7,1235.9 L2264.5,1236.2 L2265.7,1241.4 L2266.3,1245.0 L2266.5,1247.1 L2265.9,1249.4 L2266.6,1253.7 L2266.6,1252.8 L2265.8,1258.8 L2267.1,1256.6 L2266.7,1259.2 L2266.8,1268.9 L2266.7,1265.5 L2267.0,1267.9 L2267.4,1267.7 L2267.8,1272.1 L2267.5,1282.2 L2268.3,1279.4 L2267.7,1282.6 L2268.4,1291.8 L2269.2,1289.8 L2267.7,1292.3 L2268.2,1291.8 L2268.2,1293.1 L2268.9,1296.9 L2269.2,1297.7 L2268.4,1300.4 L2268.8,1304.8 L2270.2,1306.7 L2269.1,1314.8 L2270.5,1313.5 L2270.1,1309.7 L2269.5,1316.3 L2269.9,1309.3 L2270.2,1315.7 L2271.0,1309.6 L2270.6,1306.4 L2269.2,1305.2 L2271.2,1298.0 L2272.1,1300.7 L2271.2,1299.8 L2270.5,1293.7 L2270.4,1293.7 L2271.7,1294.3 L2272.0,1285.5 L2270.6,1283.2 L2271.7,1281.3 L2271.7,1278.2 L2272.3,1275.0 L2271.9,1273.4 L2271.6,1266.1 L2272.6,1266.6 L2272.0,1266.1 L2273.0,1266.9 L2272.8,1261.4 L2273.2,1257.5 L2272.7,1251.9 L2272.5,1251.4 L2273.2,1250.2 L2272.8,1249.6 L2274.3,1243.5 L2273.8,1242.9 L2274.7,1244.2 L2274.9,1240.6 L2275.4,1238.1 L2275.0,1240.3 L2275.6,1242.0 L2275.9,1242.8 L2274.8,1246.6 L2276.0,1254.0 L2275.7,1249.3 L2275.0,1252.2 L2276.0,1255.9 L2276.6,1259.5 L2276.3,1267.8 L2276.5,1263.9 L2276.3,1265.5 L2277.4,1265.5 L2277.2,1270.3 L2277.6,1276.1 L2277.7,1279.4 L2277.7,1280.6 L2277.6,1278.4 L2277.7,1284.1 L2278.7,1291.7 L2278.8,1291.4 L2278.2,1296.4 L2278.4,1294.6 L2280.1,1299.6 L2280.3,1298.6 L2279.4,1299.6 L2279.6,1303.5 L2280.3,1308.8 L2278.6,1309.2 L2279.3,1312.8 L2280.5,1312.3 L2279.9,1319.3 L2279.6,1319.2 L2279.9,1325.2 L2280.9,1322.6 L2281.2,1331.6 L2280.5,1331.1 L2281.2,1334.5 L2282.3,1335.6 L2280.9,1338.4 L2281.2,1336.1 L2281.9,1343.7 L2281.2,1338.4 L2281.0,1338.3 L2282.3,1335.7 L2283.0,1332.2 L2282.0,1330.4 L2283.8,1330.9 L2283.2,1329.6 L2282.9,1321.3 L2283.4,1324.9 L2282.2,1318.2 L2284.2,1312.8 L2284.7,1307.7 L2284.8,1307.6 L2284.5,1308.0 L2285.1,1303.5 L2285.5,1300.5 L2286.4,1300.5 L2286.0,1305.5 L2287.0,1301.2 L2286.1,1304.4 L2286.4,1308.5 L2285.8,1311.7 L2286.9,1312.6 L2286.6,1316.8 L2286.3,1320.3 L2287.6,1321.5 L2286.8,1326.0 L2285.9,1326.9 L2287.2,1331.0 L2287.0,1330.3 L2286.8,1336.6 L2286.7,1340.0 L2287.5,1344.1 L2286.4,1342.8 L2286.5,1342.7 L2288.6,1349.6 L2287.8,1347.9 L2287.7,1354.1 L2288.6,1350.7 L2287.8,1355.3 L2289.2,1364.3 L2288.1,1362.4 L2289.0,1369.6 L2288.0,1370.4 L2288.5,1371.3 L2287.6,1378.2 L2288.5,1373.3 L2287.9,1381.9 L2288.9,1383.1 L2288.9,1380.1 L2288.8,1384.1 L2288.4,1388.9 L2288.7,1391.8 L2289.3,1392.4 L2288.8,1395.5 L2290.0,1401.2 L2290.2,1399.2 L2289.1,1404.3 L2289.7,1407.8 L2290.2,1400.3 L2290.4,1404.7 L2290.5,1398.4 L2290.8,1392.2 L2291.5,1394.3 L2291.9,1389.4 L2291.2,1385.6 L2291.8,1385.5 L2292.5,1380.7 L2292.0,1377.6 L2292.5,1379.8 L2293.5,1375.3 L2294.0,1373.6 L2293.3,1371.6 L2293.1,1365.7 L2294.3,1364.9 L2294.0,1361.5 L2294.1,1357.8 L2296.5,1358.5 L2295.6,1357.4 L2294.4,1353.8 L2295.0,1346.0 L2295.3,1347.1 L2296.5,1346.9 L2296.1,1344.7 L2295.1,1338.9 L2296.8,1342.5 L2295.7,1328.1 L2296.7,1330.8 L2297.3,1328.4 L2296.6,1325.3 L2297.5,1329.7 L2295.9,1318.4 L2297.7,1317.5 L2297.1,1314.9 L2297.8,1313.8 L2298.7,1310.0 L2298.9,1306.6 L2298.4,1306.6 L2298.7,1305.0 L2299.6,1299.3 L2300.5,1299.8 L2299.1,1292.8 L2299.6,1293.1 L2300.3,1296.4 L2300.6,1294.7 L2300.2,1300.6 L2301.3,1303.1 L2301.2,1303.6 L2302.0,1308.7 L2300.9,1310.5 L2301.8,1314.1 L2303.3,1313.5 L2303.2,1316.0 L2302.7,1318.8 L2303.0,1326.7 L2304.3,1328.8 L2303.5,1331.3 L2303.0,1331.5 L2303.7,1329.4 L2304.2,1334.0 L2305.4,1337.5 L2305.5,1336.5 L2305.5,1336.1 L2305.8,1329.9 L2304.4,1329.9 L2306.6,1329.9 L2305.4,1327.1 L2305.5,1322.4 L2306.3,1320.2 L2305.6,1317.2 L2306.5,1317.5 L2306.8,1313.0 L2305.5,1311.4 L2306.0,1304.9 L2306.2,1302.5 L2305.7,1301.9 L2306.0,1301.3 L2306.8,1293.7 L2307.0,1295.1 L2306.2,1293.5 L2306.7,1288.4 L2307.5,1281.4 L2306.9,1285.7 L2307.5,1284.9 L2307.8,1279.2 L2308.2,1276.1 L2308.1,1267.8 L2306.9,1274.0 L2308.5,1270.1 L2308.6,1262.2 L2308.5,1265.7 L2308.2,1269.4 L2309.5,1271.9 L2309.7,1278.2 L2309.6,1279.8 L2310.4,1281.9 L2310.4,1285.1 L2309.3,1290.9 L2310.8,1288.7 L2311.2,1289.1 L2311.0,1291.0 L2311.3,1298.9 L2310.9,1296.4 L2312.2,1299.8 L2313.7,1301.7 L2313.1,1306.4 L2313.0,1311.4 L2314.2,1314.6 L2313.7,1313.6 L2314.1,1318.4 L2313.8,1316.8 L2313.6,1317.9 L2314.6,1326.5 L2315.0,1325.8 L2314.2,1324.9 L2316.6,1325.0 L2315.0,1322.1 L2315.2,1316.1 L2315.4,1310.4 L2316.4,1309.9 L2315.7,1309.0 L2316.1,1304.0 L2315.5,1302.7 L2315.4,1298.7 L2316.5,1297.5 L2316.6,1295.0 L2316.6,1291.5 L2317.4,1289.1 L2316.9,1292.3 L2317.6,1283.8 L2316.5,1283.4 L2317.2,1283.3 L2316.9,1279.1 L2317.2,1273.7 L2318.2,1276.1 L2317.9,1270.8 L2317.4,1271.8 L2317.2,1267.7 L2317.5,1263.9 L2318.1,1258.9 L2318.3,1263.0 L2318.5,1263.3 L2319.9,1265.8 L2319.5,1267.5 L2319.1,1271.6 L2321.4,1275.9 L2321.0,1280.1 L2320.3,1278.4 L2321.2,1285.7 L2321.7,1283.1 L2321.9,1284.7 L2322.5,1287.9 L2322.1,1289.3 L2322.5,1294.9 L2323.9,1292.7 L2323.6,1289.9 L2324.1,1287.6 L2323.7,1285.3 L2325.1,1279.3 L2324.0,1282.6 L2325.4,1276.0 L2325.0,1274.8 L2326.8,1271.3 L2326.7,1275.7 L2327.3,1267.3 L2326.6,1267.9 L2328.2,1261.6 L2328.5,1261.1 L2329.1,1259.4 L2328.4,1256.4 L2328.4,1249.5 L2328.6,1248.3 L2329.6,1247.0 L2329.4,1242.3 L2329.7,1240.2 L2328.6,1240.5 L2329.8,1239.8 L2330.8,1233.8 L2329.2,1226.0 L2330.2,1225.4 L2331.2,1227.3 L2329.9,1218.8 L2331.6,1223.5 L2331.5,1221.9 L2331.4,1213.9 L2331.4,1213.2 L2331.0,1210.2 L2329.7,1205.2 L2331.3,1199.9 L2331.5,1201.3 L2332.9,1203.8 L2332.0,1197.4 L2330.3,1192.5 L2331.3,1195.1 L2330.3,1189.8 L2332.3,1189.1 L2331.0,1184.8 L2331.9,1185.2 L2331.4,1179.5 L2331.6,1174.7 L2331.4,1176.7 L2331.5,1171.2 L2331.3,1167.9 L2332.2,1168.1 L2332.1,1165.3 L2331.9,1163.9 L2331.4,1158.9 L2331.2,1160.3 L2332.4,1154.9 L2332.2,1153.9 L2332.4,1151.1 L2332.0,1146.9 L2332.6,1146.3 L2332.3,1144.8 L2331.6,1139.6 L2331.5,1139.7 L2332.5,1134.5 L2331.9,1131.6 L2330.7,1131.4 L2332.6,1128.2 L2331.8,1123.3 L2332.0,1121.6 L2331.9,1117.0 L2333.4,1115.1 L2332.5,1115.1 L2333.1,1114.6 L2332.2,1110.6 L2333.0,1107.4 L2331.3,1099.5 L2332.1,1105.7 L2333.1,1098.6 L2332.6,1097.0 L2332.6,1095.6 L2332.1,1090.2 L2332.5,1085.6 L2331.9,1084.2 L2331.9,1085.7 L2333.3,1082.3 L2332.1,1079.4 L2332.8,1072.7 L2333.5,1074.6 L2333.2,1065.8 L2332.3,1073.6 L2332.3,1070.0 L2333.2,1062.0 L2332.5,1058.7 L2332.7,1052.6 L2333.8,1062.0 L2333.1,1053.4 L2333.3,1050.2 L2334.0,1050.6 L2334.5,1044.8 L2336.5,1046.0 L2335.9,1035.5 L2341.4,1036.2 L2340.1,1040.9 L2340.8,1042.2 L2340.2,1044.9 L2339.7,1051.0 L2340.2,1051.6 L2340.1,1055.8 L2341.7,1054.7 L2340.6,1058.8 L2341.5,1060.2 L2341.3,1064.8 L2341.2,1065.4 L2340.3,1068.5 L2341.3,1071.5 L2341.2,1078.2 L2339.9,1074.4 L2340.5,1077.9 L2341.2,1079.4 L2340.4,1084.4 L2340.9,1087.5 L2341.0,1086.0 L2340.7,1093.6 L2341.2,1096.1 L2340.4,1096.0 L2340.1,1099.5 L2340.6,1104.4 L2341.0,1108.2 L2342.5,1108.6 L2341.5,1107.5 L2341.0,1107.2 L2340.7,1121.5 L2341.3,1121.6 L2340.6,1120.4 L2340.6,1122.7 L2340.6,1128.0 L2339.6,1123.9 L2340.4,1131.0 L2339.7,1135.8 L2341.5,1138.0 L2340.0,1139.7 L2340.3,1144.2 L2341.2,1145.2 L2341.6,1148.5 L2342.8,1146.1 L2341.4,1154.2 L2341.9,1148.1 L2342.2,1156.0 L2341.0,1164.1 L2341.6,1164.2 L2342.2,1166.4 L2342.6,1168.3 L2342.8,1170.1 L2341.6,1176.1 L2342.3,1177.1 L2341.5,1171.5 L2342.5,1181.0 L2343.5,1179.8 L2342.2,1186.1 L2343.5,1188.7 L2343.2,1192.6 L2344.3,1196.7 L2343.0,1191.8 L2342.3,1197.5 L2342.9,1201.1 L2343.5,1197.7 L2344.3,1207.5 L2343.4,1205.3 L2344.9,1211.8 L2344.0,1211.3 L2343.9,1220.1 L2344.0,1218.8 L2344.4,1221.0 L2344.1,1227.1 L2345.0,1228.5 L2344.5,1228.7 L2346.4,1231.6 L2345.1,1230.8 L2345.1,1238.2 L2345.4,1237.8 L2346.5,1246.0 L2345.9,1251.3 L2345.9,1246.2 L2345.3,1247.3 L2346.0,1253.2 L2345.8,1244.4 L2346.7,1243.2 L2345.4,1239.0 L2346.1,1236.7 L2345.8,1233.3 L2346.9,1229.0 L2347.3,1230.2 L2347.8,1223.8 L2346.6,1224.2 L2347.6,1220.2 L2346.6,1219.0 L2348.4,1214.2 L2348.2,1210.9 L2348.4,1208.0 L2348.7,1208.7 L2348.9,1205.3 L2347.5,1201.3 L2347.8,1201.8 L2348.2,1200.0 L2348.6,1194.9 L2348.5,1192.8 L2349.2,1194.2 L2348.7,1188.5 L2349.7,1189.3 L2348.7,1180.4 L2349.0,1183.8 L2349.2,1180.6 L2349.5,1177.1 L2349.9,1172.8 L2349.4,1175.8 L2351.3,1175.7 L2350.4,1180.2 L2349.2,1183.0 L2350.6,1182.8 L2349.5,1190.2 L2349.5,1193.8 L2351.0,1191.8 L2350.6,1198.9 L2351.1,1193.6 L2349.8,1201.3 L2351.4,1207.5 L2351.0,1205.9 L2350.4,1210.5 L2351.0,1216.1 L2352.2,1215.8 L2350.7,1216.2 L2351.9,1219.6 L2351.7,1220.0 L2350.0,1225.8 L2352.6,1225.5 L2351.7,1224.5 L2352.6,1237.6 L2352.6,1231.6 L2351.9,1237.1 L2352.2,1237.8 L2352.3,1242.2 L2351.4,1241.9 L2353.2,1247.5 L2352.6,1254.5 L2352.0,1255.0 L2353.2,1252.8 L2352.5,1257.9 L2351.7,1255.4 L2352.4,1265.4 L2352.7,1268.6 L2351.9,1266.5 L2353.2,1272.6 L2353.8,1275.0 L2354.2,1275.3 L2355.1,1279.5 L2354.1,1282.2 L2355.3,1283.1 L2355.7,1284.5 L2355.5,1283.8 L2355.8,1293.8 L2354.9,1291.9 L2357.2,1297.0 L2356.3,1297.9 L2357.8,1303.2 L2358.1,1301.5 L2358.4,1300.9 L2357.5,1298.2 L2358.4,1295.4 L2358.1,1293.0 L2358.5,1292.4 L2357.8,1286.9 L2358.9,1284.5 L2358.1,1280.0 L2357.9,1278.2 L2358.8,1279.7 L2359.0,1276.0 L2359.3,1272.9 L2358.3,1270.8 L2359.2,1273.3 L2359.2,1270.8 L2359.2,1259.8 L2359.2,1260.0 L2359.4,1257.3 L2361.0,1256.4 L2359.5,1253.0 L2359.7,1253.3 L2359.8,1250.4 L2359.3,1246.2 L2359.9,1243.6 L2359.3,1239.1 L2359.2,1239.2 L2361.0,1235.5 L2359.5,1232.3 L2361.0,1226.6 L2360.3,1228.4 L2360.3,1226.3 L2360.9,1224.0 L2361.2,1223.2 L2359.8,1215.5 L2360.7,1215.8 L2361.1,1210.3 L2360.3,1214.9 L2361.2,1209.0 L2362.2,1201.0 L2361.4,1202.6 L2361.3,1209.1 L2361.3,1204.7 L2360.7,1207.5 L2362.1,1211.8 L2360.8,1215.4 L2360.7,1219.5 L2361.6,1221.5 L2362.3,1222.5 L2362.2,1221.9 L2362.3,1233.0 L2361.3,1233.0 L2361.2,1233.9 L2362.1,1234.9 L2361.2,1238.5 L2361.9,1242.2 L2362.0,1239.6 L2362.6,1247.5 L2361.1,1248.5 L2362.7,1256.6 L2362.0,1252.7 L2362.9,1256.4 L2362.2,1255.2 L2361.6,1262.6 L2363.4,1265.1 L2362.2,1265.8 L2361.7,1266.4 L2362.9,1276.3 L2362.3,1272.3 L2361.6,1275.8 L2363.2,1275.4 L2362.4,1285.0 L2363.6,1282.8 L2362.8,1288.3 L2362.8,1289.4 L2362.9,1292.6 L2362.7,1294.2 L2362.6,1302.9 L2362.9,1302.5 L2362.4,1305.9 L2363.6,1305.2 L2364.5,1309.4 L2364.2,1307.8 L2361.7,1314.3 L2363.2,1313.5 L2362.6,1318.9 L2363.7,1322.9 L2363.2,1321.7 L2362.5,1322.9 L2364.2,1324.5 L2363.3,1329.1 L2363.0,1329.7 L2363.2,1336.6 L2363.3,1338.7 L2363.1,1338.0 L2364.1,1342.7 L2363.8,1341.8 L2364.9,1336.7 L2364.7,1335.0 L2365.9,1329.8 L2365.0,1330.4 L2364.3,1324.4 L2366.4,1328.3 L2367.5,1322.4 L2367.2,1320.7 L2366.8,1318.7 L2367.6,1318.8 L2367.8,1309.7 L2368.3,1309.1 L2368.4,1309.0 L2367.4,1301.4 L2368.8,1305.0 L2368.4,1300.3 L2369.2,1296.5 L2369.0,1294.1 L2369.9,1292.8 L2368.8,1290.9 L2369.1,1287.0 L2369.0,1284.6 L2370.3,1284.4 L2370.4,1278.0 L2370.2,1277.5 L2370.2,1274.3 L2369.6,1277.1 L2370.2,1270.3 L2370.9,1264.7 L2370.6,1265.8 L2371.1,1263.6 L2370.7,1259.6 L2371.5,1262.6 L2372.6,1264.1 L2374.1,1270.8 L2374.6,1271.5 L2374.9,1272.4 L2376.0,1277.4 L2377.6,1269.4 L2377.5,1274.8 L2377.4,1268.1 L2377.7,1262.9 L2376.7,1264.3 L2377.4,1263.2 L2377.5,1254.5 L2378.2,1257.9 L2377.6,1254.2 L2378.8,1252.5 L2379.5,1249.6 L2378.9,1243.3 L2379.9,1243.3 L2380.3,1244.5 L2379.7,1237.7 L2381.0,1237.0 L2380.2,1233.6 L2381.3,1234.5 L2381.4,1227.4 L2383.2,1228.6 L2383.5,1222.8 L2383.4,1215.2 L2384.6,1224.8 L2384.4,1223.5 L2383.5,1228.3 L2384.5,1234.8 L2386.4,1231.1 L2384.7,1239.0 L2386.0,1241.5 L2385.5,1240.9 L2385.5,1241.4 L2385.6,1245.4 L2386.9,1253.3 L2386.6,1248.7 L2386.5,1253.8 L2387.5,1255.2 L2387.2,1260.1 L2387.7,1261.4 L2388.4,1266.2 L2387.5,1267.4 L2387.5,1273.2 L2388.5,1272.5 L2390.0,1271.6 L2389.2,1271.7 L2389.6,1266.2 L2388.7,1260.2 L2390.1,1259.5 L2389.8,1260.2 L2390.7,1258.0 L2390.5,1249.4 L2390.9,1251.3 L2390.6,1246.3 L2392.3,1249.6 L2392.9,1245.7 L2393.6,1256.9 L2393.4,1257.9 L2394.6,1259.8 L2397.2,1261.6 L2395.1,1262.9 L2396.1,1267.5 L2397.3,1268.6 L2399.2,1273.5 L2398.4,1273.9 L2399.1,1275.2 L2399.5,1278.5 L2400.3,1280.4 L2399.3,1283.8 L2400.9,1288.3 L2400.2,1289.5 L2400.1,1290.3 L2401.0,1293.1 L2400.5,1296.4 L2401.3,1301.1 L2401.2,1302.8 L2401.9,1309.0 L2401.9,1301.8 L2402.3,1307.2 L2402.5,1312.6 L2401.8,1309.0 L2403.0,1315.2 L2403.5,1316.2 L2402.5,1313.4 L2403.7,1318.0 L2404.0,1308.7 L2404.6,1305.5 L2404.6,1310.1 L2404.9,1300.2 L2405.3,1301.9 L2404.7,1299.6 L2406.0,1290.1 L2406.6,1290.5 L2406.2,1298.5 L2407.0,1296.8 L2407.2,1305.8 L2407.8,1302.1 L2408.1,1305.3 L2406.5,1306.1 L2406.2,1309.6 L2407.4,1318.0 L2407.5,1313.8 L2408.0,1319.0 L2408.6,1318.7 L2408.5,1321.4 L2408.0,1328.9 L2408.1,1330.3 L2408.3,1334.0 L2408.9,1335.4 L2409.8,1333.9 L2409.4,1339.9 L2408.5,1341.8 L2409.5,1341.7 L2409.1,1350.2 L2409.4,1346.3 L2411.5,1356.5 L2410.2,1355.9 L2410.8,1358.5 L2411.9,1365.6 L2412.5,1367.7 L2412.6,1363.6 L2413.1,1367.5 L2411.5,1368.9 L2412.8,1367.5 L2412.5,1359.3 L2414.5,1356.1 L2413.7,1359.1 L2413.2,1355.2 L2414.1,1348.4 L2414.1,1349.1 L2415.3,1351.1 L2414.6,1341.4 L2414.7,1340.8 L2414.0,1334.3 L2414.3,1334.8 L2414.9,1334.3 L2414.9,1329.8 L2416.0,1324.4 L2414.3,1328.4 L2416.2,1320.4 L2416.5,1320.6 L2415.4,1321.4 L2415.1,1312.9 L2416.2,1314.1 L2416.4,1312.0 L2416.9,1311.6 L2419.6,1313.9 L2419.7,1315.7 L2421.3,1319.1 L2420.3,1318.0 L2423.1,1328.3 L2422.5,1330.0 L2422.6,1331.9 L2424.0,1331.9 L2423.7,1336.5 L2425.0,1337.2 L2425.2,1341.0 L2424.8,1346.5 L2426.5,1343.4 L2425.9,1343.0 L2425.4,1341.6 L2426.3,1337.3 L2425.7,1338.1 L2427.4,1333.8 L2425.8,1332.7 L2428.2,1328.4 L2426.5,1322.9 L2427.7,1322.5 L2427.8,1320.9 L2428.6,1322.2 L2428.7,1315.3 L2428.3,1309.4 L2429.8,1309.9 L2429.0,1304.8 L2429.6,1305.4 L2429.1,1304.2 L2431.4,1305.0 L2430.2,1309.7 L2430.3,1310.1 L2432.0,1312.8 L2431.5,1313.8 L2431.0,1317.9 L2432.1,1318.3 L2432.2,1324.7 L2433.0,1330.6 L2432.6,1321.0 L2433.6,1320.5 L2433.9,1317.0 L2432.6,1320.9 L2433.6,1315.4 L2435.0,1310.3 L2433.4,1309.5 L2434.9,1307.7 L2433.7,1303.1 L2436.2,1298.3 L2435.9,1295.2 L2434.9,1293.3 L2436.2,1296.3 L2436.0,1289.3 L2436.2,1290.1 L2437.0,1283.3 L2436.2,1285.4 L2436.4,1278.9 L2436.5,1284.2 L2437.4,1279.2 L2437.4,1278.7 L2437.2,1280.9 L2437.5,1283.4 L2437.2,1285.5 L2438.3,1286.7 L2439.3,1295.6 L2438.2,1291.3 L2437.6,1296.8 L2438.8,1298.9 L2438.5,1302.5 L2439.1,1304.9 L2439.8,1308.8 L2439.9,1311.2 L2440.2,1308.9 L2441.3,1314.7 L2442.0,1317.2 L2441.2,1324.6 L2441.2,1319.2 L2442.3,1321.5 L2442.4,1322.9 L2443.8,1331.3 L2443.6,1330.6 L2442.9,1338.1 L2444.6,1336.4 L2443.9,1339.7 L2444.6,1341.4 L2444.5,1348.0 L2445.9,1352.1 L2446.4,1349.5 L2447.6,1346.0 L2448.7,1346.3 L2450.0,1341.7 L2450.1,1342.3 L2451.1,1334.9 L2453.5,1337.6 L2455.1,1343.7 L2455.7,1342.9 L2456.8,1345.3 L2457.0,1351.6 L2457.7,1351.3 L2458.1,1352.1 L2458.8,1358.4 L2458.5,1360.0 L2460.5,1363.4 L2460.9,1364.3 L2460.2,1365.4 L2460.9,1374.9 L2461.4,1369.8 L2462.7,1377.1 L2462.7,1378.2 L2462.6,1376.6 L2463.4,1381.1 L2463.1,1390.9 L2464.4,1385.0 L2465.0,1390.7 L2465.7,1395.7 L2466.2,1398.6 L2466.8,1397.4 L2467.5,1399.9 L2467.4,1398.0 L2467.5,1403.3 L2468.7,1406.7 L2469.7,1412.1 L2468.7,1410.4 L2470.1,1412.7 L2470.0,1415.5 L2469.1,1418.1 L2469.7,1418.8 L2469.9,1423.4 L2470.7,1424.5 L2470.4,1428.7 L2469.8,1434.4 L2470.7,1433.0 L2469.6,1434.4 L2470.0,1443.0 L2470.0,1443.5 L2469.8,1445.7 L2471.4,1450.1 L2470.5,1452.4 L2470.3,1449.4 L2470.5,1451.9 L2471.3,1461.1 L2471.1,1462.4 L2471.0,1462.8 L2471.6,1464.0 L2470.6,1470.9 L2471.8,1476.3 L2472.6,1470.5 L2473.7,1473.9 L2473.3,1481.9 L2475.0,1485.2 L2476.1,1487.6 L2476.1,1485.8 L2476.0,1487.2 L2478.1,1480.4 L2477.7,1479.5 L2480.2,1479.0 L2479.6,1470.0 L2480.6,1469.5 L2480.4,1471.7 L2481.2,1468.3 L2480.6,1462.7 L2482.0,1461.8 L2482.3,1460.3 L2482.0,1454.1 L2481.5,1449.8 L2481.8,1448.7 L2482.3,1453.3 L2482.4,1443.7 L2482.6,1444.7 L2482.3,1440.3 L2483.4,1434.9 L2482.6,1437.1 L2483.1,1433.9 L2483.0,1434.9 L2482.9,1426.9 L2483.6,1423.3 L2484.2,1423.1 L2483.4,1415.1 L2484.4,1420.6 L2484.0,1417.6 L2484.6,1411.7 L2483.1,1411.8 L2483.0,1406.5 L2482.8,1401.9 L2484.1,1399.5 L2484.2,1395.6 L2484.2,1400.7 L2484.0,1393.7 L2483.8,1390.6 L2483.4,1388.8 L2484.2,1381.7 L2485.3,1388.6 L2484.9,1381.5 L2483.8,1381.5 L2484.8,1382.4 L2486.2,1375.9 L2486.0,1371.3 L2484.6,1369.0 L2485.0,1368.0 L2485.4,1361.6 L2485.5,1361.0 L2487.3,1358.7 L2485.7,1360.6 L2484.9,1352.8 L2486.4,1355.9 L2485.3,1349.5 L2486.1,1345.9 L2485.5,1348.6 L2487.1,1353.6 L2486.6,1353.5 L2487.3,1354.5 L2486.7,1359.5 L2488.3,1365.2 L2488.3,1363.9 L2488.3,1362.8 L2488.2,1363.7 L2488.4,1367.1 L2489.3,1379.6 L2489.1,1374.0 L2489.6,1377.0 L2490.1,1377.8 L2490.7,1387.8 L2490.1,1383.6 L2490.6,1386.1 L2490.8,1390.9 L2491.8,1395.6 L2490.5,1396.3 L2491.1,1397.2 L2492.3,1391.1 L2492.0,1386.3 L2491.4,1386.9 L2492.7,1381.9 L2493.6,1382.5 L2493.9,1374.8 L2492.9,1377.5 L2493.8,1374.7 L2493.1,1370.6 L2493.0,1370.5 L2493.5,1366.8 L2494.9,1367.9 L2495.3,1361.8 L2493.5,1358.5 L2494.4,1358.9 L2494.2,1353.5 L2494.1,1350.5 L2495.5,1348.4 L2496.2,1345.9 L2496.8,1344.6 L2496.0,1338.5 L2497.4,1340.7 L2496.7,1332.7 L2496.7,1332.7 L2497.7,1331.9 L2498.1,1331.0 L2497.4,1323.9 L2497.8,1326.9 L2498.5,1334.5 L2498.6,1331.9 L2499.3,1341.2 L2499.4,1341.4 L2498.3,1343.3 L2499.3,1343.1 L2499.7,1341.6 L2500.2,1342.9 L2499.5,1350.8 L2499.5,1355.3 L2499.6,1359.6 L2498.9,1362.3 L2501.0,1360.8 L2499.1,1363.8 L2500.6,1367.4 L2501.1,1367.5 L2501.3,1369.2 L2500.3,1373.9 L2501.0,1371.2 L2500.8,1379.4 L2502.5,1383.4 L2504.8,1382.7 L2505.6,1386.4 L2509.1,1392.2 L2508.5,1388.7 L2509.3,1400.3 L2510.4,1397.7 L2512.9,1400.9 L2512.6,1399.3 L2514.6,1406.7 L2515.0,1407.4 L2516.9,1410.3 L2517.9,1414.5 L2518.3,1418.9 L2518.8,1419.0 L2519.4,1422.4 L2520.0,1418.6 L2521.4,1428.9 L2523.1,1431.0 L2523.7,1425.4 L2523.8,1432.4 L2523.8,1436.3 L2525.0,1436.1 L2524.7,1436.6 L2526.9,1445.3 L2525.8,1445.3 L2526.3,1447.2 L2526.4,1448.9 L2526.7,1450.0 L2526.6,1458.9 L2527.9,1460.2 L2528.6,1458.8 L2527.6,1463.5 L2528.1,1463.7 L2527.7,1469.6 L2528.8,1466.6 L2528.2,1472.3 L2528.7,1470.9 L2529.5,1474.8 L2529.6,1477.4 L2530.0,1485.2 L2530.0,1485.4 L2530.3,1487.4 L2531.2,1487.9 L2529.2,1497.0 L2530.9,1493.0 L2529.8,1500.2 L2529.7,1496.5 L2530.7,1501.2 L2530.2,1504.3 L2530.6,1506.0 L2530.4,1509.7 L2529.9,1514.3 L2529.8,1515.5 L2531.8,1517.4 L2530.5,1520.9 L2531.0,1527.2 L2530.6,1522.3 L2530.9,1526.1 L2530.3,1530.7 L2530.7,1535.3 L2531.7,1537.7 L2530.7,1535.4 L2531.5,1535.7 L2530.9,1540.8 L2531.0,1547.2 L2531.7,1547.6 L2531.9,1552.4 L2532.0,1556.4 L2532.6,1554.7 L2531.1,1557.2 L2531.3,1562.6 L2531.8,1560.9 L2532.1,1567.2 L2532.8,1568.7 L2532.0,1569.2 L2531.6,1571.9 L2532.6,1571.7 L2532.7,1562.5 L2532.6,1568.8 L2532.3,1564.3 L2532.8,1563.2 L2533.6,1559.6 L2533.9,1558.0 L2533.1,1550.7 L2533.6,1553.7 L2532.9,1550.2 L2534.1,1546.4 L2534.0,1543.6 L2535.1,1536.6 L2535.5,1536.8 L2535.1,1531.5 L2535.5,1533.1 L2536.6,1526.4 L2535.5,1528.1 L2536.1,1529.5 L2535.4,1525.4 L2536.1,1517.9 L2537.2,1523.2 L2537.4,1526.7 L2537.2,1527.5 L2538.2,1529.7 L2539.4,1532.0 L2540.2,1532.3 L2540.6,1537.1 L2542.7,1541.0 L2540.9,1537.7 L2543.2,1536.3 L2541.6,1537.0 L2543.3,1531.3 L2544.1,1523.0 L2543.9,1524.2 L2544.3,1517.6 L2545.2,1517.0 L2545.3,1520.0 L2545.5,1515.3 L2545.0,1510.8 L2546.4,1509.2 L2546.7,1510.0 L2546.5,1513.0 L2545.7,1518.0 L2546.7,1520.8 L2546.7,1526.3 L2548.8,1528.9 L2546.5,1527.6 L2548.3,1532.7 L2547.0,1532.0 L2547.7,1534.3 L2548.0,1543.3 L2548.7,1546.2 L2548.9,1536.5 L2548.6,1542.7 L2548.7,1552.8 L2548.9,1545.1 L2548.7,1552.7 L2549.4,1552.9 L2548.9,1558.5 L2549.2,1562.3 L2550.0,1564.4 L2550.4,1567.2 L2551.5,1566.2 L2550.8,1558.9 L2551.2,1557.8 L2552.8,1555.8 L2552.6,1555.1 L2553.2,1553.4 L2553.5,1547.2 L2554.3,1549.0 L2554.5,1543.8 L2555.8,1550.0 L2556.6,1553.2 L2557.9,1557.0 L2557.3,1558.0 L2559.1,1559.5 L2559.0,1567.7 L2559.8,1568.3 L2559.4,1568.8 L2561.4,1572.6 L2560.1,1576.2 L2561.5,1571.1 L2561.3,1565.8 L2561.7,1569.1 L2561.1,1565.6 L2559.7,1560.3 L2560.3,1560.0 L2559.4,1556.0 L2560.7,1551.0 L2561.6,1557.1 L2560.9,1556.0 L2562.8,1559.5 L2562.1,1563.0 L2563.8,1568.8 L2563.5,1563.3 L2565.2,1570.9 L2564.8,1573.4 L2564.7,1579.8 L2566.6,1583.7 L2566.2,1579.0 L2566.8,1587.1 L2568.0,1587.0 L2568.5,1586.2 L2569.3,1592.6 L2570.1,1593.4 L2571.1,1595.7 L2571.7,1597.0 L2571.2,1593.9 L2571.8,1596.5 L2571.9,1588.9 L2574.8,1588.5 L2574.3,1584.7 L2573.8,1583.8 L2574.1,1583.1 L2574.8,1582.1 L2575.0,1577.5 L2575.0,1577.1 L2575.2,1568.1 L2575.9,1567.4 L2575.7,1562.1 L2576.6,1569.5 L2578.6,1570.0 L2577.6,1574.7 L2579.2,1580.5 L2579.6,1578.1 L2580.2,1576.8 L2580.4,1589.2 L2581.2,1593.5 L2580.9,1590.8 L2581.6,1595.2 L2583.6,1595.5 L2584.5,1599.1 L2585.5,1597.2 L2586.7,1605.3 L2586.5,1601.7 L2587.7,1612.4 L2587.2,1613.6 L2586.7,1616.8 L2587.6,1619.2 L2587.4,1619.6 L2587.9,1616.7 L2587.6,1625.4 L2588.4,1628.6 L2589.3,1631.3 L2589.1,1630.3 L2589.4,1635.6 L2589.3,1638.5 L2590.0,1639.9 L2592.5,1639.7 L2592.2,1632.0 L2596.2,1636.2 L2596.7,1627.5 L2596.4,1633.2 L2598.0,1633.9 L2598.0,1639.1 L2597.5,1642.8 L2597.1,1642.6 L2598.3,1650.0 L2598.7,1645.2 L2598.9,1646.4 L2599.9,1650.5 L2600.3,1656.8 L2600.7,1654.1 L2601.4,1653.5 L2601.0,1649.9 L2601.3,1645.3 L2602.1,1646.6 L2603.6,1639.7 L2603.7,1635.7 L2604.8,1633.5 L2605.3,1636.3 L2604.3,1640.2 L2606.5,1641.8 L2606.0,1637.0 L2606.8,1642.9 L2607.6,1643.4 L2609.4,1650.7 L2608.7,1652.4 L2607.8,1656.3 L2609.1,1653.0 L2609.4,1659.1 L2611.2,1666.2 L2610.3,1667.0 L2611.3,1669.2 L2611.7,1668.3 L2611.3,1673.5 L2612.0,1672.8 L2613.3,1682.7 L2614.3,1678.3 L2614.8,1677.8 L2614.6,1685.3 L2614.4,1688.0 L2614.3,1687.5 L2614.6,1684.2 L2615.4,1682.9 L2616.7,1677.6 L2617.4,1679.1 L2617.4,1675.8 L2618.8,1670.0 L2618.9,1670.8 L2619.7,1670.2 L2621.2,1665.9 L2621.0,1665.5 L2620.3,1669.2 L2620.4,1675.5 L2622.0,1674.1 L2622.8,1682.3 L2622.8,1681.6 L2624.7,1688.0 L2624.9,1685.7 L2625.2,1688.9 L2625.0,1688.6 L2626.2,1689.8 L2625.9,1693.9 L2627.5,1691.5 L2627.0,1688.8 L2627.7,1690.6 L2629.4,1688.8 L2628.5,1680.5 L2629.5,1674.6 L2630.1,1678.1 L2628.9,1677.2 L2630.1,1674.1 L2630.0,1665.9 L2631.2,1668.6 L2630.5,1665.4 L2632.2,1662.6 L2630.5,1658.4 L2633.9,1659.9 L2634.6,1655.4 L2636.2,1653.5 L2638.4,1651.6 L2640.0,1647.0 L2641.6,1646.0 L2643.7,1637.2 L2644.7,1642.1 L2644.8,1643.4 L2646.0,1646.2 L2646.4,1646.2 L2647.3,1646.7 L2647.5,1650.3 L2647.2,1657.1 L2647.5,1657.3 L2648.3,1657.5 L2648.6,1656.8 L2648.6,1664.0 L2649.8,1666.5 L2649.0,1669.1 L2651.2,1672.4 L2650.8,1674.6 L2651.4,1669.9 L2652.3,1669.7 L2652.6,1669.1 L2654.1,1667.9 L2654.9,1663.7 L2655.0,1660.2 L2656.5,1655.6 L2656.1,1656.4 L2657.0,1653.7 L2657.7,1646.3 L2656.1,1646.0 L2657.1,1640.4 L2657.3,1639.6 L2657.1,1638.1 L2657.4,1635.5 L2658.6,1634.8 L2658.3,1633.6 L2658.2,1628.1 L2658.3,1621.0 L2658.5,1619.4 L2659.5,1620.7 L2658.3,1619.7 L2658.9,1612.5 L2659.7,1613.8 L2659.6,1612.7 L2658.5,1604.3 L2659.3,1604.6 L2659.0,1600.3 L2660.1,1605.0 L2660.3,1593.0" fill="none" stroke="#BBBDC0" stroke-width="8.5" stroke-linejoin="round" stroke-linecap="round"/>
<path d="M2661.6,1573.2 L2662.4,1571.6 L2662.2,1566.5 L2661.5,1563.0 L2663.5,1565.2 L2661.9,1560.1 L2662.0,1556.0 L2663.0,1559.6 L2662.1,1556.3 L2663.8,1546.5 L2662.9,1550.4 L2664.8,1546.7 L2664.0,1543.5 L2663.6,1538.0 L2663.6,1536.3 L2664.1,1534.6 L2664.2,1534.6 L2664.0,1531.3 L2665.0,1529.4 L2664.9,1528.3 L2664.8,1525.8 L2664.5,1520.4 L2665.3,1515.8 L2665.4,1513.5 L2665.5,1512.0 L2664.5,1508.6 L2665.8,1503.6 L2665.7,1504.9 L2666.0,1501.1 L2665.0,1497.0 L2665.2,1498.4 L2666.3,1494.5 L2665.4,1493.5 L2665.0,1491.3 L2665.6,1486.0 L2665.2,1485.5 L2666.3,1483.8 L2665.7,1483.5 L2664.6,1475.8 L2666.3,1474.7 L2665.7,1470.9 L2665.9,1469.3 L2666.4,1463.2 L2666.9,1458.6 L2666.1,1461.6 L2665.2,1454.7 L2667.5,1457.6 L2665.9,1452.4 L2666.8,1457.1 L2666.9,1454.2 L2667.3,1453.6 L2667.3,1457.1 L2667.4,1459.9 L2667.4,1460.1 L2668.2,1466.6 L2669.3,1472.9 L2668.4,1469.9 L2669.0,1473.8 L2668.8,1473.7 L2671.1,1477.4 L2668.6,1478.4 L2670.1,1482.5 L2669.5,1483.2 L2671.7,1484.2 L2671.3,1490.3 L2671.6,1493.0 L2671.7,1494.4 L2671.1,1500.2 L2671.0,1495.8 L2672.1,1498.0 L2671.6,1496.0 L2672.0,1490.0 L2672.0,1492.0 L2671.7,1493.5 L2672.3,1482.1 L2673.3,1482.8 L2672.9,1484.3 L2672.9,1477.3 L2674.1,1475.2 L2672.7,1472.1 L2673.6,1473.2 L2673.0,1465.8 L2673.7,1466.3 L2673.5,1461.4 L2672.9,1461.9 L2673.8,1453.6 L2674.6,1455.1 L2673.5,1454.4 L2675.0,1451.6 L2676.0,1446.4 L2674.0,1445.9 L2675.0,1445.1 L2674.8,1437.4 L2674.7,1440.5 L2675.6,1434.6 L2676.6,1430.1 L2676.7,1425.7 L2676.7,1425.6 L2677.5,1426.4 L2677.4,1421.8 L2676.7,1417.7 L2678.4,1422.4 L2679.5,1418.1 L2678.8,1409.0 L2678.5,1407.8 L2678.8,1408.9 L2679.7,1399.2 L2679.4,1410.1 L2680.7,1409.4 L2679.8,1409.0 L2681.3,1415.8 L2680.9,1412.7 L2681.1,1422.7 L2680.5,1416.5 L2680.3,1423.1 L2680.3,1426.9 L2681.1,1429.9 L2681.1,1431.4 L2681.9,1437.9 L2682.8,1436.8 L2681.3,1433.9 L2681.7,1438.2 L2682.2,1445.0 L2682.9,1442.6 L2682.8,1455.0 L2682.0,1447.6 L2682.7,1451.6 L2682.4,1457.5 L2683.4,1461.7 L2682.3,1464.8 L2683.1,1465.1 L2684.0,1467.2 L2684.7,1468.3 L2683.1,1468.0 L2684.8,1474.8 L2683.5,1475.6 L2685.3,1479.9 L2685.6,1482.8 L2686.3,1484.7 L2687.5,1488.0 L2686.6,1488.2 L2688.6,1491.9 L2688.2,1490.1 L2687.1,1497.1 L2688.5,1489.2 L2688.9,1492.3 L2688.5,1489.2 L2690.3,1484.4 L2690.0,1484.0 L2691.0,1486.2 L2691.6,1478.3 L2691.7,1474.4 L2692.0,1470.4 L2691.3,1471.7 L2692.5,1468.3 L2693.3,1466.7 L2692.8,1462.5 L2693.0,1460.2 L2693.3,1455.9 L2693.9,1453.7 L2695.5,1450.1 L2695.2,1444.5 L2695.5,1446.9 L2695.5,1442.4 L2696.7,1438.1 L2696.8,1438.4 L2697.8,1437.0 L2697.7,1436.6 L2700.0,1431.8 L2700.5,1427.6 L2703.3,1430.3 L2703.2,1422.0 L2704.3,1425.7 L2704.6,1433.5 L2704.4,1432.5 L2703.6,1433.0 L2705.7,1440.0 L2706.1,1439.1 L2707.1,1443.2 L2707.2,1440.7 L2708.4,1449.2 L2708.3,1448.5 L2708.0,1452.2 L2709.1,1453.9 L2709.8,1454.4 L2711.1,1459.5 L2711.4,1463.7 L2711.6,1462.7 L2711.7,1466.4 L2713.7,1472.9 L2714.5,1469.9 L2714.7,1463.7 L2714.8,1461.7 L2715.6,1457.3 L2716.5,1459.5 L2716.6,1450.5 L2717.4,1456.1 L2717.6,1452.3 L2718.6,1447.3 L2719.9,1445.2 L2721.1,1441.6 L2720.9,1435.4 L2721.1,1445.2 L2722.4,1448.7 L2722.1,1445.8 L2723.1,1449.1 L2722.7,1455.2 L2723.7,1454.2 L2724.1,1458.3 L2724.4,1460.4 L2725.7,1461.1 L2725.5,1464.7 L2725.4,1468.8 L2725.5,1472.6 L2727.3,1467.3 L2726.3,1479.5 L2727.9,1473.5 L2727.7,1485.2 L2728.8,1484.7 L2728.8,1485.0 L2728.3,1491.3 L2728.7,1494.2 L2729.8,1494.4 L2730.3,1496.9 L2729.9,1498.3 L2730.0,1505.6 L2730.9,1498.4 L2731.9,1505.5 L2732.9,1506.7 L2733.6,1499.7 L2734.3,1499.2 L2735.7,1494.0 L2735.6,1494.5 L2737.9,1496.8 L2737.5,1503.3 L2739.8,1503.1 L2739.4,1503.8 L2741.4,1502.2 L2740.6,1515.5 L2741.5,1511.0 L2742.8,1516.4 L2744.9,1519.1 L2744.2,1521.7 L2744.5,1524.8 L2747.0,1531.0 L2746.2,1524.0 L2746.3,1524.3 L2746.9,1518.3 L2747.8,1519.3 L2747.5,1512.7 L2747.8,1513.3 L2747.8,1509.4 L2748.9,1508.9 L2749.3,1505.0 L2749.7,1499.2 L2750.9,1502.4 L2750.2,1497.9 L2749.7,1490.0 L2750.6,1491.9 L2751.1,1486.8 L2751.6,1482.1 L2752.3,1484.1 L2752.4,1477.4 L2752.1,1484.0 L2752.0,1479.4 L2752.2,1474.0 L2752.4,1471.4 L2752.5,1477.1 L2752.6,1469.2 L2753.3,1466.8 L2753.5,1461.2 L2753.6,1456.7 L2754.2,1455.5 L2754.5,1460.6 L2754.3,1466.4 L2755.2,1462.3 L2755.1,1468.4 L2755.7,1468.7 L2755.2,1466.0 L2755.7,1478.0 L2756.1,1478.4 L2756.5,1480.4 L2756.9,1481.7 L2757.9,1480.5 L2758.0,1485.2 L2757.7,1488.9 L2759.4,1498.1 L2758.4,1498.1 L2759.0,1494.9 L2759.4,1495.4 L2759.5,1500.2 L2758.1,1502.3 L2760.2,1505.3 L2760.4,1503.9 L2760.9,1503.7 L2761.1,1493.1 L2761.6,1499.1 L2761.0,1494.2 L2762.9,1494.1 L2762.6,1484.3 L2764.0,1480.9 L2764.9,1484.7 L2764.9,1482.7 L2766.7,1479.9 L2766.5,1477.8 L2767.4,1468.0 L2768.5,1468.7 L2769.5,1471.6 L2769.5,1459.9 L2770.7,1463.1 L2773.3,1461.2 L2774.0,1454.5 L2773.7,1459.7 L2771.9,1460.4 L2773.8,1466.2 L2773.9,1463.7 L2774.4,1468.9 L2773.8,1466.9 L2773.2,1476.0 L2774.4,1478.0 L2773.6,1480.6 L2775.2,1476.9 L2775.3,1480.3 L2775.6,1485.4 L2775.4,1485.4 L2775.8,1493.5 L2776.1,1498.3 L2776.0,1496.7 L2775.7,1499.2 L2775.4,1501.9 L2775.7,1502.5 L2776.5,1508.8 L2776.7,1508.0 L2776.9,1511.0 L2776.9,1514.2 L2775.8,1520.9 L2777.2,1524.3 L2778.0,1522.3 L2777.2,1523.9 L2778.4,1523.4 L2777.2,1527.3 L2777.6,1529.7 L2777.8,1535.2 L2777.4,1539.5 L2778.0,1539.5 L2777.9,1539.8 L2779.7,1534.6 L2779.0,1527.9 L2780.3,1529.4 L2779.7,1527.0 L2778.4,1522.2 L2779.4,1521.0 L2781.4,1521.2 L2780.3,1514.4 L2781.0,1512.7 L2779.9,1512.4 L2781.3,1509.4 L2780.8,1507.0 L2781.7,1499.1 L2782.7,1502.6 L2782.3,1497.8 L2781.4,1497.3 L2783.3,1493.7 L2781.8,1492.7 L2783.3,1489.5 L2783.1,1488.9 L2785.3,1488.6 L2787.3,1477.1 L2789.9,1481.2 L2791.2,1478.9 L2790.0,1486.2 L2789.6,1486.6 L2789.7,1495.6 L2790.0,1490.0 L2790.7,1492.7 L2791.1,1498.4 L2791.7,1501.4 L2791.4,1502.8 L2790.7,1504.4 L2790.9,1508.1 L2792.3,1512.5 L2792.9,1513.2 L2792.0,1518.6 L2791.4,1519.8 L2792.1,1520.0 L2793.1,1526.1 L2792.0,1524.5 L2793.3,1523.9 L2792.7,1531.3 L2792.8,1539.0 L2794.6,1538.1 L2793.0,1538.6 L2793.2,1541.0 L2793.5,1542.2 L2794.1,1547.9 L2793.8,1552.6 L2794.2,1551.6 L2794.2,1549.8 L2795.3,1558.6 L2795.0,1553.5 L2795.5,1549.7 L2794.6,1553.0 L2796.1,1547.9 L2796.3,1543.2 L2795.2,1540.5 L2796.6,1536.7 L2797.2,1537.5 L2797.2,1534.6 L2796.7,1530.6 L2797.5,1522.8 L2797.9,1529.5 L2797.9,1521.0 L2797.9,1523.9 L2798.6,1518.1 L2799.7,1517.9 L2798.4,1516.6 L2798.7,1511.3 L2798.6,1505.5 L2799.9,1505.3 L2799.6,1499.7 L2799.5,1499.1 L2800.6,1493.7 L2800.3,1496.8 L2801.2,1490.6 L2801.6,1489.5 L2801.5,1490.4 L2801.1,1482.2 L2803.1,1484.3 L2803.0,1477.4 L2803.3,1478.0 L2803.9,1477.7 L2802.9,1471.5 L2805.1,1469.0 L2805.2,1467.8 L2806.0,1465.9 L2806.0,1457.3 L2804.9,1459.1 L2805.9,1457.6 L2806.6,1451.3 L2807.4,1454.1 L2807.7,1459.0 L2809.3,1463.7 L2810.1,1463.8 L2810.8,1464.7 L2811.8,1463.0 L2812.7,1476.1 L2813.8,1470.6 L2814.3,1471.5 L2815.6,1467.7 L2814.7,1462.0 L2816.6,1466.9 L2816.2,1460.4 L2819.3,1457.0 L2818.5,1457.9 L2818.3,1452.5 L2819.1,1449.1 L2821.3,1444.1 L2822.5,1447.8 L2823.6,1442.4 L2824.3,1439.4 L2825.9,1443.6 L2826.7,1442.2 L2825.7,1447.9 L2826.7,1448.3 L2826.6,1451.0 L2827.7,1453.5 L2827.3,1460.5 L2828.5,1458.0 L2827.1,1461.5 L2828.5,1462.7 L2829.8,1465.2 L2830.1,1467.8 L2830.7,1465.7 L2831.9,1463.6 L2831.1,1463.6 L2831.8,1458.3 L2831.8,1456.1 L2831.7,1453.7 L2833.7,1452.2 L2833.6,1453.6 L2834.0,1444.5 L2834.4,1443.0 L2835.9,1442.5 L2835.0,1438.7 L2836.0,1439.2 L2836.9,1432.4 L2838.5,1432.8 L2839.5,1428.8 L2840.7,1425.6 L2841.8,1421.0 L2843.5,1418.9 L2843.1,1425.9 L2844.1,1423.9 L2844.3,1427.8 L2845.1,1429.1 L2846.5,1431.9 L2845.6,1440.0 L2847.1,1439.6 L2847.3,1441.2 L2847.5,1441.9 L2847.2,1449.1 L2848.2,1445.4 L2849.0,1445.4 L2849.2,1456.8 L2849.8,1455.8 L2851.9,1461.7 L2851.6,1462.3 L2851.6,1469.7 L2852.4,1468.7 L2852.7,1472.8 L2853.4,1473.5 L2853.6,1474.6 L2855.1,1479.6 L2856.0,1479.3 L2855.0,1480.9 L2857.0,1486.2 L2857.3,1491.2 L2858.4,1490.2 L2859.3,1495.1 L2858.9,1496.9 L2859.2,1501.5 L2858.4,1504.3 L2860.4,1505.6 L2861.8,1507.9 L2860.9,1511.5 L2861.4,1508.9 L2860.3,1512.4 L2862.4,1518.5 L2860.4,1522.5 L2863.0,1524.5 L2861.6,1525.4 L2863.3,1530.4 L2862.6,1533.8 L2865.0,1526.9 L2865.3,1524.2 L2866.9,1519.1 L2868.4,1522.0 L2869.5,1518.2 L2871.9,1515.4 L2871.0,1514.6 L2872.2,1509.6 L2874.3,1511.8 L2873.2,1512.4 L2874.1,1515.7 L2874.6,1520.5 L2875.2,1515.3 L2876.2,1520.2 L2876.9,1525.3 L2878.2,1522.3 L2878.5,1525.7 L2877.7,1526.9 L2878.5,1533.6 L2878.8,1534.8 L2878.6,1531.6 L2879.8,1544.8 L2878.9,1539.8 L2880.3,1546.6 L2880.6,1550.2 L2879.5,1549.4 L2880.4,1555.7 L2880.4,1550.4 L2881.8,1556.4 L2880.9,1559.0 L2880.8,1565.2 L2882.5,1561.1 L2883.6,1556.4 L2883.7,1559.6 L2885.1,1551.9 L2885.5,1549.9 L2885.8,1551.0 L2887.9,1549.9 L2889.0,1543.4 L2888.8,1540.7 L2888.4,1540.9 L2890.6,1534.4 L2892.6,1531.6 L2893.0,1532.8 L2892.6,1527.9 L2894.4,1518.8 L2894.6,1520.7 L2895.4,1520.6 L2894.3,1521.8 L2894.7,1518.8 L2895.0,1526.2 L2895.2,1527.3 L2897.2,1536.7 L2897.9,1539.7 L2897.4,1539.4 L2897.2,1539.5 L2896.6,1540.0 L2898.8,1547.0 L2898.5,1550.9 L2900.2,1551.1 L2899.9,1547.7 L2900.8,1548.2 L2900.6,1541.2 L2900.8,1540.7 L2902.2,1534.8 L2903.5,1537.3 L2903.5,1533.3 L2904.5,1533.2 L2904.3,1524.7 L2904.1,1521.7 L2905.2,1521.9 L2905.4,1516.8 L2905.8,1518.6 L2905.7,1513.2" fill="none" stroke="#BBBDC0" stroke-width="8.5" stroke-linejoin="round" stroke-linecap="round"/>
<path d="M2906.4,1488.2 L2907.1,1483.9 L2907.0,1483.8 L2908.0,1483.3 L2907.8,1479.6 L2908.8,1475.3 L2907.7,1467.9 L2908.9,1467.4 L2910.1,1465.2 L2910.2,1463.4 L2908.9,1460.6 L2910.2,1460.7 L2910.8,1456.8 L2910.8,1453.4 L2911.8,1449.2 L2913.3,1449.9 L2913.3,1449.5 L2912.0,1441.6 L2913.4,1442.6 L2913.3,1437.3 L2913.7,1431.5 L2914.3,1435.1 L2915.0,1437.5 L2913.8,1446.9 L2914.4,1447.7 L2914.9,1450.5 L2915.8,1450.9 L2915.3,1453.9 L2915.2,1452.5 L2915.3,1457.9 L2916.0,1460.4 L2916.6,1464.8 L2916.4,1468.5 L2917.8,1465.5 L2916.9,1472.8 L2916.7,1475.5 L2918.0,1478.4 L2917.9,1480.3 L2918.5,1484.4 L2917.7,1485.1 L2918.0,1484.9 L2919.4,1491.2 L2920.8,1493.9 L2922.5,1494.9 L2923.1,1494.0 L2925.7,1499.8 L2926.0,1496.9 L2925.9,1498.8 L2926.2,1499.5 L2926.1,1493.3 L2926.9,1487.2 L2927.7,1489.2 L2927.5,1482.3 L2928.2,1484.2 L2927.7,1473.6 L2928.2,1475.4 L2928.4,1478.1 L2928.4,1474.1 L2929.8,1463.9 L2929.6,1463.5 L2928.7,1463.8 L2929.0,1463.2 L2929.1,1458.5 L2930.2,1455.1 L2928.7,1459.2 L2930.1,1458.1 L2932.3,1465.6 L2931.2,1466.7 L2930.2,1471.5 L2931.6,1473.6 L2931.2,1477.0 L2933.1,1473.5 L2933.5,1480.7 L2933.7,1486.9 L2933.9,1488.0 L2935.4,1484.1 L2934.1,1489.4 L2936.4,1490.0 L2935.7,1489.5 L2936.9,1497.1 L2937.0,1491.2 L2937.0,1491.5 L2938.4,1485.1 L2939.1,1487.3 L2938.6,1485.4 L2939.9,1477.2 L2940.4,1477.8 L2941.0,1478.6 L2941.4,1473.0 L2942.1,1471.0 L2942.6,1471.3 L2943.5,1466.1 L2943.7,1470.6 L2944.2,1471.1 L2945.8,1478.5 L2945.1,1474.5 L2946.0,1473.8 L2947.8,1483.4 L2948.6,1486.3 L2946.7,1483.9 L2948.9,1484.0 L2949.0,1482.7 L2948.4,1475.3 L2949.6,1476.6 L2950.2,1475.2 L2948.9,1470.0 L2949.9,1469.7 L2949.6,1460.8 L2951.2,1460.6 L2951.4,1464.3 L2952.0,1461.3 L2952.4,1452.9 L2951.7,1455.5 L2953.3,1450.5 L2951.8,1448.3 L2954.0,1447.7 L2952.4,1447.5 L2954.1,1454.3 L2954.6,1458.4 L2954.7,1458.2 L2955.1,1462.1 L2955.3,1464.4 L2956.1,1463.2 L2956.4,1467.3 L2956.5,1469.5 L2957.0,1472.9 L2956.4,1472.5 L2957.6,1475.3 L2957.0,1485.2 L2958.4,1479.2 L2959.6,1485.8 L2959.9,1488.0 L2960.0,1491.5 L2959.9,1494.0 L2961.9,1497.9 L2962.3,1498.6 L2963.2,1503.1 L2961.8,1502.2 L2962.7,1505.0 L2965.3,1507.1 L2965.2,1508.8 L2964.1,1506.2 L2965.4,1504.6 L2964.5,1501.7 L2966.4,1499.9 L2966.0,1494.3 L2966.7,1497.7 L2968.3,1498.8 L2968.0,1488.8 L2967.8,1489.7 L2968.5,1484.1 L2968.5,1482.3 L2970.1,1477.6 L2970.9,1476.7 L2971.9,1472.7 L2972.1,1470.5 L2973.4,1468.9 L2973.6,1467.5 L2975.9,1467.5 L2976.3,1462.5 L2978.7,1463.1 L2981.1,1470.5 L2981.5,1471.7 L2984.1,1469.5 L2984.1,1471.2 L2986.2,1470.7 L2988.2,1464.4 L2987.8,1468.0 L2988.5,1458.2 L2989.0,1457.4 L2990.3,1455.5 L2989.6,1457.3 L2991.9,1450.7 L2990.5,1449.0 L2992.2,1444.8 L2993.1,1446.9 L2992.9,1439.5 L2993.6,1437.8 L2993.8,1438.6 L2995.1,1435.2 L2994.1,1430.9 L2995.1,1422.5 L2996.7,1420.4 L2995.6,1415.9 L2996.6,1424.8 L2999.3,1428.7 L2999.6,1430.8 L3000.3,1430.6 L3001.5,1430.8 L3003.4,1431.5 L3003.8,1437.9 L3003.7,1436.6 L3005.8,1435.0 L3006.5,1433.3 L3007.2,1430.3 L3007.9,1431.0 L3007.9,1423.6 L3010.0,1424.4 L3010.6,1421.3 L3009.2,1420.8 L3010.6,1415.3 L3010.7,1414.8 L3012.0,1407.4 L3012.7,1410.4 L3013.2,1400.2 L3013.7,1404.1 L3015.1,1401.9 L3015.3,1403.1 L3013.6,1400.2 L3015.9,1409.0 L3015.8,1413.5 L3016.1,1412.9 L3016.8,1415.1 L3016.8,1417.4 L3017.9,1423.2 L3018.1,1423.5 L3019.0,1422.6 L3018.5,1427.7 L3019.4,1427.4 L3020.9,1427.8 L3023.6,1435.6 L3025.3,1430.8 L3025.1,1434.7 L3025.3,1433.6 L3026.3,1429.9 L3026.8,1425.5 L3027.1,1423.8 L3028.7,1420.8 L3028.0,1416.8 L3029.6,1419.5 L3030.0,1414.4 L3030.7,1413.1 L3030.6,1419.6 L3031.7,1425.8 L3031.8,1425.5 L3033.7,1423.5 L3033.3,1430.0 L3034.2,1431.7 L3035.5,1436.5 L3034.3,1429.0 L3034.5,1427.7 L3035.8,1426.2 L3036.1,1424.7 L3035.4,1415.6 L3035.7,1415.0 L3035.5,1414.7 L3037.7,1411.7 L3037.2,1412.1 L3037.0,1405.7 L3038.4,1405.4 L3038.7,1403.6 L3037.6,1400.3 L3037.7,1396.1 L3038.5,1393.2 L3038.8,1389.9 L3037.6,1389.4 L3039.6,1385.7 L3040.3,1388.2 L3039.3,1385.6 L3039.4,1379.9 L3041.5,1377.6 L3043.7,1372.7 L3044.0,1369.3 L3045.5,1370.2 L3046.1,1369.8 L3047.0,1363.3 L3049.9,1361.7 L3050.1,1358.7 L3051.0,1368.4 L3051.9,1372.5 L3052.9,1373.4 L3053.6,1375.5 L3055.0,1381.0 L3055.6,1378.6 L3056.8,1382.4 L3057.8,1389.8 L3059.0,1393.7 L3061.2,1391.7 L3061.6,1394.4 L3062.4,1398.0 L3063.7,1398.5 L3063.6,1403.2 L3063.6,1403.2 L3064.3,1402.9 L3064.8,1411.4 L3066.7,1410.3 L3066.1,1416.7 L3067.0,1416.2 L3067.0,1423.3 L3066.8,1419.7 L3068.9,1426.8 L3069.4,1426.2 L3071.6,1431.7 L3071.2,1434.8 L3072.7,1439.5 L3074.0,1436.9 L3073.5,1441.8 L3074.1,1445.9 L3074.7,1451.7 L3074.8,1446.3 L3075.6,1451.2 L3076.1,1453.6 L3076.4,1459.0 L3077.4,1459.7 L3077.0,1464.5 L3079.7,1460.1 L3079.9,1460.8 L3080.9,1457.3 L3081.6,1450.6 L3083.8,1446.4 L3083.9,1455.6 L3084.1,1455.2 L3085.2,1455.1 L3085.1,1461.1 L3085.8,1458.7 L3086.4,1464.3 L3087.6,1473.1 L3086.5,1471.3 L3087.7,1467.1 L3088.8,1481.9 L3088.6,1482.8 L3090.3,1482.5 L3090.0,1488.3 L3089.3,1486.0 L3090.3,1490.4 L3091.5,1492.8 L3092.2,1500.0 L3093.3,1497.5 L3092.8,1503.3 L3094.1,1504.9 L3093.2,1507.6 L3096.4,1500.6 L3096.8,1510.4 L3096.6,1514.7 L3098.9,1511.7 L3099.1,1516.4 L3099.9,1517.8 L3100.4,1524.8 L3100.5,1523.9 L3101.9,1529.3 L3100.8,1529.0 L3100.9,1531.2 L3101.3,1531.9 L3102.3,1535.6 L3101.6,1537.7 L3101.8,1541.2 L3102.6,1541.8 L3103.5,1547.1 L3103.7,1549.3 L3103.9,1547.7 L3103.6,1556.5 L3103.8,1557.4 L3103.5,1554.6 L3103.8,1566.5 L3105.3,1561.9 L3105.4,1566.2 L3105.7,1562.9 L3105.7,1564.2 L3106.5,1559.4 L3106.7,1556.8 L3106.8,1551.6 L3106.7,1555.1 L3107.2,1550.2 L3108.4,1549.4 L3108.8,1546.7 L3109.0,1538.9 L3108.5,1539.2 L3107.5,1537.3 L3108.9,1534.5 L3109.3,1531.6 L3110.4,1528.1 L3109.7,1522.4 L3110.5,1530.6 L3111.9,1533.5 L3112.7,1535.1 L3113.3,1541.2 L3114.0,1539.3 L3114.4,1539.8 L3115.7,1534.7 L3115.7,1536.4 L3116.7,1532.7 L3117.8,1527.4 L3118.3,1523.2 L3119.3,1524.2 L3121.1,1516.0 L3120.4,1520.1 L3121.2,1521.4 L3121.9,1529.0 L3123.1,1528.7 L3124.9,1532.4 L3125.5,1533.9 L3126.3,1535.4 L3128.3,1538.7 L3128.3,1540.7 L3130.1,1542.5 L3132.2,1547.6 L3132.1,1549.6 L3131.6,1550.8 L3133.1,1555.0 L3132.9,1553.8 L3133.2,1561.3 L3132.9,1567.0 L3133.2,1563.2 L3136.1,1567.3 L3135.5,1566.0 L3136.0,1574.2 L3136.1,1576.2 L3136.6,1577.0 L3137.1,1584.4 L3138.5,1586.8 L3137.5,1583.2 L3137.9,1588.0 L3139.4,1594.9 L3138.4,1596.0 L3139.4,1595.2 L3140.6,1594.7 L3141.0,1606.5 L3141.6,1601.9 L3141.4,1607.9 L3140.7,1613.1 L3141.4,1614.6 L3141.5,1613.3 L3141.4,1618.8 L3142.1,1623.0 L3140.9,1618.2 L3142.5,1624.7 L3142.9,1629.3 L3142.1,1631.1 L3142.1,1630.9 L3142.6,1634.6 L3142.5,1638.0 L3141.9,1640.8 L3143.0,1641.4 L3143.3,1645.0 L3144.3,1638.0 L3143.7,1645.5 L3143.1,1636.5 L3142.9,1641.2 L3142.9,1635.0 L3143.1,1630.4 L3143.3,1632.3 L3144.2,1623.0 L3142.9,1623.0 L3143.8,1619.9 L3142.7,1617.4 L3143.2,1617.7 L3143.5,1611.0 L3142.5,1618.3 L3143.2,1606.3 L3144.0,1603.6 L3143.1,1606.5 L3143.7,1605.4 L3143.4,1600.4 L3142.9,1595.8 L3144.3,1594.7 L3143.4,1588.6 L3144.0,1593.5 L3143.7,1589.9 L3143.8,1581.5 L3143.9,1579.6 L3143.7,1581.7 L3143.6,1576.3 L3142.8,1571.9 L3143.6,1567.2 L3144.1,1570.3 L3143.7,1564.1 L3143.0,1561.1 L3143.8,1559.9 L3142.8,1558.3 L3143.2,1552.5 L3143.5,1553.0 L3144.0,1546.7 L3143.8,1549.7 L3144.1,1543.7 L3143.3,1542.8 L3143.8,1541.9 L3142.8,1536.8 L3143.8,1536.2 L3144.4,1528.3 L3143.7,1529.0 L3143.7,1525.7 L3143.8,1527.1 L3144.1,1523.4 L3143.7,1525.5 L3143.1,1519.1 L3144.2,1517.4 L3143.8,1514.1 L3143.5,1509.8 L3144.8,1507.8 L3145.0,1507.0 L3143.7,1503.3 L3143.6,1500.7 L3144.9,1494.8 L3144.7,1490.2 L3143.7,1494.2 L3144.0,1494.5 L3143.8,1484.3 L3144.5,1481.1 L3143.9,1481.1 L3143.6,1479.5 L3144.3,1476.7 L3144.6,1472.8 L3144.3,1468.0 L3143.6,1471.0 L3143.8,1469.0 L3145.4,1466.0 L3144.2,1461.4 L3145.3,1456.7 L3144.0,1461.0 L3145.0,1456.2 L3144.4,1450.8 L3144.3,1448.2 L3144.3,1452.8 L3143.7,1459.9 L3143.8,1455.7 L3144.8,1459.8 L3144.6,1461.3 L3145.2,1463.0 L3145.2,1466.3 L3145.5,1472.6 L3145.5,1478.1 L3144.9,1474.0 L3145.0,1474.3 L3145.1,1479.2 L3145.9,1476.8 L3145.3,1483.8 L3145.2,1493.3 L3144.2,1490.2 L3144.5,1493.2 L3144.1,1495.7 L3145.6,1495.9 L3145.8,1502.4 L3145.2,1506.6 L3145.3,1505.8 L3145.6,1507.4 L3144.3,1511.6 L3145.5,1509.8 L3147.1,1513.9 L3145.6,1521.6 L3146.8,1520.3 L3145.9,1523.5 L3145.1,1525.9 L3145.0,1530.4 L3146.7,1528.3 L3145.8,1531.4 L3146.7,1534.3 L3145.6,1539.1 L3146.6,1539.4 L3145.7,1539.9 L3145.7,1550.2 L3146.5,1544.7 L3146.3,1547.2 L3147.1,1553.1 L3145.8,1558.5 L3145.8,1557.6 L3146.4,1563.2 L3146.5,1566.2 L3144.9,1562.3 L3145.3,1567.0 L3146.3,1567.9 L3146.6,1568.4 L3146.2,1573.9 L3146.2,1579.2 L3146.8,1586.6 L3147.1,1581.9 L3146.8,1586.2 L3147.0,1585.9 L3146.6,1594.7 L3146.4,1591.3 L3148.1,1595.4 L3146.8,1600.5 L3148.3,1598.6 L3147.2,1601.6 L3148.7,1602.1 L3147.2,1609.4 L3147.6,1612.3 L3148.5,1611.4 L3149.1,1615.3 L3149.4,1621.3 L3149.8,1620.5 L3149.5,1624.6 L3149.5,1623.1 L3150.1,1631.9 L3148.4,1633.1 L3149.9,1632.0 L3150.1,1633.5 L3149.1,1639.3 L3149.8,1632.0 L3150.7,1636.0 L3151.2,1632.7 L3151.8,1628.3 L3152.3,1629.4 L3153.6,1625.7 L3153.8,1626.6 L3153.6,1617.8 L3155.0,1616.1 L3157.4,1617.1 L3160.1,1622.1 L3160.4,1620.8 L3160.9,1626.2 L3161.0,1626.3 L3161.9,1628.1 L3161.9,1634.3 L3162.2,1638.2 L3162.9,1638.4 L3164.0,1640.8 L3163.5,1640.1 L3163.3,1647.0 L3163.4,1646.4 L3164.5,1649.3 L3164.1,1654.8 L3164.8,1652.7 L3166.0,1659.2 L3165.1,1661.6 L3166.4,1663.0 L3165.4,1658.9 L3166.5,1667.8 L3166.8,1670.9 L3166.6,1672.0 L3168.1,1672.4 L3167.3,1675.7 L3168.4,1685.0 L3167.9,1684.5 L3167.9,1682.2 L3169.9,1686.0 L3170.2,1687.7 L3169.4,1692.6 L3170.1,1693.4 L3169.3,1696.0 L3171.2,1696.2 L3169.5,1702.8 L3169.8,1705.7 L3170.8,1709.0 L3171.2,1708.2 L3171.4,1713.7 L3171.3,1714.3 L3171.1,1717.6 L3172.8,1723.8 L3171.5,1721.1 L3171.8,1728.0 L3172.5,1733.5 L3173.4,1730.4 L3174.3,1724.2 L3176.4,1719.8 L3178.3,1718.1 L3179.0,1714.5 L3179.1,1712.4 L3180.6,1713.4 L3182.5,1710.8 L3183.1,1703.8 L3183.3,1710.5 L3183.9,1703.5 L3185.1,1697.9 L3186.9,1693.5 L3186.7,1692.3 L3187.1,1690.3 L3189.3,1689.1 L3190.3,1686.4 L3190.3,1682.5 L3190.8,1683.8 L3191.5,1692.0 L3192.7,1691.2 L3191.9,1693.6 L3193.2,1695.8 L3193.5,1704.9 L3194.8,1700.5 L3194.8,1699.1 L3196.6,1708.1 L3197.0,1709.3 L3196.6,1711.6 L3197.5,1715.4 L3198.9,1715.2 L3199.9,1714.2 L3200.1,1726.0 L3200.5,1724.8 L3201.7,1724.2 L3202.7,1732.8 L3204.1,1724.5 L3205.4,1725.4 L3208.6,1724.3 L3209.9,1722.7 L3210.1,1722.5 L3209.9,1716.5 L3210.2,1712.8 L3208.7,1711.5 L3211.0,1708.4 L3209.4,1708.2 L3209.0,1704.4 L3209.0,1702.8 L3210.7,1698.2 L3210.8,1692.3 L3209.6,1695.5 L3210.1,1690.7 L3209.9,1691.3 L3210.3,1688.6 L3211.1,1679.2 L3210.1,1677.6 L3209.7,1674.0 L3210.3,1675.5 L3211.0,1671.2 L3211.4,1668.1 L3211.0,1666.0 L3210.1,1665.4 L3211.8,1664.6 L3210.8,1663.6 L3211.3,1658.2 L3211.1,1653.7 L3213.1,1653.4 L3214.4,1649.9 L3216.6,1649.1 L3217.6,1645.5 L3219.3,1649.8 L3219.7,1652.6 L3220.1,1655.9 L3220.1,1658.5 L3221.3,1666.9 L3221.7,1663.8 L3222.4,1669.4 L3222.3,1671.7 L3221.7,1670.9 L3224.1,1672.7 L3222.2,1674.1 L3222.9,1685.2 L3224.8,1687.2 L3225.6,1690.0 L3224.7,1683.7 L3225.3,1689.9 L3224.9,1690.6 L3225.0,1692.1 L3226.3,1702.7 L3225.5,1697.7 L3226.3,1697.7 L3226.7,1698.5 L3228.0,1694.2 L3229.0,1693.5 L3229.2,1689.7 L3229.6,1680.9 L3230.3,1685.5 L3233.1,1683.7 L3234.5,1676.4 L3235.6,1681.2 L3235.2,1683.0 L3235.6,1685.8 L3235.4,1691.0 L3236.1,1693.2 L3236.7,1695.2 L3236.8,1696.0 L3237.6,1703.1 L3237.6,1707.2 L3238.2,1708.9 L3237.7,1708.7 L3238.6,1707.1 L3238.3,1715.6 L3240.8,1709.7 L3239.6,1722.7 L3240.4,1720.3 L3238.9,1724.5 L3241.5,1730.4 L3240.0,1730.5 L3241.4,1729.2 L3240.6,1732.9 L3242.3,1734.7 L3241.9,1739.6 L3242.8,1748.0 L3242.8,1747.9 L3244.3,1742.0 L3244.4,1746.1 L3245.0,1745.8 L3245.0,1739.4 L3244.9,1737.3 L3245.4,1736.8 L3246.5,1735.3 L3246.9,1729.6 L3248.0,1728.5 L3247.0,1727.4 L3248.3,1719.4 L3248.7,1716.9 L3249.5,1714.0 L3249.3,1712.5 L3250.9,1711.2 L3250.9,1709.5 L3251.5,1704.9 L3252.1,1704.8 L3250.8,1698.8 L3252.5,1701.4 L3253.2,1689.7 L3253.6,1693.1 L3253.9,1690.0 L3255.0,1694.7 L3254.2,1692.5 L3256.0,1694.0 L3257.7,1699.1 L3257.2,1706.3 L3257.4,1704.0 L3258.4,1706.5 L3258.9,1712.6 L3259.1,1714.0 L3258.6,1714.1 L3258.2,1714.8 L3259.2,1723.8 L3260.4,1720.3 L3260.3,1725.9 L3260.6,1727.8 L3260.5,1735.9 L3260.6,1732.2 L3262.0,1738.5 L3261.7,1744.9 L3262.3,1741.2 L3262.6,1743.9 L3262.2,1744.7 L3261.9,1740.8 L3262.7,1735.4 L3263.2,1731.8 L3263.8,1729.6 L3263.6,1728.8 L3264.0,1731.2 L3263.5,1723.8 L3265.0,1728.8 L3264.8,1721.8 L3265.4,1714.7 L3265.6,1717.1 L3265.9,1711.0 L3265.9,1706.0 L3265.5,1704.2 L3267.9,1707.5 L3268.5,1710.3 L3269.4,1712.5 L3268.7,1718.2 L3270.7,1718.6 L3271.1,1721.2 L3270.7,1722.8 L3272.3,1719.1 L3272.0,1715.4 L3271.7,1710.8 L3272.1,1711.1 L3272.5,1709.0 L3271.5,1701.6 L3272.1,1703.0 L3271.5,1700.2 L3271.6,1698.3 L3271.8,1694.3 L3272.8,1691.7 L3273.0,1689.6 L3272.1,1685.7 L3273.1,1684.8 L3272.5,1685.0 L3273.9,1676.9 L3273.7,1675.4 L3273.2,1672.3 L3274.8,1672.2 L3274.6,1668.7 L3273.6,1668.5 L3275.0,1670.5 L3274.1,1662.6 L3273.7,1658.5 L3275.6,1659.1 L3275.0,1651.1 L3275.6,1657.7 L3275.2,1650.0 L3275.7,1645.5 L3277.0,1642.0 L3277.1,1641.2 L3277.3,1639.4 L3276.8,1637.4 L3279.3,1633.8 L3277.7,1633.2 L3278.7,1627.9 L3279.3,1629.4 L3279.2,1627.4 L3280.0,1629.9 L3279.8,1636.0 L3280.1,1638.0 L3280.3,1643.0 L3280.5,1642.3 L3280.3,1646.1 L3279.6,1643.7 L3281.8,1648.6 L3281.3,1655.7 L3280.7,1656.5 L3280.7,1655.8 L3282.2,1659.1 L3281.0,1660.7 L3282.2,1666.9 L3282.6,1661.0 L3281.2,1668.0 L3282.8,1669.6 L3281.5,1665.4 L3281.5,1679.7 L3283.6,1679.5 L3282.8,1681.7 L3283.5,1686.4 L3283.6,1685.4 L3283.9,1694.9 L3284.0,1694.7 L3283.5,1694.2 L3285.1,1697.6 L3283.9,1698.5 L3284.6,1706.5 L3283.8,1700.1 L3284.1,1708.6 L3284.2,1709.6 L3285.5,1715.3 L3284.3,1716.2 L3285.0,1718.9 L3285.3,1721.8 L3284.8,1724.1 L3284.5,1719.1 L3285.0,1716.6 L3286.0,1718.3 L3285.5,1716.1 L3285.7,1709.8 L3285.3,1706.6 L3287.6,1706.0 L3286.7,1704.2 L3285.4,1698.4 L3286.7,1694.1 L3287.3,1694.2 L3286.3,1690.5 L3287.6,1690.6 L3287.7,1682.5 L3287.9,1684.3 L3287.5,1685.4 L3286.6,1678.5 L3287.9,1678.1 L3288.0,1670.6 L3287.9,1671.8 L3288.3,1665.6 L3287.7,1666.3 L3289.1,1664.2 L3287.3,1658.6 L3288.1,1651.9 L3288.2,1659.3 L3288.8,1648.8 L3288.2,1654.0 L3287.9,1647.2 L3288.1,1643.6 L3288.4,1635.7 L3289.6,1641.8 L3289.0,1639.1 L3289.2,1634.9 L3289.5,1634.9 L3289.9,1630.4 L3290.6,1627.9 L3288.9,1629.0 L3289.5,1620.2 L3290.0,1620.5 L3290.0,1614.2 L3290.0,1616.3 L3291.3,1613.7 L3291.1,1613.6 L3291.1,1609.4 L3291.1,1606.3 L3290.1,1598.3 L3290.4,1601.0 L3291.7,1596.4 L3290.8,1598.0 L3291.8,1592.4 L3291.2,1584.6 L3292.1,1587.7 L3291.4,1584.3 L3291.4,1582.8 L3291.7,1578.4 L3292.3,1573.0 L3292.0,1572.3 L3290.5,1563.4 L3292.8,1574.0 L3292.6,1569.1 L3293.0,1563.6 L3292.5,1565.1 L3292.8,1560.2 L3291.6,1556.0 L3293.5,1551.4 L3292.7,1551.5 L3293.5,1545.4 L3293.4,1547.2 L3292.8,1545.1 L3292.6,1542.9 L3294.4,1541.3 L3292.8,1535.5 L3294.1,1533.2 L3294.0,1533.5 L3294.6,1527.6 L3294.2,1524.1 L3293.9,1521.9 L3294.8,1520.3 L3294.4,1516.9 L3296.0,1514.2 L3295.8,1510.2 L3295.7,1510.4 L3295.9,1509.5 L3295.7,1504.0 L3296.9,1505.1 L3295.7,1500.9 L3296.7,1497.3 L3297.2,1494.5 L3297.6,1491.8 L3298.0,1491.3 L3296.5,1488.7 L3297.8,1479.9 L3297.1,1480.1 L3298.6,1480.8 L3298.3,1473.8 L3298.6,1475.0 L3298.8,1473.8 L3298.9,1468.8 L3299.0,1460.3 L3299.6,1466.4 L3299.4,1460.1 L3299.6,1458.7 L3299.7,1459.9 L3300.1,1454.8 L3300.0,1452.6 L3300.1,1448.9 L3300.6,1446.1 L3300.5,1445.9 L3300.5,1442.8 L3301.6,1441.0 L3301.0,1436.2 L3300.6,1435.1 L3301.4,1435.4 L3300.9,1432.9 L3301.5,1427.8 L3302.3,1426.9 L3302.2,1420.6 L3302.1,1419.4 L3303.0,1415.2 L3303.2,1415.3 L3302.3,1412.7 L3303.1,1407.1 L3303.7,1412.0 L3303.7,1413.9 L3302.8,1419.3 L3303.7,1420.1 L3302.6,1425.1 L3304.1,1421.3 L3302.8,1427.0 L3304.2,1430.5 L3303.2,1433.3 L3304.4,1436.5 L3304.1,1436.0 L3303.9,1442.5 L3304.7,1443.0 L3304.9,1447.1 L3305.0,1450.3 L3304.1,1453.2 L3305.5,1451.5 L3305.6,1453.7 L3305.5,1456.9 L3303.8,1462.5 L3304.8,1465.1 L3305.6,1469.9 L3304.0,1465.9 L3305.1,1471.8 L3305.6,1470.3 L3305.9,1468.9 L3306.9,1469.7 L3307.9,1459.8 L3305.9,1459.3 L3307.5,1459.4 L3308.2,1458.9 L3307.5,1453.8 L3309.2,1450.4 L3307.7,1447.8 L3308.9,1448.3 L3309.3,1441.4 L3309.3,1440.1 L3309.5,1436.0 L3309.0,1441.6 L3309.6,1439.4 L3309.9,1445.7 L3309.9,1451.7 L3310.8,1455.5 L3310.7,1457.7 L3309.3,1456.2 L3310.2,1460.2 L3311.1,1464.2 L3310.9,1466.3 L3309.6,1471.1 L3310.9,1470.2 L3310.0,1468.8 L3311.3,1477.6 L3310.1,1473.8 L3311.2,1478.8 L3312.0,1484.4 L3311.4,1479.1 L3312.4,1487.5 L3310.8,1491.6 L3311.4,1494.8 L3312.8,1493.0 L3312.5,1496.1 L3312.1,1502.3 L3313.2,1503.7 L3312.4,1505.2 L3312.0,1507.1 L3311.3,1506.6 L3312.1,1515.2 L3312.6,1519.8 L3311.8,1517.5 L3312.7,1524.3 L3312.3,1525.1 L3313.7,1529.2 L3312.9,1528.6 L3313.8,1530.9 L3313.7,1534.2 L3314.0,1537.6 L3313.9,1533.2 L3314.1,1531.1 L3315.8,1530.0 L3314.2,1525.7 L3313.1,1523.8 L3314.7,1522.4 L3314.5,1521.8 L3315.1,1514.7 L3314.4,1516.7 L3314.9,1509.8 L3314.6,1507.0 L3315.9,1507.5 L3315.7,1505.6 L3316.5,1503.2 L3314.9,1498.5 L3316.0,1500.5 L3317.4,1494.5 L3316.0,1493.6 L3316.7,1487.0 L3317.6,1486.5 L3317.1,1481.5 L3316.8,1485.4 L3317.0,1474.6 L3318.5,1474.8 L3317.7,1473.4 L3319.3,1467.5 L3318.3,1469.0 L3318.5,1466.7 L3318.7,1469.5 L3318.9,1464.1 L3318.8,1456.4 L3318.8,1451.6 L3320.5,1449.7 L3320.2,1449.6 L3319.3,1446.7 L3319.3,1443.4 L3319.7,1443.8 L3318.6,1436.6 L3320.2,1441.5 L3320.5,1432.7 L3321.5,1431.3 L3320.5,1430.6 L3320.3,1433.2 L3320.7,1426.6 L3320.6,1421.7 L3321.0,1420.6 L3321.3,1415.9 L3321.8,1417.8 L3321.4,1412.1 L3321.9,1410.7 L3321.5,1409.3 L3320.4,1406.2 L3321.6,1399.9 L3321.9,1397.8 L3320.0,1399.8 L3321.6,1397.2 L3320.9,1396.2 L3321.8,1392.9 L3321.3,1387.1 L3321.0,1383.7 L3321.0,1387.0 L3320.8,1383.1 L3321.1,1380.4 L3322.3,1370.8 L3320.7,1371.7 L3320.9,1368.8 L3321.3,1366.6 L3321.2,1364.9 L3321.3,1356.0 L3322.2,1359.5 L3321.7,1361.5 L3320.7,1355.3 L3321.5,1353.3 L3320.6,1348.0 L3322.5,1345.5 L3321.6,1341.3 L3321.9,1342.6 L3322.3,1344.3 L3322.0,1338.5 L3321.4,1333.7 L3322.0,1332.0 L3323.2,1328.7 L3322.9,1328.1 L3322.9,1324.9 L3322.3,1323.6 L3322.9,1316.7 L3321.8,1321.4 L3323.1,1315.2 L3323.7,1310.5 L3322.7,1310.0 L3323.5,1310.1 L3323.3,1302.5 L3322.7,1299.3 L3322.6,1292.1 L3323.7,1295.6 L3324.7,1291.4 L3324.3,1290.0 L3323.5,1286.9 L3324.1,1284.3 L3324.4,1283.5 L3323.7,1278.9 L3326.4,1274.9 L3328.4,1272.2 L3329.6,1271.4 L3333.3,1268.3 L3334.3,1272.4 L3335.5,1269.3 L3336.1,1277.9 L3336.4,1281.9 L3337.4,1283.2 L3339.4,1288.9 L3338.9,1290.2 L3340.4,1297.4 L3341.7,1291.6 L3341.6,1296.6 L3341.7,1294.1 L3342.0,1298.6 L3342.2,1305.6 L3342.9,1304.8 L3342.5,1303.9 L3343.3,1312.4 L3343.4,1312.2 L3342.4,1316.7 L3344.1,1321.9 L3344.0,1323.5 L3343.3,1327.1 L3345.5,1324.7 L3345.9,1325.3 L3349.1,1322.2 L3349.3,1323.8 L3353.4,1319.7 L3353.5,1315.2 L3352.7,1310.9 L3353.9,1309.5 L3354.2,1309.5 L3353.7,1305.5 L3353.9,1298.6 L3354.6,1300.7 L3355.0,1295.7 L3354.6,1293.7 L3354.8,1293.6 L3355.5,1287.5 L3355.4,1292.6 L3356.6,1286.9 L3356.1,1281.8 L3356.1,1284.2 L3355.6,1285.0 L3356.2,1294.2 L3356.2,1289.3 L3357.1,1295.8 L3356.8,1298.2 L3356.5,1304.3 L3358.1,1302.6 L3357.5,1306.5 L3357.6,1309.6 L3356.4,1309.8 L3358.1,1315.0 L3356.7,1318.7 L3358.4,1316.7 L3358.2,1323.6 L3357.6,1326.1 L3359.2,1332.3 L3359.6,1328.6 L3359.6,1329.1 L3359.3,1336.8 L3358.5,1337.5 L3358.9,1339.0 L3360.3,1343.5 L3360.8,1341.9 L3362.2,1341.1 L3363.0,1334.3 L3364.7,1331.3 L3366.3,1330.7 L3368.1,1328.2 L3369.1,1324.6 L3370.6,1324.3 L3370.1,1317.6 L3369.6,1318.0 L3370.9,1317.1 L3371.0,1313.9 L3371.2,1309.0 L3371.5,1306.9 L3372.4,1308.4 L3372.3,1302.9 L3373.3,1295.1" fill="none" stroke="#BBBDC0" stroke-width="8.5" stroke-linejoin="round" stroke-linecap="round"/>
<path d="M1921.0,979.3 V1801.0 H3372.7 V979.3" fill="none" stroke="#000" stroke-width="3"/>
<line x1="1906.5" y1="980.5" x2="1921.0" y2="980.5" stroke="#000" stroke-width="3"/>
<text x="1882.5" y="994.1" font-size="41.3" text-anchor="end" stroke="#fff" stroke-width="0.8">2500</text>
<line x1="1906.5" y1="1144.6" x2="1921.0" y2="1144.6" stroke="#000" stroke-width="3"/>
<text x="1882.5" y="1158.2" font-size="41.3" text-anchor="end" stroke="#fff" stroke-width="0.8">2000</text>
<line x1="1906.5" y1="1308.7" x2="1921.0" y2="1308.7" stroke="#000" stroke-width="3"/>
<text x="1882.5" y="1322.3" font-size="41.3" text-anchor="end" stroke="#fff" stroke-width="0.8">1500</text>
<line x1="1906.5" y1="1472.8" x2="1921.0" y2="1472.8" stroke="#000" stroke-width="3"/>
<text x="1882.5" y="1486.4" font-size="41.3" text-anchor="end" stroke="#fff" stroke-width="0.8">1000</text>
<line x1="1906.5" y1="1636.9" x2="1921.0" y2="1636.9" stroke="#000" stroke-width="3"/>
<text x="1882.5" y="1650.5" font-size="41.3" text-anchor="end" stroke="#fff" stroke-width="0.8">500</text>
<line x1="1906.5" y1="1801.0" x2="1921.0" y2="1801.0" stroke="#000" stroke-width="3"/>
<text x="1882.5" y="1814.6" font-size="41.3" text-anchor="end" stroke="#fff" stroke-width="0.8">0</text>
<line x1="3372.7" y1="980.5" x2="3385.7" y2="980.5" stroke="#000" stroke-width="3"/>
<text x="3410.5" y="994.1" font-size="41.3" stroke="#fff" stroke-width="0.8">3.5</text>
<line x1="3372.7" y1="1062.5" x2="3385.7" y2="1062.5" stroke="#000" stroke-width="3"/>
<text x="3410.5" y="1076.1" font-size="41.3" stroke="#fff" stroke-width="0.8">3.0</text>
<line x1="3372.7" y1="1144.6" x2="3385.7" y2="1144.6" stroke="#000" stroke-width="3"/>
<text x="3410.5" y="1158.2" font-size="41.3" stroke="#fff" stroke-width="0.8">2.5</text>
<line x1="3372.7" y1="1226.7" x2="3385.7" y2="1226.7" stroke="#000" stroke-width="3"/>
<text x="3410.5" y="1240.2" font-size="41.3" stroke="#fff" stroke-width="0.8">2.0</text>
<line x1="3372.7" y1="1308.7" x2="3385.7" y2="1308.7" stroke="#000" stroke-width="3"/>
<text x="3410.5" y="1322.3" font-size="41.3" stroke="#fff" stroke-width="0.8">1.5</text>
<line x1="3372.7" y1="1390.8" x2="3385.7" y2="1390.8" stroke="#000" stroke-width="3"/>
<text x="3410.5" y="1404.3" font-size="41.3" stroke="#fff" stroke-width="0.8">1.0</text>
<line x1="3372.7" y1="1472.8" x2="3385.7" y2="1472.8" stroke="#000" stroke-width="3"/>
<text x="3410.5" y="1486.4" font-size="41.3" stroke="#fff" stroke-width="0.8">0.5</text>
<line x1="3372.7" y1="1554.8" x2="3385.7" y2="1554.8" stroke="#000" stroke-width="3"/>
<text x="3410.5" y="1568.4" font-size="41.3" stroke="#fff" stroke-width="0.8">0.0</text>
<line x1="3372.7" y1="1636.9" x2="3385.7" y2="1636.9" stroke="#000" stroke-width="3"/>
<text x="3410.5" y="1650.5" font-size="41.3" stroke="#fff" stroke-width="0.8">-0.5</text>
<line x1="3372.7" y1="1719.0" x2="3385.7" y2="1719.0" stroke="#000" stroke-width="3"/>
<text x="3410.5" y="1732.5" font-size="41.3" stroke="#fff" stroke-width="0.8">-1.0</text>
<line x1="3372.7" y1="1801.0" x2="3385.7" y2="1801.0" stroke="#000" stroke-width="3"/>
<text x="3410.5" y="1814.6" font-size="41.3" stroke="#fff" stroke-width="0.8">-1.5</text>
<line x1="1921.0" y1="1801.0" x2="1921.0" y2="1813.5" stroke="#000" stroke-width="3"/>
<text transform="translate(1937.2,1918) rotate(-90)" font-size="45.5" textLength="91" lengthAdjust="spacingAndGlyphs" stroke="#fff" stroke-width="0.8">2003</text>
<line x1="1992.1" y1="1801.0" x2="1992.1" y2="1813.5" stroke="#000" stroke-width="3"/>
<text transform="translate(2008.3,1918) rotate(-90)" font-size="45.5" textLength="91" lengthAdjust="spacingAndGlyphs" stroke="#fff" stroke-width="0.8">2004</text>
<line x1="2063.2" y1="1801.0" x2="2063.2" y2="1813.5" stroke="#000" stroke-width="3"/>
<text transform="translate(2079.4,1918) rotate(-90)" font-size="45.5" textLength="91" lengthAdjust="spacingAndGlyphs" stroke="#fff" stroke-width="0.8">2005</text>
<line x1="2134.3" y1="1801.0" x2="2134.3" y2="1813.5" stroke="#000" stroke-width="3"/>
<text transform="translate(2150.5,1918) rotate(-90)" font-size="45.5" textLength="91" lengthAdjust="spacingAndGlyphs" stroke="#fff" stroke-width="0.8">2006</text>
<line x1="2205.4" y1="1801.0" x2="2205.4" y2="1813.5" stroke="#000" stroke-width="3"/>
<text transform="translate(2221.6,1918) rotate(-90)" font-size="45.5" textLength="91" lengthAdjust="spacingAndGlyphs" stroke="#fff" stroke-width="0.8">2007</text>
<line x1="2276.5" y1="1801.0" x2="2276.5" y2="1813.5" stroke="#000" stroke-width="3"/>
<text transform="translate(2292.7,1918) rotate(-90)" font-size="45.5" textLength="91" lengthAdjust="spacingAndGlyphs" stroke="#fff" stroke-width="0.8">2008</text>
<line x1="2347.6" y1="1801.0" x2="2347.6" y2="1813.5" stroke="#000" stroke-width="3"/>
<text transform="translate(2363.8,1918) rotate(-90)" font-size="45.5" textLength="91" lengthAdjust="spacingAndGlyphs" stroke="#fff" stroke-width="0.8">2009</text>
<line x1="2418.7" y1="1801.0" x2="2418.7" y2="1813.5" stroke="#000" stroke-width="3"/>
<text transform="translate(2434.9,1918) rotate(-90)" font-size="45.5" textLength="91" lengthAdjust="spacingAndGlyphs" stroke="#fff" stroke-width="0.8">2010</text>
<line x1="2489.8" y1="1801.0" x2="2489.8" y2="1813.5" stroke="#000" stroke-width="3"/>
<text transform="translate(2506.0,1918) rotate(-90)" font-size="45.5" textLength="91" lengthAdjust="spacingAndGlyphs" stroke="#fff" stroke-width="0.8">2011</text>
<line x1="2560.9" y1="1801.0" x2="2560.9" y2="1813.5" stroke="#000" stroke-width="3"/>
<text transform="translate(2577.1,1918) rotate(-90)" font-size="45.5" textLength="91" lengthAdjust="spacingAndGlyphs" stroke="#fff" stroke-width="0.8">2012</text>
<line x1="2632.0" y1="1801.0" x2="2632.0" y2="1813.5" stroke="#000" stroke-width="3"/>
<text transform="translate(2648.2,1918) rotate(-90)" font-size="45.5" textLength="91" lengthAdjust="spacingAndGlyphs" stroke="#fff" stroke-width="0.8">2013</text>
<line x1="2703.1" y1="1801.0" x2="2703.1" y2="1813.5" stroke="#000" stroke-width="3"/>
<text transform="translate(2719.3,1918) rotate(-90)" font-size="45.5" textLength="91" lengthAdjust="spacingAndGlyphs" stroke="#fff" stroke-width="0.8">2014</text>
<line x1="2774.2" y1="1801.0" x2="2774.2" y2="1813.5" stroke="#000" stroke-width="3"/>
<text transform="translate(2790.4,1918) rotate(-90)" font-size="45.5" textLength="91" lengthAdjust="spacingAndGlyphs" stroke="#fff" stroke-width="0.8">2015</text>
<line x1="2845.3" y1="1801.0" x2="2845.3" y2="1813.5" stroke="#000" stroke-width="3"/>
<text transform="translate(2861.5,1918) rotate(-90)" font-size="45.5" textLength="91" lengthAdjust="spacingAndGlyphs" stroke="#fff" stroke-width="0.8">2016</text>
<line x1="2916.4" y1="1801.0" x2="2916.4" y2="1813.5" stroke="#000" stroke-width="3"/>
<text transform="translate(2932.6,1918) rotate(-90)" font-size="45.5" textLength="91" lengthAdjust="spacingAndGlyphs" stroke="#fff" stroke-width="0.8">2017</text>
<line x1="2987.5" y1="1801.0" x2="2987.5" y2="1813.5" stroke="#000" stroke-width="3"/>
<text transform="translate(3003.7,1918) rotate(-90)" font-size="45.5" textLength="91" lengthAdjust="spacingAndGlyphs" stroke="#fff" stroke-width="0.8">2018</text>
<line x1="3058.6" y1="1801.0" x2="3058.6" y2="1813.5" stroke="#000" stroke-width="3"/>
<text transform="translate(3074.8,1918) rotate(-90)" font-size="45.5" textLength="91" lengthAdjust="spacingAndGlyphs" stroke="#fff" stroke-width="0.8">2019</text>
<line x1="3129.7" y1="1801.0" x2="3129.7" y2="1813.5" stroke="#000" stroke-width="3"/>
<text transform="translate(3145.9,1918) rotate(-90)" font-size="45.5" textLength="91" lengthAdjust="spacingAndGlyphs" stroke="#fff" stroke-width="0.8">2020</text>
<line x1="3200.8" y1="1801.0" x2="3200.8" y2="1813.5" stroke="#000" stroke-width="3"/>
<text transform="translate(3217.0,1918) rotate(-90)" font-size="45.5" textLength="91" lengthAdjust="spacingAndGlyphs" stroke="#fff" stroke-width="0.8">2021</text>
<line x1="3271.9" y1="1801.0" x2="3271.9" y2="1813.5" stroke="#000" stroke-width="3"/>
<text transform="translate(3288.1,1918) rotate(-90)" font-size="45.5" textLength="91" lengthAdjust="spacingAndGlyphs" stroke="#fff" stroke-width="0.8">2022</text>
<line x1="3343.0" y1="1801.0" x2="3343.0" y2="1813.5" stroke="#000" stroke-width="3"/>
<text transform="translate(3359.2,1918) rotate(-90)" font-size="45.5" textLength="91" lengthAdjust="spacingAndGlyphs" stroke="#fff" stroke-width="0.8">2023</text>
<line x1="2140" y1="1985.8" x2="2228" y2="1985.8" stroke="#C9A15E" stroke-width="10" stroke-linecap="round"/>
<text x="2237.5" y="2000" font-size="43" textLength="304" lengthAdjust="spacingAndGlyphs" stroke="#fff" stroke-width="0.8">Gold price, LHS</text>
<line x1="2617.7" y1="1985.6" x2="2705.7" y2="1985.6" stroke="#BBBDC0" stroke-width="10" stroke-linecap="round"/>
<text x="2716.5" y="2000" font-size="43" textLength="432" lengthAdjust="spacingAndGlyphs" stroke="#fff" stroke-width="0.8">10-year TIPS yield, RHS</text>
</svg></body></html>
